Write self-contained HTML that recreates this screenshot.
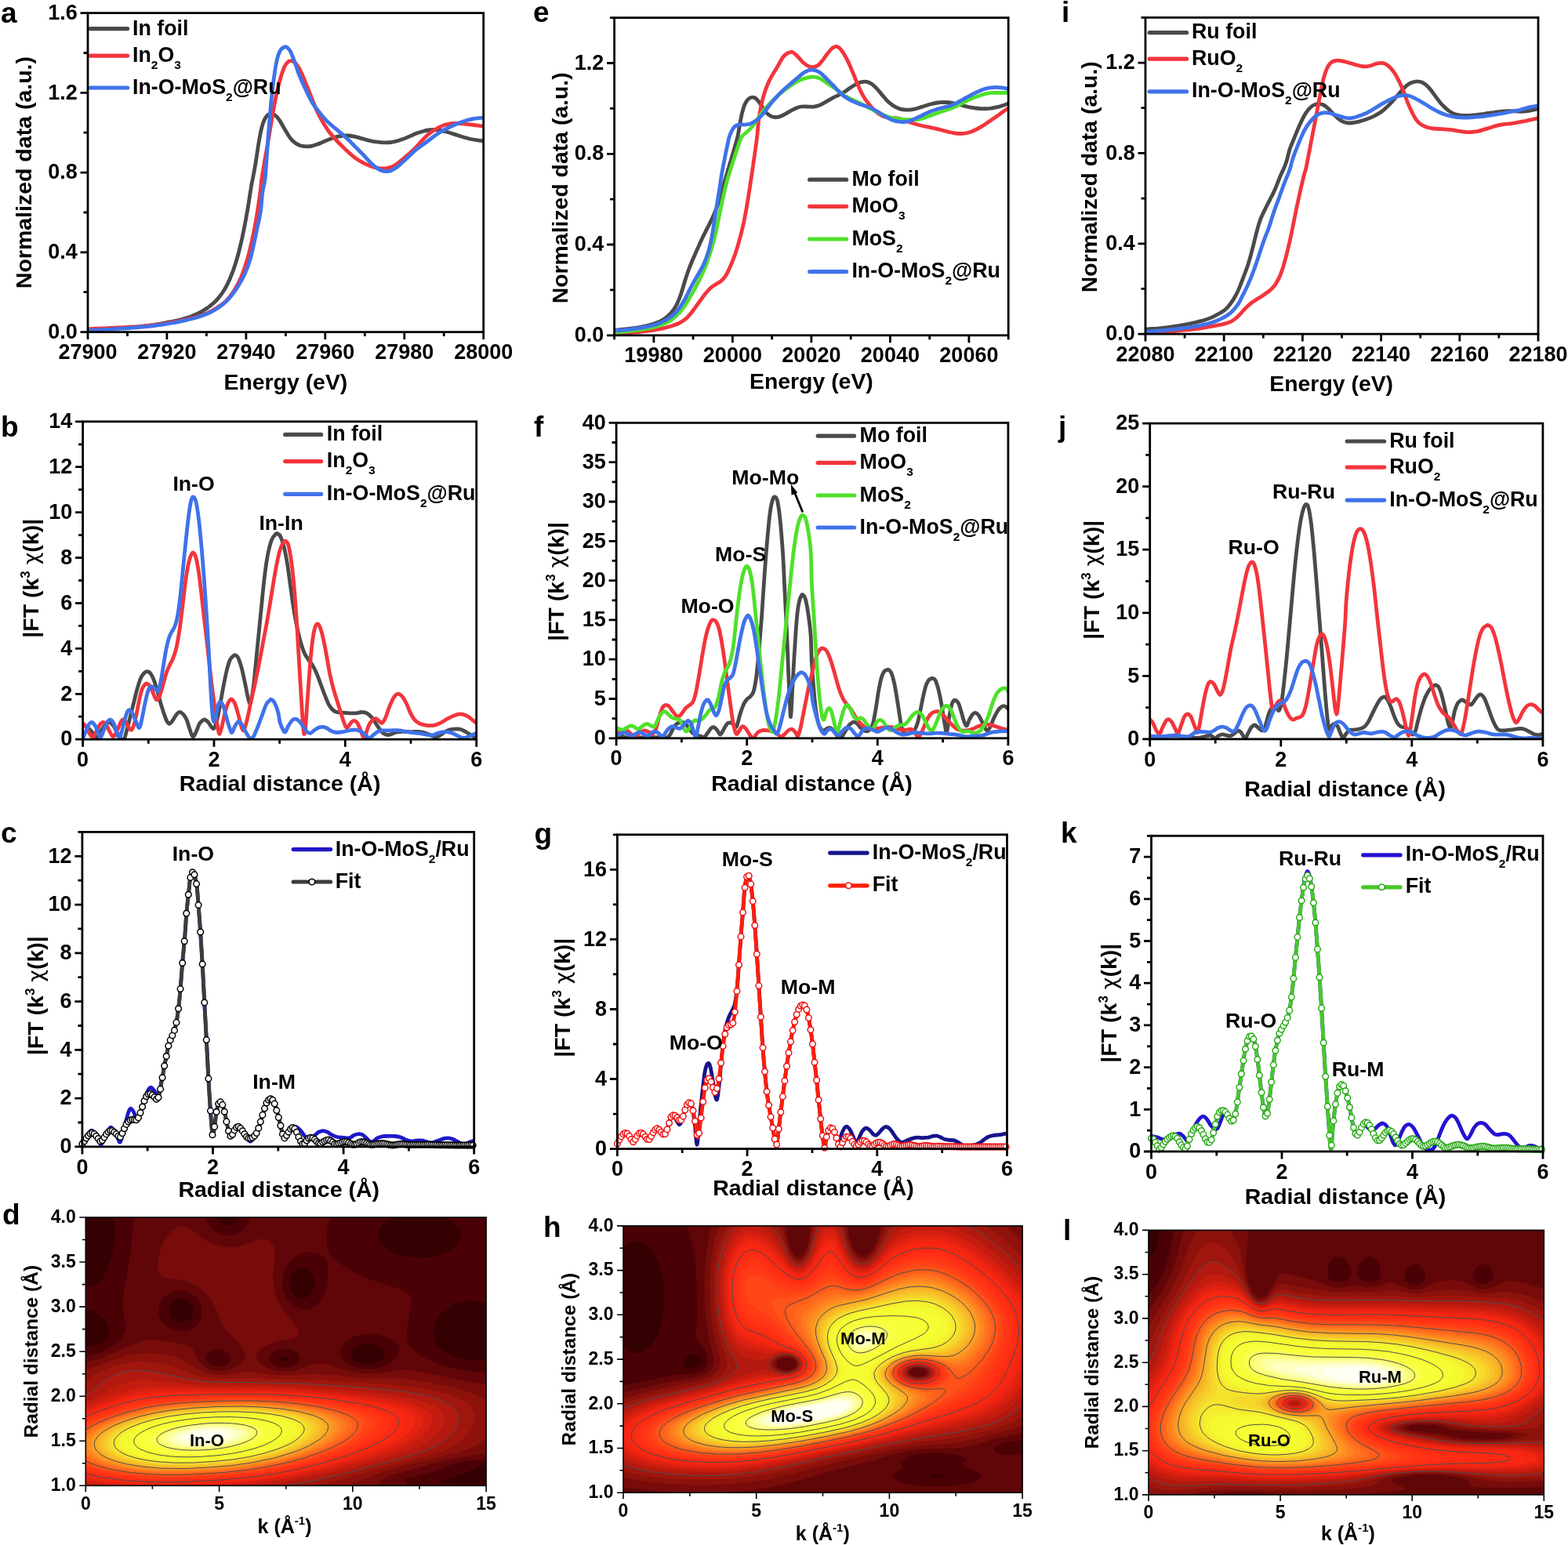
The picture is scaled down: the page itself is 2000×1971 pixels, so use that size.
<!DOCTYPE html>
<html lang="en">
<head>
<meta charset="utf-8">
<title>XANES / EXAFS / wavelet transform figure</title>
<style>
html,body{margin:0;padding:0;background:#fff}
body{width:2000px;height:1971px;overflow:hidden;font-family:"Liberation Sans",Arial,sans-serif}
svg{display:block}
</style>
</head>
<body>
<svg width="2000" height="1971" viewBox="0 0 2000 1971" font-family='Liberation Sans, sans-serif' font-weight="bold">
<rect width="2000" height="1971" fill="#fff"/>
<defs>
<clipPath id="ca"><rect x="112" y="16.6" width="504.7" height="407"/></clipPath>
<clipPath id="ce"><rect x="783.6" y="22.6" width="502.6" height="405.2"/></clipPath>
<clipPath id="ci"><rect x="1461" y="22.4" width="501" height="403.7"/></clipPath>
<clipPath id="cb"><rect x="105.6" y="537.8" width="502.1" height="405.4"/></clipPath>
<clipPath id="cf"><rect x="786.1" y="539.4" width="499.8" height="402.4"/></clipPath>
<clipPath id="cj"><rect x="1466.7" y="540.1" width="501.2" height="402.8"/></clipPath>
<clipPath id="cc"><rect x="104.9" y="1061.4" width="499.8" height="401.5"/></clipPath>
<clipPath id="cg"><rect x="787.4" y="1064.8" width="497.1" height="400.8"/></clipPath>
<clipPath id="ck"><rect x="1468.5" y="1066.3" width="499.5" height="402.7"/></clipPath>
<clipPath id="cd"><rect x="109.3" y="1553" width="510.8" height="342.3"/></clipPath>
<clipPath id="ch"><rect x="795" y="1563.9" width="509.1" height="340.3"/></clipPath>
<clipPath id="cl"><rect x="1465" y="1569.4" width="504.3" height="337.5"/></clipPath>
</defs>
<text x="1" y="28.5" font-size="37" text-anchor="start" font-weight="bold" fill="#000">a</text>
<text x="680" y="27.5" font-size="37" text-anchor="start" font-weight="bold" fill="#000">e</text>
<text x="1354" y="27.5" font-size="37" text-anchor="start" font-weight="bold" fill="#000">i</text>
<text x="1" y="556.6" font-size="37" text-anchor="start" font-weight="bold" fill="#000">b</text>
<text x="681" y="556.6" font-size="37" text-anchor="start" font-weight="bold" fill="#000">f</text>
<text x="1350" y="556.6" font-size="37" text-anchor="start" font-weight="bold" fill="#000">j</text>
<text x="1" y="1075" font-size="37" text-anchor="start" font-weight="bold" fill="#000">c</text>
<text x="681.5" y="1075.5" font-size="37" text-anchor="start" font-weight="bold" fill="#000">g</text>
<text x="1353" y="1075" font-size="37" text-anchor="start" font-weight="bold" fill="#000">k</text>
<text x="3" y="1562" font-size="37" text-anchor="start" font-weight="bold" fill="#000">d</text>
<text x="693" y="1578" font-size="37" text-anchor="start" font-weight="bold" fill="#000">h</text>
<text x="1356" y="1582" font-size="37" text-anchor="start" font-weight="bold" fill="#000">l</text>
<path d="M112.3 420.9C113.5 420.8 117 420.6 119.3 420.5C121.7 420.4 124 420.3 126.3 420.2C128.7 420 131 419.9 133.3 419.8C135.7 419.7 138 419.6 140.3 419.4C142.7 419.3 145 419.2 147.3 419.1C149.6 418.9 152 418.8 154.3 418.7C156.6 418.5 159 418.4 161.3 418.2C163.6 418.1 166 417.9 168.3 417.7C170.6 417.5 173 417.3 175.3 417.1C177.6 416.9 179.9 416.6 182.2 416.3C184.6 416 186.9 415.7 189.2 415.4C191.5 415.1 193.8 414.7 196.1 414.4C198.4 414 200.7 413.7 203 413.3C205.3 412.9 207.6 412.5 209.9 412C212.2 411.6 214.5 411.2 216.8 410.7C219.1 410.2 221.4 409.8 223.7 409.3C226 408.8 228.2 408.3 230.5 407.7C232.8 407.1 235 406.5 237.3 405.9C239.5 405.2 241.7 404.5 243.9 403.7C246.1 402.9 248.3 402 250.4 401C252.5 400 254.6 399 256.6 397.8C258.7 396.7 260.7 395.4 262.6 394.1C264.5 392.8 266.5 391.5 268.3 390C270.1 388.6 271.9 387.1 273.6 385.5C275.3 383.9 276.9 382.2 278.4 380.4C279.9 378.6 281.3 376.8 282.7 374.9C284 372.9 285.3 371 286.5 369C287.7 367 288.8 364.9 289.9 362.8C290.9 360.8 291.9 358.6 292.9 356.5C293.8 354.4 294.7 352.2 295.5 350C296.4 347.8 297.2 345.7 298 343.5C298.7 341.2 299.5 339 300.2 336.8C300.9 334.6 301.6 332.3 302.2 330.1C302.9 327.9 303.5 325.6 304.1 323.3C304.7 321.1 305.3 318.8 305.8 316.6C306.4 314.3 306.9 312 307.5 309.7C308 307.5 308.5 305.2 309 302.9C309.5 300.6 310 298.3 310.4 296C310.9 293.8 311.4 291.5 311.8 289.2C312.3 286.9 312.7 284.6 313.1 282.3C313.6 280 314 277.7 314.4 275.4C314.8 273.1 315.2 270.8 315.6 268.5C316 266.2 316.4 263.9 316.7 261.6C317.1 259.3 317.5 257 317.8 254.7C318.2 252.3 318.6 250 318.9 247.7C319.3 245.4 319.6 243.1 320 240.8C320.3 238.5 320.7 236.2 321.1 233.9C321.6 231.6 322.1 229.3 322.6 227C323 224.7 323.4 222.4 323.9 220.1C324.3 217.9 324.7 215.6 325.1 213.3C325.5 211 325.9 208.7 326.3 206.3C326.7 204 327 201.7 327.4 199.4C327.7 197.1 328 194.8 328.4 192.5C328.7 190.2 329.1 187.9 329.4 185.6C329.8 183.2 330.2 180.9 330.6 178.6C331 176.3 331.4 174 331.9 171.7C332.3 169.5 332.8 167.2 333.3 164.9C333.9 162.6 334.5 160.4 335.2 158.1C336 155.9 336.7 153.6 337.8 151.7C339 149.7 340.3 147.4 342 146.3C343.8 145.3 346.4 145 348.3 145.5C350.3 146.1 352.1 148.1 353.7 149.7C355.2 151.3 356.4 153.4 357.7 155.4C359 157.4 360.1 159.4 361.2 161.5C362.4 163.5 363.5 165.5 364.7 167.5C365.9 169.5 367.1 171.6 368.4 173.5C369.8 175.4 371.1 177.3 372.7 179C374.3 180.6 376.1 182.2 378.1 183.4C380 184.6 382.2 185.6 384.4 186.2C386.7 186.7 389.1 186.9 391.4 186.9C393.7 186.9 396 186.6 398.3 186.1C400.6 185.7 402.8 184.9 405 184.1C407.2 183.3 409.3 182.3 411.4 181.4C413.6 180.5 415.7 179.5 417.9 178.6C420 177.7 422.2 176.8 424.4 176C426.6 175.3 428.8 174.6 431.1 174.1C433.4 173.6 435.7 173.2 438 173C440.3 172.8 442.7 172.8 445 173C447.3 173.2 449.6 173.6 451.9 174.1C454.2 174.6 456.4 175.2 458.7 175.9C460.9 176.5 463.2 177.3 465.4 177.9C467.6 178.5 469.9 179.2 472.2 179.7C474.5 180.2 476.8 180.6 479.1 180.9C481.4 181.2 483.7 181.4 486 181.6C488.4 181.8 490.7 181.9 493 181.9C495.4 181.8 497.7 181.6 500 181.3C502.3 181 504.6 180.5 506.8 179.8C509.1 179.2 511.3 178.4 513.5 177.6C515.7 176.8 517.8 175.9 520 175C522.1 174.1 524.2 173.1 526.4 172.2C528.6 171.3 530.7 170.4 532.9 169.6C535.1 168.8 537.3 168.1 539.6 167.5C541.8 166.9 544.1 166.3 546.4 166C548.7 165.7 551.1 165.5 553.4 165.5C555.7 165.5 558.1 165.8 560.4 166.2C562.7 166.5 564.9 167 567.2 167.6C569.5 168.1 571.7 168.8 574 169.5C576.2 170.2 578.4 170.9 580.6 171.6C582.9 172.3 585.1 173 587.3 173.7C589.6 174.4 591.8 175.1 594 175.7C596.3 176.4 598.5 177 600.8 177.5C603.1 177.9 605.4 178.3 607.7 178.6C610 179 613.2 179.4 614.7 179.6C616.2 179.8 616.3 179.8 616.7 179.9" fill="none" stroke="#4a4a4a" stroke-width="4.8" stroke-linejoin="round" stroke-linecap="round" clip-path="url(#ca)"/>
<path d="M112.3 419.6C113.5 419.6 117 419.5 119.3 419.4C121.6 419.3 124 419.2 126.3 419.1C128.6 419 131 418.9 133.3 418.8C135.6 418.7 138 418.6 140.3 418.5C142.6 418.4 145 418.3 147.3 418.1C149.6 418 152 417.9 154.3 417.8C156.6 417.6 158.9 417.5 161.3 417.4C163.6 417.2 165.9 417.1 168.3 417C170.6 416.8 172.9 416.7 175.2 416.6C177.6 416.4 179.9 416.3 182.2 416.1C184.6 415.9 186.9 415.7 189.2 415.4C191.5 415.2 193.8 414.9 196.2 414.7C198.5 414.4 200.8 414.1 203.1 413.8C205.4 413.5 207.7 413.1 210 412.8C212.3 412.4 214.6 412 216.9 411.6C219.2 411.2 221.5 410.8 223.8 410.4C226.1 410 228.4 409.5 230.7 409C233 408.6 235.3 408.1 237.5 407.5C239.8 407 242.1 406.5 244.3 405.9C246.6 405.3 248.8 404.7 251.1 404C253.3 403.3 255.6 402.7 257.8 401.9C260 401.1 262.2 400.3 264.3 399.4C266.4 398.5 268.6 397.5 270.6 396.4C272.7 395.3 274.7 394.1 276.6 392.8C278.6 391.6 280.5 390.2 282.4 388.8C284.2 387.4 286.1 386 287.8 384.4C289.5 382.8 291.1 381.1 292.6 379.4C294.1 377.6 295.4 375.6 296.7 373.7C298 371.8 299.1 369.7 300.3 367.7C301.5 365.7 302.6 363.6 303.7 361.6C304.8 359.5 305.8 357.4 306.8 355.3C307.8 353.2 308.7 351 309.5 348.8C310.3 346.7 311.1 344.5 311.8 342.2C312.6 340 313.3 337.8 314 335.6C314.7 333.3 315.3 331.1 316 328.9C316.6 326.6 317.2 324.4 317.8 322.1C318.3 319.8 318.9 317.6 319.4 315.3C320 313 320.5 310.8 321 308.5C321.5 306.2 322 303.9 322.5 301.6C323 299.4 323.5 297.1 323.9 294.8C324.4 292.5 324.8 290.2 325.3 287.9C325.7 285.6 326.1 283.3 326.5 281C326.9 278.7 327.3 276.4 327.6 274.1C328 271.8 328.4 269.5 328.7 267.2C329.1 264.9 329.4 262.6 329.8 260.3C330.1 258 330.4 255.7 330.8 253.4C331.1 251 331.4 248.7 331.7 246.4C332 244.1 332.3 241.8 332.6 239.5C332.8 237.2 333 234.8 333.2 232.5C333.5 230.2 333.8 227.9 334.2 225.6C334.5 223.3 334.9 221 335.3 218.7C335.7 216.4 336.1 214.1 336.5 211.8C336.9 209.5 337.3 207.2 337.6 204.9C338 202.6 338.4 200.3 338.8 198C339.2 195.7 339.7 193.4 340.1 191.1C340.5 188.8 340.9 186.5 341.3 184.2C341.7 181.9 342.1 179.6 342.5 177.3C342.9 175 343.3 172.7 343.7 170.4C344.1 168.1 344.5 165.8 344.8 163.5C345.2 161.2 345.6 158.9 346 156.6C346.3 154.3 346.7 152 347.1 149.7C347.5 147.4 347.9 145.1 348.3 142.8C348.7 140.5 349.1 138.2 349.5 135.9C350 133.6 350.4 131.3 350.9 129C351.3 126.7 351.8 124.4 352.2 122.1C352.7 119.8 353.2 117.6 353.7 115.3C354.2 113 354.8 110.7 355.4 108.5C355.9 106.2 356.5 104 357.2 101.7C357.8 99.5 358.5 97.2 359.2 95C359.9 92.8 360.6 90.6 361.5 88.4C362.4 86.3 363.2 83.9 364.5 82.1C365.8 80.4 367.6 78.2 369.5 77.8C371.3 77.3 373.8 78.1 375.5 79.2C377.3 80.3 378.7 82.6 380 84.5C381.3 86.4 382.3 88.5 383.3 90.6C384.4 92.7 385.3 94.8 386.3 97C387.2 99.1 388.1 101.3 388.9 103.4C389.8 105.6 390.7 107.8 391.6 109.9C392.5 112.1 393.3 114.3 394.2 116.4C395 118.6 395.9 120.8 396.7 122.9C397.6 125.1 398.4 127.3 399.3 129.5C400.2 131.6 401 133.8 401.9 136C402.8 138.1 403.7 140.3 404.7 142.4C405.7 144.5 406.8 146.6 407.8 148.6C408.9 150.7 410 152.8 411.2 154.8C412.3 156.8 413.5 158.8 414.8 160.8C416 162.8 417.3 164.7 418.7 166.6C420 168.5 421.5 170.3 423 172.1C424.5 173.9 426 175.6 427.6 177.4C429.2 179.1 430.8 180.8 432.4 182.5C434 184.1 435.7 185.8 437.3 187.4C439 189.1 440.7 190.7 442.4 192.3C444.1 193.9 445.8 195.5 447.6 197C449.3 198.5 451.1 200 453 201.4C454.9 202.8 456.8 204.1 458.8 205.3C460.8 206.5 462.9 207.6 465 208.6C467 209.6 469.2 210.6 471.4 211.4C473.5 212.2 475.8 213 478 213.6C480.3 214.1 482.6 214.6 484.9 214.8C487.2 215 489.6 215.1 491.9 214.9C494.2 214.6 496.5 214.1 498.6 213.3C500.8 212.5 502.8 211.3 504.8 210.1C506.7 208.8 508.5 207.2 510.3 205.8C512.1 204.3 514 202.9 515.8 201.4C517.6 199.9 519.4 198.4 521.1 196.9C522.9 195.3 524.6 193.7 526.2 192.1C527.9 190.5 529.5 188.8 531.2 187.1C532.8 185.4 534.4 183.7 535.9 182C537.5 180.3 539 178.5 540.6 176.8C542.2 175.1 543.9 173.5 545.6 171.9C547.4 170.4 549.3 169 551.2 167.7C553.1 166.3 555.1 165.1 557.1 164C559.1 162.8 561.2 161.8 563.4 160.9C565.5 160 567.8 159.2 570 158.7C572.3 158.1 574.6 157.7 576.9 157.5C579.2 157.3 581.5 157.3 583.9 157.4C586.2 157.5 588.5 157.7 590.8 157.9C593.2 158.1 595.5 158.4 597.8 158.6C600.1 158.9 602.4 159.2 604.8 159.5C607.1 159.8 609.7 160.1 611.7 160.4C613.7 160.6 615.8 160.9 616.7 161" fill="none" stroke="#f2353c" stroke-width="4.8" stroke-linejoin="round" stroke-linecap="round" clip-path="url(#ca)"/>
<path d="M112.3 421.4C113.5 421.3 117 421.2 119.3 421.1C121.7 421 124 420.9 126.3 420.8C128.7 420.7 131 420.5 133.3 420.4C135.7 420.3 138 420.2 140.3 420.1C142.6 419.9 145 419.8 147.3 419.7C149.6 419.5 152 419.4 154.3 419.2C156.6 419.1 159 418.9 161.3 418.8C163.6 418.6 166 418.4 168.3 418.2C170.6 418.1 172.9 417.9 175.3 417.7C177.6 417.5 179.9 417.3 182.2 417C184.6 416.8 186.9 416.6 189.2 416.3C191.5 416.1 193.9 415.8 196.2 415.5C198.5 415.2 200.8 414.9 203.1 414.6C205.4 414.3 207.8 414 210.1 413.6C212.4 413.3 214.7 412.9 217 412.5C219.3 412.1 221.6 411.7 223.9 411.3C226.2 410.8 228.5 410.4 230.8 409.9C233 409.4 235.3 408.9 237.6 408.4C239.9 407.9 242.1 407.3 244.4 406.7C246.7 406.1 248.9 405.5 251.1 404.9C253.4 404.2 255.6 403.5 257.8 402.8C260 402 262.2 401.2 264.4 400.3C266.5 399.4 268.6 398.4 270.7 397.2C272.7 396.1 274.7 394.9 276.7 393.7C278.7 392.4 280.6 391.1 282.4 389.7C284.3 388.2 286.1 386.8 287.8 385.2C289.5 383.6 291.2 381.9 292.7 380.2C294.3 378.4 295.7 376.6 297.1 374.7C298.5 372.9 299.9 371 301.2 369C302.5 367.1 303.7 365.1 304.9 363.1C306.1 361.1 307.2 359 308.3 357C309.4 354.9 310.5 352.8 311.5 350.7C312.5 348.6 313.4 346.5 314.3 344.3C315.2 342.2 316.1 340 316.8 337.8C317.6 335.6 318.3 333.3 319 331.1C319.6 328.9 320.2 326.6 320.8 324.3C321.4 322.1 321.9 319.8 322.4 317.5C322.9 315.2 323.4 313 323.9 310.7C324.4 308.4 324.9 306.1 325.4 303.8C325.9 301.5 326.3 299.2 326.8 297C327.3 294.7 327.7 292.4 328.2 290.1C328.7 287.8 329.2 285.5 329.8 283.3C330.3 281 330.8 278.7 331.2 276.4C331.7 274.1 332.1 271.8 332.4 269.5C332.7 267.2 333 264.9 333.2 262.5C333.4 260.2 333.6 257.9 333.8 255.6C334 253.2 334.2 250.9 334.4 248.6C334.7 246.3 335 243.9 335.4 241.7C335.8 239.4 336.5 237.1 337 234.8C337.4 232.6 337.8 230.3 338.1 227.9C338.4 225.6 338.6 223.3 338.8 221C339 218.6 339.1 216.3 339.3 214C339.5 211.6 339.6 209.3 339.8 207C339.9 204.7 340.1 202.3 340.3 200C340.4 197.7 340.6 195.3 340.8 193C340.9 190.7 341.1 188.3 341.3 186C341.4 183.7 341.6 181.4 341.8 179C341.9 176.7 342.1 174.4 342.3 172C342.5 169.7 342.6 167.4 342.8 165.1C343 162.7 343.2 160.4 343.4 158.1C343.6 155.7 343.8 153.4 344 151.1C344.2 148.8 344.4 146.4 344.6 144.1C344.8 141.8 345 139.5 345.2 137.1C345.4 134.8 345.6 132.5 345.8 130.1C346.1 127.8 346.3 125.5 346.5 123.2C346.8 120.9 347 118.5 347.3 116.2C347.5 113.9 347.8 111.6 348.1 109.2C348.4 106.9 348.7 104.6 349 102.3C349.3 100 349.6 97.7 350 95.4C350.3 93.1 350.6 90.7 351 88.4C351.4 86.1 351.8 83.8 352.2 81.5C352.7 79.2 353.1 76.9 353.7 74.7C354.3 72.4 354.8 70.1 355.8 68C356.7 65.9 357.8 63.5 359.3 62.1C360.9 60.7 363.3 59.5 365 59.8C366.7 60.2 368.4 62.5 369.7 64.3C370.9 66.1 371.7 68.5 372.6 70.6C373.6 72.8 374.3 75 375.1 77.2C376 79.4 376.8 81.6 377.5 83.8C378.3 86 379 88.2 379.8 90.4C380.5 92.6 381.3 94.8 382.2 97C383 99.1 383.9 101.3 384.9 103.4C385.8 105.6 386.8 107.7 387.8 109.8C388.8 111.9 389.8 114 390.8 116.1C391.8 118.3 392.8 120.4 393.8 122.5C394.9 124.5 395.9 126.6 397.1 128.7C398.2 130.7 399.4 132.7 400.8 134.6C402.1 136.5 403.5 138.4 404.9 140.2C406.3 142.1 407.8 143.9 409.3 145.7C410.7 147.6 412.2 149.4 413.8 151.1C415.3 152.8 417 154.5 418.6 156.1C420.3 157.7 422.1 159.2 423.9 160.7C425.7 162.3 427.5 163.7 429.3 165.2C431.1 166.7 432.9 168.2 434.7 169.7C436.5 171.2 438.3 172.7 440 174.3C441.7 175.8 443.4 177.5 445.1 179.1C446.8 180.7 448.4 182.4 450 184C451.7 185.7 453.3 187.4 455 189C456.6 190.7 458.3 192.3 459.9 194C461.6 195.6 463.2 197.3 464.8 199C466.4 200.7 467.9 202.5 469.5 204.2C471.1 205.9 472.7 207.6 474.4 209.2C476.1 210.8 477.8 212.4 479.7 213.7C481.6 215 483.7 216.3 485.8 217.2C487.9 218 490.3 218.6 492.5 218.6C494.8 218.7 497.2 218.2 499.3 217.4C501.4 216.6 503.4 215.2 505.3 213.9C507.2 212.6 509 211 510.7 209.5C512.5 207.9 514.2 206.3 515.9 204.7C517.6 203.1 519.3 201.5 521 199.9C522.7 198.3 524.4 196.7 526.1 195.1C527.8 193.5 529.5 191.9 531.3 190.4C533.1 189 535 187.6 536.9 186.2C538.8 184.8 540.7 183.6 542.6 182.2C544.5 180.8 546.4 179.4 548.2 178C550.1 176.6 551.9 175.1 553.8 173.8C555.7 172.4 557.6 171 559.6 169.8C561.5 168.5 563.6 167.4 565.6 166.2C567.6 165.1 569.7 164 571.8 163C573.9 161.9 576 160.9 578.1 160C580.3 159 582.4 158.1 584.6 157.3C586.8 156.4 589 155.6 591.2 154.9C593.4 154.1 595.6 153.4 597.9 152.8C600.1 152.3 602.4 151.8 604.7 151.5C607 151.1 609.7 150.8 611.7 150.5C613.7 150.3 615.8 150 616.7 149.9" fill="none" stroke="#3f72ea" stroke-width="4.8" stroke-linejoin="round" stroke-linecap="round" clip-path="url(#ca)"/>
<path d="M115.2 36.6H162.6" stroke="#4a4a4a" stroke-width="5.2" stroke-linecap="round" fill="none"/>
<text x="169" y="44.6" font-size="26.8" text-anchor="start" font-weight="bold" fill="#000">In foil</text>
<path d="M115.2 71.1H162.6" stroke="#f2353c" stroke-width="5.2" stroke-linecap="round" fill="none"/>
<text x="169" y="78.8" font-size="26.8" text-anchor="start" font-weight="bold" fill="#000">In<tspan font-size="15.5" dy="9">2</tspan><tspan dy="-9" font-size="1">&#8203;</tspan>O<tspan font-size="15.5" dy="9">3</tspan><tspan dy="-9" font-size="1">&#8203;</tspan></text>
<path d="M115.2 112H162.6" stroke="#3f72ea" stroke-width="5.2" stroke-linecap="round" fill="none"/>
<text x="169" y="119.8" font-size="26.8" text-anchor="start" font-weight="bold" fill="#000">In-O-MoS<tspan font-size="15.5" dy="9">2</tspan><tspan dy="-9" font-size="1">&#8203;</tspan>@Ru</text>
<path d="M112 423.6v9.5M212.9 423.6v9.5M313.9 423.6v9.5M414.8 423.6v9.5M515.8 423.6v9.5M616.7 423.6v9.5M162.5 423.6v5.5M263.4 423.6v5.5M364.4 423.6v5.5M465.3 423.6v5.5M566.2 423.6v5.5M112 423.6h-9.5M112 321.9h-9.5M112 220.1h-9.5M112 118.3h-9.5M112 16.6h-9.5M112 372.7h-5.5M112 271h-5.5M112 169.2h-5.5M112 67.5h-5.5" stroke="#000" stroke-width="2.8" fill="none"/>
<rect x="112" y="16.6" width="504.7" height="407" fill="none" stroke="#000" stroke-width="2.8"/>
<text x="112" y="458.2" font-size="27" text-anchor="middle" font-weight="bold" fill="#000">27900</text>
<text x="212.9" y="458.2" font-size="27" text-anchor="middle" font-weight="bold" fill="#000">27920</text>
<text x="313.9" y="458.2" font-size="27" text-anchor="middle" font-weight="bold" fill="#000">27940</text>
<text x="414.8" y="458.2" font-size="27" text-anchor="middle" font-weight="bold" fill="#000">27960</text>
<text x="515.8" y="458.2" font-size="27" text-anchor="middle" font-weight="bold" fill="#000">27980</text>
<text x="616.7" y="458.2" font-size="27" text-anchor="middle" font-weight="bold" fill="#000">28000</text>
<text x="98.7" y="431.8" font-size="27" text-anchor="end" font-weight="bold" fill="#000">0.0</text>
<text x="98.7" y="330" font-size="27" text-anchor="end" font-weight="bold" fill="#000">0.4</text>
<text x="98.7" y="228.3" font-size="27" text-anchor="end" font-weight="bold" fill="#000">0.8</text>
<text x="98.7" y="126.5" font-size="27" text-anchor="end" font-weight="bold" fill="#000">1.2</text>
<text x="98.7" y="24.8" font-size="27" text-anchor="end" font-weight="bold" fill="#000">1.6</text>
<text x="364.4" y="497.2" font-size="28.4" text-anchor="middle" font-weight="bold" fill="#000">Energy (eV)</text>
<text transform="translate(40 220.1) rotate(-90)" font-size="28.5" text-anchor="middle" font-weight="bold">Normalized data (a.u.)</text>
<path d="M783.2 421.4C784.4 421.3 787.8 420.9 790.2 420.7C792.5 420.5 794.8 420.3 797.1 420C799.5 419.8 801.8 419.5 804.1 419.2C806.4 418.9 808.7 418.6 811 418.3C813.3 417.9 815.6 417.5 817.9 417.1C820.2 416.6 822.5 416.2 824.8 415.6C827.1 415.1 829.3 414.5 831.6 413.8C833.8 413.1 836 412.4 838.2 411.5C840.3 410.6 842.5 409.7 844.5 408.5C846.5 407.4 848.4 406 850.2 404.6C852 403.1 853.7 401.5 855.3 399.8C856.9 398.1 858.4 396.3 859.7 394.3C861 392.4 862.2 390.4 863.2 388.3C864.3 386.2 865.2 384.1 866.1 381.9C866.9 379.7 867.7 377.5 868.5 375.3C869.2 373.1 869.9 370.9 870.6 368.6C871.3 366.4 871.9 364.2 872.6 361.9C873.3 359.7 873.9 357.5 874.6 355.2C875.4 353 876.1 350.8 876.8 348.6C877.6 346.4 878.4 344.2 879.2 342C880 339.8 880.9 337.7 881.8 335.5C882.7 333.3 883.6 331.2 884.5 329C885.5 326.9 886.4 324.8 887.4 322.6C888.3 320.5 889.2 318.4 890.2 316.2C891.1 314.1 892.1 312 893 309.8C894 307.7 895 305.6 896 303.5C897 301.4 898 299.3 899.1 297.2C900.1 295.1 901.2 293 902.3 291C903.3 288.9 904.4 286.8 905.4 284.7C906.5 282.6 907.5 280.5 908.5 278.4C909.5 276.3 910.4 274.2 911.3 272C912.2 269.9 913.1 267.7 913.9 265.5C914.7 263.3 915.5 261.1 916.2 258.9C916.9 256.7 917.6 254.5 918.3 252.2C919 250 919.7 247.7 920.3 245.5C920.9 243.2 921.5 241 922.1 238.7C922.8 236.5 923.4 234.2 924.1 232C924.7 229.8 925.4 227.5 926.1 225.3C926.8 223.1 927.4 220.8 928.1 218.6C928.8 216.4 929.4 214.1 930.1 211.9C930.7 209.6 931.4 207.4 932.1 205.2C932.7 202.9 933.4 200.7 934 198.4C934.7 196.2 935.4 194 936 191.7C936.7 189.5 937.3 187.2 938 185C938.6 182.7 939.2 180.5 939.8 178.2C940.4 176 941.1 173.7 941.5 171.5C942 169.2 942.3 166.8 942.6 164.5C943 162.2 943.4 159.9 943.8 157.6C944.2 155.3 944.6 153 945.1 150.7C945.5 148.5 946 146.2 946.6 143.9C947.2 141.7 947.7 139.4 948.5 137.2C949.3 135 950.1 132.7 951.2 130.8C952.4 128.8 953.8 126.5 955.6 125.5C957.3 124.4 959.9 123.9 961.8 124.4C963.7 124.9 965.5 126.9 967 128.6C968.5 130.3 969.6 132.4 970.9 134.4C972.2 136.3 973.3 138.4 974.7 140.3C976.1 142.1 977.6 144.1 979.3 145.5C981 147 983.1 148.3 985.2 149C987.3 149.6 989.8 149.6 992 149.3C994.3 149 996.5 147.9 998.6 147C1000.7 146 1002.7 144.8 1004.7 143.6C1006.8 142.5 1008.7 141.2 1010.8 140.2C1012.9 139.1 1014.9 138 1017.1 137.2C1019.3 136.5 1021.6 136 1023.9 135.9C1026.2 135.7 1028.6 136 1030.9 136.1C1033.2 136.1 1035.6 136.5 1037.9 136.2C1040.2 135.9 1042.4 135.2 1044.6 134.4C1046.8 133.6 1048.8 132.5 1050.9 131.4C1053 130.3 1055 129.1 1057 127.9C1059 126.8 1061.1 125.5 1063.1 124.4C1065.1 123.4 1067 122.6 1069 121.7C1071 120.7 1072.9 119.7 1074.9 118.5C1076.8 117.4 1078.8 116 1080.7 114.7C1082.6 113.4 1084.5 111.9 1086.5 110.7C1088.4 109.4 1090.4 108.2 1092.5 107.2C1094.6 106.1 1096.8 105.1 1099 104.6C1101.2 104.2 1103.7 104 1105.8 104.4C1108 104.9 1110.2 106 1112.1 107.3C1114 108.5 1115.7 110.3 1117.3 111.9C1118.9 113.6 1120.4 115.4 1121.9 117.2C1123.4 118.9 1124.9 120.8 1126.4 122.5C1127.9 124.3 1129.4 126.1 1131 127.8C1132.6 129.5 1134.4 131 1136.2 132.5C1138 133.9 1139.9 135.3 1142 136.4C1144 137.5 1146.2 138.5 1148.4 139.1C1150.6 139.7 1153 140 1155.3 140.1C1157.6 140.3 1159.9 140.2 1162.2 139.9C1164.5 139.6 1166.8 139.1 1169.1 138.5C1171.3 137.9 1173.5 137.1 1175.8 136.4C1178 135.7 1180.2 134.9 1182.4 134.2C1184.7 133.6 1186.9 132.9 1189.2 132.3C1191.4 131.8 1193.7 131.3 1196 131C1198.3 130.7 1200.7 130.5 1203 130.4C1205.3 130.4 1207.7 130.5 1210 130.7C1212.3 130.9 1214.6 131.3 1216.9 131.8C1219.2 132.3 1221.4 132.9 1223.7 133.5C1225.9 134.1 1228.2 134.7 1230.5 135.3C1232.7 135.8 1235 136.3 1237.3 136.8C1239.6 137.2 1241.9 137.6 1244.2 138C1246.5 138.3 1248.8 138.5 1251.2 138.7C1253.5 138.8 1255.8 138.8 1258.2 138.7C1260.5 138.6 1262.8 138.4 1265.1 138C1267.4 137.7 1269.7 137.2 1272 136.6C1274.2 136.1 1276.5 135.5 1278.7 134.7C1280.9 134 1284 132.8 1285.3 132.3C1286.5 131.8 1286 132 1286.2 131.9" fill="none" stroke="#4a4a4a" stroke-width="4.8" stroke-linejoin="round" stroke-linecap="round" clip-path="url(#ce)"/>
<path d="M783.2 426.1C784.4 426 787.9 425.8 790.2 425.6C792.5 425.4 794.8 425.2 797.2 425C799.5 424.9 801.8 424.7 804.1 424.5C806.5 424.3 808.8 424.1 811.1 423.8C813.4 423.6 815.8 423.4 818.1 423.2C820.4 422.9 822.7 422.6 825.1 422.3C827.4 422 829.7 421.7 832 421.4C834.3 421 836.6 420.7 838.9 420.2C841.2 419.8 843.5 419.3 845.8 418.8C848 418.3 850.3 417.7 852.5 417C854.8 416.4 857 415.7 859.2 415C861.4 414.2 863.7 413.5 865.8 412.5C867.8 411.4 869.9 410.3 871.8 408.9C873.7 407.6 875.4 406 877.1 404.4C878.7 402.7 880.2 400.9 881.7 399.1C883.2 397.3 884.5 395.4 885.9 393.5C887.3 391.7 888.6 389.7 890 387.8C891.4 385.9 892.7 384 894.1 382.2C895.5 380.3 896.9 378.4 898.3 376.5C899.7 374.7 901.1 372.8 902.7 371.1C904.2 369.4 905.9 367.6 907.7 366.2C909.5 364.7 911.5 363.6 913.5 362.4C915.4 361.1 917.6 360.2 919.4 358.8C921.2 357.4 922.8 355.6 924.2 353.8C925.6 352 926.7 349.8 927.8 347.8C928.9 345.7 929.9 343.6 930.8 341.5C931.8 339.3 932.7 337.2 933.6 335C934.5 332.9 935.3 330.7 936.1 328.5C937 326.3 937.7 324.1 938.5 321.9C939.2 319.7 939.9 317.5 940.6 315.2C941.3 313 941.9 310.7 942.5 308.5C943.2 306.2 943.8 304 944.4 301.7C945 299.5 945.5 297.2 946.1 294.9C946.7 292.7 947.2 290.4 947.7 288.1C948.2 285.8 948.7 283.6 949.2 281.3C949.6 279 950.1 276.7 950.5 274.4C951 272.1 951.4 269.8 951.8 267.5C952.2 265.2 952.6 262.9 952.9 260.6C953.3 258.3 953.7 256 954.1 253.7C954.4 251.4 954.8 249.1 955.2 246.8C955.6 244.5 955.9 242.2 956.3 239.9C956.6 237.5 957 235.2 957.3 232.9C957.7 230.6 958 228.3 958.4 226C958.7 223.7 959 221.4 959.4 219.1C959.7 216.8 960 214.4 960.4 212.1C960.7 209.8 961 207.5 961.4 205.2C961.7 202.9 962 200.6 962.4 198.3C962.7 196 963 193.6 963.4 191.3C963.7 189 964 186.7 964.3 184.4C964.7 182.1 965 179.8 965.3 177.5C965.6 175.1 965.9 172.8 966.1 170.5C966.3 168.2 966.5 165.8 966.7 163.5C966.9 161.2 967.1 158.9 967.3 156.5C967.6 154.2 967.9 151.9 968.3 149.6C968.6 147.3 969 145 969.4 142.7C969.8 140.4 970.3 138.1 970.7 135.8C971.2 133.5 971.7 131.2 972.2 129C972.7 126.7 973.3 124.4 974 122.2C974.6 120 975.4 117.7 976.1 115.5C976.9 113.3 977.7 111.1 978.6 109C979.4 106.8 980.4 104.6 981.4 102.6C982.4 100.5 983.5 98.4 984.7 96.4C985.9 94.4 987.1 92.4 988.3 90.4C989.5 88.4 990.8 86.4 992 84.4C993.2 82.4 994.2 80.3 995.4 78.3C996.6 76.3 997.6 74.1 999.1 72.4C1000.5 70.7 1002.4 69 1004.4 68C1006.3 67 1008.7 66.1 1010.7 66.5C1012.6 67 1014.3 69 1016 70.5C1017.6 72.1 1019.1 74 1020.7 75.7C1022.3 77.4 1023.8 79.3 1025.5 80.7C1027.3 82.2 1029.2 83.8 1031.3 84.5C1033.4 85.3 1035.9 85.8 1038 85.5C1040.2 85.2 1042.4 84 1044.2 82.7C1046 81.3 1047.4 79.3 1048.8 77.5C1050.3 75.7 1051.5 73.7 1052.9 71.8C1054.3 69.9 1055.7 68 1057.2 66.2C1058.7 64.5 1060.2 62.3 1061.9 61.1C1063.7 60 1065.8 59 1067.6 59.4C1069.5 59.8 1071.4 62 1072.9 63.6C1074.4 65.3 1075.6 67.4 1076.8 69.4C1078 71.4 1079.1 73.5 1080.2 75.5C1081.2 77.6 1082.2 79.7 1083.2 81.8C1084.2 84 1085.1 86.1 1086 88.3C1086.9 90.4 1087.8 92.6 1088.7 94.7C1089.6 96.9 1090.4 99.1 1091.3 101.2C1092.2 103.4 1093.1 105.6 1094 107.7C1094.9 109.8 1095.9 112 1096.8 114.1C1097.8 116.2 1098.8 118.3 1099.9 120.4C1101.1 122.4 1102.2 124.4 1103.5 126.4C1104.8 128.3 1106.3 130.2 1107.7 132C1109.1 133.8 1110.6 135.7 1112.2 137.4C1113.7 139.1 1115.3 140.9 1117.1 142.4C1118.9 143.9 1120.8 145.3 1122.8 146.4C1124.8 147.6 1126.9 148.6 1129.1 149.3C1131.3 149.9 1133.7 150.1 1136 150.3C1138.3 150.6 1140.7 150.3 1143 150.6C1145.3 150.9 1147.5 151.5 1149.8 152.2C1152 152.8 1154.1 153.8 1156.3 154.6C1158.5 155.4 1160.7 156.2 1163 156.8C1165.2 157.5 1167.4 158.2 1169.7 158.8C1171.9 159.4 1174.2 159.9 1176.5 160.5C1178.8 161 1181 161.5 1183.3 161.9C1185.6 162.4 1187.9 162.8 1190.2 163.3C1192.5 163.8 1194.7 164.4 1197 164.9C1199.3 165.5 1201.5 166.1 1203.8 166.7C1206.1 167.3 1208.3 167.9 1210.6 168.5C1212.8 169 1215.1 169.5 1217.4 169.8C1219.7 170.2 1222.1 170.5 1224.4 170.5C1226.7 170.5 1229.1 170.4 1231.4 170C1233.6 169.6 1235.9 169 1238.1 168.3C1240.3 167.5 1242.4 166.5 1244.5 165.5C1246.6 164.5 1248.7 163.3 1250.7 162.1C1252.7 160.9 1254.6 159.7 1256.6 158.4C1258.6 157.1 1260.5 155.8 1262.4 154.5C1264.3 153.2 1266.3 151.8 1268.2 150.5C1270.1 149.2 1272 147.8 1273.9 146.5C1275.8 145.1 1277.7 143.8 1279.6 142.4C1281.5 141.1 1284.3 139.2 1285.4 138.4C1286.5 137.7 1286.1 138 1286.2 137.9" fill="none" stroke="#f2353c" stroke-width="4.8" stroke-linejoin="round" stroke-linecap="round" clip-path="url(#ce)"/>
<path d="M783.2 424.4C784.4 424.3 787.8 423.9 790.2 423.7C792.5 423.4 794.8 423.2 797.1 423C799.5 422.7 801.8 422.5 804.1 422.2C806.4 421.9 808.7 421.7 811.1 421.4C813.4 421.1 815.7 420.8 818 420.4C820.3 420.1 822.6 419.7 824.9 419.2C827.2 418.8 829.5 418.3 831.8 417.8C834 417.3 836.3 416.7 838.5 416.1C840.8 415.4 843 414.7 845.2 413.9C847.3 413 849.5 412 851.5 410.9C853.6 409.8 855.5 408.5 857.4 407.2C859.3 405.8 861.1 404.3 862.8 402.7C864.5 401.1 866.1 399.4 867.6 397.6C869.1 395.8 870.5 394 871.9 392.1C873.2 390.2 874.5 388.2 875.8 386.2C877 384.3 878.2 382.3 879.4 380.2C880.6 378.2 881.8 376.2 882.9 374.2C884.1 372.2 885.2 370.1 886.3 368.1C887.4 366 888.5 364 889.6 361.9C890.7 359.8 891.8 357.7 892.8 355.6C893.8 353.5 894.8 351.4 895.8 349.3C896.8 347.2 897.7 345.1 898.6 342.9C899.5 340.8 900.4 338.6 901.2 336.4C902 334.2 902.8 332 903.5 329.8C904.3 327.6 905 325.3 905.7 323.1C906.4 320.9 907 318.7 907.7 316.4C908.4 314.2 909 311.9 909.7 309.7C910.3 307.4 910.9 305.2 911.5 302.9C912 300.7 912.6 298.4 913.1 296.1C913.6 293.8 914.1 291.5 914.6 289.3C915 287 915.5 284.7 915.9 282.4C916.4 280.1 916.9 277.8 917.3 275.5C917.8 273.2 918.3 270.9 918.7 268.7C919.2 266.4 919.7 264.1 920.2 261.8C920.7 259.5 921.1 257.2 921.6 255C922.1 252.7 922.6 250.4 923.2 248.1C923.7 245.8 924.2 243.6 924.7 241.3C925.2 239 925.8 236.7 926.4 234.5C927 232.2 927.5 230 928.2 227.7C928.8 225.5 929.5 223.2 930.2 221C930.9 218.8 931.7 216.6 932.4 214.3C933.1 212.1 933.8 209.9 934.5 207.7C935.2 205.4 935.9 203.2 936.7 201C937.4 198.8 938.1 196.5 938.8 194.3C939.5 192.1 940.3 189.9 941 187.7C941.8 185.5 942.5 183.2 943.3 181.1C944.1 178.9 944.8 176.5 946 174.6C947.2 172.8 949 171.5 950.7 170C952.3 168.5 954.2 167.1 955.9 165.4C957.5 163.8 959 162 960.5 160.2C961.9 158.3 963.3 156.4 964.6 154.5C966 152.6 967.2 150.6 968.5 148.7C969.8 146.8 971.1 144.8 972.5 142.9C973.9 141.1 975.4 139.3 976.9 137.5C978.5 135.8 980.1 134.1 981.7 132.4C983.3 130.7 984.9 129 986.6 127.4C988.2 125.7 990 124.1 991.7 122.6C993.4 121 995.2 119.5 997 118C998.8 116.5 1000.6 115 1002.4 113.6C1004.3 112.2 1006.2 110.8 1008.1 109.5C1010 108.1 1011.9 106.8 1013.9 105.6C1015.9 104.4 1018 103.3 1020.1 102.3C1022.2 101.4 1024.4 100.6 1026.7 99.9C1028.9 99.3 1031.2 98.7 1033.5 98.4C1035.8 98.2 1038.2 98 1040.4 98.4C1042.7 98.8 1044.9 99.7 1046.9 100.7C1049 101.8 1050.9 103.2 1052.8 104.5C1054.8 105.8 1056.6 107.2 1058.5 108.6C1060.5 109.9 1062.5 111 1064.4 112.3C1066.4 113.6 1068.3 114.9 1070.1 116.3C1072 117.7 1073.5 119.6 1075.4 120.9C1077.3 122.2 1079.4 123.2 1081.5 124.3C1083.6 125.4 1085.7 126.3 1087.8 127.3C1089.9 128.4 1092 129.4 1094.1 130.5C1096.1 131.5 1098.2 132.6 1100.3 133.6C1102.4 134.7 1104.5 135.7 1106.6 136.7C1108.7 137.8 1110.8 138.8 1112.9 139.9C1114.9 140.9 1117 142 1119.1 143C1121.2 144.1 1123.3 145.1 1125.4 146C1127.6 147 1129.7 147.9 1131.9 148.7C1134.1 149.4 1136.4 150 1138.7 150.5C1141 151 1143.3 151.3 1145.6 151.6C1147.9 151.9 1150.2 152.1 1152.6 152.3C1154.9 152.5 1157.2 152.6 1159.5 152.7C1161.9 152.8 1164.2 153 1166.5 152.8C1168.9 152.7 1171.2 152.4 1173.5 151.9C1175.7 151.4 1178 150.7 1180.2 149.9C1182.4 149.2 1184.6 148.3 1186.7 147.5C1188.9 146.7 1191.1 145.8 1193.3 145C1195.5 144.2 1197.7 143.4 1199.9 142.7C1202.1 141.9 1204.3 141.3 1206.6 140.6C1208.8 139.8 1211 139.1 1213.2 138.2C1215.3 137.4 1217.5 136.5 1219.6 135.5C1221.7 134.5 1223.8 133.4 1225.9 132.3C1227.9 131.3 1230 130.2 1232.1 129.1C1234.2 128.1 1236.3 127.1 1238.4 126.1C1240.6 125.2 1242.7 124.4 1244.9 123.5C1247.1 122.7 1249.3 121.9 1251.5 121.2C1253.8 120.5 1256 119.8 1258.3 119.3C1260.6 118.9 1262.9 118.6 1265.2 118.4C1267.5 118.2 1269.9 118.4 1272.2 118.4C1274.5 118.4 1276.9 118.5 1279.2 118.5C1281.5 118.5 1285 118.3 1286.2 118.2" fill="none" stroke="#4fe02a" stroke-width="4.8" stroke-linejoin="round" stroke-linecap="round" clip-path="url(#ce)"/>
<path d="M783.2 422.1C784.4 422 787.9 421.7 790.2 421.5C792.5 421.2 794.8 421 797.2 420.8C799.5 420.6 801.8 420.4 804.1 420.1C806.5 419.8 808.8 419.5 811.1 419.2C813.4 418.9 815.7 418.6 818 418.2C820.3 417.8 822.6 417.4 824.9 416.9C827.2 416.4 829.5 415.9 831.7 415.3C834 414.7 836.2 414 838.4 413.3C840.6 412.5 842.8 411.6 844.9 410.6C847 409.6 849.1 408.5 851.1 407.3C853 406.1 855 404.7 856.8 403.3C858.6 401.8 860.3 400.2 861.9 398.5C863.5 396.8 865 395 866.4 393.1C867.8 391.3 869.1 389.3 870.3 387.3C871.6 385.4 872.7 383.3 873.8 381.3C874.9 379.2 875.9 377.1 877 375C878 372.9 879 370.8 880.1 368.7C881.2 366.7 882.3 364.6 883.4 362.5C884.5 360.5 885.7 358.5 886.8 356.4C888 354.4 889.1 352.4 890.3 350.3C891.4 348.3 892.7 346.3 893.8 344.3C895 342.3 896.1 340.2 897.1 338.1C898.1 336 899 333.8 899.8 331.7C900.7 329.5 901.5 327.3 902.2 325.1C903 322.9 903.6 320.6 904.3 318.4C904.9 316.1 905.4 313.8 906 311.6C906.5 309.3 907 307 907.4 304.7C907.9 302.4 908.3 300.1 908.7 297.8C909.1 295.5 909.4 293.2 909.8 290.9C910.1 288.6 910.5 286.3 910.9 284C911.2 281.7 911.6 279.4 911.9 277C912.3 274.7 912.6 272.4 913 270.1C913.3 267.8 913.7 265.5 914.1 263.2C914.4 260.9 914.8 258.6 915.2 256.3C915.6 254 916 251.7 916.4 249.4C916.7 247.1 917.1 244.7 917.5 242.4C917.9 240.1 918.2 237.8 918.6 235.5C918.9 233.2 919.2 230.9 919.5 228.6C919.9 226.3 920.2 224 920.6 221.7C921 219.3 921.5 217.1 921.9 214.8C922.3 212.5 922.8 210.2 923.2 207.9C923.7 205.6 924.1 203.3 924.6 201C925 198.7 925.5 196.4 925.9 194.1C926.4 191.8 926.9 189.5 927.4 187.3C927.8 185 928.3 182.7 928.8 180.4C929.3 178.1 929.7 175.8 930.5 173.6C931.2 171.5 932.2 169.4 933.2 167.4C934.3 165.4 935.3 163 936.9 161.6C938.5 160.2 940.8 159.4 943 158.9C945.1 158.5 947.6 159.3 949.9 159.1C952.2 159 954.6 158.7 956.7 158C958.9 157.2 961 156.1 962.9 154.8C964.9 153.5 966.6 152 968.3 150.4C970 148.8 971.6 147 973.1 145.3C974.6 143.5 976 141.6 977.4 139.8C978.9 137.9 980.2 136 981.6 134.1C983.1 132.3 984.5 130.5 986 128.7C987.6 126.9 989.1 125.2 990.7 123.5C992.3 121.7 993.9 120 995.5 118.4C997.2 116.7 998.9 115.1 1000.6 113.5C1002.3 112 1004.1 110.5 1005.9 109C1007.7 107.4 1009.5 105.9 1011.2 104.4C1013 102.9 1014.8 101.4 1016.6 99.9C1018.3 98.3 1020.1 96.8 1021.9 95.3C1023.8 93.9 1025.6 92.4 1027.7 91.4C1029.7 90.4 1032 89.4 1034.2 89.2C1036.4 89 1038.8 89.4 1041 90.1C1043.1 90.8 1045.2 92.2 1047 93.5C1048.9 94.9 1050.5 96.6 1052.2 98.3C1053.8 99.9 1055.4 101.6 1057.1 103.3C1058.7 104.9 1060.4 106.5 1062 108.2C1063.7 109.9 1065.3 111.6 1066.8 113.3C1068.4 115 1069.9 116.8 1071.6 118.4C1073.3 120.1 1075.1 121.6 1076.9 123C1078.8 124.3 1080.8 125.6 1082.8 126.7C1084.9 127.9 1087 128.9 1089.1 129.9C1091.2 130.8 1093.4 131.7 1095.6 132.5C1097.8 133.4 1100 134.1 1102.2 134.8C1104.4 135.5 1106.7 136 1108.9 136.9C1111 137.8 1113.1 138.9 1115.1 140C1117.2 141.1 1119.1 142.4 1121.1 143.6C1123.1 144.9 1125.1 146.2 1127.1 147.4C1129.1 148.6 1131.1 149.7 1133.2 150.8C1135.3 151.8 1137.4 152.9 1139.6 153.6C1141.8 154.3 1144.1 154.9 1146.4 155.2C1148.7 155.5 1151 155.7 1153.3 155.5C1155.6 155.4 1158 154.8 1160.2 154.2C1162.4 153.5 1164.6 152.6 1166.7 151.6C1168.8 150.7 1170.9 149.6 1173 148.6C1175.1 147.6 1177.2 146.5 1179.3 145.5C1181.4 144.5 1183.5 143.5 1185.7 142.6C1187.8 141.7 1190 140.9 1192.3 140.2C1194.5 139.5 1196.7 138.9 1199 138.2C1201.2 137.6 1203.5 137.1 1205.8 136.5C1208 135.9 1210.3 135.4 1212.5 134.7C1214.7 133.9 1216.9 133.1 1219 132.1C1221.1 131.1 1223.1 129.8 1225.1 128.6C1227.2 127.5 1229.2 126.3 1231.2 125.2C1233.3 124 1235.3 122.9 1237.4 121.8C1239.4 120.7 1241.5 119.6 1243.6 118.6C1245.7 117.6 1247.8 116.5 1250 115.7C1252.1 114.8 1254.3 113.9 1256.5 113.2C1258.8 112.6 1261.1 112.1 1263.4 111.8C1265.7 111.5 1268 111.4 1270.4 111.4C1272.7 111.4 1275 111.5 1277.3 111.8C1279.6 112.1 1282.8 112.8 1284.2 113C1285.7 113.3 1285.9 113.4 1286.2 113.5" fill="none" stroke="#3f72ea" stroke-width="4.8" stroke-linejoin="round" stroke-linecap="round" clip-path="url(#ce)"/>
<path d="M1032.7 229.2H1079.6" stroke="#4a4a4a" stroke-width="5.2" stroke-linecap="round" fill="none"/>
<text x="1086.4" y="237" font-size="26.8" text-anchor="start" font-weight="bold" fill="#000">Mo foil</text>
<path d="M1032.7 263.3H1079.6" stroke="#f2353c" stroke-width="5.2" stroke-linecap="round" fill="none"/>
<text x="1086.4" y="271.1" font-size="26.8" text-anchor="start" font-weight="bold" fill="#000">MoO<tspan font-size="15.5" dy="9">3</tspan><tspan dy="-9" font-size="1">&#8203;</tspan></text>
<path d="M1032.7 305H1079.6" stroke="#4fe02a" stroke-width="5.2" stroke-linecap="round" fill="none"/>
<text x="1086.4" y="312.8" font-size="26.8" text-anchor="start" font-weight="bold" fill="#000">MoS<tspan font-size="15.5" dy="9">2</tspan><tspan dy="-9" font-size="1">&#8203;</tspan></text>
<path d="M1032.7 346.6H1079.6" stroke="#3f72ea" stroke-width="5.2" stroke-linecap="round" fill="none"/>
<text x="1086.4" y="353.8" font-size="26.8" text-anchor="start" font-weight="bold" fill="#000">In-O-MoS<tspan font-size="15.5" dy="9">2</tspan><tspan dy="-9" font-size="1">&#8203;</tspan>@Ru</text>
<path d="M833.9 427.8v9.5M934.4 427.8v9.5M1034.9 427.8v9.5M1135.4 427.8v9.5M1235.9 427.8v9.5M783.6 427.8v5.5M884.1 427.8v5.5M984.6 427.8v5.5M1085.2 427.8v5.5M1185.7 427.8v5.5M1286.2 427.8v5.5M783.6 427.8h-9.5M783.6 312h-9.5M783.6 196.3h-9.5M783.6 80.5h-9.5M783.6 369.9h-5.5M783.6 254.1h-5.5M783.6 138.4h-5.5M783.6 22.6h-5.5" stroke="#000" stroke-width="2.8" fill="none"/>
<rect x="783.6" y="22.6" width="502.6" height="405.2" fill="none" stroke="#000" stroke-width="2.8"/>
<text x="833.9" y="462.4" font-size="27" text-anchor="middle" font-weight="bold" fill="#000">19980</text>
<text x="934.4" y="462.4" font-size="27" text-anchor="middle" font-weight="bold" fill="#000">20000</text>
<text x="1034.9" y="462.4" font-size="27" text-anchor="middle" font-weight="bold" fill="#000">20020</text>
<text x="1135.4" y="462.4" font-size="27" text-anchor="middle" font-weight="bold" fill="#000">20040</text>
<text x="1235.9" y="462.4" font-size="27" text-anchor="middle" font-weight="bold" fill="#000">20060</text>
<text x="770.3" y="436" font-size="27" text-anchor="end" font-weight="bold" fill="#000">0.0</text>
<text x="770.3" y="320.2" font-size="27" text-anchor="end" font-weight="bold" fill="#000">0.4</text>
<text x="770.3" y="204.4" font-size="27" text-anchor="end" font-weight="bold" fill="#000">0.8</text>
<text x="770.3" y="88.7" font-size="27" text-anchor="end" font-weight="bold" fill="#000">1.2</text>
<text x="1034.9" y="495.6" font-size="28.4" text-anchor="middle" font-weight="bold" fill="#000">Energy (eV)</text>
<text transform="translate(723.6 239.8) rotate(-90)" font-size="28.4" text-anchor="middle" font-weight="bold">Normalized data (a.u.)</text>
<path d="M1461.4 420C1462.6 419.9 1466.1 419.7 1468.4 419.5C1470.8 419.4 1473.1 419.2 1475.4 419.1C1477.7 418.9 1480.1 418.7 1482.4 418.5C1484.7 418.3 1487 418 1489.3 417.7C1491.7 417.4 1494 417.1 1496.3 416.7C1498.6 416.3 1500.9 416 1503.2 415.6C1505.5 415.2 1507.8 414.8 1510.1 414.3C1512.4 413.9 1514.7 413.5 1516.9 413C1519.2 412.5 1521.5 412.1 1523.8 411.6C1526.1 411 1528.3 410.5 1530.6 409.9C1532.9 409.3 1535.1 408.7 1537.3 408C1539.5 407.3 1541.7 406.5 1543.9 405.6C1546 404.7 1548.1 403.6 1550.2 402.6C1552.3 401.5 1554.4 400.5 1556.4 399.3C1558.4 398.1 1560.4 397 1562.2 395.5C1564 394 1565.6 392.3 1567.1 390.5C1568.6 388.7 1570 386.8 1571.3 384.9C1572.6 383 1573.9 381 1575 379C1576.2 377 1577.3 374.9 1578.3 372.8C1579.3 370.7 1580.2 368.5 1581.1 366.4C1582 364.2 1582.8 362 1583.6 359.9C1584.4 357.7 1585.3 355.5 1586.1 353.3C1586.9 351.1 1587.8 349 1588.6 346.8C1589.4 344.6 1590.2 342.4 1591 340.2C1591.7 338 1592.5 335.8 1593.1 333.5C1593.8 331.3 1594.4 329.1 1595.1 326.8C1595.7 324.6 1596.2 322.3 1596.8 320C1597.4 317.8 1598 315.5 1598.6 313.3C1599.1 311 1599.7 308.7 1600.2 306.5C1600.8 304.2 1601.4 301.9 1601.9 299.7C1602.5 297.4 1603.1 295.1 1603.7 292.9C1604.3 290.6 1604.9 288.4 1605.6 286.1C1606.3 283.9 1607 281.7 1607.8 279.5C1608.7 277.4 1609.7 275.2 1610.6 273.1C1611.6 271 1612.6 268.9 1613.7 266.8C1614.7 264.7 1615.7 262.6 1616.8 260.5C1617.9 258.5 1618.9 256.4 1620 254.3C1621 252.2 1622.1 250.2 1623.2 248.1C1624.2 246 1625.2 243.9 1626.2 241.8C1627.1 239.6 1628 237.4 1628.8 235.3C1629.7 233.1 1630.5 230.9 1631.4 228.8C1632.2 226.6 1633.1 224.4 1634.1 222.3C1635 220.2 1636.1 218.1 1637 216C1638 213.8 1638.9 211.7 1639.7 209.5C1640.5 207.3 1641.2 205.1 1641.8 202.8C1642.4 200.6 1642.9 198.3 1643.5 196C1644.1 193.8 1644.7 191.5 1645.4 189.3C1646.2 187.1 1647.2 185 1648 182.8C1648.9 180.7 1649.8 178.5 1650.7 176.3C1651.6 174.2 1652.4 172 1653.3 169.8C1654.2 167.7 1655.1 165.5 1656 163.4C1656.9 161.3 1657.9 159.1 1658.9 157C1659.9 154.9 1660.9 152.8 1661.9 150.7C1663 148.6 1664.1 146.6 1665.4 144.6C1666.6 142.7 1668 140.7 1669.5 139C1671.1 137.3 1672.8 135.6 1674.8 134.5C1676.8 133.4 1679.1 132.4 1681.3 132.3C1683.5 132.2 1685.8 132.8 1687.9 133.7C1689.9 134.6 1691.8 136.3 1693.5 137.8C1695.3 139.3 1696.8 141.1 1698.4 142.8C1700 144.5 1701.5 146.3 1703.2 147.9C1704.8 149.5 1706.5 151.2 1708.4 152.5C1710.3 153.8 1712.3 155.1 1714.5 155.8C1716.7 156.5 1719 156.9 1721.3 157C1723.6 157 1726 156.6 1728.3 156.2C1730.5 155.8 1732.8 155.2 1735 154.6C1737.3 153.9 1739.5 153.3 1741.7 152.5C1744 151.8 1746.2 151 1748.3 150.1C1750.4 149.2 1752.6 148.2 1754.6 147C1756.7 145.9 1758.7 144.8 1760.6 143.5C1762.5 142.1 1764.4 140.7 1766.1 139.2C1767.9 137.7 1769.6 136 1771.2 134.4C1772.8 132.7 1774.4 131 1776 129.3C1777.6 127.5 1779.1 125.7 1780.6 124C1782.1 122.2 1783.6 120.4 1785.2 118.7C1786.7 116.9 1788.3 115.2 1789.9 113.5C1791.5 111.8 1793 109.9 1794.8 108.6C1796.7 107.2 1798.7 106.1 1800.9 105.3C1803 104.5 1805.4 103.9 1807.7 103.9C1809.9 103.9 1812.3 104.3 1814.3 105.2C1816.4 106.1 1818.2 107.7 1820 109.3C1821.7 110.8 1823.2 112.6 1824.7 114.4C1826.2 116.2 1827.5 118.1 1828.9 120C1830.3 121.9 1831.6 123.8 1833 125.6C1834.4 127.5 1835.8 129.4 1837.3 131.2C1838.8 133 1840.4 134.7 1842.1 136.3C1843.7 137.9 1845.5 139.5 1847.3 140.9C1849.2 142.3 1851.1 143.7 1853.2 144.6C1855.3 145.6 1857.6 146.2 1859.8 146.6C1862.1 147.1 1864.5 147.2 1866.8 147.4C1869.1 147.5 1871.5 147.5 1873.8 147.4C1876.1 147.3 1878.4 147.1 1880.8 146.9C1883.1 146.6 1885.4 146.3 1887.7 146C1890 145.7 1892.3 145.4 1894.6 145C1897 144.7 1899.3 144.3 1901.6 144C1903.9 143.7 1906.2 143.3 1908.5 143C1910.8 142.7 1913.1 142.5 1915.5 142.2C1917.8 142 1920.1 141.7 1922.4 141.6C1924.8 141.5 1927.1 141.5 1929.4 141.6C1931.7 141.7 1934.1 142.1 1936.4 142.2C1938.7 142.3 1941.1 142.4 1943.4 142.2C1945.7 142.1 1948 141.8 1950.3 141.4C1952.6 141 1955.2 140.4 1957.2 140C1959.1 139.6 1961.2 139 1962 138.8" fill="none" stroke="#4a4a4a" stroke-width="4.8" stroke-linejoin="round" stroke-linecap="round" clip-path="url(#ci)"/>
<path d="M1461.4 423.5C1462.6 423.5 1466.1 423.6 1468.4 423.6C1470.8 423.6 1473.1 423.6 1475.4 423.6C1477.8 423.6 1480.1 423.6 1482.4 423.6C1484.8 423.5 1487.1 423.4 1489.4 423.2C1491.8 423.1 1494.1 422.8 1496.4 422.6C1498.7 422.4 1501 422.1 1503.4 421.9C1505.7 421.6 1508 421.4 1510.3 421.2C1512.7 420.9 1515 420.7 1517.3 420.5C1519.6 420.2 1521.9 420 1524.3 419.7C1526.6 419.4 1528.9 419.1 1531.2 418.8C1533.5 418.5 1535.8 418.1 1538.1 417.7C1540.4 417.3 1542.7 416.9 1545 416.4C1547.3 416 1549.6 415.6 1551.9 415.2C1554.2 414.8 1556.5 414.4 1558.8 413.9C1561 413.3 1563.3 412.8 1565.5 412C1567.7 411.2 1569.9 410.4 1571.9 409.2C1573.9 408 1575.7 406.5 1577.5 405C1579.2 403.5 1580.8 401.8 1582.4 400.1C1584 398.4 1585.5 396.6 1587.1 394.9C1588.7 393.2 1590.3 391.5 1592 389.9C1593.7 388.3 1595.6 386.9 1597.4 385.5C1599.3 384.1 1601.3 382.9 1603.3 381.6C1605.2 380.4 1607.3 379.3 1609.3 378C1611.2 376.7 1613.1 375.4 1615 374C1616.9 372.7 1618.9 371.3 1620.6 369.8C1622.3 368.2 1623.9 366.5 1625.3 364.7C1626.8 362.9 1628 360.9 1629.1 358.8C1630.3 356.8 1631.3 354.7 1632.3 352.6C1633.2 350.5 1634 348.3 1634.8 346.1C1635.6 343.9 1636.3 341.6 1637 339.4C1637.6 337.2 1638.3 334.9 1638.9 332.7C1639.5 330.4 1640.1 328.2 1640.7 325.9C1641.3 323.7 1641.8 321.4 1642.4 319.1C1642.9 316.9 1643.5 314.6 1644 312.3C1644.6 310 1645.1 307.8 1645.6 305.5C1646.1 303.2 1646.6 300.9 1647.1 298.6C1647.6 296.4 1648 294.1 1648.5 291.8C1649 289.5 1649.4 287.2 1649.8 284.9C1650.3 282.6 1650.7 280.3 1651.2 278.1C1651.7 275.8 1652.1 273.5 1652.6 271.2C1653.1 268.9 1653.5 266.6 1654 264.3C1654.5 262.1 1655 259.8 1655.5 257.5C1656 255.2 1656.5 252.9 1657 250.6C1657.5 248.4 1658 246.1 1658.5 243.8C1659 241.5 1659.5 239.3 1660 237C1660.6 234.7 1661.1 232.4 1661.6 230.2C1662.2 227.9 1662.7 225.6 1663.3 223.4C1663.9 221.1 1664.7 218.9 1665.3 216.7C1665.9 214.4 1666.4 212.1 1666.8 209.8C1667.3 207.6 1667.7 205.3 1668.1 203C1668.6 200.7 1669 198.4 1669.5 196.1C1669.9 193.8 1670.3 191.5 1670.8 189.2C1671.2 186.9 1671.7 184.6 1672.1 182.3C1672.5 180 1673 177.8 1673.4 175.5C1673.9 173.2 1674.3 170.9 1674.7 168.6C1675.2 166.3 1675.6 164 1676.1 161.7C1676.5 159.4 1677 157.1 1677.4 154.8C1677.8 152.5 1678.3 150.3 1678.7 148C1679.2 145.7 1679.6 143.4 1680 141.1C1680.5 138.8 1680.9 136.5 1681.4 134.2C1681.8 131.9 1682.2 129.6 1682.7 127.3C1683.1 125 1683.6 122.8 1684 120.5C1684.4 118.2 1684.8 115.9 1685.3 113.6C1685.7 111.3 1686.2 109 1686.7 106.7C1687.2 104.4 1687.7 102.2 1688.3 99.9C1688.9 97.7 1689.6 95.4 1690.3 93.2C1691.1 91 1691.8 88.7 1692.9 86.7C1693.9 84.6 1694.9 82.4 1696.5 80.9C1698.1 79.3 1700.3 78.2 1702.4 77.6C1704.6 77 1707 77.1 1709.3 77.3C1711.6 77.5 1713.9 78.2 1716.1 78.8C1718.4 79.4 1720.6 80.1 1722.9 80.8C1725.1 81.4 1727.3 82.1 1729.6 82.7C1731.8 83.3 1734.1 84.1 1736.4 84.5C1738.6 84.8 1741 85.1 1743.3 84.9C1745.5 84.7 1747.8 83.8 1750 83.2C1752.2 82.5 1754.3 81.4 1756.6 80.9C1758.8 80.4 1761.3 80.1 1763.4 80.4C1765.6 80.8 1767.9 81.8 1769.7 83.1C1771.6 84.3 1773.2 86.2 1774.7 87.9C1776.2 89.7 1777.6 91.6 1778.9 93.5C1780.2 95.5 1781.3 97.5 1782.4 99.6C1783.5 101.6 1784.5 103.7 1785.5 105.8C1786.5 108 1787.4 110.1 1788.3 112.2C1789.3 114.4 1790.2 116.5 1791 118.7C1791.9 120.9 1792.6 123.1 1793.4 125.3C1794.2 127.5 1795 129.7 1795.9 131.8C1796.7 134 1797.7 136.1 1798.7 138.2C1799.7 140.3 1800.6 142.5 1801.7 144.6C1802.8 146.6 1803.8 148.8 1805.1 150.7C1806.3 152.6 1807.7 154.6 1809.4 156.2C1811 157.7 1813 159.1 1815 160.1C1817.1 161.2 1819.3 162 1821.5 162.7C1823.8 163.3 1826.1 163.7 1828.4 164C1830.7 164.3 1833 164.4 1835.4 164.5C1837.7 164.6 1840 164.7 1842.4 164.8C1844.7 164.9 1847 165.1 1849.3 165.3C1851.7 165.6 1854 166 1856.3 166.4C1858.6 166.8 1860.8 167.3 1863.1 167.6C1865.5 168 1867.8 168.3 1870.1 168.5C1872.4 168.6 1874.8 168.7 1877.1 168.5C1879.4 168.4 1881.7 168.1 1884 167.7C1886.3 167.2 1888.5 166.6 1890.8 165.9C1893 165.3 1895.3 164.6 1897.5 163.9C1899.7 163.2 1901.9 162.4 1904.1 161.7C1906.4 161 1908.6 160.4 1910.9 159.9C1913.2 159.3 1915.5 158.9 1917.8 158.6C1920.1 158.3 1922.4 158.1 1924.7 157.9C1927 157.6 1929.4 157.4 1931.7 157C1934 156.7 1936.3 156.1 1938.5 155.7C1940.8 155.2 1943.1 154.7 1945.4 154.3C1947.7 153.8 1950 153.4 1952.3 152.9C1954.5 152.4 1957.5 151.8 1959.1 151.4C1960.7 151 1961.5 150.8 1962 150.7" fill="none" stroke="#f2353c" stroke-width="4.8" stroke-linejoin="round" stroke-linecap="round" clip-path="url(#ci)"/>
<path d="M1461.4 423.1C1462.6 423.1 1466.1 422.8 1468.4 422.7C1470.8 422.5 1473.1 422.4 1475.4 422.2C1477.7 422 1480.1 421.8 1482.4 421.6C1484.7 421.4 1487 421.2 1489.4 421C1491.7 420.7 1494 420.5 1496.3 420.2C1498.6 419.9 1501 419.7 1503.3 419.4C1505.6 419.1 1507.9 418.8 1510.2 418.5C1512.5 418.2 1514.8 417.9 1517.1 417.5C1519.5 417.2 1521.8 416.9 1524.1 416.5C1526.4 416.1 1528.7 415.7 1531 415.2C1533.2 414.7 1535.5 414.2 1537.8 413.7C1540.1 413.1 1542.3 412.5 1544.5 411.8C1546.8 411.2 1549 410.4 1551.1 409.5C1553.3 408.7 1555.4 407.7 1557.5 406.7C1559.6 405.6 1561.7 404.6 1563.7 403.4C1565.7 402.1 1567.6 400.8 1569.4 399.3C1571.1 397.8 1572.7 396.1 1574.3 394.3C1575.8 392.6 1577.3 390.8 1578.6 388.9C1579.9 386.9 1581.1 384.9 1582.2 382.8C1583.3 380.8 1584.2 378.6 1585.2 376.6C1586.3 374.5 1587.4 372.4 1588.4 370.3C1589.4 368.2 1590.5 366.1 1591.4 364C1592.4 361.9 1593.3 359.7 1594.2 357.6C1595.1 355.4 1596 353.3 1596.9 351.1C1597.7 348.9 1598.5 346.7 1599.3 344.5C1600.2 342.4 1600.9 340.2 1601.7 337.9C1602.5 335.7 1603.2 333.5 1603.9 331.3C1604.7 329.1 1605.4 326.9 1606.1 324.7C1606.9 322.4 1607.6 320.2 1608.3 318C1609 315.8 1609.8 313.6 1610.5 311.4C1611.3 309.2 1612.1 307 1612.9 304.8C1613.7 302.6 1614.6 300.4 1615.5 298.3C1616.3 296.1 1617.2 293.9 1618 291.7C1618.7 289.5 1619.4 287.3 1620.2 285.1C1620.9 282.9 1621.5 280.6 1622.2 278.4C1622.9 276.2 1623.6 273.9 1624.4 271.7C1625.1 269.5 1625.9 267.3 1626.7 265.1C1627.5 262.9 1628.3 260.8 1629.1 258.6C1629.9 256.4 1630.8 254.2 1631.6 252C1632.3 249.8 1633.1 247.6 1633.9 245.4C1634.7 243.2 1635.5 241 1636.3 238.8C1637.1 236.6 1637.9 234.4 1638.8 232.3C1639.6 230.1 1640.5 227.9 1641.4 225.8C1642.3 223.6 1643.2 221.5 1644 219.3C1644.8 217.1 1645.6 214.9 1646.2 212.7C1646.9 210.4 1647.3 208.1 1647.9 205.9C1648.6 203.6 1649.3 201.4 1650.1 199.2C1650.9 197 1651.7 194.8 1652.5 192.7C1653.4 190.5 1654.2 188.3 1655.1 186.1C1655.9 184 1656.8 181.8 1657.7 179.6C1658.6 177.5 1659.5 175.3 1660.5 173.2C1661.4 171.1 1662.4 169 1663.5 166.9C1664.6 164.8 1665.8 162.8 1667 160.9C1668.3 158.9 1669.7 157 1671.1 155.2C1672.6 153.4 1674.1 151.6 1675.9 150.1C1677.6 148.5 1679.4 147 1681.5 145.9C1683.5 144.9 1685.8 144.1 1688 143.8C1690.3 143.5 1692.7 143.8 1694.9 144.1C1697.2 144.5 1699.4 145.4 1701.7 146C1703.9 146.7 1706.1 147.5 1708.3 148.1C1710.6 148.8 1712.8 149.6 1715.1 150C1717.3 150.5 1719.7 150.8 1722 150.8C1724.3 150.7 1726.6 150.1 1728.8 149.5C1731.1 148.9 1733.2 148 1735.4 147.2C1737.6 146.4 1739.8 145.6 1741.9 144.7C1744.1 143.7 1746.1 142.6 1748.2 141.5C1750.2 140.3 1752.2 139 1754.1 137.8C1756.1 136.6 1758 135.3 1760 134.1C1762 132.9 1764.1 131.7 1766.1 130.6C1768.2 129.5 1770.2 128.4 1772.3 127.4C1774.4 126.3 1776.5 125.3 1778.7 124.4C1780.8 123.5 1783.1 122.7 1785.3 122.2C1787.5 121.7 1789.8 121.3 1792.1 121.4C1794.3 121.5 1796.6 122 1798.8 122.7C1801 123.4 1803.1 124.5 1805.2 125.6C1807.3 126.6 1809.3 127.8 1811.3 129C1813.3 130.2 1815.3 131.4 1817.3 132.6C1819.3 133.9 1821.2 135.1 1823.2 136.3C1825.2 137.5 1827.2 138.7 1829.3 139.9C1831.3 141 1833.4 142.1 1835.5 143C1837.6 144 1839.8 145 1842 145.7C1844.1 146.5 1846.4 147.2 1848.6 147.8C1850.9 148.4 1853.2 148.8 1855.5 149.1C1857.8 149.5 1860.1 149.7 1862.5 149.8C1864.8 150 1867.1 150.1 1869.5 150.1C1871.8 150.1 1874.1 149.9 1876.5 149.8C1878.8 149.7 1881.1 149.4 1883.4 149.2C1885.8 149 1888.1 148.8 1890.4 148.6C1892.7 148.3 1895 148.1 1897.4 147.7C1899.7 147.4 1902 147.1 1904.3 146.7C1906.6 146.3 1908.9 145.9 1911.2 145.5C1913.5 145.1 1915.8 144.7 1918.1 144.3C1920.4 143.8 1922.6 143.3 1924.9 142.9C1927.2 142.4 1929.5 142 1931.8 141.6C1934.1 141.1 1936.4 140.8 1938.7 140.2C1940.9 139.7 1943.1 138.9 1945.4 138.2C1947.6 137.6 1949.8 136.8 1952.1 136.3C1954.4 135.9 1957.4 135.6 1959 135.4C1960.7 135.2 1961.5 135.3 1962 135.2" fill="none" stroke="#3f72ea" stroke-width="4.8" stroke-linejoin="round" stroke-linecap="round" clip-path="url(#ci)"/>
<path d="M1466.2 41.7H1513.6" stroke="#4a4a4a" stroke-width="5.2" stroke-linecap="round" fill="none"/>
<text x="1520" y="49.2" font-size="26.8" text-anchor="start" font-weight="bold" fill="#000">Ru foil</text>
<path d="M1466.2 75.2H1513.6" stroke="#f2353c" stroke-width="5.2" stroke-linecap="round" fill="none"/>
<text x="1520" y="83.2" font-size="26.8" text-anchor="start" font-weight="bold" fill="#000">RuO<tspan font-size="15.5" dy="9">2</tspan><tspan dy="-9" font-size="1">&#8203;</tspan></text>
<path d="M1466.2 116.8H1513.6" stroke="#3f72ea" stroke-width="5.2" stroke-linecap="round" fill="none"/>
<text x="1520" y="124.2" font-size="26.8" text-anchor="start" font-weight="bold" fill="#000">In-O-MoS<tspan font-size="15.5" dy="9">2</tspan><tspan dy="-9" font-size="1">&#8203;</tspan>@Ru</text>
<path d="M1461 426.1v9.5M1561.2 426.1v9.5M1661.4 426.1v9.5M1761.6 426.1v9.5M1861.8 426.1v9.5M1962 426.1v9.5M1511.1 426.1v5.5M1611.3 426.1v5.5M1711.5 426.1v5.5M1811.7 426.1v5.5M1911.9 426.1v5.5M1461 426.1h-9.5M1461 310.8h-9.5M1461 195.4h-9.5M1461 80.1h-9.5M1461 368.4h-5.5M1461 253.1h-5.5M1461 137.7h-5.5M1461 22.4h-5.5" stroke="#000" stroke-width="2.8" fill="none"/>
<rect x="1461" y="22.4" width="501" height="403.7" fill="none" stroke="#000" stroke-width="2.8"/>
<text x="1461" y="460.7" font-size="27" text-anchor="middle" font-weight="bold" fill="#000">22080</text>
<text x="1561.2" y="460.7" font-size="27" text-anchor="middle" font-weight="bold" fill="#000">22100</text>
<text x="1661.4" y="460.7" font-size="27" text-anchor="middle" font-weight="bold" fill="#000">22120</text>
<text x="1761.6" y="460.7" font-size="27" text-anchor="middle" font-weight="bold" fill="#000">22140</text>
<text x="1861.8" y="460.7" font-size="27" text-anchor="middle" font-weight="bold" fill="#000">22160</text>
<text x="1962" y="460.7" font-size="27" text-anchor="middle" font-weight="bold" fill="#000">22180</text>
<text x="1447.7" y="434.3" font-size="27" text-anchor="end" font-weight="bold" fill="#000">0.0</text>
<text x="1447.7" y="318.9" font-size="27" text-anchor="end" font-weight="bold" fill="#000">0.4</text>
<text x="1447.7" y="203.6" font-size="27" text-anchor="end" font-weight="bold" fill="#000">0.8</text>
<text x="1447.7" y="88.2" font-size="27" text-anchor="end" font-weight="bold" fill="#000">1.2</text>
<text x="1698.2" y="498.9" font-size="28.4" text-anchor="middle" font-weight="bold" fill="#000">Energy (eV)</text>
<text transform="translate(1399 225.7) rotate(-90)" font-size="28.4" text-anchor="middle" font-weight="bold">Normalized data (a.u.)</text>
<path d="M106.3 925C107 925.4 109 926.5 110.6 927.6C112.2 928.8 114.1 930.1 115.8 931.9C117.5 933.8 119.7 937.2 121 938.9C122.3 940.5 122.6 942.6 123.6 942C124.6 941.4 125.8 937.7 127.1 935.4C128.4 933.2 129.9 930.5 131.4 928.5C132.8 926.5 134.3 924.4 135.7 923.3C137.2 922.1 138.5 921 140.1 921.5C141.6 922.1 143.5 924.1 145.3 926.7C147 929.3 148.9 934.5 150.5 937.1C152 939.8 153.5 941.8 154.8 942.7C156.1 943.6 157.1 944.5 158.3 942.7C159.4 940.9 160.4 936.6 161.7 931.9C163 927.3 164.6 920.4 166.1 914.6C167.5 908.8 168.9 903.1 170.4 897.3C171.8 891.5 173.3 885.1 174.7 879.9C176.2 874.7 177.6 869.6 179.1 866.1C180.5 862.6 181.9 860.7 183.4 859.2C184.8 857.6 186.3 856.6 187.7 856.6C189.2 856.6 190.6 857.3 192 859.2C193.5 861 194.9 864.1 196.4 867.8C197.8 871.6 199.3 876.8 200.7 881.7C202.2 886.6 203.6 892.4 205 897.3C206.5 902.2 208.1 907.4 209.4 911.1C210.7 914.9 211.7 917.8 212.8 919.8C213.9 921.8 214.8 923.3 216 923.3C217.1 923.3 218.4 921.5 219.8 919.8C221.1 918.1 222.7 914.8 224.1 912.9C225.6 911 226.9 908.8 228.4 908.5C230 908.3 232.1 909.6 233.6 911.1C235.2 912.7 236.7 915.2 238 918.1C239.3 921 240.4 925.3 241.4 928.5C242.5 931.6 243.5 935.3 244.4 937.1C245.3 939 245.7 940.3 246.6 939.7C247.6 939.2 248.8 936.4 250.1 933.7C251.4 930.9 253 925.7 254.4 923.3C255.9 920.8 257.6 919.8 258.8 918.9C259.9 918.1 260.2 917.6 261.4 918.1C262.5 918.5 264.4 920.1 265.7 921.5C267 923 268 925.4 269.2 926.7C270.3 928 271.5 930.2 272.6 929.3C273.8 928.5 274.8 926.3 276.1 921.5C277.4 916.8 279 908.3 280.4 900.7C281.9 893.2 283.3 884 284.8 876.5C286.2 869 287.7 861.5 289.1 855.7C290.5 849.9 292 845 293.4 841.8C294.9 838.6 296.6 837.6 297.8 836.6C298.9 835.6 299.3 835.3 300.4 835.8C301.4 836.2 302.5 836.5 303.8 839.2C305.1 842 306.7 846.9 308.2 852.2C309.6 857.6 311 864.6 312.5 871.3C313.9 877.9 315.6 888 316.8 892.1C318 896.2 318.6 899.4 319.8 895.9C320.9 892.4 322.4 882.6 323.8 871.3C325.1 860 326.6 842.4 328.1 828C329.5 813.5 331 799.1 332.4 784.6C333.9 770.2 335.3 753.7 336.8 741.3C338.2 728.9 339.5 718.8 341.1 710.1C342.7 701.5 344.6 694.1 346.3 689.3C348 684.6 350.2 683 351.5 681.5C352.8 680.1 353 680.1 354.1 680.7C355.2 681.2 356.6 682.1 358 685C359.4 687.9 360.9 692.1 362.3 698C363.8 703.9 365.2 711.6 366.7 720.5C368.1 729.5 369.6 741.6 371 751.7C372.4 761.8 373.9 772.5 375.3 781.2C376.8 789.8 378.2 797.1 379.7 803.7C381.1 810.3 382.5 816.1 384 821C385.4 825.9 386.7 829.7 388.3 833.2C389.9 836.6 391.8 839.2 393.5 841.8C395.3 844.4 397 845.9 398.7 848.8C400.5 851.6 402.2 855.1 403.9 859.2C405.7 863.2 407.4 868.4 409.1 873C410.9 877.6 412.6 882.5 414.3 886.9C416.1 891.2 417.8 895.8 419.5 899C421.3 902.2 423 904.4 424.7 905.9C426.5 907.5 427.9 908 429.9 908.5C431.9 909.1 434.2 908.9 436.8 909.1C439.4 909.3 442.6 909.6 445.5 909.8C448.4 909.9 451.6 910 454.2 909.8C456.8 909.6 458.8 908.5 461.1 908.5C463.4 908.5 465.7 908.5 468 909.8C470.4 911.1 472.7 913.5 475 916.3C477.3 919.2 479.9 923.9 481.9 926.7C483.9 929.6 485.4 931.9 487.1 933.7C488.8 935.4 490.6 936.6 492.3 937.1C494 937.7 495.5 937.6 497.5 937.1C499.5 936.7 501.8 935.2 504.4 934.5C507 933.9 509.9 933.5 513.1 933.3C516.3 933.2 520 933.7 523.5 933.7C527 933.7 531 933.2 533.9 933.3C536.8 933.5 538.5 933.9 540.8 934.5C543.1 935.2 545.7 936.3 547.8 937.1C549.8 938 551.2 939.3 553 939.7C554.7 940.2 556.1 940.5 558.2 939.7C560.2 939 562.8 936.8 565.1 935.4C567.4 934 569.7 932.5 572 931.6C574.3 930.7 576.6 930.4 579 930.2C581.3 930 583.6 929.8 585.9 930.2C588.2 930.6 590.5 931.6 592.8 932.8C595.1 934 597.3 935.7 599.7 937.1C602.2 938.6 606.2 940.7 607.5 941.5" fill="none" stroke="#4a4a4a" stroke-width="4.8" stroke-linejoin="round" stroke-linecap="round" clip-path="url(#cb)"/>
<path d="M106.3 923.3C106.8 923.9 108.4 924.7 109.7 926.7C111 928.8 112.6 933.1 114.1 935.4C115.5 937.7 117 940.9 118.4 940.6C119.8 940.3 121.3 936.3 122.7 933.7C124.2 931.1 125.6 927 127.1 925C128.5 923 129.9 921.5 131.4 921.5C132.8 921.5 134.3 923 135.7 925C137.2 927 138.6 931.2 140.1 933.7C141.5 936.1 142.9 939.7 144.4 939.7C145.8 939.7 147.3 936.4 148.7 933.7C150.2 930.9 151.8 925.9 153.1 923.3C154.4 920.7 155.2 918.4 156.5 918.1C157.8 917.8 159.6 919.8 160.9 921.5C162.2 923.3 163.2 926.9 164.3 928.5C165.5 930.1 166.6 931.9 167.8 931.1C168.9 930.2 170.1 927.2 171.3 923.3C172.4 919.4 173.6 913.2 174.7 907.7C175.9 902.2 177 895.3 178.2 890.3C179.3 885.4 180.5 881.1 181.6 878.2C182.8 875.3 184.1 874 185.1 873C186.1 872 186.6 871.6 187.7 872.2C188.9 872.7 190.6 874 192 876.5C193.5 878.9 195.1 884.1 196.4 886.9C197.7 889.6 198.7 892.7 199.8 892.9C201 893.2 202 891.6 203.3 888.6C204.6 885.6 206.2 879.7 207.6 874.7C209.1 869.8 210.5 863.5 212 859.2C213.4 854.8 214.9 851.9 216.3 848.8C217.8 845.6 219.2 843.8 220.6 840.1C222.1 836.3 223.7 831.7 225 826.2C226.3 820.7 227.3 814.7 228.4 807.2C229.6 799.7 230.8 790.4 231.9 781.2C233.1 771.9 234.2 760.7 235.4 751.7C236.5 742.8 237.7 734.1 238.8 727.4C240 720.8 241.1 715.6 242.3 711.8C243.5 708.1 244.8 704.9 246.1 704.9C247.4 704.9 248.9 707.5 250.1 711.8C251.3 716.2 252.4 723.1 253.6 730.9C254.7 738.7 255.9 748.8 257 758.6C258.2 768.5 259.3 779.7 260.5 789.8C261.7 799.9 262.8 809.2 264 819.3C265.1 829.4 266.3 840.4 267.4 850.5C268.6 860.6 269.7 870.7 270.9 879.9C272.1 889.2 273.2 897.9 274.4 905.9C275.5 914 276.9 923.4 277.8 928.5C278.8 933.5 279.2 936.6 280.1 936.3C280.9 936 282 930.9 283 926.7C284.1 922.6 285.3 915.8 286.5 911.1C287.7 906.5 288.8 902 290 899C291.1 896 292.5 894.1 293.4 892.9C294.4 891.8 294.7 891.4 295.7 892.1C296.7 892.8 298.1 894.1 299.5 897.3C300.9 900.5 302.5 906.5 303.8 911.1C305.1 915.8 306.2 921.5 307.3 925C308.4 928.5 309.4 931.9 310.4 931.9C311.4 931.9 312.3 928.5 313.4 925C314.4 921.5 315.7 916.3 316.8 911.1C318 905.9 318.8 900.5 320.3 893.8C321.7 887.2 323.8 879.4 325.5 871.3C327.2 863.2 329 854.2 330.7 845.3C332.4 836.3 334.2 826.8 335.9 817.6C337.6 808.3 339.4 799.7 341.1 789.8C342.8 780 344.6 769 346.3 758.6C348 748.2 349.7 736.7 351.5 727.4C353.2 718.2 355.1 709 356.7 703.2C358.3 697.4 359.8 695 361 692.8C362.2 690.6 363 689.9 364.1 690.2C365.1 690.5 366.4 690.9 367.5 694.5C368.7 698.1 369.8 704.1 371 711.8C372.2 719.6 373.3 729.2 374.5 741.3C375.6 753.4 376.9 770.2 377.9 784.6C378.9 799.1 379.7 813.5 380.5 828C381.4 842.4 382.3 858.3 383.1 871.3C383.9 884.3 384.5 895.8 385.2 905.9C385.9 916.1 386.6 926.9 387.1 931.9C387.6 937 387.9 936.8 388.3 936.3C388.8 935.7 389.1 935 389.7 928.5C390.3 922 391 908.3 391.8 897.3C392.6 886.3 393.5 873.6 394.4 862.6C395.3 851.6 396.1 840.1 397 831.4C397.9 822.8 398.7 816 399.6 810.6C400.5 805.3 401.3 801.8 402.2 799.4C403.1 796.9 403.9 796 404.8 795.9C405.7 795.8 406.4 796.3 407.4 798.5C408.4 800.7 409.7 804.6 410.9 808.9C412 813.2 413.2 818.7 414.3 824.5C415.5 830.3 416.6 837.2 417.8 843.6C418.9 849.9 420 856.6 421.3 862.6C422.6 868.7 424.1 874.7 425.6 879.9C427 885.1 428.5 889.2 429.9 893.8C431.4 898.4 432.8 903.1 434.2 907.7C435.7 912.3 437.3 918.1 438.6 921.5C439.9 925 440.9 927.9 442 928.5C443.2 929.1 444.4 926.3 445.5 925C446.7 923.7 447.8 921.6 449 920.7C450.1 919.7 451.3 919.2 452.4 919.5C453.6 919.7 454.8 920.6 455.9 922.4C457.1 924.2 458.2 927.5 459.4 930.2C460.5 932.9 461.8 936.8 462.8 938.9C463.9 940.9 464.6 943.5 465.4 942.3C466.3 941.2 467 935.1 468 931.9C469.1 928.8 470.2 925.6 471.5 923.3C472.8 921 474.5 919.2 475.8 918.1C477.1 917 478 916.4 479.3 916.7C480.6 917 482.3 918.9 483.6 919.8C484.9 920.8 485.8 923 487.1 922.4C488.4 921.8 490 919.4 491.4 916.3C492.9 913.3 494.3 908 495.8 904.2C497.2 900.5 498.7 896.7 500.1 893.8C501.5 890.9 503 888.3 504.4 886.9C505.8 885.4 507 884.9 508.4 885.1C509.9 885.4 511.5 886.6 513.1 888.6C514.7 890.6 516.6 893.8 518.3 897.3C520 900.7 521.8 905.9 523.5 909.4C525.2 912.9 526.7 915.8 528.7 918.1C530.7 920.4 533 922.1 535.6 923.3C538.2 924.5 541.4 925 544.3 925.4C547.2 925.7 550.1 925.8 553 925.4C555.8 924.9 558.7 923.8 561.6 922.4C564.5 921 567.4 918.8 570.3 917.2C573.2 915.6 576.1 913.9 579 912.9C581.8 911.8 584.7 910.7 587.6 910.8C590.5 910.9 593.7 912.4 596.3 913.7C598.9 915.1 601.3 917.5 603.2 918.9C605.1 920.4 606.8 921.8 607.5 922.4" fill="none" stroke="#f2353c" stroke-width="4.8" stroke-linejoin="round" stroke-linecap="round" clip-path="url(#cb)"/>
<path d="M106.3 940.6C107 938.9 109.3 933.1 110.6 930.2C111.9 927.3 112.9 924.7 114.1 923.3C115.2 921.8 116.2 921 117.5 921.5C118.8 922.1 120.6 924.4 121.9 926.7C123.2 929.1 124.2 933.1 125.3 935.4C126.4 937.7 127.3 941.2 128.4 940.6C129.6 940 130.9 935.1 132.3 931.9C133.6 928.8 135.1 923.9 136.6 921.5C138 919.2 139.5 917.8 140.9 918.1C142.4 918.4 144 920.7 145.3 923.3C146.6 925.9 147.6 930.6 148.7 933.7C149.9 936.7 151 941.8 152.2 941.5C153.3 941.2 154.5 935.8 155.7 931.9C156.8 928 158 922.1 159.1 918.1C160.3 914 161.5 909.7 162.6 907.7C163.7 905.7 164.6 905.4 165.7 905.9C166.9 906.5 168.2 908.5 169.5 911.1C170.9 913.7 172.5 918.7 173.9 921.5C175.2 924.4 176.7 929.1 177.8 928.5C179 927.9 179.7 922.7 180.8 918.1C181.9 913.5 183.1 906.2 184.2 900.7C185.4 895.3 186.7 888.9 187.7 885.1C188.7 881.4 189.4 879.8 190.3 878.2C191.3 876.6 192.3 875.6 193.4 875.6C194.6 875.6 195.9 877.2 197.2 878.2C198.6 879.2 200.3 883.1 201.6 881.7C202.9 880.2 203.9 875 205 869.6C206.2 864.1 207.4 855.7 208.5 848.8C209.7 841.8 210.8 833.7 212 828C213.1 822.2 214.3 817.7 215.4 814.1C216.6 810.5 217.6 808.9 218.9 806.3C220.2 803.7 221.9 802.1 223.2 798.5C224.5 794.9 225.6 791.3 226.7 784.6C227.9 778 229 768.7 230.2 758.6C231.3 748.5 232.5 735.5 233.6 724C234.8 712.4 235.9 700.3 237.1 689.3C238.3 678.3 239.5 666.5 240.6 658.1C241.7 649.7 242.7 643.1 243.7 639.1C244.7 635 245.6 633.6 246.6 633.9C247.7 634.2 248.9 635.9 250.1 640.8C251.3 645.7 252.4 653.8 253.6 663.3C254.7 672.9 255.9 685 257 698C258.2 711 259.3 725.4 260.5 741.3C261.7 757.2 263 777.4 264 793.3C265 809.2 265.8 822.2 266.6 836.6C267.4 851.1 268.1 867.5 268.8 879.9C269.5 892.4 270.3 904.4 270.9 911.1C271.5 917.9 271.9 920.4 272.6 920.7C273.4 921 274.3 916.5 275.2 912.9C276.2 909.3 277.3 901.9 278.4 899C279.4 896.1 280.2 895.3 281.3 895.5C282.4 895.8 283.5 897.3 284.8 900.7C286.1 904.2 287.7 911.4 289.1 916.3C290.5 921.3 292.3 927.2 293.4 930.2C294.6 933.2 295 935.1 296 934.5C297 934 298.3 928.9 299.5 926.7C300.6 924.6 302 922.6 303 921.5C303.9 920.5 304 920.1 305 920.7C306 921.3 307.6 922.8 309 925C310.4 927.2 311.9 931.1 313.4 933.7C314.8 936.3 316.5 939.2 317.7 940.6C318.8 942 319.3 942.6 320.3 942.3C321.3 942 322.3 941.5 323.8 938.9C325.2 936.3 327.2 931.1 329 926.7C330.7 922.4 332.4 917.5 334.2 912.9C335.9 908.3 337.8 902.2 339.4 899C340.9 895.8 342.5 894.9 343.7 893.8C344.8 892.7 345.1 891.8 346.3 892.4C347.4 893 349.2 894.4 350.6 897.3C352.1 900.1 353.9 905.4 354.9 909.4C356 913.5 356 917.8 357.1 921.5C358.2 925.3 360.3 929.9 361.5 931.9C362.6 934 363.1 934.5 364.1 933.7C365.1 932.8 366.2 929.1 367.5 926.7C368.8 924.4 370.4 921.4 371.9 919.8C373.3 918.2 374.6 917.2 376.2 917.2C377.8 917.2 379.7 918.2 381.4 919.8C383.1 921.4 384.9 924.4 386.6 926.7C388.3 929.1 390.2 932.2 391.8 933.7C393.4 935.1 394.7 935.7 396.1 935.4C397.6 935.1 398.9 933.1 400.5 931.9C402 930.8 403.9 929.3 405.7 928.5C407.4 927.7 409.1 927.3 410.9 927.3C412.6 927.3 414 927.5 416.1 928.5C418.1 929.4 420.7 931.8 423 932.8C425.3 933.8 427.3 934.5 429.9 934.5C432.5 934.6 435.7 933.8 438.6 933.3C441.5 932.8 444.6 932 447.2 931.6C449.8 931.2 451.9 930.7 454.2 931.1C456.5 931.4 459.1 932.5 461.1 933.7C463.1 934.8 464.6 936.7 466.3 938C468 939.3 469.8 941.6 471.5 941.5C473.2 941.3 475 938.5 476.7 937.1C478.4 935.8 480.2 934.2 481.9 933.3C483.6 932.5 484.5 932.2 487.1 931.9C489.7 931.7 494 932 497.5 931.9C501 931.9 505 931.4 507.9 931.6C510.8 931.7 511.9 932.3 514.8 932.8C517.7 933.3 522.1 934.1 525.2 934.5C528.4 935 531 935 533.9 935.4C536.8 935.8 539.7 936.4 542.6 936.8C545.4 937.2 548.6 938.2 551.2 938C553.8 937.8 555.6 936.1 558.2 935.4C560.8 934.7 564.5 933.9 566.8 933.7C569.1 933.4 570 933.6 572 934C574 934.5 576.6 935.3 579 936.3C581.3 937.2 583.9 938.9 585.9 939.7C587.9 940.6 589.1 941.5 591.1 941.5C593.1 941.5 596 940.5 598 939.7C600 939 601.6 937.9 603.2 937.1C604.8 936.4 606.8 935.7 607.5 935.4" fill="none" stroke="#3f72ea" stroke-width="4.8" stroke-linejoin="round" stroke-linecap="round" clip-path="url(#cb)"/>
<path d="M363.7 554.4H409.6" stroke="#4a4a4a" stroke-width="5.2" stroke-linecap="round" fill="none"/>
<text x="416.8" y="562" font-size="26.8" text-anchor="start" font-weight="bold" fill="#000">In foil</text>
<path d="M363.7 588.6H409.6" stroke="#f2353c" stroke-width="5.2" stroke-linecap="round" fill="none"/>
<text x="416.8" y="596.4" font-size="26.8" text-anchor="start" font-weight="bold" fill="#000">In<tspan font-size="15.5" dy="9">2</tspan><tspan dy="-9" font-size="1">&#8203;</tspan>O<tspan font-size="15.5" dy="9">3</tspan><tspan dy="-9" font-size="1">&#8203;</tspan></text>
<path d="M363.7 630.3H409.6" stroke="#3f72ea" stroke-width="5.2" stroke-linecap="round" fill="none"/>
<text x="416.8" y="638.1" font-size="26.8" text-anchor="start" font-weight="bold" fill="#000">In-O-MoS<tspan font-size="15.5" dy="9">2</tspan><tspan dy="-9" font-size="1">&#8203;</tspan>@Ru</text>
<text x="220.4" y="625.5" font-size="26.7" text-anchor="start" font-weight="bold" fill="#000">In-O</text>
<text x="330.4" y="676.4" font-size="26.7" text-anchor="start" font-weight="bold" fill="#000">In-In</text>
<path d="M105.6 943.2v9.5M273 943.2v9.5M440.3 943.2v9.5M607.7 943.2v9.5M189.3 943.2v5.5M356.6 943.2v5.5M524 943.2v5.5M105.6 943.2h-9.5M105.6 885.3h-9.5M105.6 827.4h-9.5M105.6 769.5h-9.5M105.6 711.5h-9.5M105.6 653.6h-9.5M105.6 595.7h-9.5M105.6 537.8h-9.5M105.6 914.2h-5.5M105.6 856.3h-5.5M105.6 798.4h-5.5M105.6 740.5h-5.5M105.6 682.6h-5.5M105.6 624.7h-5.5M105.6 566.8h-5.5" stroke="#000" stroke-width="2.8" fill="none"/>
<rect x="105.6" y="537.8" width="502.1" height="405.4" fill="none" stroke="#000" stroke-width="2.8"/>
<text x="105.6" y="977.8" font-size="27" text-anchor="middle" font-weight="bold" fill="#000">0</text>
<text x="273" y="977.8" font-size="27" text-anchor="middle" font-weight="bold" fill="#000">2</text>
<text x="440.3" y="977.8" font-size="27" text-anchor="middle" font-weight="bold" fill="#000">4</text>
<text x="607.7" y="977.8" font-size="27" text-anchor="middle" font-weight="bold" fill="#000">6</text>
<text x="92.3" y="951.4" font-size="27" text-anchor="end" font-weight="bold" fill="#000">0</text>
<text x="92.3" y="893.5" font-size="27" text-anchor="end" font-weight="bold" fill="#000">2</text>
<text x="92.3" y="835.5" font-size="27" text-anchor="end" font-weight="bold" fill="#000">4</text>
<text x="92.3" y="777.6" font-size="27" text-anchor="end" font-weight="bold" fill="#000">6</text>
<text x="92.3" y="719.7" font-size="27" text-anchor="end" font-weight="bold" fill="#000">8</text>
<text x="92.3" y="661.8" font-size="27" text-anchor="end" font-weight="bold" fill="#000">10</text>
<text x="92.3" y="603.9" font-size="27" text-anchor="end" font-weight="bold" fill="#000">12</text>
<text x="92.3" y="546" font-size="27" text-anchor="end" font-weight="bold" fill="#000">14</text>
<text x="357.1" y="1008.8" font-size="28.5" text-anchor="middle" font-weight="bold" fill="#000">Radial distance (&#197;)</text>
<text transform="translate(48.8 737.8) rotate(-90)" font-size="28.5" text-anchor="middle" font-weight="bold">|FT (k<tspan font-size="17" dy="-11">3</tspan><tspan dy="11" font-size="1">&#8203;</tspan> <tspan font-weight="normal" font-family="'DejaVu Sans', 'Liberation Sans', sans-serif" font-size="27">&#967;</tspan>(k)|</text>
<path d="M786.3 941.5C787.3 941 790.5 939 792.3 938.9C794.2 938.7 795.2 940.2 797.5 940.6C799.8 941 802.7 941.4 806.2 941.5C809.7 941.5 814 941.1 818.3 940.9C822.7 940.8 827.9 940.6 832.2 940.6C836.5 940.6 841.1 940.9 844.3 940.9C847.5 940.9 849.5 941.2 851.3 940.6C853 940 853.6 938.9 854.7 937.1C855.9 935.4 857 932.2 858.2 930.2C859.3 928.2 860.5 926.3 861.6 925C862.8 923.7 863.8 923 865.1 922.4C866.4 921.8 868 921.5 869.4 921.5C870.9 921.6 872.5 922.1 873.8 922.9C875.1 923.8 876.1 925.2 877.2 926.7C878.4 928.2 879.3 930.2 880.7 931.9C882.2 933.7 883.9 936 885.9 937.1C887.9 938.3 890.8 938.4 892.8 938.9C894.9 939.4 896.5 940.8 898 940.3C899.6 939.7 900.9 937.2 902.4 935.4C903.8 933.6 905.4 930.6 906.7 929.3C908 928 908.9 927.3 910.2 927.6C911.5 927.9 913.1 929.5 914.5 931.1C915.9 932.7 917.4 937.3 918.8 937.1C920.3 937 921.7 932.5 923.2 930.2C924.6 927.9 926.1 924.7 927.5 923.3C928.9 921.9 930.4 921.6 931.8 921.9C933.3 922.2 934.9 924.2 936.2 925C937.5 925.8 938.3 929.1 939.6 926.7C940.9 924.4 942.5 915.8 944 911.1C945.4 906.5 946.9 902.2 948.3 899C949.7 895.8 951.2 893.8 952.6 892.1C954.1 890.3 955.5 890.3 957 888.6C958.4 886.9 960 886 961.3 881.7C962.6 877.3 963.6 871.6 964.8 862.6C965.9 853.7 967.1 841 968.2 828C969.4 815 970.5 800.5 971.7 784.6C972.8 768.7 974 748.5 975.2 732.6C976.3 716.8 977.5 702.3 978.6 689.3C979.8 676.3 980.9 663.3 982.1 654.7C983.2 646 984.5 640.8 985.6 637.3C986.6 633.9 987.5 633.6 988.5 633.9C989.5 634.2 990.5 634.2 991.6 639.1C992.7 644 993.9 652.1 995.1 663.3C996.2 674.6 997.5 690.8 998.6 706.6C999.6 722.5 1000.3 741.3 1001.2 758.6C1002 776 1003 793.3 1003.8 810.6C1004.5 828 1005.2 847.6 1005.8 862.6C1006.5 877.6 1007.1 892.1 1007.6 900.7C1008 909.4 1008.2 915.2 1008.6 914.6C1009 914 1009.3 905.9 1009.8 897.3C1010.3 888.6 1010.8 875.6 1011.6 862.6C1012.3 849.6 1013.3 832.3 1014.2 819.3C1015 806.3 1015.9 793.3 1016.8 784.6C1017.6 776 1018.5 771.3 1019.4 767.3C1020.2 763.3 1021.2 761.8 1022 760.4C1022.7 758.9 1022.8 758.1 1023.7 758.6C1024.6 759.2 1026 760.1 1027.2 763.8C1028.3 767.6 1029.5 773.4 1030.6 781.2C1031.8 789 1033.3 799.9 1034.1 810.6C1034.9 821.3 1034.7 833.7 1035.4 845.3C1036.1 856.8 1037.1 869.8 1038 879.9C1038.9 890.1 1039.6 898.7 1040.6 905.9C1041.6 913.2 1042.9 919.2 1044.1 923.3C1045.2 927.3 1046.4 928.8 1047.5 930.2C1048.7 931.6 1049.7 932.1 1051 931.9C1052.3 931.8 1054 929.9 1055.3 929.3C1056.6 928.8 1057.6 928.2 1058.8 928.5C1059.9 928.8 1061 929.6 1062.3 931.1C1063.6 932.5 1065.1 935.5 1066.6 937.1C1068 938.7 1069.6 940.3 1070.9 940.6C1072.2 940.9 1073.1 940.3 1074.4 938.9C1075.7 937.4 1077.3 934.2 1078.7 931.9C1080.2 929.6 1081.6 926.7 1083.1 925C1084.5 923.3 1086.2 922.2 1087.4 921.5C1088.5 920.9 1089 920.9 1090 921.2C1091 921.5 1092.2 922.1 1093.5 923.3C1094.8 924.5 1096.3 927 1097.8 928.5C1099.2 929.9 1100.7 931.2 1102.1 931.9C1103.6 932.7 1105.2 933.1 1106.5 932.8C1107.8 932.5 1108.8 931.8 1109.9 930.2C1111.1 928.6 1112.2 927.3 1113.4 923.3C1114.5 919.2 1115.7 912.6 1116.8 905.9C1118 899.3 1119.2 890.1 1120.3 883.4C1121.5 876.8 1122.6 870.4 1123.8 866.1C1124.9 861.8 1126.1 859.3 1127.2 857.4C1128.4 855.5 1129.7 855.3 1130.7 854.8C1131.7 854.3 1132.3 853.7 1133.3 854.3C1134.3 854.9 1135.6 855.7 1136.8 858.3C1137.9 860.8 1139.1 864.5 1140.2 869.6C1141.4 874.6 1142.6 881.7 1143.7 888.6C1144.9 895.5 1146.2 904.8 1147.2 911.1C1148.2 917.5 1148.9 923 1149.8 926.7C1150.6 930.5 1151.2 932.1 1152.4 933.7C1153.5 935.3 1155.1 936.1 1156.7 936.3C1158.3 936.4 1160.2 935.5 1161.9 934.5C1163.6 933.5 1165.7 932.4 1167.1 930.2C1168.5 928 1169.4 925.6 1170.6 921.5C1171.7 917.5 1172.9 911.4 1174 905.9C1175.2 900.5 1176.3 893.8 1177.5 888.6C1178.7 883.4 1179.8 878.2 1181 874.7C1182.1 871.3 1183.3 869.3 1184.4 867.8C1185.6 866.3 1187 866.1 1187.9 865.7C1188.8 865.3 1189.1 865 1190 865.4C1190.8 865.7 1192 865.7 1193.1 867.8C1194.2 870 1195.4 873.9 1196.6 878.2C1197.7 882.5 1198.9 887.7 1200 893.8C1201.2 899.9 1202.5 908.5 1203.5 914.6C1204.5 920.7 1205.5 926.7 1206.1 930.2C1206.7 933.7 1206.9 935.7 1207.3 935.4C1207.7 935.1 1208 932.5 1208.7 928.5C1209.4 924.4 1210.4 916.1 1211.3 911.1C1212.2 906.2 1213 901.9 1213.9 899C1214.8 896.1 1215.6 894.7 1216.5 893.8C1217.4 892.9 1218.1 892.9 1219.1 893.5C1220.1 894 1221.4 894.9 1222.6 897.3C1223.7 899.6 1224.9 903.9 1226 907.7C1227.2 911.4 1228.3 916.8 1229.5 919.8C1230.6 922.8 1231.8 926.2 1233 925.9C1234.1 925.6 1235.1 920.5 1236.4 918.1C1237.7 915.6 1239.5 912.6 1240.8 911.1C1242.1 909.7 1242.9 909.1 1244.2 909.4C1245.5 909.7 1247.1 910.9 1248.6 912.9C1250 914.9 1251.4 918.7 1252.9 921.5C1254.3 924.4 1256.1 928.5 1257.2 930.2C1258.4 931.9 1258.8 932.5 1259.8 931.9C1260.8 931.4 1262 929.3 1263.3 926.7C1264.6 924.1 1266.2 919.5 1267.6 916.3C1269.1 913.2 1270.5 910 1272 907.7C1273.4 905.4 1274.8 903.6 1276.3 902.5C1277.7 901.3 1279.3 900.7 1280.6 900.7C1281.9 900.7 1283.2 901.9 1284.1 902.5C1284.9 903.1 1285.5 903.9 1285.8 904.2" fill="none" stroke="#4a4a4a" stroke-width="4.8" stroke-linejoin="round" stroke-linecap="round" clip-path="url(#cf)"/>
<path d="M786.3 937.1C787 936.6 789 934.7 790.6 933.7C792.2 932.7 794.1 931.2 795.8 931.1C797.5 930.9 799.3 931.8 801 932.8C802.7 933.8 804.5 936.3 806.2 937.1C807.9 938 809.7 938.4 811.4 938C813.1 937.6 814.9 935.5 816.6 934.5C818.3 933.5 820.1 932.1 821.8 931.9C823.5 931.8 825.3 932.9 827 933.7C828.7 934.4 830.6 936.8 832.2 936.3C833.8 935.7 835.1 933.8 836.5 930.2C838 926.6 839.4 919.2 840.9 914.6C842.3 910 843.7 905 845.2 902.5C846.6 899.9 848.1 899.5 849.5 899.4C851 899.2 852.4 900.2 853.9 901.6C855.3 903 856.7 905.8 858.2 907.7C859.6 909.6 861.2 911.9 862.5 912.9C863.8 913.9 864.7 914.3 866 913.7C867.3 913.2 868.9 911.1 870.3 909.4C871.8 907.7 873.2 904.9 874.6 903.3C876.1 901.8 877.5 901 879 899.9C880.4 898.7 882 898.6 883.3 896.4C884.6 894.2 885.6 891.4 886.8 886.9C887.9 882.4 889.1 875.9 890.2 869.6C891.4 863.2 892.6 855.7 893.7 848.8C894.9 841.8 896 834.3 897.2 828C898.3 821.6 899.5 815.5 900.6 810.6C901.8 805.7 903 801.7 904.1 798.5C905.3 795.3 906.6 792.9 907.6 791.6C908.6 790.3 909.2 790.4 910.2 790.7C911.2 791 912.5 791.4 913.6 793.3C914.8 795.2 915.9 797.6 917.1 802C918.3 806.3 919.4 812.7 920.6 819.3C921.7 825.9 922.9 833.7 924 841.8C925.2 849.9 926.3 859.2 927.5 867.8C928.7 876.5 929.8 885.4 931 893.8C932.1 902.2 933.3 911.4 934.4 918.1C935.6 924.7 936.9 930.6 937.9 933.7C938.9 936.7 939.5 936.8 940.5 936.3C941.5 935.7 942.8 931.8 944 930.2C945.1 928.6 946.1 926.7 947.4 926.7C948.7 926.7 950.3 928.5 951.8 930.2C953.2 931.9 954.8 935.2 956.1 937.1C957.4 939.1 958.4 941.7 959.6 942C960.7 942.3 961.7 940.3 963 938.9C964.3 937.5 965.8 934.9 967.4 933.7C969 932.5 970.5 931.9 972.6 931.6C974.6 931.3 977.2 931.6 979.5 931.9C981.8 932.2 984.4 932.6 986.4 933.3C988.4 934 990 935.2 991.6 936.3C993.2 937.3 994.5 939.6 996 939.7C997.4 939.9 998.7 938.4 1000.3 937.1C1001.9 935.8 1003.9 933.1 1005.5 931.9C1007.1 930.8 1008.4 929.9 1009.8 930.2C1011.3 930.5 1012.9 932.2 1014.2 933.7C1015.5 935.1 1016.5 939.7 1017.6 938.9C1018.8 938 1019.9 933.1 1021.1 928.5C1022.2 923.9 1023.4 916.9 1024.6 911.1C1025.7 905.4 1026.9 899.6 1028 893.8C1029.2 888 1030.3 881.7 1031.5 876.5C1032.6 871.3 1033.7 867.8 1034.9 862.6C1036.2 857.4 1037.6 849.9 1038.9 845.3C1040.1 840.7 1041.2 837.6 1042.3 834.9C1043.5 832.1 1044.5 830.1 1045.8 828.8C1047.1 827.5 1048.7 826.8 1050.1 827.1C1051.6 827.4 1053 828.4 1054.5 830.6C1055.9 832.7 1057.3 836.2 1058.8 840.1C1060.2 844 1061.7 849 1063.1 854C1064.6 858.9 1066 864.6 1067.5 869.6C1068.9 874.5 1070.3 879.5 1071.8 883.4C1073.2 887.3 1074.7 890.3 1076.1 892.9C1077.6 895.5 1079 897.1 1080.5 899C1081.9 900.9 1083.3 902.2 1084.8 904.2C1086.2 906.2 1087.7 908.8 1089.1 911.1C1090.6 913.5 1092 916.1 1093.5 918.1C1094.9 920.1 1096.2 921.7 1097.8 923.3C1099.4 924.9 1101.3 926.6 1103 927.6C1104.7 928.6 1106.2 929 1108.2 929.3C1110.2 929.7 1112.8 929.9 1115.1 929.9C1117.4 929.8 1119.7 929.2 1122 928.8C1124.4 928.4 1126.7 927.8 1129 927.6C1131.3 927.4 1133.6 927.4 1135.9 927.6C1138.2 927.8 1140.5 928.2 1142.8 928.8C1145.2 929.4 1147.5 930.7 1149.8 931.1C1152.1 931.4 1154.7 931.2 1156.7 931.1C1158.7 930.9 1160.3 929.8 1161.9 930.2C1163.5 930.6 1164.9 932.2 1166.2 933.7C1167.5 935.1 1168.7 937.9 1169.7 938.9C1170.7 939.9 1171.3 940.6 1172.3 939.7C1173.3 938.9 1174.5 936.4 1175.8 933.7C1177.1 930.9 1178.7 926.5 1180.1 923.3C1181.5 920.1 1182.8 917 1184.4 914.6C1186 912.2 1188 910.2 1189.6 909.1C1191.2 907.9 1192.8 907.9 1194 907.7C1195.1 907.4 1195.4 907.2 1196.6 907.7C1197.7 908.1 1199.5 909.1 1200.9 910.3C1202.3 911.4 1203.6 912.9 1205.2 914.6C1206.8 916.3 1208.7 918.8 1210.4 920.7C1212.2 922.6 1213.9 924.3 1215.6 925.9C1217.4 927.5 1219.1 929.2 1220.8 930.2C1222.6 931.2 1224 931.6 1226 931.9C1228 932.2 1230.6 932.2 1233 931.9C1235.3 931.6 1237.6 931 1239.9 930.2C1242.2 929.4 1244.5 928 1246.8 927.1C1249.1 926.2 1251.7 925.2 1253.8 924.7C1255.8 924.2 1256.9 924 1259 924.1C1261 924.3 1263.6 924.8 1265.9 925.4C1268.2 925.9 1270.5 926.9 1272.8 927.6C1275.1 928.4 1277.6 929.3 1279.7 929.9C1281.9 930.4 1284.8 930.9 1285.8 931.1" fill="none" stroke="#f2353c" stroke-width="4.8" stroke-linejoin="round" stroke-linecap="round" clip-path="url(#cf)"/>
<path d="M786.3 928.5C787 928.8 789.2 929.8 790.6 930.2C792 930.6 793.5 931.4 794.9 931.1C796.4 930.8 797.7 929.3 799.3 928.5C800.9 927.6 802.7 926 804.5 925.9C806.2 925.7 808.1 926.9 809.7 927.6C811.2 928.3 812.3 930.5 814 930.2C815.7 929.9 818.2 927 820.1 925.9C821.9 924.7 823.5 923.3 825.3 923.3C827 923.3 828.9 925.3 830.5 925.9C832 926.5 833.3 928 834.8 926.7C836.2 925.4 837.7 920.8 839.1 918.1C840.6 915.3 842 912 843.5 910.3C844.9 908.5 846.3 907.5 847.8 907.7C849.2 907.8 850.5 909.8 852.1 911.1C853.7 912.4 855.6 914.5 857.3 915.5C859.1 916.5 860.9 916.8 862.5 917.2C864.1 917.6 865.5 916.8 866.8 918.1C868.1 919.4 869.2 922.7 870.3 925C871.5 927.3 872.8 930.6 873.8 931.9C874.8 933.2 875.4 933.4 876.4 932.8C877.4 932.2 878.7 930.3 879.8 928.5C881 926.6 882.2 923.1 883.3 921.5C884.5 920 885.6 919.3 886.8 918.9C887.9 918.6 888.9 919.6 890.2 919.5C891.5 919.3 893 919.2 894.6 918.1C896.2 917 898 914.9 899.8 912.9C901.5 910.9 903.2 907.4 905 905.9C906.7 904.5 908.7 905.4 910.2 904.2C911.6 903.1 912.5 901.9 913.6 899C914.8 896.1 915.9 891.8 917.1 886.9C918.3 882 919.4 874.2 920.6 869.6C921.7 864.9 922.7 862.3 924 859.2C925.3 856 927.1 853.4 928.4 850.5C929.7 847.6 930.7 846.2 931.8 841.8C933 837.5 934.1 832.6 935.3 824.5C936.5 816.4 937.6 803.4 938.8 793.3C939.9 783.2 941.1 772.5 942.2 763.8C943.4 755.2 944.5 747.4 945.7 741.3C946.9 735.2 948 730.6 949.2 727.4C950.3 724.3 951.5 722.2 952.6 722.2C953.8 722.2 954.9 723.7 956.1 727.4C957.3 731.2 958.4 736.7 959.6 744.8C960.7 752.9 961.9 765 963 776C964.2 786.9 965.3 799.1 966.5 810.6C967.7 822.2 968.8 834.3 970 845.3C971.1 856.3 972.3 866.7 973.4 876.5C974.6 886.3 975.7 896.4 976.9 904.2C978 912 979.2 918.7 980.4 923.3C981.5 927.9 982.9 930.4 983.8 931.9C984.8 933.5 985.1 935.3 986.1 932.5C987.1 929.6 988.7 921.9 989.9 914.6C991.1 907.3 992.2 898.7 993.4 888.6C994.5 878.5 995.7 865.5 996.8 854C998 842.4 999.1 830.8 1000.3 819.3C1001.4 807.7 1002.6 796.2 1003.8 784.6C1004.9 773.1 1006.1 761.2 1007.2 750C1008.4 738.7 1009.5 727.2 1010.7 717C1011.8 706.9 1013 697.1 1014.2 689.3C1015.3 681.5 1016.5 675.2 1017.6 670.3C1018.8 665.3 1020 662 1021.1 659.9C1022.2 657.7 1023 657.1 1024 657.3C1025 657.4 1026.1 657.7 1027.2 660.7C1028.2 663.8 1029.5 668.4 1030.6 675.5C1031.8 682.5 1033.3 691.6 1034.1 703.2C1034.9 714.7 1034.7 731.2 1035.4 744.8C1036.1 758.4 1037.1 770.8 1038 784.6C1038.9 798.5 1039.7 814.4 1040.6 828C1041.5 841.5 1042.3 855.1 1043.2 866.1C1044.1 877.1 1044.9 886 1045.8 893.8C1046.7 901.6 1047.5 908.8 1048.4 912.9C1049.3 916.9 1050.1 918.7 1051 918.1C1051.9 917.5 1052.7 911.7 1053.6 909.4C1054.5 907.1 1055.4 905.1 1056.2 904.2C1057 903.3 1057.6 903.3 1058.3 903.9C1059 904.4 1059.7 905.3 1060.5 907.7C1061.3 910 1062.3 914.6 1063.1 918.1C1064 921.5 1064.9 925.9 1065.7 928.5C1066.6 931.1 1067.5 934.2 1068.3 933.7C1069.2 933.1 1069.9 928.8 1070.9 925C1071.9 921.3 1073.2 915 1074.4 911.1C1075.5 907.2 1076.8 903.6 1077.9 901.6C1078.9 899.6 1079.4 899.2 1080.5 899.4C1081.5 899.5 1082.8 900.5 1083.9 902.5C1085.1 904.4 1086.1 908.7 1087.4 911.1C1088.7 913.6 1090.3 916.3 1091.7 917.2C1093.2 918.1 1094.9 916.5 1096.1 916.3C1097.2 916.1 1097.6 915.6 1098.7 916C1099.7 916.4 1100.8 917.4 1102.1 918.9C1103.4 920.4 1105 923.1 1106.5 925C1107.9 926.9 1109.5 929.6 1110.8 930.2C1112.1 930.8 1112.9 930.1 1114.2 928.5C1115.5 926.9 1117.1 922.3 1118.6 920.7C1120 919 1121.5 918.3 1122.9 918.4C1124.4 918.6 1125.8 919.9 1127.2 921.5C1128.7 923.2 1130.1 926.7 1131.6 928.5C1133 930.2 1134.6 931.6 1135.9 931.9C1137.2 932.2 1137.9 931.2 1139.4 930.2C1140.8 929.2 1142.8 926.7 1144.6 925.9C1146.3 925 1148.2 925.3 1149.8 925C1151.4 924.7 1152.7 925 1154.1 924.1C1155.6 923.3 1156.9 921.7 1158.4 919.8C1160 917.9 1162.1 914.6 1163.6 912.9C1165.2 911.1 1166.7 910.1 1168 909.4C1169.3 908.7 1170.1 908.1 1171.4 908.5C1172.7 909 1174.3 910.1 1175.8 912C1177.2 913.9 1178.7 917.1 1180.1 919.8C1181.5 922.6 1183.1 926.5 1184.4 928.5C1185.7 930.5 1186.7 931.9 1187.9 931.9C1189.1 931.9 1190.1 930.8 1191.4 928.5C1192.7 926.2 1194.3 921.5 1195.7 918.1C1197.1 914.6 1198.6 910.4 1200 907.7C1201.5 904.9 1203.1 902.8 1204.4 901.6C1205.7 900.4 1206.5 900 1207.8 900.4C1209.1 900.8 1210.7 901.8 1212.2 904.2C1213.6 906.6 1215.1 911.1 1216.5 914.6C1217.9 918.1 1219.4 922.1 1220.8 925C1222.3 927.9 1223.9 930.5 1225.2 931.9C1226.5 933.4 1227.3 933.5 1228.6 933.7C1229.9 933.8 1231.5 932.9 1233 932.8C1234.4 932.7 1235.8 932.9 1237.3 933.3C1238.7 933.7 1240 934.9 1241.6 935.1C1243.2 935.3 1245.1 935.3 1246.8 934.5C1248.6 933.7 1250.3 932.4 1252 930.2C1253.8 928 1255.6 924.7 1257.2 921.5C1258.8 918.4 1260.1 915.2 1261.6 911.1C1263 907.1 1264.4 901.3 1265.9 897.3C1267.3 893.2 1268.8 889.6 1270.2 886.9C1271.7 884.1 1273.1 882.3 1274.6 880.8C1276 879.4 1277.7 878.7 1278.9 878.2C1280 877.7 1280.6 877.7 1281.5 877.9C1282.3 878 1283.4 878.4 1284.1 879.1C1284.8 879.7 1285.5 881.2 1285.8 881.7" fill="none" stroke="#4fe02a" stroke-width="4.8" stroke-linejoin="round" stroke-linecap="round" clip-path="url(#cf)"/>
<path d="M786.3 938.9C787 938.4 789 937 790.6 936.3C792.2 935.5 794.1 934.5 795.8 934.5C797.5 934.5 799.3 935.5 801 936.3C802.7 937 804.6 938.9 806.2 938.9C807.8 938.9 808.9 937.1 810.5 936.3C812.1 935.5 814 934 815.7 934C817.5 934 819.2 935.5 820.9 936.3C822.7 937.1 824.5 939 826.1 938.9C827.7 938.7 829 936.4 830.5 935.4C831.9 934.4 833.2 932.8 834.8 932.8C836.4 932.8 838.3 934.2 840 935.4C841.7 936.6 843.6 940 845.2 939.7C846.8 939.4 848.1 935.5 849.5 933.7C851 931.8 852.4 929.6 853.9 928.5C855.3 927.3 856.6 926.7 858.2 926.7C859.8 926.7 861.8 928 863.4 928.5C865 928.9 866.3 929.9 867.7 929.3C869.2 928.8 870.7 926.5 872 925C873.3 923.6 874.5 921.6 875.5 920.7C876.5 919.7 877.1 919 878.1 919.5C879.1 919.9 880.4 920.9 881.6 923.3C882.7 925.6 884 930.8 885 933.7C886.1 936.6 886.8 941.5 887.6 940.6C888.5 939.7 889.2 933.4 890.2 928.5C891.3 923.6 892.6 916.1 893.7 911.1C894.9 906.2 896 901.9 897.2 899C898.3 896.1 899.6 894.8 900.6 893.8C901.7 892.8 902.2 892.1 903.2 892.9C904.3 893.8 905.6 896.6 906.7 899C907.9 901.5 909 905.4 910.2 907.7C911.3 910 912.5 913.2 913.6 912.9C914.8 912.6 915.9 909.7 917.1 905.9C918.3 902.2 919.4 895.5 920.6 890.3C921.7 885.1 922.9 878.5 924 874.7C925.2 871 926.2 869.6 927.5 867.8C928.8 866.1 930.5 865.8 931.8 864.4C933.1 862.9 934.1 862.6 935.3 859.2C936.5 855.7 937.6 849.3 938.8 843.6C939.9 837.8 941.1 830.6 942.2 824.5C943.4 818.4 944.5 812.4 945.7 807.2C946.9 802 948 796.8 949.2 793.3C950.3 789.8 951.7 787.7 952.6 786.4C953.6 785.1 953.8 784.8 954.7 785.5C955.6 786.2 956.7 787.7 957.8 790.7C958.9 793.7 960.1 798.1 961.3 803.7C962.5 809.3 963.6 817 964.8 824.5C965.9 832 967.1 840.7 968.2 848.8C969.4 856.8 970.5 865.2 971.7 873C972.8 880.8 974 888.9 975.2 895.5C976.3 902.2 977.3 908 978.6 912.9C979.9 917.8 981.5 921.8 983 925C984.4 928.2 986 930.1 987.3 931.9C988.6 933.8 989.6 936.8 990.8 936.3C991.9 935.7 992.9 932.7 994.2 928.5C995.5 924.3 997.1 916.9 998.6 911.1C1000 905.4 1001.4 899 1002.9 893.8C1004.3 888.6 1005.8 884 1007.2 879.9C1008.7 875.9 1010.1 872.4 1011.6 869.6C1013 866.7 1014.6 864.4 1015.9 862.6C1017.2 860.9 1018.3 860 1019.4 859.2C1020.4 858.3 1021.3 857.6 1022.5 857.8C1023.6 857.9 1024.9 858.3 1026.3 860C1027.6 861.7 1029.2 864.2 1030.6 867.8C1032.1 871.4 1033.9 876.8 1034.9 881.7C1036 886.6 1036 891.8 1037.1 897.3C1038.2 902.8 1040 909.4 1041.5 914.6C1042.9 919.8 1044.5 925.2 1045.8 928.5C1047.1 931.8 1048.3 933.2 1049.3 934.5C1050.3 935.8 1050.9 936.7 1051.9 936.3C1052.9 935.8 1054.2 932.9 1055.3 931.9C1056.5 930.9 1057.6 930.2 1058.8 930.2C1059.9 930.2 1061 930.9 1062.3 931.9C1063.6 932.9 1065.3 935.2 1066.6 936.3C1067.8 937.4 1068.6 939 1069.7 938.5C1070.9 938.1 1072.2 935.2 1073.5 933.7C1074.9 932.1 1076.6 930.3 1077.9 929.3C1079.2 928.4 1080 928 1081.3 928.1C1082.6 928.3 1084.2 929 1085.7 930.2C1087.1 931.4 1088.5 933.8 1090 935.4C1091.4 937 1093 939.7 1094.3 939.7C1095.6 939.7 1096.5 937 1097.8 935.4C1099.1 933.8 1100.7 931.3 1102.1 930.2C1103.6 929.1 1104.9 928.8 1106.5 928.8C1108 928.8 1109.9 929.5 1111.6 930.2C1113.4 930.9 1115.4 932.3 1116.8 932.8C1118.3 933.3 1119 933.6 1120.3 933.3C1121.6 933 1123.2 931.8 1124.6 931.1C1126.1 930.3 1127.7 929.3 1129 928.8C1130.3 928.4 1131 928.2 1132.4 928.5C1133.9 928.7 1135.9 929.3 1137.6 930.2C1139.4 931.1 1141.1 932.7 1142.8 933.7C1144.6 934.7 1146.3 935.7 1148 936.3C1149.8 936.8 1151.2 937.2 1153.2 937.1C1155.3 937.1 1157.9 936.2 1160.2 935.8C1162.5 935.3 1164.8 934.7 1167.1 934.5C1169.4 934.4 1171.7 934.9 1174 935.1C1176.3 935.3 1178.7 935.6 1181 935.8C1183.3 935.9 1185.6 935.9 1187.9 935.8C1190.2 935.6 1192.5 935.1 1194.8 935.1C1197.1 935 1199.2 935.2 1201.8 935.4C1204.4 935.6 1207.5 936 1210.4 936.3C1213.3 936.6 1216.5 936.8 1219.1 937.1C1221.7 937.5 1223.7 938.1 1226 938.5C1228.3 939 1230.6 939.6 1233 939.7C1235.3 939.9 1237.6 939.4 1239.9 939.2C1242.2 939.1 1244.5 939.1 1246.8 938.9C1249.1 938.7 1251.7 938.4 1253.8 938C1255.8 937.6 1257.2 936.8 1259 936.3C1260.7 935.7 1262.1 935 1264.2 934.5C1266.2 934 1268.8 933.6 1271.1 933.3C1273.4 933 1275.6 932.9 1278 932.8C1280.5 932.7 1284.5 932.8 1285.8 932.8" fill="none" stroke="#3f72ea" stroke-width="4.8" stroke-linejoin="round" stroke-linecap="round" clip-path="url(#cf)"/>
<path d="M1043.2 556.1H1089.6" stroke="#4a4a4a" stroke-width="5.2" stroke-linecap="round" fill="none"/>
<text x="1096.6" y="564" font-size="26.8" text-anchor="start" font-weight="bold" fill="#000">Mo foil</text>
<path d="M1043.2 590.3H1089.6" stroke="#f2353c" stroke-width="5.2" stroke-linecap="round" fill="none"/>
<text x="1096.6" y="598.1" font-size="26.8" text-anchor="start" font-weight="bold" fill="#000">MoO<tspan font-size="15.5" dy="9">3</tspan><tspan dy="-9" font-size="1">&#8203;</tspan></text>
<path d="M1043.2 632H1089.6" stroke="#4fe02a" stroke-width="5.2" stroke-linecap="round" fill="none"/>
<text x="1096.6" y="639.8" font-size="26.8" text-anchor="start" font-weight="bold" fill="#000">MoS<tspan font-size="15.5" dy="9">2</tspan><tspan dy="-9" font-size="1">&#8203;</tspan></text>
<path d="M1043.2 673H1089.6" stroke="#3f72ea" stroke-width="5.2" stroke-linecap="round" fill="none"/>
<text x="1096.6" y="680.8" font-size="26.8" text-anchor="start" font-weight="bold" fill="#000">In-O-MoS<tspan font-size="15.5" dy="9">2</tspan><tspan dy="-9" font-size="1">&#8203;</tspan>@Ru</text>
<text x="933.3" y="617.6" font-size="26.7" text-anchor="start" font-weight="bold" fill="#000">Mo-Mo</text>
<text x="912.1" y="716" font-size="26.7" text-anchor="start" font-weight="bold" fill="#000">Mo-S</text>
<text x="868.4" y="781.6" font-size="26.7" text-anchor="start" font-weight="bold" fill="#000">Mo-O</text>
<path d="M1023.8 653.5L1012.2 625" stroke="#000" stroke-width="2.8" fill="none"/>
<path d="M1008.8 617.6L1017.2 628.6L1009.6 631.8Z" fill="#000"/>
<path d="M786.1 941.8v9.5M952.7 941.8v9.5M1119.3 941.8v9.5M1285.9 941.8v9.5M869.4 941.8v5.5M1036 941.8v5.5M1202.6 941.8v5.5M786.1 941.8h-9.5M786.1 891.5h-9.5M786.1 841.2h-9.5M786.1 790.9h-9.5M786.1 740.6h-9.5M786.1 690.3h-9.5M786.1 640h-9.5M786.1 589.7h-9.5M786.1 539.4h-9.5M786.1 916.6h-5.5M786.1 866.3h-5.5M786.1 816h-5.5M786.1 765.8h-5.5M786.1 715.4h-5.5M786.1 665.1h-5.5M786.1 614.8h-5.5M786.1 564.5h-5.5" stroke="#000" stroke-width="2.8" fill="none"/>
<rect x="786.1" y="539.4" width="499.8" height="402.4" fill="none" stroke="#000" stroke-width="2.8"/>
<text x="786.1" y="976.4" font-size="27" text-anchor="middle" font-weight="bold" fill="#000">0</text>
<text x="952.7" y="976.4" font-size="27" text-anchor="middle" font-weight="bold" fill="#000">2</text>
<text x="1119.3" y="976.4" font-size="27" text-anchor="middle" font-weight="bold" fill="#000">4</text>
<text x="1285.9" y="976.4" font-size="27" text-anchor="middle" font-weight="bold" fill="#000">6</text>
<text x="772.8" y="950" font-size="27" text-anchor="end" font-weight="bold" fill="#000">0</text>
<text x="772.8" y="899.7" font-size="27" text-anchor="end" font-weight="bold" fill="#000">5</text>
<text x="772.8" y="849.4" font-size="27" text-anchor="end" font-weight="bold" fill="#000">10</text>
<text x="772.8" y="799.1" font-size="27" text-anchor="end" font-weight="bold" fill="#000">15</text>
<text x="772.8" y="748.8" font-size="27" text-anchor="end" font-weight="bold" fill="#000">20</text>
<text x="772.8" y="698.5" font-size="27" text-anchor="end" font-weight="bold" fill="#000">25</text>
<text x="772.8" y="648.2" font-size="27" text-anchor="end" font-weight="bold" fill="#000">30</text>
<text x="772.8" y="597.9" font-size="27" text-anchor="end" font-weight="bold" fill="#000">35</text>
<text x="772.8" y="547.6" font-size="27" text-anchor="end" font-weight="bold" fill="#000">40</text>
<text x="1035.5" y="1009.1" font-size="28.5" text-anchor="middle" font-weight="bold" fill="#000">Radial distance (&#197;)</text>
<text transform="translate(719.3 741.9) rotate(-90)" font-size="28.5" text-anchor="middle" font-weight="bold">|FT (k<tspan font-size="17" dy="-11">3</tspan><tspan dy="11" font-size="1">&#8203;</tspan> <tspan font-weight="normal" font-family="'DejaVu Sans', 'Liberation Sans', sans-serif" font-size="27">&#967;</tspan>(k)|</text>
<path d="M1466.8 940.6C1469.2 940.5 1475.7 940 1481 939.7C1486.3 939.4 1492.5 938.8 1498.3 938.9C1504.1 939 1510.7 939.8 1515.7 940.3C1520.6 940.7 1524.3 941.6 1527.8 941.5C1531.3 941.4 1533.9 940.3 1536.5 939.7C1539.1 939.2 1541.5 937.9 1543.4 938C1545.3 938.1 1546.6 939.9 1547.7 940.6C1548.8 941.3 1549 942.6 1550 942.3C1551 942 1552.3 939.8 1553.8 938.9C1555.3 937.9 1557.2 936.9 1559 936.8C1560.7 936.6 1562.4 937.7 1564.2 938C1565.9 938.4 1567.6 939.3 1569.4 938.9C1571.1 938.4 1573 936.5 1574.6 935.4C1576.2 934.3 1577.6 932.6 1578.9 932.3C1580.2 932 1581.2 932.6 1582.4 933.7C1583.5 934.8 1584.8 937.5 1585.8 938.9C1586.9 940.3 1587.4 942.6 1588.4 942C1589.5 941.4 1590.6 937.8 1591.9 935.4C1593.2 933 1594.8 929.3 1596.2 927.6C1597.7 925.9 1599.1 924.9 1600.6 925C1602 925.2 1603.5 927.3 1604.9 928.5C1606.3 929.6 1607.9 931.6 1609.2 931.9C1610.5 932.2 1611.7 931.9 1612.7 930.2C1613.7 928.5 1614.3 925 1615.3 921.5C1616.3 918.1 1617.5 912.6 1618.8 909.4C1620.1 906.2 1621.5 903.3 1623.1 902.5C1624.7 901.6 1626.9 903.6 1628.3 904.2C1629.7 904.8 1630.6 908 1631.8 905.9C1632.9 903.9 1634.1 899.3 1635.2 892.1C1636.4 884.9 1637.5 873.3 1638.7 862.6C1639.9 851.9 1641 840.1 1642.2 828C1643.3 815.8 1644.5 802.8 1645.6 789.8C1646.8 776.8 1647.9 762.7 1649.1 750C1650.3 737.3 1651.4 724.6 1652.6 713.6C1653.7 702.6 1654.9 692.8 1656 684.1C1657.2 675.5 1658.3 667.7 1659.5 661.6C1660.6 655.5 1661.9 650.8 1663 647.7C1664.1 644.7 1665.1 643.4 1666.1 643.4C1667.1 643.4 1668 643.5 1669 647.7C1670.1 651.9 1671.3 659.3 1672.5 668.5C1673.6 677.8 1674.8 690.5 1676 703.2C1677.1 715.9 1678.3 730.3 1679.4 744.8C1680.6 759.2 1681.7 774.8 1682.9 789.8C1684 804.9 1685.2 819.9 1686.4 834.9C1687.5 849.9 1688.7 866.1 1689.8 879.9C1691 893.8 1692.3 909.6 1693.3 918.1C1694.3 926.6 1694.9 929.9 1695.9 931.1C1696.9 932.2 1698.2 926.3 1699.4 925C1700.5 923.7 1701.7 923 1702.8 923.3C1704 923.6 1705.1 924.7 1706.3 926.7C1707.4 928.8 1708.6 932.9 1709.7 935.4C1710.9 937.9 1712.1 941.2 1713.2 941.5C1714.3 941.8 1715 938.7 1716.3 937.1C1717.5 935.5 1719 932.9 1720.6 931.9C1722.2 930.9 1723.8 931.4 1725.8 931.1C1727.8 930.8 1730.4 930.8 1732.7 930.2C1735 929.6 1737.6 929.1 1739.7 927.6C1741.7 926.2 1743.1 924.3 1744.9 921.5C1746.6 918.8 1748.3 914.6 1750.1 911.1C1751.8 907.7 1753.5 903.9 1755.3 900.7C1757 897.6 1759 894 1760.5 892.1C1761.9 890.2 1762.9 890 1763.9 889.5C1764.9 889 1765.5 888.4 1766.5 889C1767.5 889.5 1768.7 890.7 1770 892.9C1771.3 895.2 1772.9 898.9 1774.3 902.5C1775.8 906.1 1777.2 911.1 1778.7 914.6C1780.1 918.1 1781.5 921.2 1783 923.3C1784.4 925.4 1785.6 926.2 1787.3 927.1C1789.1 928 1791.5 927.4 1793.4 928.5C1795.3 929.6 1797.1 932.2 1798.6 933.7C1800 935.1 1800.9 937.4 1802 937.1C1803.2 936.8 1804.4 935.1 1805.5 931.9C1806.7 928.8 1807.7 923 1809 918.1C1810.3 913.2 1811.9 907.1 1813.3 902.5C1814.8 897.9 1816.2 893.8 1817.6 890.3C1819.1 886.9 1820.5 884 1822 881.7C1823.4 879.4 1825 877.7 1826.3 876.5C1827.6 875.3 1828.9 874.8 1829.8 874.4C1830.7 874 1831 873.7 1831.9 874.1C1832.7 874.4 1833.9 874.6 1835 876.5C1836.1 878.3 1837.3 881.4 1838.4 885.1C1839.6 888.9 1840.8 894.1 1841.9 899C1843.1 903.9 1844.4 910.3 1845.4 914.6C1846.4 918.9 1847.1 922.7 1848 925C1848.8 927.3 1849.7 929.6 1850.6 928.5C1851.4 927.3 1852.3 921.8 1853.2 918.1C1854 914.3 1854.8 909.4 1855.8 905.9C1856.8 902.5 1858.1 899.3 1859.2 897.3C1860.4 895.3 1861.7 894.5 1862.7 893.8C1863.7 893.1 1864.1 892.7 1865.3 892.9C1866.5 893.2 1868.2 894.7 1869.6 895.5C1871.1 896.4 1872.8 897.6 1874 898.1C1875.1 898.7 1875.6 899.6 1876.6 899C1877.6 898.4 1878.7 896.4 1880 894.7C1881.3 892.9 1882.9 890.1 1884.4 888.6C1885.8 887.2 1887.3 885.7 1888.7 886C1890.1 886.3 1891.6 887.9 1893 890.3C1894.5 892.8 1895.9 897 1897.4 900.7C1898.8 904.5 1900.3 909.1 1901.7 912.9C1903.1 916.6 1904.6 920.4 1906 923.3C1907.5 926.2 1908.9 928.8 1910.4 930.2C1911.8 931.6 1912.8 931.7 1914.7 931.9C1916.6 932.2 1919 931.8 1921.6 931.6C1924.2 931.4 1927.4 930.9 1930.3 930.6C1933.2 930.2 1936.6 929.4 1939 929.3C1941.3 929.3 1942.1 929.5 1944.2 930.2C1946.2 930.9 1948.8 932.5 1951.1 933.7C1953.4 934.8 1956 936.5 1958 937.1C1960 937.8 1961.6 937.6 1963.2 937.5C1964.8 937.3 1966.8 936.5 1967.5 936.3" fill="none" stroke="#4a4a4a" stroke-width="4.8" stroke-linejoin="round" stroke-linecap="round" clip-path="url(#cj)"/>
<path d="M1466.8 918.1C1467.4 918.8 1469.2 920.1 1470.6 922.4C1472 924.7 1473.5 929.6 1474.9 931.9C1476.3 934.2 1477.6 936.8 1478.9 936.3C1480.2 935.7 1481.4 931.2 1482.7 928.5C1484.1 925.7 1485.8 921.6 1487.1 919.8C1488.4 918 1489.2 917.4 1490.5 917.7C1491.8 918 1493.4 919.5 1494.9 921.5C1496.3 923.6 1497.9 927.9 1499.2 930.2C1500.5 932.5 1501.5 936 1502.7 935.4C1503.8 934.8 1504.8 930.2 1506.1 926.7C1507.4 923.3 1509 917.3 1510.5 914.6C1511.9 912 1513.3 910.8 1514.8 910.8C1516.2 910.8 1517.8 912.5 1519.1 914.6C1520.4 916.7 1521.4 920.4 1522.6 923.3C1523.7 926.2 1525.2 930.1 1526.1 931.9C1526.9 933.7 1527.1 935.5 1527.8 934C1528.5 932.6 1529.4 928.5 1530.4 923.3C1531.4 918 1532.7 908.8 1533.9 902.5C1535 896.1 1536.2 890.1 1537.3 885.1C1538.5 880.2 1539.6 875.6 1540.8 873C1541.9 870.4 1542.9 869.6 1544.2 869.6C1545.5 869.6 1547.1 871 1548.6 873C1550 875 1551.6 879.4 1552.9 881.7C1554.2 883.9 1555.2 886.8 1556.4 886.5C1557.5 886.2 1558.7 883.6 1559.8 879.9C1561 876.3 1562.2 870.1 1563.3 864.4C1564.5 858.6 1565.6 851.6 1566.8 845.3C1567.9 838.9 1568.9 832.6 1570.2 826.2C1571.5 819.9 1573.1 813.8 1574.6 807.2C1576 800.5 1577.5 793.6 1578.9 786.4C1580.4 779.1 1581.8 771.3 1583.2 763.8C1584.7 756.3 1586.1 748 1587.6 741.3C1589 734.7 1590.6 727.9 1591.9 724C1593.2 720.1 1594.5 719.1 1595.4 717.9C1596.2 716.8 1596.4 716.8 1597.1 717C1597.8 717.3 1598.7 717 1599.7 719.6C1600.7 722.2 1602 726.4 1603.2 732.6C1604.3 738.9 1605.5 747.7 1606.6 756.9C1607.8 766.1 1608.9 777.4 1610.1 788.1C1611.3 798.8 1612.4 810.1 1613.6 821C1614.7 832 1616 844.1 1617 854C1618 863.8 1618.8 872.2 1619.6 879.9C1620.5 887.7 1621.5 896.6 1622.2 900.7C1623 904.9 1623.2 905.1 1624 905.1C1624.7 905.1 1625.6 902.3 1626.6 900.7C1627.6 899.2 1628.9 896.7 1630 895.5C1631.2 894.4 1632.3 893.5 1633.5 893.8C1634.7 894.1 1635.8 895.3 1637 897.3C1638.1 899.3 1639.1 903.1 1640.4 905.9C1641.7 908.8 1643.3 912.6 1644.8 914.6C1646.2 916.6 1647.7 917.8 1649.1 918.1C1650.5 918.4 1651.8 916.9 1653.4 916.3C1655 915.8 1657.2 915.5 1658.6 914.6C1660.1 913.7 1660.9 913.5 1662.1 911.1C1663.2 908.8 1664.4 905.4 1665.6 900.7C1666.7 896.1 1667.9 889.8 1669 883.4C1670.2 877.1 1671.3 869.6 1672.5 862.6C1673.6 855.7 1674.8 848.5 1676 841.8C1677.1 835.2 1678.3 827.7 1679.4 822.8C1680.6 817.8 1681.7 814.7 1682.9 812.4C1684 810.1 1685.2 808.6 1686.4 808.9C1687.5 809.2 1688.7 810.9 1689.8 814.1C1691 817.3 1692.1 821.9 1693.3 828C1694.4 834 1695.6 841.8 1696.8 850.5C1697.9 859.2 1699.2 871.3 1700.2 879.9C1701.2 888.6 1702.1 897.3 1702.8 902.5C1703.5 907.7 1704 910.9 1704.6 911.1C1705.1 911.4 1705.6 910 1706.3 904.2C1707 898.4 1707.9 887.7 1708.9 876.5C1709.9 865.2 1711.2 850.5 1712.3 836.6C1713.5 822.8 1715 804.9 1715.8 793.3C1716.6 781.7 1716.3 777.7 1717.1 767.3C1717.9 756.9 1719.4 741.3 1720.6 730.9C1721.8 720.5 1722.9 712.1 1724.1 704.9C1725.2 697.7 1726.4 692.1 1727.5 687.6C1728.7 683.1 1729.7 680.2 1731 678.1C1732.3 675.9 1733.9 674.4 1735.3 674.6C1736.8 674.7 1738.2 675.9 1739.7 678.9C1741.1 682 1742.5 686.4 1744 692.8C1745.4 699.1 1746.9 707.5 1748.3 717C1749.8 726.6 1751.2 737.8 1752.7 750C1754.1 762.1 1755.5 776.8 1757 789.8C1758.4 802.8 1760 816.7 1761.3 828C1762.6 839.2 1763.6 848.8 1764.8 857.4C1765.9 866.1 1767.1 874.2 1768.3 879.9C1769.4 885.7 1770.6 889.5 1771.7 892.1C1772.9 894.6 1774 895.1 1775.2 895.2C1776.3 895.3 1777.6 893.5 1778.7 892.9C1779.7 892.4 1780.2 891.3 1781.3 891.7C1782.3 892.2 1783.6 893.2 1784.7 895.5C1785.9 897.9 1787 901.9 1788.2 905.9C1789.3 910 1790.6 915.5 1791.6 919.8C1792.7 924.1 1793.4 928.8 1794.2 931.9C1795.1 935.1 1795.8 938.5 1796.5 938.5C1797.2 938.5 1797.8 935.9 1798.6 931.9C1799.4 928 1800.2 921.5 1801.2 914.6C1802.2 907.7 1803.5 897.3 1804.6 890.3C1805.8 883.4 1807 877.3 1808.1 873C1809.3 868.7 1810.4 866.4 1811.6 864.4C1812.7 862.3 1814.1 861.3 1815 860.5C1816 859.8 1816.3 859.5 1817.3 860C1818.3 860.5 1819.8 861.3 1821.1 863.5C1822.5 865.7 1824 869.1 1825.4 873C1826.9 876.9 1828.3 882.5 1829.8 886.9C1831.2 891.2 1832.5 895.5 1834.1 899C1835.7 902.5 1837.6 905.4 1839.3 907.7C1841 910 1842.9 911.4 1844.5 912.9C1846.1 914.3 1847.4 914.8 1848.8 916.3C1850.3 917.9 1851.7 920.1 1853.2 922.4C1854.6 924.7 1856.1 928 1857.5 930.2C1858.9 932.4 1860.8 934.4 1861.8 935.4C1862.8 936.4 1862.8 937.4 1863.6 936.3C1864.3 935.1 1865.2 932.7 1866.2 928.5C1867.2 924.3 1868.3 918.7 1869.6 911.1C1870.9 903.6 1872.5 892.7 1874 883.4C1875.4 874.2 1876.9 864.4 1878.3 855.7C1879.7 847 1881.2 838.6 1882.6 831.4C1884.1 824.2 1885.5 817.3 1887 812.4C1888.4 807.5 1889.9 804.3 1891.3 802C1892.7 799.7 1894.5 799.2 1895.6 798.5C1896.8 797.8 1897.1 797.2 1898.2 797.6C1899.4 798.1 1901.1 798.6 1902.6 801.1C1904 803.6 1905.4 807.6 1906.9 812.4C1908.3 817.1 1909.8 823.3 1911.2 829.7C1912.7 836 1914.1 843.3 1915.6 850.5C1917 857.7 1918.4 865.8 1919.9 873C1921.3 880.2 1922.8 887.5 1924.2 893.8C1925.7 900.2 1927.3 906.8 1928.6 911.1C1929.9 915.5 1931 918.1 1932 919.8C1933 921.5 1933.6 922.1 1934.6 921.5C1935.6 921 1936.8 918.7 1938.1 916.3C1939.4 914 1940.8 910.3 1942.4 907.7C1944 905.1 1945.9 902.2 1947.6 900.7C1949.4 899.2 1951.1 898.7 1952.8 898.7C1954.6 898.7 1956.3 899.5 1958 900.7C1959.7 902 1961.6 904.5 1963.2 905.9C1964.8 907.4 1966.8 908.8 1967.5 909.4" fill="none" stroke="#f2353c" stroke-width="4.8" stroke-linejoin="round" stroke-linecap="round" clip-path="url(#cj)"/>
<path d="M1466.8 938.9C1468.6 939 1473.7 939.7 1477.5 939.7C1481.3 939.7 1485.9 939.2 1489.7 938.9C1493.4 938.6 1497.2 938 1500.1 938C1502.9 938 1504.7 938.5 1507 938.9C1509.3 939.2 1511.9 940.4 1513.9 940.3C1515.9 940.1 1517.4 939 1519.1 938C1520.9 937.1 1522.6 935.3 1524.3 934.5C1526.1 933.8 1527.5 933.5 1529.5 933.3C1531.5 933.2 1534.1 933.6 1536.5 933.7C1538.8 933.8 1541.4 934.3 1543.4 934C1545.4 933.7 1546.8 932.9 1548.6 931.9C1550.3 931 1552 929.3 1553.8 928.5C1555.5 927.7 1557.2 927.1 1559 927.1C1560.7 927.1 1562.4 927.7 1564.2 928.5C1565.9 929.3 1567.9 931.1 1569.4 931.9C1570.8 932.7 1571.7 933.6 1572.8 933.3C1574 933 1575.2 931.9 1576.3 930.2C1577.5 928.5 1578.5 926.2 1579.8 923.3C1581.1 920.4 1582.7 916.1 1584.1 912.9C1585.6 909.7 1587.1 906.2 1588.4 904.2C1589.7 902.2 1590.8 901.5 1591.9 900.7C1593 900 1593.9 899.6 1595 899.9C1596.2 900.2 1597.6 900.9 1598.8 902.5C1600.1 904.1 1601 906.5 1602.3 909.4C1603.6 912.3 1605.2 916.3 1606.6 919.8C1608.1 923.3 1609.8 928.1 1611 930.2C1612.1 932.3 1612.7 932.6 1613.6 932.3C1614.4 932 1615.2 930.8 1616.2 928.5C1617.2 926.1 1618.3 921.5 1619.6 918.1C1620.9 914.6 1622.5 910.6 1624 907.7C1625.4 904.8 1626.7 902.5 1628.3 900.7C1629.9 899 1631.8 898.3 1633.5 897.3C1635.2 896.3 1637.1 896.1 1638.7 894.7C1640.3 893.2 1641.6 891.4 1643 888.6C1644.5 885.9 1645.9 882.3 1647.4 878.2C1648.8 874.2 1650.3 868.7 1651.7 864.4C1653.1 860 1654.6 855.4 1656 852.2C1657.5 849 1659.1 846.7 1660.4 845.3C1661.7 843.8 1663 843.9 1663.8 843.6C1664.7 843.2 1664.5 842.8 1665.6 843.2C1666.6 843.6 1668.4 843.8 1669.9 846.2C1671.3 848.5 1672.8 852.7 1674.2 857.4C1675.7 862.2 1677.1 868.4 1678.6 874.7C1680 881.1 1681.4 888.6 1682.9 895.5C1684.3 902.5 1685.8 910.3 1687.2 916.3C1688.7 922.4 1690.4 928.3 1691.6 931.9C1692.7 935.5 1693.4 936.8 1694.2 938C1694.9 939.2 1695 940.2 1695.9 938.9C1696.8 937.6 1698.1 932.9 1699.4 930.2C1700.7 927.5 1702.2 924 1703.7 922.4C1705.1 920.8 1706.4 920.5 1708 920.7C1709.6 920.8 1711.4 921.7 1713.2 923.3C1715 924.9 1717.1 928.2 1718.9 930.2C1720.7 932.2 1722.5 934.2 1724.1 935.4C1725.7 936.6 1726.8 937.1 1728.4 937.1C1730 937.2 1731.7 936.2 1733.6 935.8C1735.5 935.3 1737.2 934.5 1739.7 934.5C1742.1 934.5 1745.7 935.8 1748.3 935.8C1750.9 935.8 1752.9 934.9 1755.3 934.5C1757.6 934.1 1760.2 933.3 1762.2 933.3C1764.2 933.3 1765.7 933.8 1767.4 934.5C1769.1 935.3 1770.7 937 1772.6 938C1774.5 939 1776.8 940.7 1778.7 940.6C1780.5 940.5 1782 938.3 1783.9 937.1C1785.7 936 1788 934.4 1789.9 933.7C1791.8 932.9 1793.2 932.7 1795.1 932.8C1797 932.9 1799.2 933.7 1801.2 934.5C1803.2 935.4 1805.1 937 1807.2 938C1809.4 939 1811.6 940 1814.2 940.6C1816.8 941.2 1820.2 941.6 1822.8 941.5C1825.4 941.3 1827.5 940.7 1829.8 939.7C1832.1 938.7 1834.4 936.7 1836.7 935.4C1839 934.1 1841.3 932.7 1843.6 931.9C1845.9 931.2 1848.3 930.9 1850.6 931.1C1852.9 931.2 1855.2 931.9 1857.5 932.8C1859.8 933.8 1862.4 935.9 1864.4 936.8C1866.5 937.7 1867.6 938.2 1869.6 938C1871.7 937.8 1874.3 936.2 1876.6 935.4C1878.9 934.6 1881.5 933.7 1883.5 933.3C1885.5 933 1886.7 933.1 1888.7 933.3C1890.7 933.5 1893 934 1895.6 934.5C1898.2 935.1 1901.4 936.4 1904.3 936.8C1907.2 937.2 1910.1 937.1 1913 937.1C1915.8 937.2 1919 936.8 1921.6 937.1C1924.2 937.4 1926.2 938.2 1928.6 938.9C1930.9 939.5 1932.9 940.4 1935.5 940.9C1938.1 941.5 1941.3 941.9 1944.2 942C1947 942.1 1949.9 941.5 1952.8 941.5C1955.7 941.5 1959 942 1961.5 942C1963.9 942 1966.5 941.6 1967.5 941.5" fill="none" stroke="#3f72ea" stroke-width="4.8" stroke-linejoin="round" stroke-linecap="round" clip-path="url(#cj)"/>
<path d="M1718.2 563H1765.6" stroke="#4a4a4a" stroke-width="5.2" stroke-linecap="round" fill="none"/>
<text x="1772.2" y="570.6" font-size="26.8" text-anchor="start" font-weight="bold" fill="#000">Ru foil</text>
<path d="M1718.2 596.1H1765.6" stroke="#f2353c" stroke-width="5.2" stroke-linecap="round" fill="none"/>
<text x="1772.2" y="604" font-size="26.8" text-anchor="start" font-weight="bold" fill="#000">RuO<tspan font-size="15.5" dy="9">2</tspan><tspan dy="-9" font-size="1">&#8203;</tspan></text>
<path d="M1718.2 638.1H1765.6" stroke="#3f72ea" stroke-width="5.2" stroke-linecap="round" fill="none"/>
<text x="1772.2" y="645.6" font-size="26.8" text-anchor="start" font-weight="bold" fill="#000">In-O-MoS<tspan font-size="15.5" dy="9">2</tspan><tspan dy="-9" font-size="1">&#8203;</tspan>@Ru</text>
<text x="1622.9" y="635.7" font-size="26.7" text-anchor="start" font-weight="bold" fill="#000">Ru-Ru</text>
<text x="1566.5" y="707.1" font-size="26.7" text-anchor="start" font-weight="bold" fill="#000">Ru-O</text>
<path d="M1466.7 942.9v9.5M1633.8 942.9v9.5M1800.8 942.9v9.5M1967.9 942.9v9.5M1550.2 942.9v5.5M1717.3 942.9v5.5M1884.4 942.9v5.5M1466.7 942.9h-9.5M1466.7 862.3h-9.5M1466.7 781.8h-9.5M1466.7 701.2h-9.5M1466.7 620.7h-9.5M1466.7 540.1h-9.5M1466.7 902.6h-5.5M1466.7 822.1h-5.5M1466.7 741.5h-5.5M1466.7 660.9h-5.5M1466.7 580.4h-5.5" stroke="#000" stroke-width="2.8" fill="none"/>
<rect x="1466.7" y="540.1" width="501.2" height="402.8" fill="none" stroke="#000" stroke-width="2.8"/>
<text x="1466.7" y="977.5" font-size="27" text-anchor="middle" font-weight="bold" fill="#000">0</text>
<text x="1633.8" y="977.5" font-size="27" text-anchor="middle" font-weight="bold" fill="#000">2</text>
<text x="1800.8" y="977.5" font-size="27" text-anchor="middle" font-weight="bold" fill="#000">4</text>
<text x="1967.9" y="977.5" font-size="27" text-anchor="middle" font-weight="bold" fill="#000">6</text>
<text x="1453.4" y="951.1" font-size="27" text-anchor="end" font-weight="bold" fill="#000">0</text>
<text x="1453.4" y="870.5" font-size="27" text-anchor="end" font-weight="bold" fill="#000">5</text>
<text x="1453.4" y="789.9" font-size="27" text-anchor="end" font-weight="bold" fill="#000">10</text>
<text x="1453.4" y="709.4" font-size="27" text-anchor="end" font-weight="bold" fill="#000">15</text>
<text x="1453.4" y="628.8" font-size="27" text-anchor="end" font-weight="bold" fill="#000">20</text>
<text x="1453.4" y="548.3" font-size="27" text-anchor="end" font-weight="bold" fill="#000">25</text>
<text x="1715.6" y="1015.6" font-size="28.5" text-anchor="middle" font-weight="bold" fill="#000">Radial distance (&#197;)</text>
<text transform="translate(1402.3 739.8) rotate(-90)" font-size="28.5" text-anchor="middle" font-weight="bold">|FT (k<tspan font-size="17" dy="-11">3</tspan><tspan dy="11" font-size="1">&#8203;</tspan> <tspan font-weight="normal" font-family="'DejaVu Sans', 'Liberation Sans', sans-serif" font-size="27">&#967;</tspan>(k)|</text>
<path d="M105.4 1461.2C106.1 1459.5 108.5 1454 110 1451.2C111.4 1448.4 112.7 1445.7 114 1444.2C115.2 1442.7 116 1441.7 117.4 1442.2C118.7 1442.7 120.5 1445 121.9 1447.2C123.4 1449.4 124.8 1453 125.9 1455.2C127.1 1457.4 127.8 1460.5 128.9 1460.2C130.1 1459.8 131.6 1455.9 132.9 1453.2C134.2 1450.5 135.5 1446.7 136.9 1444.2C138.3 1441.7 139.8 1438.4 141.3 1438.2C142.8 1438.1 144.5 1441.1 145.9 1443.2C147.3 1445.4 148.6 1448.9 149.9 1451.2C151.1 1453.5 152.1 1458.2 153.3 1457.2C154.4 1456.2 155.6 1449.9 156.9 1445.2C158.1 1440.6 159.6 1433.9 160.9 1429.2C162.1 1424.6 163.4 1419.8 164.4 1417.3C165.5 1414.8 166.2 1413.9 167.2 1414.3C168.3 1414.6 169.7 1417.1 170.8 1419.3C171.9 1421.4 172.8 1426.1 173.8 1427.3C174.8 1428.4 175.8 1427.9 176.8 1426.3C177.8 1424.6 178.8 1420.3 179.8 1417.3C180.8 1414.3 181.6 1412 182.8 1408.3C184 1404.6 185.6 1398.5 186.8 1395.3C188 1392.2 188.8 1390.7 189.8 1389.3C190.8 1388 191.6 1387 192.8 1387.3C193.9 1387.7 195.5 1389.8 196.8 1391.3C198 1392.8 199.2 1396.5 200.4 1396.3C201.5 1396.2 202.9 1393.2 203.8 1390.3C204.7 1387.5 205.2 1382.2 205.8 1379.4C206.4 1376.5 206.7 1376.7 207.4 1373.4C208 1370 208.8 1364.1 209.7 1359.4C210.6 1354.7 211.9 1349.2 212.7 1345C213.6 1340.9 214 1337.4 214.7 1334.5C215.5 1331.5 216.3 1329.6 217.1 1327.5C218 1325.3 218.9 1323.6 219.7 1321.5C220.6 1319.4 221.4 1317.8 222.3 1314.9C223.2 1312 224.2 1308.8 225.1 1303.9C226 1299 226.8 1292.9 227.7 1285.6C228.6 1278.2 229.5 1269.2 230.3 1259.6C231.1 1250.1 231.8 1239 232.7 1228.3C233.6 1217.6 234.8 1206 235.7 1195.4C236.6 1184.7 237.1 1173.7 237.9 1164.2C238.7 1154.7 239.9 1145.6 240.7 1138.3C241.5 1131 241.8 1124.8 242.7 1120.5C243.5 1116.2 244.7 1113.2 245.7 1112.5C246.6 1111.9 247.3 1113.2 248.3 1116.5C249.2 1119.9 250.4 1125.5 251.3 1132.5C252.1 1139.6 252.6 1148.5 253.4 1158.8C254.2 1169.2 255.2 1181.3 256 1194.4C256.9 1207.4 257.8 1222.2 258.6 1237.1C259.5 1251.9 260.2 1267.8 261 1283.6C261.9 1299.4 262.8 1316.1 263.6 1331.9C264.5 1347.6 265.2 1363.6 266 1378.2C266.9 1392.7 267.7 1407.5 268.6 1419.3C269.5 1431 270.4 1445.6 271.2 1448.6C272 1451.6 272.8 1442.1 273.6 1437.2C274.4 1432.3 275.2 1424.1 276 1419.3C276.8 1414.4 277.7 1410.5 278.6 1408.3C279.5 1406.1 280.3 1405.6 281.2 1405.9C282.1 1406.2 283.3 1408.1 284.2 1410.3C285.1 1412.5 285.8 1415.8 286.6 1419.3C287.4 1422.8 288.1 1427.3 289 1431.2C289.8 1435.2 290.7 1440.2 291.6 1443.2C292.4 1446.2 293.1 1448.5 294 1449.2C294.8 1449.9 295.6 1448.5 296.6 1447.2C297.5 1445.9 298.4 1442.9 299.5 1441.2C300.7 1439.6 302.2 1437.4 303.5 1437.2C304.9 1437.1 306.2 1438.7 307.5 1440.2C308.9 1441.7 310.2 1444.2 311.5 1446.2C312.8 1448.2 314.2 1450.5 315.5 1452.2C316.8 1453.9 318.2 1456.3 319.5 1456.2C320.8 1456.1 322.2 1453.4 323.5 1451.6C324.8 1449.8 326.3 1447.6 327.5 1445.2C328.6 1442.8 329.5 1440.2 330.5 1437.2C331.5 1434.2 332.5 1430.6 333.5 1427.3C334.5 1423.9 335.5 1420.4 336.5 1417.3C337.5 1414.1 338.5 1410.6 339.5 1408.3C340.5 1406 341.5 1404.4 342.5 1403.3C343.4 1402.2 344.4 1401.5 345.4 1401.7C346.4 1401.9 347.4 1402.7 348.4 1404.3C349.4 1405.9 350.7 1409.3 351.4 1411.3C352.1 1413.3 352 1413.8 352.7 1416.3C353.4 1418.7 354.6 1422.8 355.5 1426C356.3 1429.3 357.1 1432.6 357.9 1435.8C358.6 1439.1 359.3 1442.9 360.1 1445.6C360.9 1448.3 361.6 1451.3 362.5 1451.9C363.3 1452.5 364.3 1450.4 365.3 1449.1C366.2 1447.8 367.1 1445.7 368.1 1444.2C369 1442.7 369.9 1441.1 370.9 1440C371.8 1439 372.6 1438.4 373.6 1437.9C374.7 1437.5 375.9 1436.9 377.1 1437.2C378.4 1437.6 379.9 1438.7 381.3 1440C382.7 1441.3 384.1 1443.2 385.5 1444.9C386.9 1446.7 388.3 1449.2 389.7 1450.5C391.1 1451.8 392.5 1452.5 393.9 1452.6C395.3 1452.7 396.7 1452 398.1 1451.2C399.5 1450.4 400.9 1448.9 402.3 1447.7C403.7 1446.5 405.1 1445 406.5 1444.2C407.9 1443.4 409.5 1443 410.7 1442.8C411.8 1442.6 412.3 1442.6 413.5 1442.8C414.6 1443 416.3 1443.5 417.7 1444.2C419.1 1444.9 420.5 1446.2 421.9 1447C423.3 1447.8 424.7 1448.5 426.1 1449.1C427.5 1449.7 428.6 1450.1 430.2 1450.5C431.9 1450.8 433.7 1451 435.8 1451.2C437.9 1451.4 441 1451.9 442.8 1451.9C444.7 1451.9 445.6 1451.8 447 1451.2C448.4 1450.6 449.8 1449.1 451.2 1448.4C452.6 1447.7 454.2 1447.3 455.4 1447C456.6 1446.7 457 1446.6 458.2 1446.7C459.4 1446.8 461 1447 462.4 1447.7C463.8 1448.4 465.2 1449.9 466.6 1451.2C468 1452.5 469.5 1454.5 470.8 1455.4C472.1 1456.3 473.1 1456.9 474.3 1456.8C475.4 1456.7 476.6 1455.5 477.8 1454.7C478.9 1453.9 480.1 1452.6 481.3 1451.9C482.4 1451.2 483.2 1450.9 484.8 1450.5C486.3 1450.1 488.2 1449.7 490.3 1449.5C492.4 1449.3 495 1449.4 497.3 1449.4C499.7 1449.4 502.2 1449.3 504.3 1449.5C506.4 1449.7 508 1449.9 509.9 1450.5C511.8 1451.1 513.6 1452.2 515.5 1453C517.4 1453.8 519.2 1454.9 521.1 1455.4C523 1455.9 524.8 1455.9 526.7 1455.8C528.5 1455.7 530.4 1455.1 532.3 1455C534.1 1454.8 536 1454.7 537.9 1455C539.7 1455.2 541.6 1455.9 543.4 1456.4C545.3 1456.8 547.2 1457.7 549 1457.8C550.9 1457.8 552.8 1457.3 554.6 1456.8C556.5 1456.3 558.4 1455.4 560.2 1454.7C562.1 1454 563.9 1453.1 565.8 1452.6C567.7 1452.1 569.5 1451.8 571.4 1451.9C573.3 1452 575.1 1452.4 577 1453C578.9 1453.7 580.7 1454.8 582.6 1455.8C584.4 1456.8 586.5 1458.3 588.2 1458.9C589.8 1459.5 591 1459.7 592.4 1459.6C593.8 1459.5 595.2 1458.7 596.6 1458.2C598 1457.6 599.4 1456.8 600.7 1456.4C602.1 1455.9 604 1455.6 604.7 1455.4" fill="none" stroke="#1f18c8" stroke-width="4.8" stroke-linejoin="round" stroke-linecap="round" clip-path="url(#cc)"/>
<path d="M105.4 1459.2C106.1 1458 108.5 1454.2 110 1452.2C111.4 1450.2 112.6 1448.4 114 1447.2C115.3 1446 116.6 1445 117.9 1445.2C119.3 1445.4 120.6 1446.9 121.9 1448.2C123.3 1449.5 124.8 1451.9 125.9 1453.2C127.1 1454.5 127.8 1456.5 128.9 1456.2C130.1 1455.9 131.6 1453 132.9 1451.2C134.2 1449.4 135.4 1446.7 136.9 1445.2C138.4 1443.7 140.2 1442.2 141.9 1442.2C143.6 1442.2 145.4 1444 146.9 1445.2C148.4 1446.4 149.7 1448.4 150.9 1449.2C152 1450 152.7 1451.5 153.9 1450.2C155 1448.9 156.5 1444 157.9 1441.2C159.2 1438.4 160.5 1435.2 161.9 1433.2C163.2 1431.2 164.5 1430.1 165.8 1429.2C167.2 1428.4 168.5 1428.3 169.8 1428.2C171.2 1428.2 172.7 1429.3 173.8 1428.8C175 1428.3 175.8 1427.2 176.8 1425.3C177.8 1423.3 178.8 1420.1 179.8 1417.3C180.8 1414.4 181.8 1411.1 182.8 1408.3C183.8 1405.5 184.8 1402.3 185.8 1400.3C186.8 1398.3 187.8 1397.2 188.8 1396.3C189.8 1395.5 190.6 1395 191.8 1395.3C192.9 1395.7 194.4 1397.2 195.8 1398.3C197.1 1399.5 198.6 1402.3 199.8 1402.3C200.9 1402.3 201.9 1400.6 202.8 1398.3C203.6 1396 204 1392.5 204.8 1388.3C205.5 1384.2 206.5 1378.2 207.4 1373.4C208.2 1368.5 208.8 1364.1 209.7 1359.4C210.6 1354.7 211.9 1349.2 212.7 1345C213.6 1340.9 214 1337.4 214.7 1334.5C215.5 1331.5 216.3 1329.6 217.1 1327.5C218 1325.3 218.9 1323.6 219.7 1321.5C220.6 1319.4 221.4 1317.8 222.3 1314.9C223.2 1312 224.2 1308.8 225.1 1303.9C226 1299 226.8 1292.9 227.7 1285.6C228.6 1278.2 229.5 1269.2 230.3 1259.6C231.1 1250.1 231.8 1239 232.7 1228.3C233.6 1217.6 234.8 1206 235.7 1195.4C236.6 1184.7 237.1 1173.7 237.9 1164.2C238.7 1154.7 239.9 1145.6 240.7 1138.3C241.5 1131 241.8 1124.8 242.7 1120.5C243.5 1116.2 244.7 1113.2 245.7 1112.5C246.6 1111.9 247.3 1113.2 248.3 1116.5C249.2 1119.9 250.4 1125.5 251.3 1132.5C252.1 1139.6 252.6 1148.5 253.4 1158.8C254.2 1169.2 255.2 1181.3 256 1194.4C256.9 1207.4 257.8 1222.2 258.6 1237.1C259.5 1251.9 260.2 1267.8 261 1283.6C261.9 1299.4 262.8 1316.1 263.6 1331.9C264.5 1347.6 265.2 1363.6 266 1378.2C266.9 1392.7 267.7 1407.5 268.6 1419.3C269.5 1431 270.4 1445.6 271.2 1448.6C272 1451.6 272.8 1442.1 273.6 1437.2C274.4 1432.3 275.2 1424.1 276 1419.3C276.8 1414.4 277.7 1410.5 278.6 1408.3C279.5 1406.1 280.3 1405.6 281.2 1405.9C282.1 1406.2 283.3 1408.1 284.2 1410.3C285.1 1412.5 285.8 1415.8 286.6 1419.3C287.4 1422.8 288.1 1427.3 289 1431.2C289.8 1435.2 290.7 1440.2 291.6 1443.2C292.4 1446.2 293.1 1448.5 294 1449.2C294.8 1449.9 295.6 1448.5 296.6 1447.2C297.5 1445.9 298.4 1442.9 299.5 1441.2C300.7 1439.6 302.2 1437.4 303.5 1437.2C304.9 1437.1 306.2 1438.7 307.5 1440.2C308.9 1441.7 310.2 1444.4 311.5 1446.2C312.8 1448 314.2 1450.2 315.5 1451.2C316.8 1452.2 318.2 1452.4 319.5 1452.2C320.8 1452 322.2 1451.4 323.5 1450.2C324.8 1449 326.3 1447.4 327.5 1445.2C328.6 1443 329.5 1440.2 330.5 1437.2C331.5 1434.2 332.5 1430.6 333.5 1427.3C334.5 1423.9 335.5 1420.4 336.5 1417.3C337.5 1414.1 338.5 1410.6 339.5 1408.3C340.5 1406 341.5 1404.4 342.5 1403.3C343.4 1402.2 344.4 1401.5 345.4 1401.7C346.4 1401.9 347.4 1402.7 348.4 1404.3C349.4 1405.9 350.7 1409.3 351.4 1411.3C352.1 1413.3 352 1413.8 352.7 1416.3C353.4 1418.7 354.6 1422.8 355.5 1426C356.3 1429.3 357.1 1432.6 357.9 1435.8C358.6 1439.1 359.3 1442.9 360.1 1445.6C360.9 1448.3 361.6 1451.3 362.5 1451.9C363.3 1452.5 364.3 1450.4 365.3 1449.1C366.2 1447.8 367.1 1445.7 368.1 1444.2C369 1442.7 369.9 1440.9 370.9 1440C371.8 1439.1 372.7 1438.5 373.6 1438.6C374.6 1438.7 375.5 1439.4 376.4 1440.7C377.4 1442 378.3 1444.2 379.2 1446.3C380.2 1448.4 381.1 1451.3 382 1453.3C383 1455.3 383.9 1457.1 384.8 1458.2C385.8 1459.2 386.7 1459.9 387.6 1459.6C388.6 1459.2 389.5 1457.3 390.4 1456.1C391.4 1454.9 392.2 1453.4 393.2 1452.6C394.3 1451.8 395.5 1451.2 396.7 1451.2C397.9 1451.2 399 1451.8 400.2 1452.6C401.4 1453.4 402.4 1455 403.7 1456.1C405 1457.1 406.5 1458.8 407.9 1458.9C409.3 1459 410.7 1457.5 412.1 1456.8C413.5 1456.1 415.1 1455.2 416.3 1454.7C417.4 1454.2 417.9 1453.8 419.1 1454C420.2 1454.2 421.9 1455.2 423.3 1456.1C424.7 1457 426.1 1459.1 427.5 1459.6C428.9 1460 430.2 1459.2 431.6 1458.9C433 1458.5 434.4 1457.9 435.8 1457.5C437.2 1457.1 438.6 1456.4 440 1456.4C441.4 1456.3 442.8 1456.7 444.2 1457.2C445.6 1457.7 447 1459.1 448.4 1459.6C449.8 1460.1 451.2 1460.5 452.6 1460.3C454 1460 455.4 1458.8 456.8 1458.2C458.2 1457.6 459.6 1456.9 461 1456.8C462.4 1456.6 463.8 1456.9 465.2 1457.2C466.6 1457.6 468 1458.4 469.4 1458.9C470.8 1459.4 471.9 1460.2 473.6 1460.3C475.2 1460.4 477.3 1459.8 479.2 1459.6C481 1459.3 482.9 1459 484.8 1458.9C486.6 1458.8 488.5 1458.6 490.3 1458.9C492.2 1459.1 494.1 1459.9 495.9 1460.3C497.8 1460.6 499.7 1461 501.5 1461C503.4 1460.9 505.2 1460.2 507.1 1460C509 1459.8 510.4 1459.5 512.7 1459.6C515 1459.6 518.3 1460.2 521.1 1460.3C523.9 1460.4 526.2 1460.3 529.5 1460.3C532.7 1460.3 536.5 1460.2 540.7 1460.3C544.8 1460.3 550 1460.5 554.6 1460.6C559.3 1460.7 563.9 1460.8 568.6 1460.8C573.3 1460.9 576.6 1460.9 582.6 1461C588.6 1461 601 1461.1 604.7 1461.1" fill="none" stroke="#3c3c3c" stroke-width="4.8" stroke-linejoin="round" stroke-linecap="round" clip-path="url(#cc)"/>
<g fill="#fff" stroke="#000000" stroke-width="1.5"><circle cx="104.9" cy="1459.2" r="3.8"/><circle cx="107.5" cy="1455.9" r="3.8"/><circle cx="110" cy="1452.1" r="3.8"/><circle cx="112.6" cy="1448.7" r="3.8"/><circle cx="115.1" cy="1446.3" r="3.8"/><circle cx="117.7" cy="1445.2" r="3.8"/><circle cx="120.2" cy="1446.5" r="3.8"/><circle cx="122.8" cy="1449.2" r="3.8"/><circle cx="125.3" cy="1452.5" r="3.8"/><circle cx="127.9" cy="1455.9" r="3.8"/><circle cx="130.5" cy="1454.8" r="3.8"/><circle cx="133" cy="1451.1" r="3.8"/><circle cx="135.6" cy="1446.9" r="3.8"/><circle cx="138.1" cy="1444.1" r="3.8"/><circle cx="140.7" cy="1442.5" r="3.8"/><circle cx="143.2" cy="1442.6" r="3.8"/><circle cx="145.8" cy="1444.3" r="3.8"/><circle cx="148.3" cy="1446.6" r="3.8"/><circle cx="150.9" cy="1449.2" r="3.8"/><circle cx="153.5" cy="1450.6" r="3.8"/><circle cx="156" cy="1445.7" r="3.8"/><circle cx="158.6" cy="1439.7" r="3.8"/><circle cx="161.1" cy="1434.4" r="3.8"/><circle cx="163.7" cy="1431" r="3.8"/><circle cx="166.2" cy="1429" r="3.8"/><circle cx="168.8" cy="1428.3" r="3.8"/><circle cx="171.3" cy="1428.5" r="3.8"/><circle cx="173.9" cy="1428.8" r="3.8"/><circle cx="176.5" cy="1425.9" r="3.8"/><circle cx="179" cy="1419.6" r="3.8"/><circle cx="181.6" cy="1412" r="3.8"/><circle cx="184.1" cy="1404.5" r="3.8"/><circle cx="186.7" cy="1398.8" r="3.8"/><circle cx="189.2" cy="1396" r="3.8"/><circle cx="191.8" cy="1395.3" r="3.8"/><circle cx="194.3" cy="1397" r="3.8"/><circle cx="196.9" cy="1399.6" r="3.8"/><circle cx="199.5" cy="1402.2" r="3.8"/><circle cx="202" cy="1400.1" r="3.8"/><circle cx="204.6" cy="1389.4" r="3.8"/><circle cx="207.1" cy="1374.7" r="3.8"/><circle cx="209.7" cy="1359.7" r="3.8"/><circle cx="212.2" cy="1347.5" r="3.8"/><circle cx="214.8" cy="1334.2" r="3.8"/><circle cx="217.3" cy="1326.9" r="3.8"/><circle cx="219.9" cy="1321.1" r="3.8"/><circle cx="222.5" cy="1314.4" r="3.8"/><circle cx="225" cy="1304.4" r="3.8"/><circle cx="227.6" cy="1286.7" r="3.8"/><circle cx="230.1" cy="1261.6" r="3.8"/><circle cx="232.7" cy="1228.5" r="3.8"/><circle cx="235.2" cy="1200.7" r="3.8"/><circle cx="237.8" cy="1165.3" r="3.8"/><circle cx="240.3" cy="1141.2" r="3.8"/><circle cx="242.9" cy="1119.4" r="3.8"/><circle cx="245.5" cy="1112.7" r="3.8"/><circle cx="248" cy="1115.7" r="3.8"/><circle cx="250.6" cy="1127.6" r="3.8"/><circle cx="253.1" cy="1154.6" r="3.8"/><circle cx="255.7" cy="1189" r="3.8"/><circle cx="258.2" cy="1230" r="3.8"/><circle cx="260.8" cy="1279" r="3.8"/><circle cx="263.3" cy="1326.6" r="3.8"/><circle cx="265.9" cy="1376.1" r="3.8"/><circle cx="268.5" cy="1417.1" r="3.8"/><circle cx="271" cy="1447.7" r="3.8"/><circle cx="273.6" cy="1437.4" r="3.8"/><circle cx="276.1" cy="1418.5" r="3.8"/><circle cx="278.7" cy="1408.1" r="3.8"/><circle cx="281.2" cy="1405.9" r="3.8"/><circle cx="283.8" cy="1409.4" r="3.8"/><circle cx="286.3" cy="1418.3" r="3.8"/><circle cx="288.9" cy="1430.9" r="3.8"/><circle cx="291.5" cy="1442.8" r="3.8"/><circle cx="294" cy="1449.2" r="3.8"/><circle cx="296.6" cy="1447.2" r="3.8"/><circle cx="299.1" cy="1441.9" r="3.8"/><circle cx="301.7" cy="1438.4" r="3.8"/><circle cx="304.2" cy="1437.3" r="3.8"/><circle cx="306.8" cy="1439.4" r="3.8"/><circle cx="309.3" cy="1442.8" r="3.8"/><circle cx="311.9" cy="1446.7" r="3.8"/><circle cx="314.5" cy="1450.2" r="3.8"/><circle cx="317" cy="1452" r="3.8"/><circle cx="319.6" cy="1452.2" r="3.8"/><circle cx="322.1" cy="1451.2" r="3.8"/><circle cx="324.7" cy="1449.1" r="3.8"/><circle cx="327.2" cy="1445.6" r="3.8"/><circle cx="329.8" cy="1439.3" r="3.8"/><circle cx="332.3" cy="1431.1" r="3.8"/><circle cx="334.9" cy="1422.4" r="3.8"/><circle cx="337.5" cy="1414.1" r="3.8"/><circle cx="340" cy="1407.1" r="3.8"/><circle cx="342.6" cy="1403.2" r="3.8"/><circle cx="345.1" cy="1401.7" r="3.8"/><circle cx="347.7" cy="1403.2" r="3.8"/><circle cx="350.2" cy="1408.1" r="3.8"/><circle cx="352.8" cy="1416.6" r="3.8"/><circle cx="355.3" cy="1425.6" r="3.8"/><circle cx="357.9" cy="1436" r="3.8"/><circle cx="360.5" cy="1446.9" r="3.8"/><circle cx="363" cy="1451.9" r="3.8"/><circle cx="365.6" cy="1448.6" r="3.8"/><circle cx="368.1" cy="1444.1" r="3.8"/><circle cx="370.7" cy="1440.2" r="3.8"/><circle cx="373.2" cy="1438.6" r="3.8"/><circle cx="375.8" cy="1439.9" r="3.8"/><circle cx="378.4" cy="1444.3" r="3.8"/><circle cx="380.9" cy="1450.6" r="3.8"/><circle cx="383.5" cy="1456.1" r="3.8"/><circle cx="386" cy="1459.3" r="3.8"/><circle cx="388.6" cy="1458.8" r="3.8"/><circle cx="391.1" cy="1455.1" r="3.8"/><circle cx="393.7" cy="1452.3" r="3.8"/><circle cx="396.2" cy="1451.2" r="3.8"/><circle cx="398.8" cy="1451.7" r="3.8"/><circle cx="401.4" cy="1453.6" r="3.8"/><circle cx="403.9" cy="1456.3" r="3.8"/><circle cx="406.5" cy="1458.3" r="3.8"/><circle cx="409" cy="1458.7" r="3.8"/><circle cx="411.6" cy="1457.1" r="3.8"/><circle cx="414.1" cy="1455.7" r="3.8"/><circle cx="416.7" cy="1454.5" r="3.8"/><circle cx="419.2" cy="1454" r="3.8"/><circle cx="421.8" cy="1455.2" r="3.8"/><circle cx="424.4" cy="1457" r="3.8"/><circle cx="426.9" cy="1459.3" r="3.8"/><circle cx="429.5" cy="1459.6" r="3.8"/><circle cx="432" cy="1458.8" r="3.8"/><circle cx="434.6" cy="1457.9" r="3.8"/><circle cx="437.1" cy="1457.1" r="3.8"/><circle cx="439.7" cy="1456.4" r="3.8"/><circle cx="442.2" cy="1456.6" r="3.8"/><circle cx="444.8" cy="1457.5" r="3.8"/><circle cx="447.4" cy="1459.1" r="3.8"/><circle cx="449.9" cy="1460.1" r="3.8"/><circle cx="452.5" cy="1460.3" r="3.8"/><circle cx="455" cy="1459.2" r="3.8"/><circle cx="457.6" cy="1457.9" r="3.8"/><circle cx="460.1" cy="1456.9" r="3.8"/><circle cx="462.7" cy="1456.8" r="3.8"/><circle cx="465.2" cy="1457.2" r="3.8"/><circle cx="467.8" cy="1458.2" r="3.8"/><circle cx="470.4" cy="1459.3" r="3.8"/><circle cx="472.9" cy="1460.2" r="3.8"/><circle cx="475.5" cy="1460.2" r="3.8"/><circle cx="478" cy="1459.8" r="3.8"/><circle cx="480.6" cy="1459.4" r="3.8"/><circle cx="483.1" cy="1459" r="3.8"/><circle cx="485.7" cy="1458.8" r="3.8"/><circle cx="488.2" cy="1458.8" r="3.8"/><circle cx="490.8" cy="1459" r="3.8"/><circle cx="493.4" cy="1459.6" r="3.8"/><circle cx="495.9" cy="1460.3" r="3.8"/><circle cx="498.5" cy="1460.7" r="3.8"/><circle cx="501" cy="1461" r="3.8"/><circle cx="503.6" cy="1460.7" r="3.8"/><circle cx="506.1" cy="1460.2" r="3.8"/><circle cx="508.7" cy="1459.8" r="3.8"/><circle cx="511.2" cy="1459.6" r="3.8"/><circle cx="513.8" cy="1459.6" r="3.8"/><circle cx="516.4" cy="1459.9" r="3.8"/><circle cx="518.9" cy="1460.1" r="3.8"/><circle cx="521.5" cy="1460.3" r="3.8"/><circle cx="524" cy="1460.3" r="3.8"/><circle cx="526.6" cy="1460.3" r="3.8"/><circle cx="529.1" cy="1460.3" r="3.8"/><circle cx="531.7" cy="1460.3" r="3.8"/><circle cx="534.2" cy="1460.3" r="3.8"/><circle cx="536.8" cy="1460.3" r="3.8"/><circle cx="539.4" cy="1460.3" r="3.8"/><circle cx="541.9" cy="1460.3" r="3.8"/><circle cx="544.5" cy="1460.3" r="3.8"/><circle cx="547" cy="1460.4" r="3.8"/><circle cx="549.6" cy="1460.4" r="3.8"/><circle cx="552.1" cy="1460.5" r="3.8"/><circle cx="554.7" cy="1460.6" r="3.8"/><circle cx="557.2" cy="1460.6" r="3.8"/><circle cx="559.8" cy="1460.7" r="3.8"/><circle cx="562.4" cy="1460.7" r="3.8"/><circle cx="564.9" cy="1460.8" r="3.8"/><circle cx="567.5" cy="1460.8" r="3.8"/><circle cx="570" cy="1460.9" r="3.8"/><circle cx="572.6" cy="1460.9" r="3.8"/><circle cx="575.1" cy="1460.9" r="3.8"/><circle cx="577.7" cy="1460.9" r="3.8"/><circle cx="580.2" cy="1461" r="3.8"/><circle cx="582.8" cy="1461" r="3.8"/><circle cx="585.4" cy="1461" r="3.8"/><circle cx="587.9" cy="1461" r="3.8"/><circle cx="590.5" cy="1461" r="3.8"/><circle cx="593" cy="1461" r="3.8"/><circle cx="595.6" cy="1461.1" r="3.8"/><circle cx="598.1" cy="1461.1" r="3.8"/><circle cx="600.7" cy="1461.1" r="3.8"/><circle cx="603.2" cy="1461.1" r="3.8"/></g>
<path d="M374.2 1083.6H421.6" stroke="#1f18c8" stroke-width="5.2" stroke-linecap="round" fill="none"/>
<text x="427.7" y="1091.5" font-size="26.8" text-anchor="start" font-weight="bold" fill="#000">In-O-MoS<tspan font-size="15.5" dy="9">2</tspan><tspan dy="-9" font-size="1">&#8203;</tspan>/Ru</text>
<path d="M374.2 1125H421.6" stroke="#3c3c3c" stroke-width="5.2" stroke-linecap="round" fill="none"/>
<circle cx="397.9" cy="1125" r="3.8" fill="#fff" stroke="#000" stroke-width="1.5"/>
<text x="427.7" y="1132.6" font-size="26.8" text-anchor="start" font-weight="bold" fill="#000">Fit</text>
<text x="219.7" y="1098.3" font-size="26.7" text-anchor="start" font-weight="bold" fill="#000">In-O</text>
<text x="322.2" y="1388.7" font-size="26.7" text-anchor="start" font-weight="bold" fill="#000">In-M</text>
<path d="M104.9 1462.9v9.5M271.5 1462.9v9.5M438.1 1462.9v9.5M604.7 1462.9v9.5M188.2 1462.9v5.5M354.8 1462.9v5.5M521.4 1462.9v5.5M104.9 1462.9h-9.5M104.9 1401.1h-9.5M104.9 1339.4h-9.5M104.9 1277.6h-9.5M104.9 1215.8h-9.5M104.9 1154.1h-9.5M104.9 1092.3h-9.5M104.9 1432h-5.5M104.9 1370.2h-5.5M104.9 1308.5h-5.5M104.9 1246.7h-5.5M104.9 1184.9h-5.5M104.9 1123.2h-5.5M104.9 1061.4h-5.5" stroke="#000" stroke-width="2.8" fill="none"/>
<rect x="104.9" y="1061.4" width="499.8" height="401.5" fill="none" stroke="#000" stroke-width="2.8"/>
<text x="104.9" y="1497.5" font-size="27" text-anchor="middle" font-weight="bold" fill="#000">0</text>
<text x="271.5" y="1497.5" font-size="27" text-anchor="middle" font-weight="bold" fill="#000">2</text>
<text x="438.1" y="1497.5" font-size="27" text-anchor="middle" font-weight="bold" fill="#000">4</text>
<text x="604.7" y="1497.5" font-size="27" text-anchor="middle" font-weight="bold" fill="#000">6</text>
<text x="91.6" y="1471.1" font-size="27" text-anchor="end" font-weight="bold" fill="#000">0</text>
<text x="91.6" y="1409.3" font-size="27" text-anchor="end" font-weight="bold" fill="#000">2</text>
<text x="91.6" y="1347.5" font-size="27" text-anchor="end" font-weight="bold" fill="#000">4</text>
<text x="91.6" y="1285.8" font-size="27" text-anchor="end" font-weight="bold" fill="#000">6</text>
<text x="91.6" y="1224" font-size="27" text-anchor="end" font-weight="bold" fill="#000">8</text>
<text x="91.6" y="1162.2" font-size="27" text-anchor="end" font-weight="bold" fill="#000">10</text>
<text x="91.6" y="1100.5" font-size="27" text-anchor="end" font-weight="bold" fill="#000">12</text>
<text x="355.7" y="1527.4" font-size="28.5" text-anchor="middle" font-weight="bold" fill="#000">Radial distance (&#197;)</text>
<text transform="translate(54.9 1270.2) rotate(-90)" font-size="28.5" text-anchor="middle" font-weight="bold">|FT (k<tspan font-size="17" dy="-11">3</tspan><tspan dy="11" font-size="1">&#8203;</tspan> <tspan font-weight="normal" font-family="'DejaVu Sans', 'Liberation Sans', sans-serif" font-size="27">&#967;</tspan>(k)|</text>
<path d="M787.4 1459.2C787.8 1458.3 789 1455.9 790 1454.2C790.9 1452.5 792 1450.5 793 1449.2C794 1447.9 795 1446.8 796 1446.2C797 1445.6 798 1445.3 799 1445.6C800 1445.9 801 1446.9 802 1448.2C802.9 1449.5 803.9 1451.8 804.9 1453.2C805.9 1454.6 806.9 1457 807.9 1456.8C808.9 1456.6 809.9 1453.8 810.9 1452.2C811.9 1450.6 812.9 1448.4 813.9 1447.2C814.9 1446 815.9 1445.4 816.9 1445.2C817.9 1445 818.9 1445.4 819.9 1446.2C820.9 1447 821.7 1448.9 822.9 1450.2C824.1 1451.5 825.7 1454.1 826.9 1454.2C828.1 1454.3 828.9 1452.3 829.9 1450.8C830.9 1449.3 831.9 1446.8 832.9 1445.2C833.9 1443.6 835 1442.2 835.9 1441.2C836.8 1440.3 837.3 1439.5 838.3 1439.6C839.3 1439.8 840.8 1441.1 841.9 1442.2C843 1443.3 843.9 1445.4 844.9 1446.2C845.9 1447 846.9 1448 847.8 1447.2C848.8 1446.4 849.9 1443.6 850.8 1441.2C851.8 1438.8 852.6 1435.5 853.4 1432.8C854.3 1430.2 854.9 1426.8 855.8 1425.3C856.7 1423.7 857.8 1423.3 858.8 1423.7C859.8 1424 860.8 1425.7 861.8 1427.3C862.8 1428.8 863.9 1431.6 864.8 1432.8C865.7 1434 866.2 1435.4 867.2 1434.4C868.2 1433.5 869.8 1430.1 870.8 1427.3C871.8 1424.4 872.6 1420.1 873.4 1417.3C874.2 1414.4 874.9 1412 875.8 1410.3C876.7 1408.6 877.9 1407.4 878.8 1406.9C879.7 1406.4 880.3 1405.6 881.2 1407.3C882 1409 882.9 1412.6 883.8 1417.3C884.6 1421.9 885.5 1428.1 886.4 1435.2C887.2 1442.4 887.9 1459.2 888.8 1460.2C889.6 1461.2 890.5 1449 891.4 1441.2C892.2 1433.4 892.9 1421.9 893.7 1413.3C894.6 1404.6 895.5 1396.7 896.3 1389.3C897.2 1382 897.9 1374.4 898.7 1369.4C899.5 1364.4 900.3 1361.6 901.1 1359.4C902 1357.2 902.9 1356.1 903.7 1356.4C904.6 1356.7 905.2 1357.6 906.1 1361.4C907.1 1365.2 908.3 1373.4 909.3 1379.4C910.3 1385.3 911.2 1393.5 912.1 1397.3C913 1401.1 913.9 1404.3 914.7 1402.3C915.5 1400.3 916.3 1392.8 917.1 1385.3C917.9 1377.9 918.9 1366.1 919.7 1357.4C920.5 1348.8 921.3 1340.4 922.1 1333.5C922.9 1326.5 923.8 1320.3 924.7 1315.5C925.5 1310.7 926.4 1307.5 927.3 1304.5C928.1 1301.5 928.9 1299.5 929.7 1297.5C930.5 1295.5 931.2 1294.2 932.1 1292.5C932.9 1290.9 933.8 1289.4 934.7 1287.6C935.5 1285.7 936.2 1285.2 937.1 1281.6C937.9 1277.9 938.8 1273.6 939.6 1265.6C940.5 1257.6 941.4 1245.1 942.2 1233.7C943.1 1222.2 943.9 1208.8 944.8 1197C945.7 1185.2 946.8 1172.9 947.6 1162.8C948.4 1152.7 948.9 1143.4 949.6 1136.3C950.4 1129.2 951.1 1123.4 952 1120.3C952.9 1117.3 954.1 1116.8 955 1117.9C955.9 1119.1 956.7 1122.1 957.6 1127.3C958.5 1132.5 959.3 1140.4 960.2 1149.3C961.1 1158.1 961.9 1169.1 962.8 1180.6C963.7 1192.1 964.5 1205 965.4 1218.1C966.3 1231.3 967.1 1245.8 968 1259.4C968.8 1273.1 969.7 1287 970.6 1299.9C971.4 1312.8 972.1 1325.5 973 1336.9C973.8 1348.2 974.7 1358.6 975.6 1367.8C976.4 1377 977.1 1384.9 978 1391.9C978.8 1398.9 979.7 1404.6 980.6 1409.9C981.4 1415.2 982.1 1419.1 982.9 1423.9C983.8 1428.6 984.7 1433.4 985.5 1438.2C986.4 1443 987.3 1449 988.1 1452.8C989 1456.6 989.7 1462.6 990.5 1460.8C991.4 1458.9 992.3 1448.2 993.1 1441.6C994 1435 994.7 1428 995.5 1421.3C996.4 1414.5 997.3 1407.5 998.1 1400.9C998.9 1394.3 999.7 1388.1 1000.5 1381.8C1001.3 1375.4 1002.3 1368.7 1003.1 1362.8C1003.9 1356.8 1004.7 1351.3 1005.5 1346C1006.3 1340.8 1007.3 1336.2 1008.1 1331.5C1008.9 1326.7 1009.7 1321.7 1010.5 1317.5C1011.3 1313.3 1012.3 1309.6 1013.1 1306.1C1013.9 1302.6 1014.6 1299.4 1015.5 1296.5C1016.3 1293.7 1017.2 1291 1018.1 1289C1018.9 1286.9 1019.6 1285.3 1020.5 1284.2C1021.4 1283 1022.5 1282.3 1023.5 1282.2C1024.5 1282 1025.5 1282.1 1026.5 1283.2C1027.4 1284.2 1028.2 1286 1029 1288.6C1029.9 1291.2 1030.6 1294.7 1031.4 1298.7C1032.2 1302.8 1033 1307.5 1033.8 1312.9C1034.7 1318.4 1035.6 1324.7 1036.4 1331.5C1037.3 1338.2 1038 1345.9 1038.8 1353.4C1039.7 1361 1040.6 1368.8 1041.5 1376.8C1042.3 1384.9 1043.1 1393.7 1044 1401.9C1044.8 1410 1045.7 1418.2 1046.5 1425.8C1047.3 1433.3 1048.1 1440.9 1049 1447.3C1049.9 1453.7 1050.8 1463.5 1051.7 1464.2C1052.5 1464.9 1053.2 1455.2 1054 1451.6C1054.9 1448.1 1055.7 1444.9 1056.6 1442.8C1057.4 1440.7 1058.3 1439.6 1059.1 1439C1059.9 1438.5 1060.6 1438.6 1061.4 1439.3C1062.3 1440 1063.1 1441.2 1064 1443.1C1064.8 1445 1065.8 1448.3 1066.6 1450.5C1067.4 1452.7 1068 1456.4 1068.9 1456.4C1069.7 1456.4 1070.9 1452.6 1071.9 1450.5C1072.9 1448.4 1073.8 1445.5 1074.7 1443.5C1075.7 1441.5 1076.6 1439.7 1077.5 1438.6C1078.4 1437.6 1079.3 1436.9 1080.3 1437.2C1081.4 1437.6 1082.6 1439 1083.8 1440.7C1085 1442.5 1086.2 1445.4 1087.3 1447.7C1088.3 1450 1089.2 1452.9 1090.1 1454.7C1091 1456.4 1092 1458.6 1092.9 1458.2C1093.8 1457.7 1094.6 1454.2 1095.7 1451.9C1096.7 1449.6 1098 1446.2 1099.2 1444.2C1100.3 1442.2 1101.6 1440.8 1102.7 1440C1103.8 1439.2 1104.6 1439 1105.7 1439.3C1106.9 1439.7 1108.3 1440.8 1109.7 1442.1C1111 1443.4 1112.6 1446 1113.9 1447C1115.1 1448.1 1116.2 1448.6 1117.3 1448.4C1118.5 1448.2 1119.6 1446.9 1120.8 1445.6C1122.1 1444.3 1123.8 1442 1125 1440.7C1126.3 1439.4 1127.5 1438.4 1128.5 1437.9C1129.5 1437.4 1129.9 1437.3 1130.9 1437.6C1131.9 1438 1133.5 1438.7 1134.8 1440C1136.2 1441.3 1137.6 1443.6 1139 1445.6C1140.4 1447.6 1141.8 1450.1 1143.2 1451.9C1144.6 1453.6 1146.1 1455.2 1147.4 1456.1C1148.7 1457 1149.5 1457.6 1150.9 1457.5C1152.3 1457.4 1153.8 1456.2 1155.8 1455.4C1157.8 1454.6 1160.4 1453.3 1162.8 1452.6C1165.1 1451.9 1167.4 1451.4 1169.8 1451.2C1172.1 1451 1174.4 1451.6 1176.7 1451.6C1179.1 1451.6 1181.6 1451.5 1183.7 1451.2C1185.8 1450.8 1187.6 1449.9 1189.3 1449.5C1191.1 1449.1 1192.6 1448.7 1194.2 1448.8C1195.8 1449 1197.4 1449.8 1199.1 1450.5C1200.8 1451.2 1202.8 1452.6 1204.7 1453.3C1206.6 1453.9 1208.4 1454.2 1210.3 1454.4C1212.1 1454.6 1214 1454.3 1215.9 1454.7C1217.7 1455.1 1219.8 1456 1221.5 1456.8C1223.1 1457.6 1224.3 1458.8 1225.7 1459.6C1227 1460.4 1228 1461.4 1229.8 1461.7C1231.7 1462 1234.5 1461.6 1236.8 1461.4C1239.2 1461.2 1241.7 1461.1 1243.8 1460.6C1245.9 1460 1247.5 1459.3 1249.4 1458.2C1251.3 1457.1 1253.1 1455.3 1255 1454C1256.9 1452.7 1258.5 1451.1 1260.6 1450.2C1262.7 1449.3 1265.2 1448.8 1267.6 1448.4C1269.9 1448 1272.5 1448 1274.6 1447.7C1276.7 1447.4 1278.5 1447 1280.2 1446.7C1281.8 1446.4 1283.9 1446.1 1284.6 1446" fill="none" stroke="#17148c" stroke-width="4.8" stroke-linejoin="round" stroke-linecap="round" clip-path="url(#cg)"/>
<path d="M787.4 1459.2C787.8 1458.3 789 1455.9 790 1454.2C790.9 1452.5 792 1450.5 793 1449.2C794 1447.9 795 1446.8 796 1446.2C797 1445.6 798 1445.3 799 1445.6C800 1445.9 801 1446.9 802 1448.2C802.9 1449.5 803.9 1451.8 804.9 1453.2C805.9 1454.6 806.9 1457 807.9 1456.8C808.9 1456.6 809.9 1453.8 810.9 1452.2C811.9 1450.6 812.9 1448.4 813.9 1447.2C814.9 1446 815.9 1445.4 816.9 1445.2C817.9 1445 818.9 1445.4 819.9 1446.2C820.9 1447 821.7 1448.9 822.9 1450.2C824.1 1451.5 825.7 1454.1 826.9 1454.2C828.1 1454.3 828.9 1452.3 829.9 1450.8C830.9 1449.3 831.9 1446.8 832.9 1445.2C833.9 1443.6 835 1442.2 835.9 1441.2C836.8 1440.3 837.3 1439.5 838.3 1439.6C839.3 1439.8 840.8 1441.1 841.9 1442.2C843 1443.3 843.9 1445.4 844.9 1446.2C845.9 1447 846.9 1448 847.8 1447.2C848.8 1446.4 849.9 1443.6 850.8 1441.2C851.8 1438.8 852.6 1435.5 853.4 1432.8C854.3 1430.2 854.9 1426.9 855.8 1425.3C856.7 1423.6 857.8 1423.1 858.8 1422.9C859.8 1422.6 860.8 1422.9 861.8 1423.7C862.8 1424.4 863.8 1426.3 864.8 1427.3C865.8 1428.2 866.8 1430 867.8 1429.6C868.8 1429.3 869.9 1427.3 870.8 1425.3C871.7 1423.2 872.6 1419.8 873.4 1417.3C874.2 1414.8 874.9 1412 875.8 1410.3C876.7 1408.6 877.9 1407.4 878.8 1406.9C879.7 1406.4 880.3 1405.8 881.2 1407.3C882 1408.8 882.9 1412.2 883.8 1415.9C884.6 1419.5 885.5 1424.2 886.4 1429.2C887.2 1434.3 888 1442.7 888.8 1446.2C889.5 1449.7 889.9 1453 890.8 1450.2C891.6 1447.4 892.8 1436.2 893.7 1429.2C894.7 1422.3 895.5 1414.7 896.3 1408.3C897.2 1401.9 897.9 1395.5 898.7 1390.7C899.5 1386 900.3 1382.3 901.1 1379.8C902 1377.3 902.9 1376 903.7 1375.8C904.6 1375.5 905.2 1376.5 906.1 1378.4C907.1 1380.2 908.4 1384.4 909.3 1386.9C910.2 1389.4 910.9 1392.8 911.7 1393.3C912.5 1393.8 913.2 1392.8 914.1 1389.9C915 1387 916.2 1381.8 917.1 1376C918 1370.1 918.9 1361.9 919.7 1355C920.5 1348.2 921.3 1340.8 922.1 1334.9C922.9 1328.9 923.8 1323.1 924.7 1319.1C925.5 1315 926.4 1312.4 927.3 1310.5C928.1 1308.6 928.9 1308.5 929.7 1307.9C930.5 1307.4 931.2 1307.5 932.1 1307.1C932.9 1306.7 933.8 1307.8 934.7 1305.5C935.5 1303.3 936.2 1299.9 937.1 1293.5C937.9 1287.2 938.8 1277.6 939.6 1267.6C940.5 1257.6 941.4 1245.5 942.2 1233.7C943.1 1221.9 943.9 1208.8 944.8 1197C945.7 1185.2 946.8 1172.9 947.6 1162.8C948.4 1152.7 948.9 1143.4 949.6 1136.3C950.4 1129.2 951.1 1123.6 952 1120.3C952.9 1117.1 954.1 1115.8 955 1116.9C955.9 1118.1 956.7 1121.9 957.6 1127.3C958.5 1132.7 959.3 1140.4 960.2 1149.3C961.1 1158.1 961.9 1169.1 962.8 1180.6C963.7 1192.1 964.5 1205 965.4 1218.1C966.3 1231.3 967.1 1245.8 968 1259.4C968.8 1273.1 969.7 1287 970.6 1299.9C971.4 1312.8 972.1 1325.5 973 1336.9C973.8 1348.2 974.7 1358.6 975.6 1367.8C976.4 1377 977.1 1384.9 978 1391.9C978.8 1398.9 979.7 1404.6 980.6 1409.9C981.4 1415.2 982.1 1419.1 982.9 1423.9C983.8 1428.6 984.7 1433.4 985.5 1438.2C986.4 1443 987.3 1449 988.1 1452.8C989 1456.6 989.7 1462.6 990.5 1460.8C991.4 1458.9 992.3 1448.2 993.1 1441.6C994 1435 994.7 1428 995.5 1421.3C996.4 1414.5 997.3 1407.5 998.1 1400.9C998.9 1394.3 999.7 1388.1 1000.5 1381.8C1001.3 1375.4 1002.3 1368.7 1003.1 1362.8C1003.9 1356.8 1004.7 1351.3 1005.5 1346C1006.3 1340.8 1007.3 1336.2 1008.1 1331.5C1008.9 1326.7 1009.7 1321.7 1010.5 1317.5C1011.3 1313.3 1012.3 1309.6 1013.1 1306.1C1013.9 1302.6 1014.6 1299.4 1015.5 1296.5C1016.3 1293.7 1017.2 1291 1018.1 1289C1018.9 1286.9 1019.6 1285.3 1020.5 1284.2C1021.4 1283 1022.5 1282.3 1023.5 1282.2C1024.5 1282 1025.5 1282.1 1026.5 1283.2C1027.4 1284.2 1028.2 1286 1029 1288.6C1029.9 1291.2 1030.6 1294.7 1031.4 1298.7C1032.2 1302.8 1033 1307.5 1033.8 1312.9C1034.7 1318.4 1035.6 1324.7 1036.4 1331.5C1037.3 1338.2 1038 1345.9 1038.8 1353.4C1039.7 1361 1040.6 1368.8 1041.5 1376.8C1042.3 1384.9 1043.1 1393.7 1044 1401.9C1044.8 1410 1045.7 1418.2 1046.5 1425.8C1047.3 1433.3 1048.1 1440.9 1049 1447.3C1049.9 1453.7 1050.8 1463.5 1051.7 1464.2C1052.5 1464.9 1053.2 1455.2 1054 1451.6C1054.9 1448.1 1055.7 1444.9 1056.6 1442.8C1057.4 1440.7 1058.3 1439.6 1059.1 1439C1059.9 1438.5 1060.6 1438.6 1061.4 1439.3C1062.3 1440 1063.1 1441.2 1064 1443.1C1064.8 1445 1065.8 1447.9 1066.6 1450.5C1067.5 1453.1 1068.2 1456.8 1069.1 1458.9C1070 1461 1071 1463.2 1071.9 1463.1C1072.8 1463 1073.6 1459.8 1074.4 1458.2C1075.3 1456.6 1076 1454.6 1076.8 1453.3C1077.7 1452 1078.7 1451 1079.6 1450.5C1080.5 1450 1081.5 1449.9 1082.4 1450.2C1083.3 1450.6 1084.3 1451.4 1085.2 1452.6C1086.1 1453.8 1086.9 1456 1088 1457.5C1089 1459 1090.4 1461.1 1091.5 1461.7C1092.5 1462.3 1093.4 1461.7 1094.3 1461C1095.2 1460.3 1096.1 1458.4 1097.1 1457.5C1098 1456.6 1099.1 1455.8 1099.9 1455.4C1100.7 1455 1101 1454.7 1102 1455C1102.9 1455.3 1104.3 1456.2 1105.5 1457.2C1106.6 1458.2 1107.8 1460.1 1109 1461C1110.1 1461.8 1111.3 1462.6 1112.5 1462.4C1113.6 1462.1 1114.8 1460.4 1115.9 1459.6C1117.1 1458.8 1118.4 1457.9 1119.4 1457.5C1120.5 1457.1 1121.2 1457 1122.2 1457.2C1123.3 1457.4 1124.6 1458.1 1125.7 1458.9C1126.9 1459.6 1127.9 1461.1 1129.2 1461.7C1130.5 1462.3 1132 1462.6 1133.4 1462.4C1134.8 1462.1 1136.2 1460.7 1137.6 1460.3C1139 1459.8 1140.4 1459.5 1141.8 1459.6C1143.2 1459.7 1144.6 1460.5 1146 1461C1147.4 1461.4 1148.6 1462.4 1150.2 1462.4C1151.8 1462.4 1153.9 1461.3 1155.8 1461C1157.6 1460.6 1159.5 1460.2 1161.4 1460.3C1163.2 1460.4 1165.1 1461.3 1167 1461.7C1168.8 1462.1 1170.7 1462.8 1172.5 1462.8C1174.4 1462.8 1176.3 1461.9 1178.1 1461.7C1180 1461.5 1181.6 1461.5 1183.7 1461.7C1185.8 1461.9 1188.4 1462.7 1190.7 1462.8C1193 1462.9 1195.1 1462.4 1197.7 1462.4C1200.3 1462.4 1203.3 1462.7 1206.1 1462.8C1208.9 1462.9 1211.2 1462.7 1214.5 1462.8C1217.7 1462.8 1221.5 1463 1225.7 1463.1C1229.8 1463.1 1235 1463.1 1239.6 1463.1C1244.3 1463.1 1248.9 1463.1 1253.6 1463.1C1258.3 1463.1 1262.4 1463.1 1267.6 1463.1C1272.7 1463.1 1281.8 1463.1 1284.6 1463.1" fill="none" stroke="#ff1e0a" stroke-width="4.8" stroke-linejoin="round" stroke-linecap="round" clip-path="url(#cg)"/>
<g fill="#fff" stroke="#f01010" stroke-width="1.5"><circle cx="787.4" cy="1459.1" r="3.8"/><circle cx="789.9" cy="1454.3" r="3.8"/><circle cx="792.5" cy="1449.9" r="3.8"/><circle cx="795" cy="1446.9" r="3.8"/><circle cx="797.6" cy="1445.5" r="3.8"/><circle cx="800.1" cy="1446.3" r="3.8"/><circle cx="802.7" cy="1449.2" r="3.8"/><circle cx="805.2" cy="1453.6" r="3.8"/><circle cx="807.7" cy="1456.8" r="3.8"/><circle cx="810.3" cy="1453.4" r="3.8"/><circle cx="812.8" cy="1448.9" r="3.8"/><circle cx="815.4" cy="1445.9" r="3.8"/><circle cx="817.9" cy="1445.2" r="3.8"/><circle cx="820.4" cy="1446.8" r="3.8"/><circle cx="823" cy="1450.3" r="3.8"/><circle cx="825.5" cy="1453.3" r="3.8"/><circle cx="828.1" cy="1453.6" r="3.8"/><circle cx="830.6" cy="1449.6" r="3.8"/><circle cx="833.2" cy="1444.8" r="3.8"/><circle cx="835.7" cy="1441.4" r="3.8"/><circle cx="838.2" cy="1439.6" r="3.8"/><circle cx="840.8" cy="1441.2" r="3.8"/><circle cx="843.3" cy="1444.2" r="3.8"/><circle cx="845.9" cy="1447" r="3.8"/><circle cx="848.4" cy="1446.6" r="3.8"/><circle cx="850.9" cy="1440.9" r="3.8"/><circle cx="853.5" cy="1432.7" r="3.8"/><circle cx="856" cy="1424.9" r="3.8"/><circle cx="858.6" cy="1422.9" r="3.8"/><circle cx="861.1" cy="1423.2" r="3.8"/><circle cx="863.7" cy="1425.8" r="3.8"/><circle cx="866.2" cy="1428.8" r="3.8"/><circle cx="868.7" cy="1428.9" r="3.8"/><circle cx="871.3" cy="1424.1" r="3.8"/><circle cx="873.8" cy="1415.9" r="3.8"/><circle cx="876.4" cy="1409.3" r="3.8"/><circle cx="878.9" cy="1406.8" r="3.8"/><circle cx="881.4" cy="1407.9" r="3.8"/><circle cx="884" cy="1416.8" r="3.8"/><circle cx="886.5" cy="1430.3" r="3.8"/><circle cx="889.1" cy="1447.8" r="3.8"/><circle cx="891.6" cy="1445.6" r="3.8"/><circle cx="894.2" cy="1426.1" r="3.8"/><circle cx="896.7" cy="1405.5" r="3.8"/><circle cx="899.2" cy="1387.9" r="3.8"/><circle cx="901.8" cy="1378.1" r="3.8"/><circle cx="904.3" cy="1375.8" r="3.8"/><circle cx="906.9" cy="1380.1" r="3.8"/><circle cx="909.4" cy="1387.2" r="3.8"/><circle cx="911.9" cy="1393.4" r="3.8"/><circle cx="914.5" cy="1388.6" r="3.8"/><circle cx="917" cy="1376.3" r="3.8"/><circle cx="919.6" cy="1356" r="3.8"/><circle cx="922.1" cy="1334.6" r="3.8"/><circle cx="924.7" cy="1319.2" r="3.8"/><circle cx="927.2" cy="1310.7" r="3.8"/><circle cx="929.7" cy="1307.9" r="3.8"/><circle cx="932.3" cy="1307" r="3.8"/><circle cx="934.8" cy="1305" r="3.8"/><circle cx="937.4" cy="1291" r="3.8"/><circle cx="939.9" cy="1264.5" r="3.8"/><circle cx="942.5" cy="1230.8" r="3.8"/><circle cx="945" cy="1194.9" r="3.8"/><circle cx="947.5" cy="1164" r="3.8"/><circle cx="950.1" cy="1132.2" r="3.8"/><circle cx="952.6" cy="1118.6" r="3.8"/><circle cx="955.2" cy="1117.2" r="3.8"/><circle cx="957.7" cy="1127.9" r="3.8"/><circle cx="960.2" cy="1149.7" r="3.8"/><circle cx="962.8" cy="1180.5" r="3.8"/><circle cx="965.3" cy="1217.2" r="3.8"/><circle cx="967.9" cy="1257.6" r="3.8"/><circle cx="970.4" cy="1297.3" r="3.8"/><circle cx="973" cy="1336.6" r="3.8"/><circle cx="975.5" cy="1367" r="3.8"/><circle cx="978" cy="1392.5" r="3.8"/><circle cx="980.6" cy="1410" r="3.8"/><circle cx="983.1" cy="1424.8" r="3.8"/><circle cx="985.7" cy="1438.9" r="3.8"/><circle cx="988.2" cy="1453.1" r="3.8"/><circle cx="990.7" cy="1460.1" r="3.8"/><circle cx="993.3" cy="1440.3" r="3.8"/><circle cx="995.8" cy="1418.8" r="3.8"/><circle cx="998.4" cy="1398.9" r="3.8"/><circle cx="1000.9" cy="1378.7" r="3.8"/><circle cx="1003.5" cy="1360.3" r="3.8"/><circle cx="1006" cy="1343" r="3.8"/><circle cx="1008.5" cy="1328.9" r="3.8"/><circle cx="1011.1" cy="1314.6" r="3.8"/><circle cx="1013.6" cy="1303.8" r="3.8"/><circle cx="1016.2" cy="1294.3" r="3.8"/><circle cx="1018.7" cy="1287.4" r="3.8"/><circle cx="1021.2" cy="1283.3" r="3.8"/><circle cx="1023.8" cy="1282.1" r="3.8"/><circle cx="1026.3" cy="1283" r="3.8"/><circle cx="1028.9" cy="1288" r="3.8"/><circle cx="1031.4" cy="1298.6" r="3.8"/><circle cx="1034" cy="1313.7" r="3.8"/><circle cx="1036.5" cy="1332" r="3.8"/><circle cx="1039" cy="1355.3" r="3.8"/><circle cx="1041.6" cy="1378" r="3.8"/><circle cx="1044.1" cy="1403.3" r="3.8"/><circle cx="1046.7" cy="1427.3" r="3.8"/><circle cx="1049.2" cy="1448.8" r="3.8"/><circle cx="1051.7" cy="1464.2" r="3.8"/><circle cx="1054.3" cy="1450.5" r="3.8"/><circle cx="1056.8" cy="1442.2" r="3.8"/><circle cx="1059.4" cy="1438.9" r="3.8"/><circle cx="1061.9" cy="1439.8" r="3.8"/><circle cx="1064.5" cy="1444.3" r="3.8"/><circle cx="1067" cy="1451.7" r="3.8"/><circle cx="1069.5" cy="1459.8" r="3.8"/><circle cx="1072.1" cy="1463" r="3.8"/><circle cx="1074.6" cy="1457.8" r="3.8"/><circle cx="1077.2" cy="1452.8" r="3.8"/><circle cx="1079.7" cy="1450.4" r="3.8"/><circle cx="1082.2" cy="1450.2" r="3.8"/><circle cx="1084.8" cy="1452.1" r="3.8"/><circle cx="1087.3" cy="1456.4" r="3.8"/><circle cx="1089.9" cy="1460.1" r="3.8"/><circle cx="1092.4" cy="1461.9" r="3.8"/><circle cx="1095" cy="1460.3" r="3.8"/><circle cx="1097.5" cy="1457.1" r="3.8"/><circle cx="1100" cy="1455.3" r="3.8"/><circle cx="1102.6" cy="1455.2" r="3.8"/><circle cx="1105.1" cy="1456.9" r="3.8"/><circle cx="1107.7" cy="1459.7" r="3.8"/><circle cx="1110.2" cy="1461.8" r="3.8"/><circle cx="1112.8" cy="1462.3" r="3.8"/><circle cx="1115.3" cy="1460.1" r="3.8"/><circle cx="1117.8" cy="1458.3" r="3.8"/><circle cx="1120.4" cy="1457.2" r="3.8"/><circle cx="1122.9" cy="1457.4" r="3.8"/><circle cx="1125.5" cy="1458.7" r="3.8"/><circle cx="1128" cy="1460.9" r="3.8"/><circle cx="1130.5" cy="1462.2" r="3.8"/><circle cx="1133.1" cy="1462.4" r="3.8"/><circle cx="1135.6" cy="1461.3" r="3.8"/><circle cx="1138.2" cy="1460.1" r="3.8"/><circle cx="1140.7" cy="1459.6" r="3.8"/><circle cx="1143.3" cy="1459.9" r="3.8"/><circle cx="1145.8" cy="1460.9" r="3.8"/><circle cx="1148.3" cy="1462" r="3.8"/><circle cx="1150.9" cy="1462.3" r="3.8"/><circle cx="1153.4" cy="1461.6" r="3.8"/><circle cx="1156" cy="1460.9" r="3.8"/><circle cx="1158.5" cy="1460.5" r="3.8"/><circle cx="1161" cy="1460.3" r="3.8"/><circle cx="1163.6" cy="1460.7" r="3.8"/><circle cx="1166.1" cy="1461.5" r="3.8"/><circle cx="1168.7" cy="1462.1" r="3.8"/><circle cx="1171.2" cy="1462.7" r="3.8"/><circle cx="1173.8" cy="1462.7" r="3.8"/><circle cx="1176.3" cy="1462" r="3.8"/><circle cx="1178.8" cy="1461.6" r="3.8"/><circle cx="1181.4" cy="1461.5" r="3.8"/><circle cx="1183.9" cy="1461.7" r="3.8"/><circle cx="1186.5" cy="1462.1" r="3.8"/><circle cx="1189" cy="1462.6" r="3.8"/><circle cx="1191.5" cy="1462.8" r="3.8"/><circle cx="1194.1" cy="1462.6" r="3.8"/><circle cx="1196.6" cy="1462.4" r="3.8"/><circle cx="1199.2" cy="1462.4" r="3.8"/><circle cx="1201.7" cy="1462.6" r="3.8"/><circle cx="1204.3" cy="1462.7" r="3.8"/><circle cx="1206.8" cy="1462.8" r="3.8"/><circle cx="1209.3" cy="1462.8" r="3.8"/><circle cx="1211.9" cy="1462.8" r="3.8"/><circle cx="1214.4" cy="1462.8" r="3.8"/><circle cx="1217" cy="1462.9" r="3.8"/><circle cx="1219.5" cy="1462.9" r="3.8"/><circle cx="1222" cy="1463" r="3.8"/><circle cx="1224.6" cy="1463.1" r="3.8"/><circle cx="1227.1" cy="1463.1" r="3.8"/><circle cx="1229.7" cy="1463.1" r="3.8"/><circle cx="1232.2" cy="1463.1" r="3.8"/><circle cx="1234.8" cy="1463.1" r="3.8"/><circle cx="1237.3" cy="1463.1" r="3.8"/><circle cx="1239.8" cy="1463.1" r="3.8"/><circle cx="1242.4" cy="1463.1" r="3.8"/><circle cx="1244.9" cy="1463.1" r="3.8"/><circle cx="1247.5" cy="1463.1" r="3.8"/><circle cx="1250" cy="1463.1" r="3.8"/><circle cx="1252.6" cy="1463.1" r="3.8"/><circle cx="1255.1" cy="1463.1" r="3.8"/><circle cx="1257.6" cy="1463.1" r="3.8"/><circle cx="1260.2" cy="1463.1" r="3.8"/><circle cx="1262.7" cy="1463.1" r="3.8"/><circle cx="1265.3" cy="1463.1" r="3.8"/><circle cx="1267.8" cy="1463.1" r="3.8"/><circle cx="1270.3" cy="1463.1" r="3.8"/><circle cx="1272.9" cy="1463.1" r="3.8"/><circle cx="1275.4" cy="1463.1" r="3.8"/><circle cx="1278" cy="1463.1" r="3.8"/><circle cx="1280.5" cy="1463.1" r="3.8"/><circle cx="1283.1" cy="1463.1" r="3.8"/></g>
<path d="M1058.7 1088.1H1106.1" stroke="#17148c" stroke-width="5.2" stroke-linecap="round" fill="none"/>
<text x="1112.7" y="1095.6" font-size="26.8" text-anchor="start" font-weight="bold" fill="#000">In-O-MoS<tspan font-size="15.5" dy="9">2</tspan><tspan dy="-9" font-size="1">&#8203;</tspan>/Ru</text>
<path d="M1058.7 1129.8H1106.1" stroke="#ff1e0a" stroke-width="5.2" stroke-linecap="round" fill="none"/>
<circle cx="1082.4" cy="1129.8" r="3.8" fill="#fff" stroke="#f01010" stroke-width="1.5"/>
<text x="1112.7" y="1137" font-size="26.8" text-anchor="start" font-weight="bold" fill="#000">Fit</text>
<text x="920.7" y="1104.5" font-size="26.7" text-anchor="start" font-weight="bold" fill="#000">Mo-S</text>
<text x="995.8" y="1268.1" font-size="26.7" text-anchor="start" font-weight="bold" fill="#000">Mo-M</text>
<text x="853.7" y="1339.2" font-size="26.7" text-anchor="start" font-weight="bold" fill="#000">Mo-O</text>
<path d="M787.4 1465.6v9.5M953.1 1465.6v9.5M1118.8 1465.6v9.5M1284.5 1465.6v9.5M870.2 1465.6v5.5M1036 1465.6v5.5M1201.7 1465.6v5.5M787.4 1465.6h-9.5M787.4 1376.5h-9.5M787.4 1287.5h-9.5M787.4 1198.4h-9.5M787.4 1109.3h-9.5M787.4 1421.1h-5.5M787.4 1332h-5.5M787.4 1242.9h-5.5M787.4 1153.9h-5.5M787.4 1064.8h-5.5" stroke="#000" stroke-width="2.8" fill="none"/>
<rect x="787.4" y="1064.8" width="497.1" height="400.8" fill="none" stroke="#000" stroke-width="2.8"/>
<text x="787.4" y="1500.2" font-size="27" text-anchor="middle" font-weight="bold" fill="#000">0</text>
<text x="953.1" y="1500.2" font-size="27" text-anchor="middle" font-weight="bold" fill="#000">2</text>
<text x="1118.8" y="1500.2" font-size="27" text-anchor="middle" font-weight="bold" fill="#000">4</text>
<text x="1284.5" y="1500.2" font-size="27" text-anchor="middle" font-weight="bold" fill="#000">6</text>
<text x="774.1" y="1473.8" font-size="27" text-anchor="end" font-weight="bold" fill="#000">0</text>
<text x="774.1" y="1384.7" font-size="27" text-anchor="end" font-weight="bold" fill="#000">4</text>
<text x="774.1" y="1295.6" font-size="27" text-anchor="end" font-weight="bold" fill="#000">8</text>
<text x="774.1" y="1206.6" font-size="27" text-anchor="end" font-weight="bold" fill="#000">12</text>
<text x="774.1" y="1117.5" font-size="27" text-anchor="end" font-weight="bold" fill="#000">16</text>
<text x="1037.5" y="1525.4" font-size="28.5" text-anchor="middle" font-weight="bold" fill="#000">Radial distance (&#197;)</text>
<text transform="translate(727.2 1272.7) rotate(-90)" font-size="28.5" text-anchor="middle" font-weight="bold">|FT (k<tspan font-size="17" dy="-11">3</tspan><tspan dy="11" font-size="1">&#8203;</tspan> <tspan font-weight="normal" font-family="'DejaVu Sans', 'Liberation Sans', sans-serif" font-size="27">&#967;</tspan>(k)|</text>
<path d="M1468 1449.2C1469.3 1449.5 1473.3 1450.1 1476 1450.8C1478.6 1451.5 1481.3 1453.5 1483.9 1453.6C1486.6 1453.7 1489.3 1452.3 1491.9 1451.2C1494.6 1450.1 1497.7 1448 1499.9 1447.2C1502.1 1446.4 1503.2 1445.7 1504.9 1446.2C1506.6 1446.7 1508.4 1448.7 1509.9 1450.2C1511.4 1451.7 1512.7 1454.9 1513.9 1455.2C1515 1455.5 1515.9 1453.9 1516.9 1452.2C1517.9 1450.5 1518.4 1448.4 1519.9 1445.2C1521.4 1442.1 1524 1436.4 1525.9 1433.2C1527.7 1430.1 1529.2 1427.7 1530.8 1426.3C1532.4 1424.8 1533.9 1423.9 1535.4 1424.3C1536.9 1424.6 1538.3 1426.3 1539.8 1428.2C1541.4 1430.2 1543.1 1434.2 1544.8 1436.2C1546.5 1438.2 1548.5 1439.7 1549.8 1440.2C1551.1 1440.8 1551.8 1440.8 1552.8 1439.6C1553.8 1438.5 1554.8 1435.6 1555.8 1433.2C1556.8 1430.8 1557.9 1427.4 1558.8 1425.3C1559.7 1423.1 1560.3 1421.1 1561.2 1420.3C1562 1419.4 1562.8 1419.6 1563.8 1420.3C1564.7 1420.9 1565.8 1422.8 1566.8 1424.3C1567.8 1425.8 1568.8 1428.2 1569.8 1429.2C1570.7 1430.3 1571.4 1431.5 1572.4 1430.4C1573.3 1429.4 1574.4 1426.3 1575.3 1422.9C1576.2 1419.4 1576.9 1415 1577.7 1409.9C1578.5 1404.8 1579.3 1398.2 1580.1 1392.3C1581 1386.5 1581.9 1380.6 1582.7 1374.8C1583.6 1368.9 1584.5 1362.8 1585.3 1357.4C1586.2 1352 1586.9 1346.8 1587.7 1342.4C1588.5 1338.1 1589.3 1334.6 1590.1 1331.5C1590.9 1328.3 1591.8 1325.1 1592.7 1323.5C1593.6 1321.8 1594.7 1321.2 1595.7 1321.5C1596.7 1321.8 1597.8 1323.4 1598.7 1325.5C1599.6 1327.5 1600.3 1330.2 1601.1 1333.9C1601.9 1337.5 1602.5 1342.2 1603.3 1347.4C1604 1352.7 1604.9 1358.9 1605.7 1365.4C1606.5 1371.9 1607.2 1379.5 1608.1 1386.3C1608.9 1393.2 1609.8 1400.7 1610.7 1406.7C1611.5 1412.7 1612.4 1419.6 1613.3 1422.3C1614.2 1424.9 1615.2 1425.3 1616.1 1422.7C1617 1420.1 1617.8 1413 1618.6 1406.7C1619.5 1400.4 1620.4 1392.1 1621.2 1384.9C1622.1 1377.8 1622.8 1370.4 1623.6 1363.8C1624.4 1357.2 1625.2 1350.9 1626 1345.4C1626.9 1339.9 1627.8 1335 1628.6 1330.9C1629.5 1326.8 1630.2 1323.5 1631 1320.9C1631.9 1318.2 1632.8 1316.6 1633.6 1314.9C1634.4 1313.2 1635.2 1312 1636 1310.5C1636.8 1309 1637.7 1307.5 1638.6 1305.9C1639.5 1304.3 1640.3 1303.3 1641.2 1300.9C1642.1 1298.5 1643.3 1295.7 1644.2 1291.6C1645.1 1287.4 1646 1282.1 1646.8 1276C1647.6 1269.9 1648.4 1262.7 1649.2 1255C1650 1247.4 1650.7 1238.5 1651.6 1229.9C1652.4 1221.3 1653.3 1212.1 1654.2 1203.3C1655 1194.6 1655.9 1185.6 1656.8 1177.4C1657.6 1169.3 1658.5 1161.5 1659.4 1154.5C1660.2 1147.4 1661.1 1140.7 1662 1134.9C1662.8 1129.1 1663.6 1123.8 1664.5 1119.9C1665.5 1116 1666.5 1111.9 1667.5 1111.6C1668.5 1111.2 1669.7 1114.9 1670.5 1117.9C1671.4 1120.9 1671.8 1124.5 1672.5 1129.5C1673.3 1134.5 1674.1 1140.8 1674.9 1147.9C1675.8 1155 1676.7 1163 1677.5 1172.2C1678.3 1181.4 1679.1 1192 1679.9 1203.1C1680.7 1214.3 1681.6 1226.4 1682.5 1238.9C1683.4 1251.3 1684.3 1264.6 1685.1 1278C1685.9 1291.3 1686.7 1305.2 1687.5 1318.9C1688.3 1332.6 1689.1 1346.7 1689.9 1360.2C1690.7 1373.7 1691.6 1387.3 1692.5 1400.1C1693.3 1412.9 1694.2 1426.1 1695.1 1437.2C1695.9 1448.3 1696.6 1466.5 1697.5 1466.8C1698.3 1467 1699.2 1447.1 1700.1 1438.6C1700.9 1430.1 1701.6 1422.4 1702.5 1415.9C1703.3 1409.3 1704.2 1403.8 1705.1 1399.3C1705.9 1394.8 1706.6 1391.4 1707.5 1388.9C1708.3 1386.4 1709.1 1385.2 1710 1384.3C1710.9 1383.5 1711.9 1383.1 1712.8 1383.9C1713.7 1384.8 1714.5 1386.8 1715.4 1389.3C1716.4 1391.9 1717.5 1395.7 1718.4 1399.2C1719.3 1402.7 1720.1 1406.2 1720.9 1410.2C1721.7 1414.3 1722.6 1419 1723.4 1423.2C1724.2 1427.5 1725 1432.2 1725.8 1435.8C1726.6 1439.4 1727.6 1442.8 1728.4 1444.9C1729.3 1447 1730.1 1448.4 1731 1448.4C1731.8 1448.4 1732.8 1446.5 1733.8 1444.9C1734.7 1443.3 1735.6 1440.2 1736.6 1438.6C1737.5 1437 1738.3 1435.5 1739.3 1435.1C1740.4 1434.8 1741.6 1435.6 1742.8 1436.5C1744.1 1437.5 1745.6 1439.9 1747 1440.7C1748.4 1441.5 1749.9 1441.6 1751.2 1441.4C1752.5 1441.2 1753.4 1440.4 1754.7 1439.3C1756 1438.3 1757.4 1436.2 1758.9 1435.1C1760.4 1434.1 1762.2 1432.8 1763.8 1433C1765.4 1433.3 1767.2 1434.3 1768.7 1436.5C1770.2 1438.7 1771.6 1443 1772.9 1446.3C1774.2 1449.6 1775.2 1453.6 1776.4 1456.1C1777.5 1458.5 1778.6 1461.4 1779.9 1461C1781.2 1460.5 1782.7 1456.2 1784.1 1453.3C1785.5 1450.4 1786.9 1446.3 1788.3 1443.5C1789.7 1440.7 1790.9 1438 1792.5 1436.5C1794 1435 1795.7 1434.2 1797.3 1434.4C1799 1434.7 1800.5 1435.7 1802.2 1437.9C1804 1440.1 1806 1444.2 1807.8 1447.7C1809.7 1451.2 1811.6 1455.9 1813.4 1458.9C1815.3 1461.9 1817.3 1464.5 1819 1465.9C1820.8 1467.3 1822.3 1467.5 1823.9 1467.3C1825.5 1467 1827.3 1466.3 1828.8 1464.5C1830.3 1462.6 1831.6 1459.3 1833 1456.1C1834.4 1452.8 1835.8 1448.4 1837.2 1444.9C1838.6 1441.4 1840 1437.9 1841.4 1435.1C1842.8 1432.3 1844.2 1430 1845.6 1428.1C1847 1426.3 1848.6 1424.8 1849.8 1423.9C1850.9 1423.1 1851.4 1422.9 1852.5 1423.2C1853.7 1423.6 1855.3 1424.3 1856.7 1426C1858.1 1427.8 1859.5 1430.8 1860.9 1433.7C1862.3 1436.6 1863.7 1440.6 1865.1 1443.5C1866.5 1446.4 1868.2 1449.7 1869.3 1451.2C1870.5 1452.7 1871.1 1453.2 1872.1 1452.6C1873.2 1452 1874.3 1449.9 1875.6 1447.7C1876.9 1445.5 1878.3 1441.6 1879.8 1439.3C1881.3 1437 1883.1 1434.9 1884.7 1433.7C1886.3 1432.6 1888 1432.2 1889.6 1432.3C1891.2 1432.4 1892.7 1433 1894.5 1434.4C1896.2 1435.8 1898.2 1438.7 1900.1 1440.7C1901.9 1442.7 1904 1445.1 1905.7 1446.3C1907.3 1447.5 1908.4 1447.6 1909.8 1447.7C1911.2 1447.8 1912.4 1447.2 1914 1447C1915.7 1446.8 1917.8 1446.1 1919.6 1446.3C1921.5 1446.5 1923.4 1447 1925.2 1448.4C1927.1 1449.8 1928.9 1452.5 1930.8 1454.7C1932.7 1456.9 1934.8 1460 1936.4 1461.7C1938 1463.3 1939 1464.2 1940.6 1464.5C1942.2 1464.7 1944.5 1463.5 1946.2 1463.1C1947.8 1462.6 1949.2 1462 1950.4 1461.7C1951.5 1461.4 1951.8 1461.2 1953.2 1461.4C1954.6 1461.6 1956.9 1462.4 1958.8 1463.1C1960.6 1463.7 1962.8 1465.2 1964.3 1465.2C1965.9 1465.2 1967.3 1463.4 1967.8 1463.1" fill="none" stroke="#2412d2" stroke-width="4.8" stroke-linejoin="round" stroke-linecap="round" clip-path="url(#ck)"/>
<path d="M1468 1452.2C1468.5 1452.4 1470 1452.4 1471 1453.2C1471.9 1454 1472.7 1455.7 1473.6 1457.2C1474.5 1458.7 1475.5 1460.7 1476.4 1462.2C1477.3 1463.7 1478 1466 1479 1466.2C1479.9 1466.3 1481 1464.5 1482 1463.2C1482.9 1461.8 1483.8 1459.8 1484.9 1458.2C1486.1 1456.5 1487.6 1454.5 1488.9 1453.2C1490.3 1451.9 1491.6 1450.9 1492.9 1450.2C1494.3 1449.5 1495.6 1448.6 1496.9 1448.8C1498.2 1449 1499.7 1450 1500.9 1451.2C1502.1 1452.4 1502.7 1454.4 1503.9 1456.2C1505.1 1458 1506.7 1460.7 1507.9 1462.2C1509.1 1463.7 1510 1464.7 1510.9 1465.2C1511.8 1465.6 1512.6 1466.1 1513.5 1464.8C1514.3 1463.4 1515 1459.9 1515.9 1457.2C1516.8 1454.4 1517.9 1450.7 1518.9 1448.2C1519.9 1445.7 1520.9 1443.8 1521.9 1442.2C1522.9 1440.7 1523.9 1439.7 1524.9 1438.8C1525.9 1438 1526.9 1437 1527.8 1437.2C1528.8 1437.5 1529.8 1438.9 1530.8 1440.2C1531.8 1441.6 1532.8 1443.3 1533.8 1445.2C1534.8 1447.1 1535.8 1449.7 1536.8 1451.6C1537.8 1453.5 1538.9 1455.8 1539.8 1456.8C1540.7 1457.8 1541.4 1457.9 1542.2 1457.6C1543 1457.3 1544 1456.6 1544.8 1454.8C1545.6 1453 1546.4 1449.6 1547.2 1446.8C1548 1444 1548.6 1441 1549.4 1437.8C1550.2 1434.7 1551.1 1430.6 1551.8 1427.8C1552.5 1425.1 1553.1 1422.9 1553.8 1421.3C1554.5 1419.7 1555.4 1419 1556.2 1418.3C1557 1417.5 1557.9 1416.8 1558.8 1416.7C1559.6 1416.5 1560.3 1416.8 1561.2 1417.3C1562 1417.7 1562.8 1418.1 1563.8 1419.3C1564.7 1420.4 1565.8 1422.6 1566.8 1424.3C1567.8 1425.9 1568.8 1428.2 1569.8 1429.2C1570.7 1430.3 1571.4 1431.5 1572.4 1430.4C1573.3 1429.4 1574.4 1426.3 1575.3 1422.9C1576.2 1419.4 1576.9 1415 1577.7 1409.9C1578.5 1404.8 1579.3 1398.2 1580.1 1392.3C1581 1386.5 1581.9 1380.6 1582.7 1374.8C1583.6 1368.9 1584.5 1362.8 1585.3 1357.4C1586.2 1352 1586.9 1346.8 1587.7 1342.4C1588.5 1338.1 1589.3 1334.6 1590.1 1331.5C1590.9 1328.3 1591.8 1325.1 1592.7 1323.5C1593.6 1321.8 1594.7 1321.2 1595.7 1321.5C1596.7 1321.8 1597.8 1323.4 1598.7 1325.5C1599.6 1327.5 1600.3 1330.2 1601.1 1333.9C1601.9 1337.5 1602.5 1342.2 1603.3 1347.4C1604 1352.7 1604.9 1358.9 1605.7 1365.4C1606.5 1371.9 1607.2 1379.5 1608.1 1386.3C1608.9 1393.2 1609.8 1400.7 1610.7 1406.7C1611.5 1412.7 1612.4 1419.6 1613.3 1422.3C1614.2 1424.9 1615.2 1425.3 1616.1 1422.7C1617 1420.1 1617.8 1413 1618.6 1406.7C1619.5 1400.4 1620.4 1392.1 1621.2 1384.9C1622.1 1377.8 1622.8 1370.4 1623.6 1363.8C1624.4 1357.2 1625.2 1350.9 1626 1345.4C1626.9 1339.9 1627.8 1335 1628.6 1330.9C1629.5 1326.8 1630.2 1323.5 1631 1320.9C1631.9 1318.2 1632.8 1316.6 1633.6 1314.9C1634.4 1313.2 1635.2 1312 1636 1310.5C1636.8 1309 1637.7 1307.5 1638.6 1305.9C1639.5 1304.3 1640.3 1303.3 1641.2 1300.9C1642.1 1298.5 1643.3 1295.7 1644.2 1291.6C1645.1 1287.4 1646 1282.1 1646.8 1276C1647.6 1269.9 1648.4 1262.7 1649.2 1255C1650 1247.4 1650.7 1238.5 1651.6 1229.9C1652.4 1221.3 1653.3 1212.1 1654.2 1203.3C1655 1194.6 1655.9 1185.6 1656.8 1177.4C1657.6 1169.3 1658.5 1161.3 1659.4 1154.5C1660.2 1147.6 1661.1 1141.4 1662 1136.1C1662.8 1130.8 1663.6 1126.1 1664.5 1122.9C1665.5 1119.7 1666.6 1117.4 1667.5 1116.9C1668.4 1116.4 1669.1 1117.8 1669.9 1119.9C1670.8 1122 1671.7 1124.9 1672.5 1129.5C1673.4 1134.2 1674.1 1140.8 1674.9 1147.9C1675.8 1155 1676.7 1163 1677.5 1172.2C1678.3 1181.4 1679.1 1192 1679.9 1203.1C1680.7 1214.3 1681.6 1226.4 1682.5 1238.9C1683.4 1251.3 1684.3 1264.6 1685.1 1278C1685.9 1291.3 1686.7 1305.2 1687.5 1318.9C1688.3 1332.6 1689.1 1346.7 1689.9 1360.2C1690.7 1373.7 1691.6 1387.3 1692.5 1400.1C1693.3 1412.9 1694.2 1426.1 1695.1 1437.2C1695.9 1448.3 1696.6 1466.5 1697.5 1466.8C1698.3 1467 1699.2 1447.1 1700.1 1438.6C1700.9 1430.1 1701.6 1422.4 1702.5 1415.9C1703.3 1409.3 1704.2 1403.8 1705.1 1399.3C1705.9 1394.8 1706.6 1391.4 1707.5 1388.9C1708.3 1386.4 1709.1 1385.2 1710 1384.3C1710.9 1383.5 1711.9 1383.1 1712.8 1383.9C1713.7 1384.8 1714.5 1386.8 1715.4 1389.3C1716.4 1391.9 1717.5 1395.7 1718.4 1399.2C1719.3 1402.7 1720.1 1406.2 1720.9 1410.2C1721.7 1414.3 1722.6 1419 1723.4 1423.2C1724.2 1427.5 1725 1432.2 1725.8 1435.8C1726.6 1439.4 1727.6 1442.8 1728.4 1444.9C1729.3 1447 1730.1 1448.4 1731 1448.4C1731.8 1448.4 1732.8 1446.5 1733.8 1444.9C1734.7 1443.3 1735.6 1440.5 1736.6 1438.6C1737.5 1436.8 1738.3 1434.9 1739.3 1433.7C1740.4 1432.6 1741.7 1431.5 1742.8 1431.6C1744 1431.7 1745.1 1433.1 1746.1 1434.4C1747.1 1435.7 1747.9 1437.5 1748.9 1439.3C1749.8 1441.2 1750.7 1443.5 1751.6 1445.6C1752.6 1447.7 1753.6 1450.3 1754.7 1451.9C1755.8 1453.5 1757 1455.3 1758.2 1455.4C1759.4 1455.5 1760.5 1453.9 1761.7 1452.6C1762.9 1451.3 1764 1449.2 1765.2 1447.7C1766.4 1446.2 1767.5 1444.4 1768.7 1443.5C1769.9 1442.6 1771 1442 1772.2 1442.1C1773.4 1442.2 1774.5 1443 1775.7 1444.2C1776.8 1445.4 1778 1447.2 1779.2 1449.1C1780.3 1451 1781.5 1453.5 1782.7 1455.4C1783.8 1457.3 1785 1459.3 1786.2 1460.3C1787.3 1461.2 1788.4 1461.4 1789.7 1461C1790.9 1460.5 1792.5 1458.6 1793.9 1457.5C1795.2 1456.3 1796.6 1454.8 1798 1454C1799.4 1453.2 1800.8 1452.5 1802.2 1452.6C1803.6 1452.7 1805 1453.6 1806.4 1454.7C1807.8 1455.7 1809.2 1457.6 1810.6 1458.9C1812 1460.2 1813.4 1461.9 1814.8 1462.4C1816.2 1462.8 1817.6 1462.3 1819 1461.7C1820.4 1461.1 1821.8 1459.7 1823.2 1458.9C1824.6 1458.1 1826 1457.3 1827.4 1456.8C1828.8 1456.3 1830.2 1455.9 1831.6 1456.1C1833 1456.3 1834.4 1457.3 1835.8 1458.2C1837.2 1459.1 1838.6 1460.6 1840 1461.7C1841.4 1462.7 1842.5 1464.2 1844.2 1464.5C1845.8 1464.7 1847.9 1463.7 1849.8 1463.1C1851.6 1462.5 1853.5 1461.4 1855.3 1461C1857.2 1460.5 1859.1 1460.2 1860.9 1460.3C1862.8 1460.4 1864.7 1461 1866.5 1461.7C1868.4 1462.3 1870.2 1463.7 1872.1 1464.2C1874 1464.7 1875.6 1464.7 1877.7 1464.5C1879.8 1464.3 1882.4 1463.4 1884.7 1463.1C1887 1462.7 1889.3 1462.3 1891.7 1462.4C1894 1462.5 1896.3 1463.3 1898.7 1463.8C1901 1464.2 1903.3 1465.1 1905.7 1465.2C1908 1465.3 1910.3 1464.6 1912.6 1464.5C1915 1464.3 1917.1 1464.1 1919.6 1464.2C1922.2 1464.3 1925.2 1464.9 1928 1465.2C1930.8 1465.5 1933.1 1465.8 1936.4 1465.9C1939.7 1466 1943.9 1465.8 1947.6 1465.9C1951.3 1465.9 1955.4 1466 1958.8 1466.1C1962.1 1466.3 1966.3 1466.5 1967.8 1466.6" fill="none" stroke="#46c828" stroke-width="4.8" stroke-linejoin="round" stroke-linecap="round" clip-path="url(#ck)"/>
<g fill="#fff" stroke="#2aa818" stroke-width="1.5"><circle cx="1468.5" cy="1452.3" r="3.8"/><circle cx="1471.1" cy="1453.3" r="3.8"/><circle cx="1473.6" cy="1457.2" r="3.8"/><circle cx="1476.2" cy="1461.8" r="3.8"/><circle cx="1478.7" cy="1466.1" r="3.8"/><circle cx="1481.3" cy="1464.1" r="3.8"/><circle cx="1483.8" cy="1460" r="3.8"/><circle cx="1486.4" cy="1456.2" r="3.8"/><circle cx="1488.9" cy="1453.2" r="3.8"/><circle cx="1491.5" cy="1451.1" r="3.8"/><circle cx="1494" cy="1449.6" r="3.8"/><circle cx="1496.6" cy="1448.8" r="3.8"/><circle cx="1499.1" cy="1449.7" r="3.8"/><circle cx="1501.7" cy="1452.2" r="3.8"/><circle cx="1504.3" cy="1456.7" r="3.8"/><circle cx="1506.8" cy="1460.7" r="3.8"/><circle cx="1509.4" cy="1463.9" r="3.8"/><circle cx="1511.9" cy="1465.6" r="3.8"/><circle cx="1514.5" cy="1462.1" r="3.8"/><circle cx="1517" cy="1453.6" r="3.8"/><circle cx="1519.6" cy="1446.5" r="3.8"/><circle cx="1522.1" cy="1441.8" r="3.8"/><circle cx="1524.7" cy="1439" r="3.8"/><circle cx="1527.2" cy="1437.2" r="3.8"/><circle cx="1529.8" cy="1438.8" r="3.8"/><circle cx="1532.4" cy="1442.5" r="3.8"/><circle cx="1534.9" cy="1447.4" r="3.8"/><circle cx="1537.5" cy="1452.8" r="3.8"/><circle cx="1540" cy="1457" r="3.8"/><circle cx="1542.6" cy="1457.4" r="3.8"/><circle cx="1545.1" cy="1454" r="3.8"/><circle cx="1547.7" cy="1445" r="3.8"/><circle cx="1550.2" cy="1434.3" r="3.8"/><circle cx="1552.8" cy="1424.2" r="3.8"/><circle cx="1555.3" cy="1419.1" r="3.8"/><circle cx="1557.9" cy="1417" r="3.8"/><circle cx="1560.4" cy="1416.9" r="3.8"/><circle cx="1563" cy="1418.4" r="3.8"/><circle cx="1565.6" cy="1422.1" r="3.8"/><circle cx="1568.1" cy="1426.7" r="3.8"/><circle cx="1570.7" cy="1430.3" r="3.8"/><circle cx="1573.2" cy="1429" r="3.8"/><circle cx="1575.8" cy="1421.1" r="3.8"/><circle cx="1578.3" cy="1405.9" r="3.8"/><circle cx="1580.9" cy="1387.2" r="3.8"/><circle cx="1583.4" cy="1370" r="3.8"/><circle cx="1586" cy="1353.1" r="3.8"/><circle cx="1588.5" cy="1338.2" r="3.8"/><circle cx="1591.1" cy="1327.8" r="3.8"/><circle cx="1593.6" cy="1322.2" r="3.8"/><circle cx="1596.2" cy="1321.8" r="3.8"/><circle cx="1598.8" cy="1325.6" r="3.8"/><circle cx="1601.3" cy="1335" r="3.8"/><circle cx="1603.9" cy="1351.5" r="3.8"/><circle cx="1606.4" cy="1371.8" r="3.8"/><circle cx="1609" cy="1393.8" r="3.8"/><circle cx="1611.5" cy="1412.8" r="3.8"/><circle cx="1614.1" cy="1424" r="3.8"/><circle cx="1616.6" cy="1420.3" r="3.8"/><circle cx="1619.2" cy="1402.5" r="3.8"/><circle cx="1621.7" cy="1380.5" r="3.8"/><circle cx="1624.3" cy="1358.4" r="3.8"/><circle cx="1626.9" cy="1340.3" r="3.8"/><circle cx="1629.4" cy="1327.2" r="3.8"/><circle cx="1632" cy="1318.3" r="3.8"/><circle cx="1634.5" cy="1313.2" r="3.8"/><circle cx="1637.1" cy="1308.6" r="3.8"/><circle cx="1639.6" cy="1304.2" r="3.8"/><circle cx="1642.2" cy="1298.4" r="3.8"/><circle cx="1644.7" cy="1288.9" r="3.8"/><circle cx="1647.3" cy="1272.1" r="3.8"/><circle cx="1649.8" cy="1248.4" r="3.8"/><circle cx="1652.4" cy="1221.4" r="3.8"/><circle cx="1654.9" cy="1195.4" r="3.8"/><circle cx="1657.5" cy="1170.5" r="3.8"/><circle cx="1660.1" cy="1149" r="3.8"/><circle cx="1662.6" cy="1132.2" r="3.8"/><circle cx="1665.2" cy="1121" r="3.8"/><circle cx="1667.7" cy="1116.9" r="3.8"/><circle cx="1670.3" cy="1120.8" r="3.8"/><circle cx="1672.8" cy="1131.3" r="3.8"/><circle cx="1675.4" cy="1151.8" r="3.8"/><circle cx="1677.9" cy="1177" r="3.8"/><circle cx="1680.5" cy="1210.9" r="3.8"/><circle cx="1683" cy="1246.7" r="3.8"/><circle cx="1685.6" cy="1286.1" r="3.8"/><circle cx="1688.2" cy="1330.3" r="3.8"/><circle cx="1690.7" cy="1373.2" r="3.8"/><circle cx="1693.3" cy="1411.6" r="3.8"/><circle cx="1695.8" cy="1448.6" r="3.8"/><circle cx="1698.4" cy="1461" r="3.8"/><circle cx="1700.9" cy="1429.9" r="3.8"/><circle cx="1703.5" cy="1408.6" r="3.8"/><circle cx="1706" cy="1394.4" r="3.8"/><circle cx="1708.6" cy="1386.3" r="3.8"/><circle cx="1711.1" cy="1383.6" r="3.8"/><circle cx="1713.7" cy="1385.1" r="3.8"/><circle cx="1716.2" cy="1391.7" r="3.8"/><circle cx="1718.8" cy="1400.8" r="3.8"/><circle cx="1721.4" cy="1412.5" r="3.8"/><circle cx="1723.9" cy="1425.9" r="3.8"/><circle cx="1726.5" cy="1438.6" r="3.8"/><circle cx="1729" cy="1446.2" r="3.8"/><circle cx="1731.6" cy="1448.1" r="3.8"/><circle cx="1734.1" cy="1444.2" r="3.8"/><circle cx="1736.7" cy="1438.4" r="3.8"/><circle cx="1739.2" cy="1433.9" r="3.8"/><circle cx="1741.8" cy="1431.8" r="3.8"/><circle cx="1744.3" cy="1432.5" r="3.8"/><circle cx="1746.9" cy="1435.6" r="3.8"/><circle cx="1749.4" cy="1440.6" r="3.8"/><circle cx="1752" cy="1446.4" r="3.8"/><circle cx="1754.6" cy="1451.6" r="3.8"/><circle cx="1757.1" cy="1454.9" r="3.8"/><circle cx="1759.7" cy="1454.8" r="3.8"/><circle cx="1762.2" cy="1452" r="3.8"/><circle cx="1764.8" cy="1448.3" r="3.8"/><circle cx="1767.3" cy="1444.9" r="3.8"/><circle cx="1769.9" cy="1442.7" r="3.8"/><circle cx="1772.4" cy="1442.1" r="3.8"/><circle cx="1775" cy="1443.6" r="3.8"/><circle cx="1777.5" cy="1446.6" r="3.8"/><circle cx="1780.1" cy="1450.7" r="3.8"/><circle cx="1782.7" cy="1455.4" r="3.8"/><circle cx="1785.2" cy="1459.3" r="3.8"/><circle cx="1787.8" cy="1461.1" r="3.8"/><circle cx="1790.3" cy="1460.6" r="3.8"/><circle cx="1792.9" cy="1458.4" r="3.8"/><circle cx="1795.4" cy="1456.1" r="3.8"/><circle cx="1798" cy="1454" r="3.8"/><circle cx="1800.5" cy="1452.8" r="3.8"/><circle cx="1803.1" cy="1452.8" r="3.8"/><circle cx="1805.6" cy="1454.1" r="3.8"/><circle cx="1808.2" cy="1456.3" r="3.8"/><circle cx="1810.7" cy="1459" r="3.8"/><circle cx="1813.3" cy="1461.4" r="3.8"/><circle cx="1815.9" cy="1462.5" r="3.8"/><circle cx="1818.4" cy="1461.9" r="3.8"/><circle cx="1821" cy="1460.5" r="3.8"/><circle cx="1823.5" cy="1458.7" r="3.8"/><circle cx="1826.1" cy="1457.3" r="3.8"/><circle cx="1828.6" cy="1456.4" r="3.8"/><circle cx="1831.2" cy="1456" r="3.8"/><circle cx="1833.7" cy="1456.9" r="3.8"/><circle cx="1836.3" cy="1458.6" r="3.8"/><circle cx="1838.8" cy="1460.7" r="3.8"/><circle cx="1841.4" cy="1462.9" r="3.8"/><circle cx="1843.9" cy="1464.4" r="3.8"/><circle cx="1846.5" cy="1464.2" r="3.8"/><circle cx="1849.1" cy="1463.3" r="3.8"/><circle cx="1851.6" cy="1462.4" r="3.8"/><circle cx="1854.2" cy="1461.3" r="3.8"/><circle cx="1856.7" cy="1460.7" r="3.8"/><circle cx="1859.3" cy="1460.3" r="3.8"/><circle cx="1861.8" cy="1460.4" r="3.8"/><circle cx="1864.4" cy="1461" r="3.8"/><circle cx="1866.9" cy="1461.8" r="3.8"/><circle cx="1869.5" cy="1463.1" r="3.8"/><circle cx="1872" cy="1464.2" r="3.8"/><circle cx="1874.6" cy="1464.6" r="3.8"/><circle cx="1877.2" cy="1464.5" r="3.8"/><circle cx="1879.7" cy="1464.2" r="3.8"/><circle cx="1882.3" cy="1463.6" r="3.8"/><circle cx="1884.8" cy="1463.1" r="3.8"/><circle cx="1887.4" cy="1462.7" r="3.8"/><circle cx="1889.9" cy="1462.4" r="3.8"/><circle cx="1892.5" cy="1462.4" r="3.8"/><circle cx="1895" cy="1462.9" r="3.8"/><circle cx="1897.6" cy="1463.5" r="3.8"/><circle cx="1900.1" cy="1464.1" r="3.8"/><circle cx="1902.7" cy="1464.7" r="3.8"/><circle cx="1905.2" cy="1465.1" r="3.8"/><circle cx="1907.8" cy="1465.1" r="3.8"/><circle cx="1910.4" cy="1464.7" r="3.8"/><circle cx="1912.9" cy="1464.5" r="3.8"/><circle cx="1915.5" cy="1464.3" r="3.8"/><circle cx="1918" cy="1464.2" r="3.8"/><circle cx="1920.6" cy="1464.3" r="3.8"/><circle cx="1923.1" cy="1464.5" r="3.8"/><circle cx="1925.7" cy="1464.9" r="3.8"/><circle cx="1928.2" cy="1465.2" r="3.8"/><circle cx="1930.8" cy="1465.5" r="3.8"/><circle cx="1933.3" cy="1465.7" r="3.8"/><circle cx="1935.9" cy="1465.8" r="3.8"/><circle cx="1938.5" cy="1465.9" r="3.8"/><circle cx="1941" cy="1465.9" r="3.8"/><circle cx="1943.6" cy="1465.9" r="3.8"/><circle cx="1946.1" cy="1465.9" r="3.8"/><circle cx="1948.7" cy="1465.9" r="3.8"/><circle cx="1951.2" cy="1465.9" r="3.8"/><circle cx="1953.8" cy="1466" r="3.8"/><circle cx="1956.3" cy="1466.1" r="3.8"/><circle cx="1958.9" cy="1466.2" r="3.8"/><circle cx="1961.4" cy="1466.3" r="3.8"/><circle cx="1964" cy="1466.4" r="3.8"/><circle cx="1966.5" cy="1466.5" r="3.8"/></g>
<path d="M1738.7 1090.8H1786.1" stroke="#2412d2" stroke-width="5.2" stroke-linecap="round" fill="none"/>
<text x="1792.7" y="1098.3" font-size="26.8" text-anchor="start" font-weight="bold" fill="#000">In-O-MoS<tspan font-size="15.5" dy="9">2</tspan><tspan dy="-9" font-size="1">&#8203;</tspan>/Ru</text>
<path d="M1738.7 1131.8H1786.1" stroke="#46c828" stroke-width="5.2" stroke-linecap="round" fill="none"/>
<circle cx="1762.4" cy="1131.8" r="3.8" fill="#fff" stroke="#2aa818" stroke-width="1.5"/>
<text x="1792.7" y="1139.3" font-size="26.8" text-anchor="start" font-weight="bold" fill="#000">Fit</text>
<text x="1631.1" y="1103.5" font-size="26.7" text-anchor="start" font-weight="bold" fill="#000">Ru-Ru</text>
<text x="1563.1" y="1310.8" font-size="26.7" text-anchor="start" font-weight="bold" fill="#000">Ru-O</text>
<text x="1698.7" y="1372.7" font-size="26.7" text-anchor="start" font-weight="bold" fill="#000">Ru-M</text>
<path d="M1468.5 1469v9.5M1635 1469v9.5M1801.5 1469v9.5M1968 1469v9.5M1551.8 1469v5.5M1718.2 1469v5.5M1884.8 1469v5.5M1468.5 1469h-9.5M1468.5 1415.3h-9.5M1468.5 1361.6h-9.5M1468.5 1307.9h-9.5M1468.5 1254.2h-9.5M1468.5 1200.5h-9.5M1468.5 1146.8h-9.5M1468.5 1093.1h-9.5M1468.5 1442.2h-5.5M1468.5 1388.5h-5.5M1468.5 1334.8h-5.5M1468.5 1281.1h-5.5M1468.5 1227.4h-5.5M1468.5 1173.7h-5.5M1468.5 1120h-5.5M1468.5 1066.3h-5.5" stroke="#000" stroke-width="2.8" fill="none"/>
<rect x="1468.5" y="1066.3" width="499.5" height="402.7" fill="none" stroke="#000" stroke-width="2.8"/>
<text x="1468.5" y="1503.6" font-size="27" text-anchor="middle" font-weight="bold" fill="#000">0</text>
<text x="1635" y="1503.6" font-size="27" text-anchor="middle" font-weight="bold" fill="#000">2</text>
<text x="1801.5" y="1503.6" font-size="27" text-anchor="middle" font-weight="bold" fill="#000">4</text>
<text x="1968" y="1503.6" font-size="27" text-anchor="middle" font-weight="bold" fill="#000">6</text>
<text x="1455.2" y="1477.2" font-size="27" text-anchor="end" font-weight="bold" fill="#000">0</text>
<text x="1455.2" y="1423.5" font-size="27" text-anchor="end" font-weight="bold" fill="#000">1</text>
<text x="1455.2" y="1369.8" font-size="27" text-anchor="end" font-weight="bold" fill="#000">2</text>
<text x="1455.2" y="1316.1" font-size="27" text-anchor="end" font-weight="bold" fill="#000">3</text>
<text x="1455.2" y="1262.4" font-size="27" text-anchor="end" font-weight="bold" fill="#000">4</text>
<text x="1455.2" y="1208.7" font-size="27" text-anchor="end" font-weight="bold" fill="#000">5</text>
<text x="1455.2" y="1155" font-size="27" text-anchor="end" font-weight="bold" fill="#000">6</text>
<text x="1455.2" y="1101.3" font-size="27" text-anchor="end" font-weight="bold" fill="#000">7</text>
<text x="1716" y="1535.6" font-size="28.5" text-anchor="middle" font-weight="bold" fill="#000">Radial distance (&#197;)</text>
<text transform="translate(1423.5 1279.7) rotate(-90)" font-size="28.5" text-anchor="middle" font-weight="bold">|FT (k<tspan font-size="17" dy="-11">3</tspan><tspan dy="11" font-size="1">&#8203;</tspan> <tspan font-weight="normal" font-family="'DejaVu Sans', 'Liberation Sans', sans-serif" font-size="27">&#967;</tspan>(k)|</text>
<g clip-path="url(#cd)">
<rect x="109.3" y="1553" width="510.8" height="342.3" fill="#350001"/>
<path d="M620.1 1897.9L109.3 1898.2L106.5 1895.3L106 1841.3L106.7 1717.5L109.3 1717.5L129.8 1713.9L132.4 1712.7L136.9 1707.4L138.2 1704.8L139.3 1699.7L138.8 1694.6L136.8 1689.4L132.4 1683L127.3 1677.9L122.1 1674.3L117 1672L111.9 1671.3L106.7 1671.5L106.7 1641.1L109.3 1641.1L114.4 1642.3L117 1642L122.1 1639.8L127.3 1635.5L129.8 1632.5L134.6 1625.1L137.5 1619.1L142.7 1603.5L145.7 1586.5L146.6 1568.4L145.4 1550.4L277.4 1550.4L277.4 1553L278.2 1555.6L281.3 1560L286.4 1563L291.5 1563.5L296.7 1561.9L300.9 1558.1L303.2 1553L303.2 1550.4L503.9 1550.4L503.9 1553L498.2 1555.6L491.8 1559.6L487.6 1563.3L484.1 1568.3L482.9 1571L482.2 1576.2L483.2 1581.3L484.4 1583.9L488.3 1589L491.8 1592.1L496.9 1595.4L504.6 1599L512.3 1601.5L520 1603.2L530.3 1604.4L538 1604.7L553.4 1603.3L561.1 1601.5L567.2 1599.3L573.9 1596L579 1592.5L582.7 1589L586.2 1583.9L587.3 1581.3L588.1 1576.2L587.3 1571L586.1 1568.4L582.4 1563.3L579 1560.2L571.8 1555.6L566.1 1553L566.1 1550.4L620.1 1550.4L622.7 1553L622.7 1662.4L620.1 1662.4L607.3 1659.6L597 1659.3L586.7 1660.9L576.5 1664.7L571.3 1667.7L566.5 1671.4L559.4 1679.1L556.2 1684.3L554 1689.4L552.7 1694.6L552.3 1699.7L553.4 1707.4L557 1715.1L563.6 1722.5L571.9 1728L584.2 1732.8L597 1735.4L609.8 1735.8L622.7 1734.6L622.7 1868.6L613.1 1869.6L602.1 1875L589.3 1880.5L573.9 1886L559.7 1890.2L573.9 1892.7L584.2 1893.2L602.1 1893.3L622.7 1892.3L622.7 1895.3L620.1 1897.9ZM389.5 1655.9L394.2 1653.2L398.2 1648.2L400.9 1640.5L400.9 1632.8L399.6 1627.6L398.3 1625.1L394.2 1620.1L389.1 1617.3L384 1616.8L381.4 1617.4L376.6 1619.9L372.2 1625.1L370.9 1627.6L369.4 1632.8L369.4 1640.5L370.8 1645.7L372 1648.2L376.3 1653.4L381.4 1656.1L386.5 1656.6L389.5 1655.9ZM234.7 1686.8L240.8 1684.3L243.6 1681.7L245.3 1679.1L247 1674L246.6 1668.8L244.3 1663.7L240.2 1659.5L235.1 1657.2L232.5 1656.7L227.4 1657L222.2 1659L219.5 1661.1L217.4 1663.7L215.2 1668.8L215.1 1674L217.1 1679.4L219.7 1682.6L222.2 1684.6L227.4 1686.7L229.9 1687.1L234.7 1686.8ZM481.2 1738.3L485.5 1735.7L488.1 1733.2L489.6 1730.6L490.3 1728L490.2 1725.4L489.3 1722.9L487.7 1720.3L484.9 1717.7L481.5 1715.7L473.8 1713.4L468.7 1713L463.5 1713.5L458.4 1715L453.5 1717.7L450.7 1720.3L449 1722.9L448.1 1725.4L448 1728L448.6 1730.6L450 1733.2L452.6 1735.7L456.9 1738.3L463.5 1740.3L468.7 1740.7L473.8 1740.4L481.2 1738.3ZM366.2 1735.7L367.3 1733.2L364.5 1730.6L360.1 1730.6L357.3 1733.2L358.2 1735.7L360.8 1736.6L363.4 1736.6L366.2 1735.7Z" fill="#4a0105" fill-rule="evenodd"/>
<path d="M525.1 1897.9L109.3 1898.1L106.5 1895.3L106 1841.3L106.7 1730.8L110.4 1730.6L124.7 1726.5L138.4 1720.3L146.3 1715.1L152.2 1710L156.4 1704.8L159 1699.7L160.2 1694.6L160.4 1689.4L156.7 1668.8L156.3 1658.5L157.6 1648.2L164 1614.8L167 1594.2L169.4 1571L170.2 1550.4L262.7 1550.4L263.3 1555.6L265.3 1560.7L268.4 1565.5L271.1 1568.4L276.1 1572.3L281.3 1574.7L286.4 1576L291.5 1576.3L296.7 1575.7L301.8 1574.1L306.9 1571.2L310.4 1568.4L312.8 1565.9L316.2 1560.7L318.2 1555.6L318.8 1550.4L422 1550.4L422 1553L419.5 1558.1L417.2 1565.9L416.5 1571L416.3 1578.7L416.9 1586.5L418.7 1596.8L420.9 1601.9L423.2 1604.5L441.5 1617.3L455.8 1625.5L473.8 1633L504.6 1642.4L512.3 1645.3L517.7 1648.2L520.8 1650.8L522.8 1653.4L524.5 1658.5L524.6 1663.7L519.8 1689.4L518.9 1699.7L518.8 1707.4L519.7 1712.6L520.8 1715.1L525.1 1720.3L534.8 1728L543.2 1733.2L554.2 1738.3L566.2 1742.6L579.1 1746L594.4 1748.9L609.8 1750.4L622.7 1750.6L622.7 1861.8L594.4 1864.1L579.5 1867L555.9 1876L538 1881.2L520 1885.7L515.9 1887.6L516.9 1890.2L520 1892.6L526.4 1895.3L526.4 1897.9L525.1 1897.9ZM396.5 1668.8L401.9 1666L407.1 1661.3L411 1655.9L413.7 1650.8L416.4 1643.1L418 1635.4L418.7 1627.6L418.6 1617.3L418 1612.2L416.5 1607L414.6 1604.5L412.2 1602.5L407.1 1600L401.9 1598.5L396.8 1597.7L391.7 1597.7L386.5 1598.5L378.8 1601.4L373.7 1604.9L368.6 1610L365.3 1614.8L361.9 1622.5L360.1 1630.2L359.8 1637.9L361 1645.7L363.4 1652.5L367 1658.5L371.6 1663.7L376.3 1667L384 1669.9L391.7 1670.1L396.5 1668.8ZM240.3 1697.1L245.3 1695.1L250.5 1691.4L254.3 1686.8L256.7 1681.7L257.7 1676.5L257.7 1671.4L256.7 1666.2L254.5 1661.1L250.7 1655.9L247.9 1653.3L242.8 1649.9L237.6 1647.9L232.5 1646.9L227.4 1646.9L222.2 1647.8L217.1 1649.7L212 1652.9L208.6 1655.9L206.5 1658.5L203.7 1663.7L202.2 1668.8L201.9 1674L203.7 1681.7L206.8 1686.8L209.4 1689.7L214.5 1693.6L219.7 1696.1L224.8 1697.6L229.9 1698.3L235.1 1698.2L240.3 1697.1ZM477.9 1746L486.6 1744L493.9 1740.9L498.1 1738.3L503.9 1733.2L505.9 1730.6L508.7 1725.4L509.6 1720.3L509.2 1717.7L507.9 1715.1L505.4 1712.6L499.5 1708.7L489.2 1704.4L478.9 1702.1L468.7 1701.6L458.4 1702.9L450.7 1705.5L443 1709.9L437.8 1715.1L436.1 1717.7L434.3 1722.9L434.4 1728L436.6 1733.2L441.5 1738.3L448.1 1742.3L458.4 1745.6L468.7 1746.6L477.9 1746ZM281.1 1743.5L289 1741.1L292.4 1738.3L293.9 1735.7L294.3 1733.2L293.9 1730.6L292.5 1728L289.9 1725.4L286.4 1723.3L278.7 1721.4L271 1722.3L265.9 1725.1L263.6 1728L262.7 1730.6L262.7 1733.2L263.6 1735.7L265.4 1738.3L268.6 1740.9L273.6 1742.8L281.1 1743.5ZM371.2 1743.5L376.9 1740.9L380 1738.3L381.7 1735.7L382.5 1733.2L382.3 1730.6L381.2 1728L379 1725.4L374.9 1722.9L371.1 1721.5L366 1720.6L360.8 1720.7L355.7 1721.6L352.2 1722.9L347.8 1725.4L345.3 1728L343.9 1730.6L343.5 1733.2L344 1735.7L345.4 1738.3L348.3 1740.9L350.6 1742.1L355.7 1744L360.8 1744.6L366 1744.5L371.2 1743.5Z" fill="#600608" fill-rule="evenodd"/>
<path d="M481.5 1897.9L109.3 1898.1L106.5 1895.3L106.1 1841.3L106.7 1738.8L109.3 1738.8L111.9 1738.1L129.8 1732.1L176 1712.9L183.7 1710.6L194 1709.2L201.7 1709.5L209.4 1710.7L235.1 1715.4L242.2 1717.7L245.4 1720.3L247.9 1724.9L251.1 1733.2L254.5 1738.3L256.9 1740.9L260.1 1743.5L264.9 1746L273.6 1748.5L278.7 1749L286.4 1748.6L296.7 1745.9L301.6 1743.5L308.2 1738.3L310.4 1735.7L312.9 1730.6L313.2 1728L312.7 1725.4L310.2 1720.3L304.4 1712.7L291.6 1699.7L285.4 1692L281.3 1684.6L274.9 1668.8L271.1 1661.1L266 1653.4L260.7 1647.5L253 1641.3L242.8 1636L232.5 1633.1L210.2 1630.2L205.2 1627.6L203.2 1625.1L201.4 1619.9L201.1 1612.2L201.9 1604.5L204.3 1594.7L206.8 1587.9L210.2 1581.3L214.5 1575L219.7 1569.8L224.8 1566.4L229.9 1564.6L235.1 1564.6L237.6 1565.3L242.8 1567.9L257.1 1578.7L265.9 1584.2L276.1 1588.6L286.4 1590.9L296.7 1591L304.4 1589.9L312.1 1587.8L327.5 1582.1L335.2 1580.5L340.3 1581.3L342.9 1582.5L347.1 1586.5L349.6 1591.6L350.6 1596.8L350.4 1604.5L348.5 1622.5L348.3 1632.8L349.2 1643.1L351.7 1653.4L354.8 1661.1L359.1 1668.8L366 1678L378.1 1692L380.7 1697.1L381.1 1699.7L380.6 1702.3L378.8 1704.7L376.3 1706.2L373.4 1707.4L355.7 1711L345.4 1714.1L337.7 1717.7L330.6 1722.9L328.5 1725.4L327.3 1728L327 1730.6L327.6 1733.2L331 1738.3L333.8 1740.9L340.3 1744.9L345.4 1747.1L353.1 1749L360.8 1749.8L368.6 1749.6L378.8 1747.8L384.6 1746L399.4 1740.2L407.1 1739L412.2 1739.4L417.3 1740.6L445.6 1749.3L455 1751.2L463.5 1752.2L478.9 1752.2L489.2 1751L509.7 1747.5L522.6 1747.4L538 1749.9L620.1 1766.9L622.7 1766.9L622.7 1853.4L620.1 1853.4L560.7 1864.4L550.8 1867L530.3 1873.5L502 1880.7L497.5 1882.4L488.9 1887.6L484 1892.7L482.5 1895.3L482.5 1897.9L481.5 1897.9Z" fill="#770c0a" fill-rule="evenodd"/>
<path d="M440.4 1897.9L109.3 1898L106.6 1895.3L106.1 1841.3L106.7 1747.9L109.3 1747.9L140.1 1736L163.2 1729L178.6 1726.4L186.3 1726L196.6 1726.3L212 1728.4L227.4 1732.3L237.6 1737.2L251 1746L255.9 1748.6L263.3 1751.4L271 1753.1L278.7 1753.9L286.4 1753.8L312.1 1750.4L322.3 1749.9L348 1753.7L358.3 1754.6L368.6 1754.8L394.2 1753L404.5 1752.9L425 1754.3L463.5 1758.3L504.6 1758.6L520 1759.5L550.8 1763.9L581.6 1770.7L601.1 1776.9L612.7 1782.1L620.1 1786.7L622.7 1786.7L622.7 1834.1L620.1 1834.1L615.4 1838.7L607.9 1843.8L596.6 1849L580.3 1854.1L517.4 1869.6L490.4 1877.3L440.8 1895.3L440.8 1897.9L440.4 1897.9Z" fill="#8c120b" fill-rule="evenodd"/>
<path d="M399.4 1897.9L109.3 1898L106.6 1895.3L106.1 1841.3L106.7 1762.4L109.3 1762.4L117.2 1756.3L129.8 1749.1L137.5 1745.8L147.8 1742.2L158.1 1739.6L168.3 1737.9L178.6 1737.2L188.9 1737.5L199.1 1738.8L212 1741.4L224.8 1745.2L250.5 1754L260.7 1756.6L271 1758.1L286.4 1758.8L324.9 1758L360.8 1759.7L401.9 1760.4L499.5 1766.5L532.8 1770.1L558.5 1775.2L571.3 1778.8L580.2 1782.1L586.7 1785L594.7 1789.8L600.5 1794.9L604 1800.1L605.5 1805.2L605.1 1812.9L602.5 1820.7L599.7 1825.8L595.9 1831L589.3 1837.4L584.2 1841.3L575.1 1846.4L562.7 1851.5L537.4 1859.3L488.8 1872.1L430.2 1888.7L400.7 1895.3L400.7 1897.9L399.4 1897.9Z" fill="#a0160d" fill-rule="evenodd"/>
<path d="M363.4 1897.9L109.3 1897.9L106.7 1895.3L106.2 1841.3L106.7 1779.9L109.9 1779.5L117.4 1774.3L135 1760.4L141.7 1756.3L147.2 1753.7L154.7 1751.2L163.2 1749.3L170.9 1748.4L181.2 1748.3L199.1 1750.4L240.2 1759.2L265.9 1762.6L286.4 1763.5L340.3 1763.8L396.8 1765.6L473.8 1770.9L514.9 1775.1L540.5 1779.7L550.8 1782.3L561.1 1785.8L569.8 1789.8L576.5 1794.1L580.3 1797.5L583.7 1802.6L584.9 1807.8L583.9 1815.5L580.5 1823.2L576.9 1828.4L572 1833.5L565.6 1838.7L557.4 1843.8L546.8 1849L525.3 1856.7L476.4 1870.4L414.8 1886L389.1 1891.2L364 1895.3L364 1897.9L363.4 1897.9Z" fill="#b3190e" fill-rule="evenodd"/>
<path d="M327.5 1897.9L109.3 1897.9L106.7 1895.3L106.2 1843.8L106.7 1789L109.3 1789L113.2 1787.2L147.8 1769.1L158.1 1764.6L165.8 1762.4L173.5 1761.1L188.9 1760.6L237.6 1765.4L260.7 1766.9L348 1768.1L396.8 1770.1L440.4 1773.2L486.6 1777.7L520 1782.7L532.8 1785.7L543.1 1788.9L551.5 1792.4L558.5 1796.6L562.6 1800.1L565.9 1805.2L566.7 1810.4L565 1818.1L560.5 1825.8L555.8 1831L549.7 1836.1L541.9 1841.3L532.1 1846.4L519.9 1851.5L488.7 1861.8L432.7 1876.7L401.9 1883.6L376.3 1888.5L353.1 1892.2L328.2 1895.3L328.2 1897.9L327.5 1897.9Z" fill="#c41c0f" fill-rule="evenodd"/>
<path d="M289 1897.9L136.1 1897.9L136.1 1895.3L106.7 1891.5L106.2 1843.8L106.7 1794.6L109.3 1794.6L142.7 1780.6L158.1 1774.9L170.9 1771.3L183.7 1769.4L204.3 1768.7L258.2 1770.4L348 1771.2L391.7 1773.1L427.6 1775.8L458.4 1778.9L496.9 1784.1L520 1788.9L535.4 1794.2L541.8 1797.5L545.4 1800.1L548.2 1802.8L551 1807.8L551.3 1812.9L548.7 1820.7L545.2 1825.8L538 1832.8L529.6 1838.7L520 1844L507.2 1849.7L494.3 1854.6L478.9 1859.7L450.7 1867.8L419.9 1875.7L396.8 1880.8L368.6 1886.2L337.7 1890.8L312.1 1893.7L290.9 1895.3L290.9 1897.9L289 1897.9Z" fill="#d51f10" fill-rule="evenodd"/>
<path d="M250.5 1897.9L163.8 1897.9L163.8 1895.3L140.1 1893.2L109.3 1888.4L106.7 1888.4L106.3 1843.8L106.7 1798.2L109.3 1798.2L140.1 1786.1L158.1 1780L173.5 1776L188.9 1773.7L214.5 1772.6L342.9 1773.3L381.4 1774.8L417.3 1777.5L455.8 1781.6L489.2 1786.5L507.2 1790.3L522.6 1795.1L532.8 1800.3L538 1805L539.6 1807.8L540.3 1812.9L539.8 1815.5L537.8 1820.7L531.8 1828.4L522.6 1835.7L513.2 1841.3L499.5 1847.7L482.7 1854.1L463.5 1860.4L437.9 1867.8L414.8 1873.8L391.7 1879L366 1884L337.7 1888.3L312.1 1891.3L286.4 1893.4L252.2 1895.3L252.2 1897.9L250.5 1897.9Z" fill="#e42211" fill-rule="evenodd"/>
<path d="M260.7 1892.7L219.7 1894.6L178.6 1894L142.7 1891.1L124.7 1888.5L109.3 1885.6L106.7 1885.6L106.3 1843.8L106.7 1801.4L109.3 1801.4L135 1791.5L158.1 1783.9L173.5 1780L188.9 1777.4L204.3 1776.1L224.8 1775.4L304.4 1774.9L340.3 1775.2L373.7 1776.5L409.6 1779.1L448.1 1783.4L481.5 1788.6L499.5 1792.6L514.2 1797.5L523.5 1802.6L526.4 1805.2L528.3 1807.8L529.3 1810.4L529.1 1815.5L528.4 1818.1L525.5 1823.2L520 1829.3L510.9 1836.1L501.8 1841.3L486.6 1848.2L471 1854.1L450.7 1860.8L427.6 1867.5L404.5 1873.5L381.4 1878.6L355.7 1883.4L332.6 1886.8L309.5 1889.5L286.4 1891.4L260.7 1892.7Z" fill="#f32612" fill-rule="evenodd"/>
<path d="M273.6 1890.2L224.8 1892.5L183.7 1892.2L163.2 1890.9L145.2 1889.1L127.3 1886.5L109.3 1882.9L106.7 1882.9L106.3 1843.8L106.7 1804.4L109.3 1804.4L132.4 1795.5L155.5 1787.9L173.5 1783.2L191.4 1780.2L209.4 1778.5L232.5 1777.6L291.5 1776.7L327.5 1776.8L363.4 1777.8L396.8 1780.1L430.2 1783.6L463.5 1788.5L484.1 1792.7L502 1798.1L512.3 1803.3L517.1 1807.8L518.4 1810.4L518.7 1815.5L516.8 1820.7L513.2 1825.8L510.7 1828.4L504.3 1833.5L494.3 1839.6L480.1 1846.4L466.1 1852L448.1 1858.3L425 1865.4L404.5 1870.9L381.4 1876.3L360.8 1880.3L340.3 1883.7L317.2 1886.7L273.6 1890.2Z" fill="#f82812" fill-rule="evenodd"/>
<path d="M242.8 1890.2L204.3 1890.8L168.3 1889.3L140.1 1886.3L124.7 1883.7L109.3 1880.2L106.7 1880.2L106.4 1843.8L106.7 1807.2L109.3 1807.2L132.4 1798.2L155.5 1790.6L173.5 1786.1L191.4 1782.9L209.4 1781L232.5 1779.7L278.7 1778.6L319.8 1778.3L353.1 1779.1L386.5 1781.2L417.3 1784.3L448.1 1788.7L471.2 1793.2L489.2 1798.3L496.9 1801.4L502 1804.4L506.1 1807.8L507.8 1810.4L508.6 1812.9L508.5 1815.5L507.9 1818.1L505.3 1823.2L500.7 1828.4L490.4 1836.1L478.9 1842.4L464.1 1849L445.6 1855.9L425 1862.6L404.5 1868.4L384 1873.4L360.8 1878.2L340.3 1881.7L319.8 1884.5L296.7 1886.9L242.8 1890.2Z" fill="#fd2a13" fill-rule="evenodd"/>
<path d="M258.2 1887.6L217.1 1889.2L196.6 1888.9L176 1888L158.1 1886.4L140.1 1884.1L124.7 1881.4L109.3 1877.6L106.7 1877.6L106.7 1809.9L109.3 1809.9L129.8 1801.6L155.5 1793.2L173.5 1788.6L191.4 1785.3L212 1782.9L240.2 1781.3L281.3 1780.2L319.8 1779.9L353.1 1780.8L386.5 1783L417.3 1786.4L445.6 1790.9L466.1 1795.3L484.1 1801.1L491.8 1805L495.4 1807.8L497.5 1810.4L498.6 1812.9L498.2 1818.1L495.8 1823.2L491.3 1828.4L481.1 1836.1L468.7 1842.9L455.1 1849L437.9 1855.5L419.9 1861.5L384 1871.3L345.4 1879L304.4 1884.4L258.2 1887.6Z" fill="#ff2f14" fill-rule="evenodd"/>
<path d="M276.1 1885L224.8 1887.4L201.7 1887.4L181.2 1886.5L160.6 1884.8L142.7 1882.5L124.7 1879.1L109.3 1875L106.7 1875L106.7 1812.6L109.3 1812.6L129.8 1804L152.9 1796.2L173.5 1790.8L191.4 1787.4L209.4 1785.2L235.1 1783.3L273.6 1781.9L309.5 1781.4L342.9 1782L373.7 1783.7L404.5 1786.8L432.7 1791L453.3 1795.3L471.2 1800.5L478.9 1803.9L484.1 1807.1L487.5 1810.4L488.9 1812.9L489.3 1815.5L488.9 1818.1L486.7 1823.2L482.4 1828.4L476.1 1833.5L468 1838.7L455.8 1844.9L440.3 1851.5L425 1857.2L407.1 1862.9L389.1 1867.8L353.1 1875.8L314.6 1881.6L276.1 1885Z" fill="#ff3515" fill-rule="evenodd"/>
<path d="M247.9 1885.1L209.4 1885.9L188.9 1885.3L170.9 1884L152.9 1882L137.5 1879.6L122.1 1876.2L109.3 1872.3L106.7 1872.3L106.7 1815.2L109.3 1815.2L129.8 1806.3L152.9 1798.4L170.9 1793.5L191.4 1789.4L212 1786.8L232.5 1785.1L265.9 1783.6L301.8 1782.9L335.2 1783.2L366 1784.8L394.2 1787.4L419.9 1791L443 1795.6L461 1800.8L468.7 1804L473.8 1806.8L478 1810.4L479.7 1812.9L480.3 1815.5L480.1 1818.1L478 1823.2L473.9 1828.4L464.1 1836.1L453.3 1842.3L438.9 1849L425 1854.4L407.1 1860.5L389.1 1865.7L371.1 1870.2L353.1 1873.9L332.6 1877.5L296.7 1881.9L247.9 1885.1Z" fill="#ff3c16" fill-rule="evenodd"/>
<path d="M268.4 1882.4L242.8 1883.9L222.2 1884.4L199.1 1884.1L178.6 1883L158.1 1880.9L140.1 1878.1L124.7 1874.6L109.3 1869.6L106.7 1869.6L106.7 1817.9L109.3 1817.9L127.3 1809.6L150.4 1801.2L170.9 1795.5L191.4 1791.3L212 1788.5L237.6 1786.4L268.4 1784.9L301.8 1784.3L332.6 1784.6L363.4 1786.1L391.7 1788.8L417.3 1792.7L439.7 1797.5L455.8 1802.6L465.9 1807.8L468.9 1810.4L470.9 1812.9L471.7 1815.5L471.1 1820.7L468.2 1825.8L463.3 1831L456.5 1836.1L447.9 1841.3L437.5 1846.4L422.5 1852.7L407.1 1858.2L376.3 1867L342.9 1874.1L306.9 1879.3L268.4 1882.4Z" fill="#ff4617" fill-rule="evenodd"/>
<path d="M242.8 1882.4L222.2 1882.9L201.7 1882.7L183.7 1881.8L165.8 1880.1L150.4 1878L135 1875L122.1 1871.5L109.3 1866.7L106.7 1866.7L106.7 1820.7L109.3 1820.7L127.3 1811.8L147.8 1804.1L165.8 1798.7L186.3 1794L206.8 1790.7L229.9 1788.4L263.3 1786.5L291.5 1785.7L324.9 1785.8L353.1 1786.9L381.4 1789.3L407.1 1792.9L429.5 1797.5L446.4 1802.6L457 1807.8L461 1811L462.6 1812.9L463.7 1815.5L463.3 1820.7L460.6 1825.8L455.9 1831L445.3 1838.7L435.9 1843.8L422.5 1850L407.1 1855.8L391.7 1860.8L358.3 1869.4L322.3 1875.8L289 1879.6L242.8 1882.4Z" fill="#ff5219" fill-rule="evenodd"/>
<path d="M263.3 1879.9L240.2 1881.2L217.1 1881.5L194 1880.9L173.5 1879.3L155.5 1877L137.5 1873.5L122.1 1869.1L109.3 1863.6L106.7 1863.6L106.7 1823.7L109.3 1823.7L124.1 1815.5L145.2 1806.9L163.2 1801.2L183.7 1796.2L201.7 1793L224.8 1790.3L253 1788.3L283.8 1787.2L314.6 1786.9L345.4 1787.9L373.7 1790.1L399.4 1793.5L419.7 1797.5L437.9 1802.8L448.7 1807.8L453.3 1811.4L456 1815.5L456.3 1818.1L455.9 1820.7L453.5 1825.8L449 1831L442.5 1836.1L434.2 1841.3L424.1 1846.4L412.1 1851.5L398 1856.7L381.4 1861.8L366 1865.9L332.6 1872.7L299.2 1877.2L263.3 1879.9Z" fill="#ff5e1b" fill-rule="evenodd"/>
<path d="M237.6 1879.9L201.7 1879.8L170.9 1877.4L155.5 1875.3L142.7 1872.7L130.6 1869.6L122.1 1866.6L114.4 1863.2L109.3 1860.2L106.7 1860.2L106.7 1827L109.3 1827L114.6 1823.2L123.7 1818.1L141.1 1810.4L160.6 1803.7L178.6 1799L199.1 1795L222.2 1792L245.3 1790.1L276.1 1788.6L306.9 1788.1L337.7 1788.8L366 1790.8L391.7 1794L412.2 1798L430.2 1803.1L435.6 1805.2L443 1809.3L447.2 1812.9L448.7 1815.5L449.3 1818.1L449 1820.7L446.8 1825.8L442.4 1831L436.1 1836.1L425 1842.8L412.1 1849L399 1854.1L383.5 1859.3L368.6 1863.5L350.6 1867.7L317.2 1873.6L281.3 1877.4L237.6 1879.9Z" fill="#ff6a1d" fill-rule="evenodd"/>
<path d="M260.7 1877.4L224.8 1878.8L191.4 1877.8L176 1876.5L160.6 1874.4L147.8 1872L135 1868.7L119.6 1862.8L113.3 1859.3L109.3 1856.2L106.7 1856.2L106.7 1830.8L109.3 1830.8L119.6 1823L128.3 1818.1L137.5 1813.8L155.5 1807.1L173.5 1801.9L191.4 1797.9L214.5 1794.3L237.6 1792L263.3 1790.4L296.7 1789.4L327.5 1789.7L355.7 1791.3L381.4 1794.2L404.5 1798.3L422.5 1803.3L427.7 1805.2L435.3 1809.1L440.1 1812.9L441.8 1815.5L442.5 1818.1L442.4 1820.7L440.4 1825.8L436.2 1831L430 1836.1L421.9 1841.3L411.9 1846.4L389.1 1855.5L360.8 1863.7L330 1870.1L296.7 1874.7L260.7 1877.4Z" fill="#fe771e" fill-rule="evenodd"/>
<path d="M235.1 1877.3L206.8 1877.2L178.6 1875.2L155.5 1871.8L136.4 1867L122.1 1861.2L115 1856.7L112.1 1854.1L109.3 1850.6L106.7 1850.6L106.7 1836.1L109.3 1836.1L113.5 1831L117 1827.9L123.6 1823.2L132.4 1818.4L147.8 1811.7L165.8 1805.6L186.3 1800.5L206.8 1796.7L229.9 1793.9L258.2 1791.9L291.5 1790.7L322.3 1790.8L353.1 1792.5L378.8 1795.4L403.4 1800.1L420.1 1805.2L430.2 1810.4L433.3 1812.9L435.2 1815.5L436.1 1818.1L435.5 1823.2L432.5 1828.4L427.5 1833.5L420.4 1838.7L411.4 1843.8L400.4 1849L387.1 1854.1L371.1 1859.2L342.9 1866.2L309.5 1871.8L276.1 1875.2L235.1 1877.3Z" fill="#fd8420" fill-rule="evenodd"/>
<path d="M260.7 1874.9L229.9 1876.1L201.7 1875.6L176 1873.4L152.9 1869.5L135 1864.3L127.3 1860.9L120.1 1856.7L117 1854.1L113 1849L112 1846.4L111.6 1841.3L112.3 1838.7L115.4 1833.5L119.6 1829.3L124 1825.8L137.5 1818.1L156.4 1810.4L176 1804.4L199.1 1799.4L222.2 1796.1L247.9 1793.7L281.3 1792.1L314.6 1791.9L345.4 1793.2L371.1 1795.9L394.9 1800.1L412.8 1805.2L423.5 1810.4L427.6 1813.9L429.9 1818.1L430.1 1820.7L428.4 1825.8L424.6 1831L418.6 1836.1L410.7 1841.3L400.6 1846.4L378.8 1855L353.1 1862.3L324.9 1868.1L294.1 1872.3L260.7 1874.9Z" fill="#fc9122" fill-rule="evenodd"/>
<path d="M237.6 1874.7L212 1874.7L186.3 1873.1L163.2 1869.8L145.2 1865.5L132.4 1860.7L125.3 1856.7L121.9 1854.1L119.4 1851.5L116.4 1846.4L116 1841.3L116.6 1838.7L117.8 1836.1L122 1831L132.3 1823.2L147.7 1815.5L163.2 1809.8L183.7 1804L204.3 1799.9L227.4 1796.8L253 1794.5L283.8 1793.1L314.6 1793L342.9 1794.3L368.6 1797L389.1 1800.7L407.1 1805.8L417.3 1810.7L422.5 1815.2L424 1818.1L424.3 1820.7L423.8 1823.2L421.2 1828.4L416.4 1833.5L409.5 1838.7L400.6 1843.8L389.4 1849L367.6 1856.7L340.3 1863.7L309.5 1869.1L278.7 1872.5L237.6 1874.7Z" fill="#fb9e24" fill-rule="evenodd"/>
<path d="M263.3 1872.2L235.1 1873.6L206.8 1873.2L181.2 1871L160.6 1867.6L142.7 1862.5L135 1859.3L130.4 1856.7L126.8 1854.1L122.1 1849L120.9 1846.4L120.2 1841.3L120.8 1838.7L123.8 1833.5L127.3 1829.9L132.5 1825.8L145.2 1818.6L159 1812.9L178.6 1806.8L199.1 1802.2L219.7 1798.9L245.3 1796.3L276.1 1794.5L306.9 1794.1L335.2 1795.1L360.8 1797.5L381.4 1800.8L399.4 1805.5L405.4 1807.8L412.2 1811.5L416.9 1815.5L418.3 1818.1L418.7 1820.7L417.4 1825.8L413.8 1831L408 1836.1L395.4 1843.8L384.1 1849L373.7 1852.9L350.6 1859.8L322.3 1865.8L294.1 1869.8L263.3 1872.2Z" fill="#faaa25" fill-rule="evenodd"/>
<path d="M240.2 1872.2L217.1 1872.2L194 1871L173.5 1868.4L155 1864.4L140.5 1859.3L131.7 1854.1L128.8 1851.5L125.3 1846.4L124.4 1841.3L125 1838.7L126.1 1836.1L130.2 1831L137.5 1825.2L150.8 1818.1L168.3 1811.4L186.3 1806.3L206.8 1802.1L229.9 1798.9L253 1796.8L281.3 1795.5L309.5 1795.3L335.2 1796.3L358.3 1798.6L381.4 1802.6L396.8 1807.1L404.3 1810.4L408.3 1812.9L411.1 1815.5L412.7 1818.1L413.3 1820.7L412.1 1825.8L408.7 1831L403 1836.1L395.1 1841.3L384.9 1846.4L363.4 1854.5L337.7 1861.3L306.9 1866.9L278.7 1870L240.2 1872.2Z" fill="#f8b727" fill-rule="evenodd"/>
<path d="M265.9 1869.7L237.6 1871.1L212 1870.8L186.3 1868.7L165.8 1865.3L155.5 1862.6L147.8 1859.9L140.8 1856.7L136.6 1854.1L132.4 1850.4L129.6 1846.4L128.6 1841.3L129.1 1838.7L131.9 1833.5L135 1830.4L140.8 1825.8L152.9 1819.1L168.6 1812.9L186.1 1807.8L204.3 1803.9L224.8 1800.7L250.5 1798.2L278.7 1796.6L306.9 1796.4L332.6 1797.4L355.7 1799.6L376.3 1803.2L392.2 1807.8L398.1 1810.4L402.5 1812.9L405.5 1815.5L407.3 1818.1L408 1820.7L407 1825.8L405.6 1828.4L401.1 1833.5L394.4 1838.7L389.1 1841.8L379.8 1846.4L368.6 1850.9L348 1857.3L322.3 1863L294.1 1867.3L265.9 1869.7Z" fill="#f7c229" fill-rule="evenodd"/>
<path d="M245.3 1869.6L222.2 1869.8L199.1 1868.7L178.6 1866.1L160.6 1862.2L151.9 1859.3L146 1856.7L138.2 1851.5L134 1846.4L133.1 1843.8L133.2 1838.7L136 1833.5L140.1 1829.4L144.9 1825.8L158.1 1818.8L173.4 1812.9L191.4 1807.9L209.4 1804.2L229.9 1801.3L255.6 1798.9L283.8 1797.6L309.5 1797.6L335.2 1798.8L355.7 1801.1L376.3 1805L389.1 1809.1L396.7 1812.9L399.9 1815.5L401.9 1818.1L402.8 1820.7L402.8 1823.2L400.7 1828.4L396.3 1833.5L389.5 1838.7L374.8 1846.4L353.5 1854.1L330 1860.1L304.4 1864.7L278.7 1867.6L245.3 1869.6Z" fill="#f7cd2a" fill-rule="evenodd"/>
<path d="M271 1867L242.8 1868.5L217.1 1868.5L194 1866.8L173.5 1863.6L157.8 1859.3L151.4 1856.7L145.2 1853.2L140.2 1849L138.4 1846.4L137.3 1843.8L137.3 1838.7L140 1833.5L145.2 1828.5L148.9 1825.8L160.6 1819.6L176 1813.7L194 1808.7L212 1805.1L232.5 1802.1L255.6 1800L281.3 1798.8L306.9 1798.6L332.6 1799.9L353.1 1802.1L371.1 1805.6L385.9 1810.4L391 1812.9L394.5 1815.5L396.7 1818.1L397.7 1820.7L397.8 1823.2L395.9 1828.4L394 1831L388.4 1836.1L376.3 1843.5L363.4 1849L345.4 1854.8L322.3 1860.3L296.7 1864.5L271 1867Z" fill="#f6d82c" fill-rule="evenodd"/>
<path d="M250.5 1867.1L227.4 1867.5L206.8 1866.6L186.9 1864.4L170.9 1861.2L156.9 1856.7L147.7 1851.5L142.8 1846.4L141.6 1843.8L141.1 1841.3L141.4 1838.7L144 1833.5L147.8 1829.7L153 1825.8L163.2 1820.4L178.6 1814.4L194 1810.1L212 1806.3L232.5 1803.3L255.6 1801.1L281.3 1799.8L304.4 1799.7L327.5 1800.7L348 1802.8L366 1806.2L379.8 1810.4L385.2 1812.9L389 1815.5L391.5 1818.1L392.7 1820.7L392.9 1823.2L391.1 1828.4L389.3 1831L383.7 1836.1L370.7 1843.8L351 1851.5L330 1857.3L304.4 1862.1L278.7 1865.2L250.5 1867.1Z" fill="#f5e22d" fill-rule="evenodd"/>
<path d="M273.6 1864.4L245.3 1866.1L222.2 1866.1L199.1 1864.6L181.1 1861.8L170.9 1859.4L163.2 1856.9L156.9 1854.1L152.5 1851.5L147.2 1846.4L145.9 1843.8L145.3 1841.3L145.5 1838.7L148 1833.5L152.9 1828.8L157.1 1825.8L166.9 1820.7L180.1 1815.5L196.6 1810.8L214.5 1807.1L235.1 1804.1L255.6 1802.2L281.3 1800.9L304.4 1800.9L327.5 1802L345.4 1803.9L360.8 1806.7L373.6 1810.4L379.5 1812.9L383.6 1815.5L386.3 1818.1L387.7 1820.7L388.1 1823.2L387.6 1825.8L386.4 1828.4L382.2 1833.5L376.3 1838.1L371 1841.3L355.7 1848.1L336.7 1854.1L317.2 1858.6L296.7 1862L273.6 1864.4Z" fill="#f5ea2e" fill-rule="evenodd"/>
<path d="M255.6 1864.4L232.5 1865L212 1864.3L194 1862.5L177.2 1859.3L163.2 1854.6L155.5 1850.1L151.6 1846.4L150.2 1843.8L149.5 1841.3L149.6 1838.7L152 1833.5L155.5 1830L161.2 1825.8L171.2 1820.7L183.7 1815.9L199.1 1811.6L217.1 1807.9L235.1 1805.3L255.6 1803.3L278.7 1802.1L301.8 1801.9L322.3 1802.8L340.3 1804.6L358.1 1807.8L368.6 1810.9L373.7 1812.9L378.2 1815.5L381.2 1818.1L382.8 1820.7L383.3 1823.2L381.8 1828.4L380 1831L374.5 1836.1L368.6 1840L361.1 1843.8L348.2 1849L330 1854.3L306.2 1859.3L281.3 1862.6L255.6 1864.4Z" fill="#f4f22f" fill-rule="evenodd"/>
<path d="M273.6 1862.1L247.9 1863.6L224.8 1863.7L204.3 1862.3L186.3 1859.6L173.5 1856.2L162.6 1851.5L158.8 1849L156.2 1846.4L154.5 1843.8L153.7 1841.3L153.7 1838.7L154.5 1836.1L156.1 1833.5L161.5 1828.4L170 1823.2L183.7 1817.5L199.1 1813L214.5 1809.6L232.5 1806.8L253 1804.6L276.1 1803.3L296.7 1803L317.2 1803.7L335.2 1805.3L350.4 1807.8L363.4 1811.3L372.7 1815.5L376 1818.1L377.8 1820.7L378.5 1823.2L378.2 1825.8L377.1 1828.4L373 1833.5L368.6 1837L361.6 1841.3L350.2 1846.4L334.7 1851.5L314.6 1856.4L294.1 1859.8L273.6 1862.1Z" fill="#f4f930" fill-rule="evenodd"/>
<path d="M258.2 1861.9L237.6 1862.6L219.7 1862.2L201.7 1860.6L186.3 1857.9L173.5 1854.1L167.8 1851.5L163.6 1849L160.8 1846.4L158.9 1843.8L158 1841.3L157.9 1838.7L158.6 1836.1L160.1 1833.5L165.6 1828.4L174.3 1823.2L186.9 1818.1L201.7 1813.7L217.1 1810.4L235.1 1807.6L253 1805.7L273.6 1804.5L294.1 1804.1L314.6 1804.8L332.6 1806.4L348 1809L360.8 1812.6L367.2 1815.5L370.8 1818.1L372.9 1820.7L373.7 1823.2L373.5 1825.8L372.5 1828.4L368.4 1833.5L363.4 1837.4L356.9 1841.3L345.2 1846.4L327.5 1852L305.8 1856.7L283.8 1859.8L258.2 1861.9Z" fill="#f4fa31" fill-rule="evenodd"/>
<path d="M276.1 1859.4L253 1861L232.5 1861.3L214.5 1860.5L196.6 1858.2L181.2 1854.6L170.9 1850.3L165.5 1846.4L163.4 1843.8L162.3 1841.3L162.1 1838.7L162.7 1836.1L164.3 1833.5L169.8 1828.4L178.7 1823.2L191.4 1818.2L204.3 1814.5L219.7 1811.2L235.1 1808.8L253 1806.8L273.6 1805.6L294.1 1805.2L312.1 1805.8L330 1807.5L345.4 1810.1L355.5 1812.9L363.4 1816.7L367.9 1820.7L368.9 1823.2L368.8 1825.8L366.2 1831L360.8 1836L356.8 1838.7L346.6 1843.8L332.3 1849L314.6 1853.6L296.7 1856.9L276.1 1859.4Z" fill="#f5fc31" fill-rule="evenodd"/>
<path d="M260.7 1859.3L240.2 1860.1L222.2 1859.6L206.8 1858.2L191.4 1855.5L178.9 1851.5L173.8 1849L170.3 1846.4L168 1843.8L166.7 1841.3L166.4 1838.7L167 1836.1L170.8 1831L178.1 1825.8L186.3 1821.9L196.7 1818.1L212 1814.1L227.4 1811.1L245.3 1808.7L263.3 1807.2L283.8 1806.4L301.8 1806.6L319.8 1807.7L332.6 1809.3L345.4 1812L355.7 1815.5L360.8 1818.8L362.8 1820.7L364 1823.2L364.1 1825.8L363.2 1828.4L359.3 1833.5L356.1 1836.1L347.4 1841.3L334.8 1846.4L317.2 1851.5L301.8 1854.7L281.3 1857.6L260.7 1859.3Z" fill="#f5fe32" fill-rule="evenodd"/>
<path d="M276.1 1856.9L253 1858.5L235.1 1858.8L217.1 1857.9L201.7 1855.9L188.9 1852.8L179.2 1849L175.3 1846.4L172.7 1843.8L171.2 1841.3L170.7 1838.7L171.2 1836.1L172.7 1833.5L178.3 1828.4L186.3 1823.9L194.1 1820.7L206.8 1816.7L222.2 1813.3L240.2 1810.5L255.6 1808.9L273.7 1807.8L294.1 1807.6L312.1 1808.4L327.5 1810.1L340.3 1812.6L349.6 1815.5L355.7 1819L357.6 1820.7L359.1 1823.2L359.3 1825.8L358.6 1828.4L354.6 1833.5L347.4 1838.7L336.5 1843.8L324.9 1847.8L310.6 1851.5L294.1 1854.6L276.1 1856.9Z" fill="#f5ff33" fill-rule="evenodd"/>
<path d="M260.7 1856.8L242.8 1857.5L227.4 1857.2L212 1855.8L199.1 1853.6L188.9 1850.6L180.5 1846.4L177.5 1843.8L175.8 1841.3L175.2 1838.7L175.6 1836.1L178.6 1831.8L182.6 1828.4L192.4 1823.2L201.7 1819.8L214.5 1816.3L227.4 1813.6L242.8 1811.4L258.2 1809.8L276.1 1808.9L291.5 1808.8L306.9 1809.3L322.3 1810.9L334.2 1812.9L343.1 1815.5L348.8 1818.1L352.3 1820.7L354.1 1823.2L354.5 1825.8L353.8 1828.4L349.9 1833.5L342.5 1838.7L330 1844.3L314.9 1849L299.2 1852.4L281.3 1855L260.7 1856.8Z" fill="#f6ff36" fill-rule="evenodd"/>
<path d="M276.1 1854.3L255.6 1855.8L237.6 1856.1L222.2 1855.3L206.8 1853.3L194 1850.1L185.9 1846.4L182.6 1843.8L180.6 1841.3L179.8 1838.7L180.1 1836.1L181.4 1833.5L183.7 1831L187.1 1828.4L196.6 1823.5L204.3 1820.7L214.5 1817.7L227.4 1815L240.2 1812.9L258.2 1811L273.6 1810.1L291.5 1810L306.9 1810.7L319.8 1812.1L330 1813.9L337.7 1816L345.4 1819.7L348.9 1823.2L349.5 1825.8L348.9 1828.4L347.5 1831L341.8 1836.1L332.3 1841.3L319.8 1845.9L308.4 1849L294.1 1851.8L276.1 1854.3Z" fill="#f6ff39" fill-rule="evenodd"/>
<path d="M260.7 1854.2L245.3 1854.7L232.5 1854.5L219.7 1853.5L206.8 1851.5L197.7 1849L191.7 1846.4L188.9 1844.5L185.6 1841.3L184.6 1838.7L184.7 1836.1L186.3 1833.2L191.8 1828.4L201.7 1823.5L209.7 1820.7L219.3 1818.1L231.9 1815.5L258.2 1812.3L273.6 1811.4L289 1811.2L314.8 1812.9L327.5 1815.2L335.2 1817.6L341.1 1820.7L343.6 1823.2L344.4 1825.8L344 1828.4L342.5 1831L340.2 1833.5L332.5 1838.7L322.3 1843.1L311.9 1846.4L294.1 1850.3L278.7 1852.6L260.7 1854.2Z" fill="#f7ff3b" fill-rule="evenodd"/>
<path d="M273.6 1851.8L255.6 1853L242.8 1853.3L227.4 1852.7L214.5 1851.1L204.3 1848.7L198 1846.4L194 1844.1L190.8 1841.3L189.6 1838.7L189.6 1836.1L191.4 1832.8L196.6 1828.4L204.3 1824.6L214.5 1821L226 1818.1L237.6 1816L263.3 1813.1L278.7 1812.5L294.1 1812.7L306.9 1813.6L317.2 1815L327.5 1817.5L332.6 1819.5L335 1820.7L338 1823.2L339.1 1825.8L338.8 1828.4L337.5 1831L335.1 1833.5L327.5 1838.5L321.4 1841.3L312.1 1844.5L299.2 1847.8L273.6 1851.8Z" fill="#f8ff45" fill-rule="evenodd"/>
<path d="M255.6 1851.6L232.5 1851.4L222.2 1850.4L212 1848.5L204.9 1846.4L199.6 1843.8L196.4 1841.3L194.8 1838.7L194.6 1836.1L196.6 1832.6L201.7 1828.4L206.7 1825.8L214.5 1822.8L222.2 1820.6L235.1 1817.8L250.5 1815.6L263.3 1814.5L286.4 1813.9L309.5 1815.6L321.8 1818.1L327.5 1820.2L332.1 1823.2L333.6 1825.8L333.5 1828.4L332.2 1831L329.8 1833.5L321.6 1838.7L312.1 1842.4L297.9 1846.4L284 1849L255.6 1851.6Z" fill="#f9ff53" fill-rule="evenodd"/>
<path d="M271 1849L245.3 1850.2L232.5 1849.7L222.2 1848.4L213 1846.4L206.3 1843.8L202.4 1841.3L200.4 1838.7L200 1836.1L201.7 1832.7L207 1828.4L219.4 1823.2L228.9 1820.7L240.2 1818.5L260.7 1816.1L286.4 1815.4L306.9 1817.1L312.7 1818.1L321.3 1820.7L325.8 1823.2L327.8 1825.8L327.8 1828.4L326.6 1831L324.2 1833.5L320.6 1836.1L314.6 1839.1L306.9 1842L296.7 1844.8L286.4 1846.9L271 1849Z" fill="#faff68" fill-rule="evenodd"/>
<path d="M278.7 1846.4L265.9 1847.8L250.5 1848.5L237.6 1848.2L227.4 1847.1L219.7 1845.6L212 1842.9L209 1841.3L206.8 1839.1L205.7 1836.1L206.5 1833.5L208.8 1831L212.7 1828.4L218.4 1825.8L226.1 1823.2L237 1820.7L255.6 1818L278.7 1816.8L299.2 1817.9L313 1820.7L318.8 1823.2L321.4 1825.8L321.8 1828.4L320.7 1831L318.3 1833.5L314.6 1836L309.5 1838.6L294.1 1843.5L278.7 1846.4Z" fill="#fbff85" fill-rule="evenodd"/>
<path d="M258.2 1846.5L239.8 1846.4L223.2 1843.8L216.5 1841.3L213.2 1838.7L212 1836.1L212.6 1833.5L214.9 1831L219 1828.4L229.9 1824.3L247.1 1820.7L263.3 1819L281.3 1818.5L296.7 1819.7L302.7 1820.7L309.5 1822.7L312.1 1824L314.6 1826.3L315.3 1828.4L314.4 1831L311.9 1833.5L307.9 1836.1L302.3 1838.7L294.4 1841.3L283 1843.8L271 1845.5L258.2 1846.5Z" fill="#fcffa3" fill-rule="evenodd"/>
<path d="M265.9 1844L247.9 1844.6L237.6 1843.9L232.5 1843L225.7 1841.3L221 1838.7L219.1 1836.1L219.3 1833.5L221.7 1831L226.1 1828.4L232.9 1825.8L245.3 1822.9L264 1820.7L281.3 1820.4L294.1 1821.7L301.1 1823.2L304.4 1824.7L306.4 1825.8L308 1828.4L307.3 1831L304.8 1833.5L300.5 1836.1L294.2 1838.7L283.8 1841.4L265.9 1844Z" fill="#fdffc2" fill-rule="evenodd"/>
<path d="M268.4 1841.5L253 1842.2L239.5 1841.3L230.7 1838.7L227.5 1836.1L227.3 1833.5L229.9 1830.8L234.5 1828.4L240.2 1826.5L250.5 1824.3L263.3 1822.8L276.1 1822.6L286.4 1823.3L296.4 1825.8L299.4 1828.4L299.1 1831L296.7 1833.4L291.7 1836.1L283.8 1838.7L268.4 1841.5Z" fill="#feffdd" fill-rule="evenodd"/>
<path d="M265.9 1838.8L255.6 1839.2L247.3 1838.7L239 1836.1L237.5 1833.5L239.7 1831L245.7 1828.4L259.4 1825.8L268.4 1825.3L278.7 1825.7L283.8 1826.8L287.8 1828.4L288.6 1831L285.9 1833.5L279.8 1836.1L265.9 1838.8Z" fill="#fffff4" fill-rule="evenodd"/>
<path d="M109.3 1779.9L117.4 1774.3L135 1760.4L145.2 1754.6L154.7 1751.2L163.2 1749.3L170.9 1748.4L181.2 1748.3L188.9 1748.9L199.1 1750.4L240.2 1759.2L255 1761.5L265.9 1762.6L286.4 1763.5L340.3 1763.8L396.8 1765.6L473.8 1770.9L514.9 1775.1L540.5 1779.7L550.8 1782.3L561.1 1785.8L569.8 1789.8L576.5 1794.1L580.3 1797.5L583.7 1802.6L584.9 1807.8L583.9 1815.5L580.5 1823.2L576.9 1828.4L572 1833.5L565.6 1838.7L557.4 1843.8L546.8 1849L533.2 1854.1L516.9 1859.3L435.3 1881.1L399.4 1889.2L364 1895.3M109.3 1807.2L129.8 1799.1L152.9 1791.4L173.5 1786.1L191.4 1782.9L212 1780.8L235.1 1779.7L286.4 1778.5L327.5 1778.4L363.4 1779.6L394.2 1781.8L427.6 1785.6L458.4 1790.5L478.2 1794.9L493.9 1800.1L499.3 1802.6L503.3 1805.2L506.1 1807.8L507.8 1810.4L508.6 1812.9L508.5 1815.5L506.9 1820.7L503.3 1825.8L497.8 1831L486 1838.7L475.9 1843.8L466.1 1848.2L440.4 1857.7L412.2 1866.3L381.4 1874L348 1880.5L322.3 1884.2L291.5 1887.3L240.2 1890.3L212 1890.9L183.7 1890.2L155.5 1888.1L129.8 1884.6L109.3 1880.2M109.3 1823.7L124.1 1815.5L140.1 1808.8L160.6 1801.9L183.7 1796.2L204.3 1792.7L227.4 1790.1L258.2 1788.1L291.5 1787L322.3 1787L353.1 1788.3L381.4 1790.9L407.5 1794.9L429.5 1800.1L443.8 1805.2L448.7 1807.8L452.3 1810.4L454.7 1812.9L456 1815.5L456.3 1818.1L455.9 1820.7L453.5 1825.8L451.5 1828.4L446 1833.5L438.6 1838.7L432.7 1842L424.1 1846.4L412.1 1851.5L390 1859.3L366 1865.9L340.3 1871.3L314.6 1875.4L283.8 1878.6L245.3 1881L217.1 1881.5L191.4 1880.7L165.8 1878.5L142.9 1874.7L123.4 1869.6L116.5 1867L109.3 1863.6M263.3 1872.2L235.1 1873.6L206.8 1873.2L181.2 1871L160.6 1867.6L150.4 1865L142.7 1862.5L135 1859.3L130.4 1856.7L126.8 1854.1L122.1 1849L120.9 1846.4L120.2 1841.3L120.8 1838.7L123.8 1833.5L127.3 1829.9L132.5 1825.8L145.2 1818.6L159 1812.9L178.6 1806.8L199.1 1802.2L219.7 1798.9L245.3 1796.3L276.1 1794.5L306.9 1794.1L335.2 1795.1L360.8 1797.5L381.4 1800.8L399.4 1805.5L405.4 1807.8L412.2 1811.5L416.9 1815.5L418.3 1818.1L418.7 1820.7L417.4 1825.8L413.8 1831L408 1836.1L395.4 1843.8L384.1 1849L373.7 1852.9L350.6 1859.8L322.3 1865.8L294.1 1869.8L263.3 1872.2M273.6 1864.4L245.3 1866.1L222.2 1866.1L199.1 1864.6L181.1 1861.8L170.9 1859.4L163.2 1856.9L156.9 1854.1L152.5 1851.5L149.4 1849L147.2 1846.4L145.9 1843.8L145.3 1841.3L145.5 1838.7L146.4 1836.1L148 1833.5L152.9 1828.8L157.1 1825.8L166.9 1820.7L180.1 1815.5L196.6 1810.8L214.5 1807.1L235.1 1804.1L255.6 1802.2L281.3 1800.9L304.4 1800.9L327.5 1802L345.4 1803.9L360.8 1806.7L373.6 1810.4L379.5 1812.9L383.6 1815.5L386.3 1818.1L387.7 1820.7L388.1 1823.2L387.6 1825.8L386.4 1828.4L382.2 1833.5L376.3 1838.1L371 1841.3L355.7 1848.1L336.7 1854.1L317.2 1858.6L296.7 1862L273.6 1864.4M276.1 1856.9L253 1858.5L235.1 1858.8L217.1 1857.9L201.7 1855.9L188.9 1852.8L179.2 1849L175.3 1846.4L172.7 1843.8L171.2 1841.3L170.7 1838.7L171.2 1836.1L172.7 1833.5L175 1831L178.3 1828.4L186.3 1823.9L194.1 1820.7L206.8 1816.7L222.2 1813.3L240.2 1810.5L255.6 1808.9L273.7 1807.8L294.1 1807.6L312.1 1808.4L327.5 1810.1L340.3 1812.6L349.6 1815.5L355.7 1819L357.6 1820.7L359.1 1823.2L359.3 1825.8L358.6 1828.4L357 1831L354.6 1833.5L347.4 1838.7L336.5 1843.8L324.9 1847.8L310.6 1851.5L294.1 1854.6L276.1 1856.9M271 1849L255.6 1850L245.3 1850.2L232.5 1849.7L222.2 1848.4L213 1846.4L206.3 1843.8L202.4 1841.3L200.4 1838.7L200 1836.1L200.9 1833.5L201.7 1832.7L203.3 1831L207 1828.4L212.3 1825.8L219.4 1823.2L228.9 1820.7L240.2 1818.5L260.7 1816.1L273.6 1815.4L286.4 1815.4L296.7 1815.9L306.9 1817.1L312.7 1818.1L321.3 1820.7L325.8 1823.2L327.8 1825.8L327.8 1828.4L326.6 1831L324.2 1833.5L320.6 1836.1L314.6 1839.1L306.9 1842L296.7 1844.8L286.4 1846.9L271 1849" fill="none" stroke="#4d4d4d" stroke-width="1" stroke-linejoin="round"/>
</g>
<text x="241.9" y="1845.1" font-size="22" text-anchor="start" font-weight="bold" fill="#000">In-O</text>
<path d="M109.3 1895.3v8M279.6 1895.3v8M449.8 1895.3v8M620.1 1895.3v8M194.4 1895.3v4.5M364.7 1895.3v4.5M535 1895.3v4.5M109.3 1895.3h-8M109.3 1838.2h-8M109.3 1781.2h-8M109.3 1724.2h-8M109.3 1667.1h-8M109.3 1610h-8M109.3 1553h-8M109.3 1866.8h-4.5M109.3 1809.7h-4.5M109.3 1752.7h-4.5M109.3 1695.6h-4.5M109.3 1638.6h-4.5M109.3 1581.5h-4.5" stroke="#000" stroke-width="1.6" fill="none"/>
<rect x="109.3" y="1553" width="510.8" height="342.3" fill="none" stroke="#000" stroke-width="1.6"/>
<text x="109.3" y="1925.8" font-size="23" text-anchor="middle" font-weight="bold" fill="#000">0</text>
<text x="279.6" y="1925.8" font-size="23" text-anchor="middle" font-weight="bold" fill="#000">5</text>
<text x="449.8" y="1925.8" font-size="23" text-anchor="middle" font-weight="bold" fill="#000">10</text>
<text x="620.1" y="1925.8" font-size="23" text-anchor="middle" font-weight="bold" fill="#000">15</text>
<text x="96.8" y="1902" font-size="23" text-anchor="end" font-weight="bold" fill="#000">1.0</text>
<text x="96.8" y="1845" font-size="23" text-anchor="end" font-weight="bold" fill="#000">1.5</text>
<text x="96.8" y="1787.9" font-size="23" text-anchor="end" font-weight="bold" fill="#000">2.0</text>
<text x="96.8" y="1730.9" font-size="23" text-anchor="end" font-weight="bold" fill="#000">2.5</text>
<text x="96.8" y="1673.8" font-size="23" text-anchor="end" font-weight="bold" fill="#000">3.0</text>
<text x="96.8" y="1616.8" font-size="23" text-anchor="end" font-weight="bold" fill="#000">3.5</text>
<text x="96.8" y="1559.7" font-size="23" text-anchor="end" font-weight="bold" fill="#000">4.0</text>
<text x="363" y="1956.1" font-size="25" text-anchor="middle" font-weight="bold" fill="#000">k (&#197;<tspan font-size="15" dy="-11">-1</tspan><tspan dy="11" font-size="1">&#8203;</tspan>)</text>
<text transform="translate(47.8 1724.2) rotate(-90)" font-size="24.5" text-anchor="middle" font-weight="bold">Radial distance (&#197;)</text>
<g clip-path="url(#ch)">
<rect x="795" y="1563.9" width="509.1" height="340.3" fill="#350001"/>
<path d="M1304.1 1906.8L795 1906.8L792.4 1904.2L792 1830L792.4 1717.9L795 1717.9L800.1 1722.4L805.2 1725.2L807.8 1725.9L812.9 1726.4L818 1725.4L823.1 1722.8L826.8 1720L830.8 1715.7L834.9 1709.7L838.5 1702.9L843.6 1688.2L846.8 1671.4L847.8 1653.5L846.8 1638.1L844 1622.7L840 1610L835 1599.7L830.8 1593.6L825.7 1588.4L820.6 1585L815.5 1583.2L810.3 1582.9L805.2 1584.1L800.1 1586.9L795 1591.4L792.4 1591.4L792.4 1563.9L795 1561.3L1304.1 1561.2L1306.8 1563.9L1307.1 1696.9L1306.7 1904.2L1304.1 1906.8ZM882.2 1745.6L884.5 1744.2L888.7 1743L892.2 1740.8L894.8 1738.1L895.3 1735.3L894.9 1732.8L892 1730.2L884.5 1728.1L882 1728.3L875.6 1730.2L871.7 1734.7L871.1 1737.9L871.6 1740.4L874.3 1744.1L876.9 1745.9L882.2 1745.6ZM1206 1883.7L1200 1881.2L1194.1 1880.9L1189 1881.5L1184.7 1883.7L1189 1885L1196.7 1885.6L1201.8 1885L1206 1883.7Z" fill="#4a0105" fill-rule="evenodd"/>
<path d="M1304.1 1906.8L795 1906.8L792.4 1904.2L792.1 1832.6L792.4 1766.8L797.6 1766.4L815.5 1763.4L859 1753.7L879.4 1752.9L887.1 1751.9L892.2 1750.3L897.3 1747.4L901.4 1743L903.2 1737.9L903.3 1735.3L902.6 1730.2L899.9 1723.5L897.3 1718.5L889.2 1709.7L887.4 1704.6L887.4 1699.5L889.7 1677L889.8 1668.8L888.7 1650.9L887.8 1615.1L884 1592L880.2 1576.7L876.1 1563.9L876.1 1561.3L1304.1 1561.3L1306.7 1563.9L1307.1 1699.5L1306.7 1837.3L1291.3 1838.5L1283.6 1839.9L1278.5 1841.5L1274.8 1842.8L1270.3 1845.4L1267.9 1847.9L1267.6 1850.5L1270.8 1853.6L1276 1855.4L1281.1 1856.3L1288.8 1856.5L1306.7 1854.4L1306.7 1904.2L1304.1 1906.8ZM1228.9 1894L1240.1 1891.5L1247.3 1888.8L1251 1886.3L1252.3 1883.7L1251.3 1881.2L1248.1 1878.6L1245.3 1877.1L1230.5 1870.9L1228.1 1868.4L1229.6 1865.8L1233.2 1863.3L1230.7 1860.7L1226.4 1858.1L1219.7 1856.1L1206.9 1854.1L1194.1 1853.3L1181.3 1853.7L1167.1 1855.6L1158.4 1858.1L1153.3 1860.7L1147.6 1865.8L1150.4 1868.4L1151.7 1870.9L1149.7 1873.5L1141.9 1878.6L1139.3 1881.2L1138.6 1883.7L1140.4 1886.6L1143.6 1888.8L1148 1890.6L1158.3 1893.3L1171.1 1895.2L1186.4 1896.2L1201.8 1896.3L1217.1 1895.5L1228.9 1894Z" fill="#600608" fill-rule="evenodd"/>
<path d="M920.4 1906.8L866.6 1906.8L866.6 1904.2L830.8 1901.9L792.4 1896.9L792.4 1776.4L795 1776.4L859 1762.1L884.5 1757.8L892.2 1756L899 1753.2L903.1 1750.7L906 1748.1L909.3 1743L910.5 1737.9L910.4 1732.8L904.7 1709.7L901.8 1691.8L899.3 1666.2L898.3 1640.7L898.8 1620.2L900.6 1599.7L903.5 1581.8L908.3 1563.9L908.3 1561.3L1002.5 1561.3L1004 1576.7L1007.1 1589.5L1009.9 1596L1012.3 1599.7L1015 1602.4L1017.6 1603.5L1020.1 1603.4L1022.5 1602.3L1025.2 1599.4L1028 1594.6L1031.1 1584.4L1032.9 1570.7L1033.3 1561.3L1081 1561.3L1081.5 1567.9L1083.7 1579.3L1086.6 1588.7L1089.2 1594L1091.8 1597.6L1094.3 1600.1L1099.4 1602.3L1102 1602.3L1107.1 1600.1L1110.3 1597.2L1114.8 1590.9L1117.9 1584.4L1120.5 1576.7L1123.6 1563.9L1123.6 1561.3L1304.1 1561.3L1306.7 1563.9L1306.7 1828.3L1304.1 1828.3L1291.3 1830.5L1270.8 1834.9L1260.7 1837.7L1242.7 1843.7L1232.5 1846.1L1219.7 1847.3L1178.7 1848.7L1163.4 1850.3L1150.6 1852.7L1138.8 1855.6L1109.7 1864.3L1072.5 1873.5L1022.7 1887.7L1002.2 1893L981.8 1897.4L963.8 1900.4L943.4 1902.8L922.8 1904.2L922.8 1906.8L920.4 1906.8ZM1008.3 1748.1L1009.9 1746.7L1012.5 1746.1L1015.5 1743L1015.6 1737.9L1015 1736.7L1010.8 1732.8L1004.8 1731.9L997.1 1732.2L991.9 1735.3L990.8 1737.9L990.4 1740.4L990.9 1743L993.2 1745.6L999.7 1748.5L1008.3 1748.1ZM1176.7 1755.8L1180.7 1753.2L1181.9 1750.7L1180.4 1748.1L1176.2 1745.6L1171.1 1745.1L1165.7 1745.6L1161.5 1748.1L1160.1 1750.7L1161.6 1753.2L1166 1755.9L1173.6 1756.3L1176.7 1755.8Z" fill="#770c0a" fill-rule="evenodd"/>
<path d="M920.4 1894L887.1 1894.5L851.3 1893L823.1 1890.3L807.8 1887.9L795 1885.1L792.4 1885.1L792.2 1847.9L792.4 1784L795 1784L828.3 1775.3L894.8 1760.5L902.4 1757.8L910.1 1753.6L913.5 1750.7L917.1 1745.6L918.5 1740.4L918.5 1735.3L917.1 1727.7L911.2 1704.6L908.1 1686.7L905.7 1663.7L904.9 1638.1L905.8 1617.6L908.5 1597.2L912 1581.8L914.5 1574.1L918.6 1563.9L918.6 1561.3L998.4 1561.3L998.4 1563.9L1002.6 1581.8L1006.8 1594.6L1009.4 1599.7L1012.5 1603.8L1015 1605.8L1017.6 1606.8L1020.1 1606.8L1022.7 1605.7L1025.2 1603.4L1027.8 1599.7L1030.1 1594.6L1032.5 1586.9L1034 1579.3L1035.9 1561.3L1078.3 1561.3L1078.3 1563.9L1081.3 1579.3L1083.5 1586.9L1086.6 1594.5L1091.8 1601.9L1095.9 1604.8L1099.4 1605.9L1104.6 1605.2L1107.1 1603.9L1111.9 1599.7L1115.7 1594.6L1119.7 1586.9L1122.7 1579.3L1127.5 1563.9L1127.5 1561.3L1281.8 1561.3L1281.8 1563.9L1304.1 1583.1L1306.7 1583.1L1306.7 1818.9L1304.1 1818.9L1285.6 1824.9L1227.4 1839.2L1212 1841.4L1171.1 1844.8L1148 1848L1123.4 1853L1067.3 1865.8L1012.5 1879.9L986.9 1885.7L956.2 1890.9L938.3 1892.9L920.4 1894ZM1011.5 1748.1L1015.2 1745.6L1017 1743L1017.6 1740.4L1017.3 1737.9L1015.9 1735.3L1013.2 1732.8L1009.9 1731.1L1004.8 1729.9L997.1 1730.7L992 1733L989.4 1735.3L987.9 1737.9L987.6 1740.4L988.2 1743L990.1 1745.6L994 1748.1L997.1 1749.2L1002.2 1749.9L1007.3 1749.5L1011.5 1748.1ZM1180.4 1755.8L1183.5 1753.2L1184.2 1750.7L1183.2 1748.1L1181.3 1746.5L1176.2 1744.4L1168.5 1744L1163.4 1745.1L1158.9 1748.1L1158 1750.7L1158.9 1753.2L1160.8 1754.9L1166 1757.1L1173.6 1757.6L1180.4 1755.8Z" fill="#8c120b" fill-rule="evenodd"/>
<path d="M933.1 1886.5L915.2 1887.5L894.8 1887.8L874.3 1887.3L853.8 1886.1L823.1 1882.7L807.8 1879.8L795 1876.5L792.4 1876.5L792.4 1790.5L795 1790.5L810.3 1785.5L830.8 1779.9L891.9 1766L902.4 1763.1L910.1 1760.2L918.3 1755.8L924.2 1750.7L927.1 1745.6L927.7 1740.4L927 1735.3L918.7 1709.7L913.6 1686.7L911.1 1666.2L910.1 1643.2L911.1 1620.2L914.1 1599.7L919 1581.8L922.9 1572.4L927.6 1563.9L927.6 1561.3L992.6 1561.3L992.6 1563.9L997.1 1573.8L1003.3 1592L1006.7 1599.7L1009.9 1604.7L1012.5 1607.5L1015 1609.2L1017.6 1610.1L1020.1 1610.1L1022.7 1609.1L1025.2 1607.1L1027.8 1604L1030.4 1599.3L1033.1 1592L1035.1 1584.4L1039 1563.9L1039 1561.3L1075.3 1561.3L1075.3 1563.9L1079.6 1581.8L1082 1589.5L1085.2 1597.2L1088.4 1602.3L1091.8 1606L1094.3 1607.8L1099.4 1609.4L1104.6 1608.6L1109.7 1605.7L1113.3 1602.3L1117.2 1597.2L1124 1584.4L1132.7 1563.9L1132.7 1561.3L1257.9 1561.3L1257.9 1563.9L1268.8 1571.6L1281.1 1581.5L1304.1 1602.8L1306.7 1602.8L1306.7 1806.7L1304.1 1806.7L1291.3 1814.3L1277.8 1819.8L1260.2 1824.9L1235 1830.8L1212 1834.9L1166 1840.7L1137.8 1845.3L1065.4 1860.7L1007.3 1874.6L984.3 1879.5L956.2 1884.1L933.1 1886.5ZM1007 1750.7L1013.9 1748.1L1016.9 1745.6L1018.5 1743L1019.1 1740.4L1018.7 1737.9L1017.5 1735.3L1015 1732.7L1012.5 1731L1007.3 1729.2L999.7 1728.8L992 1731.1L989.2 1732.8L986.6 1735.3L985.1 1737.9L984.8 1740.4L985.3 1743L987 1745.6L989.4 1747.5L992 1749L997.1 1750.6L1002.2 1751.1L1007 1750.7ZM1177 1758.4L1183.3 1755.8L1185.7 1753.2L1186.3 1750.7L1185.4 1748.1L1182.6 1745.6L1176.2 1743.2L1168.5 1742.8L1160.8 1744.9L1156.9 1748.1L1156.1 1750.7L1156.9 1753.2L1160.8 1756.6L1168.5 1758.8L1177 1758.4Z" fill="#a0160d" fill-rule="evenodd"/>
<path d="M933.1 1881.4L915.2 1882.3L894.8 1882.5L874.3 1881.9L853.8 1880.6L823.1 1876.6L807.8 1873.2L795 1869.2L792.4 1869.2L792.4 1796.6L795 1796.6L810.3 1790.7L830.8 1784.5L856.4 1778.1L894.8 1769.4L907.6 1765.8L915.2 1763L925.2 1758.4L933.1 1753.2L938.1 1748.1L939.5 1745.6L939.8 1743L939.5 1740.4L926.6 1714.9L922.9 1704.7L920.1 1694.4L916.2 1671.4L914.6 1645.8L914.8 1633L915.8 1620.2L917.3 1610L920.1 1597.2L923.3 1586.9L926.6 1579.3L930.9 1571.6L936.9 1563.9L936.9 1561.3L982.7 1561.3L982.7 1563.9L989.4 1570.8L994.5 1578.8L1002.7 1597.2L1006.9 1604.8L1012.5 1611.1L1015 1612.7L1017.6 1613.4L1020.1 1613.4L1022.7 1612.5L1025.2 1610.8L1028.3 1607.4L1031.4 1602.3L1036.1 1589.5L1042.9 1563.9L1042.9 1561.3L1071.8 1561.3L1071.8 1563.9L1077.7 1584.4L1080.3 1592L1083.7 1599.7L1086.9 1604.8L1091.8 1609.9L1094.3 1611.4L1099.4 1612.8L1102.6 1612.5L1107.1 1610.9L1112.2 1607.3L1116.9 1602.3L1123.6 1592L1135.3 1570.9L1141.5 1563.9L1141.5 1561.3L1235.9 1561.3L1235.9 1563.9L1249.2 1571.6L1263.2 1581.5L1283.6 1598.8L1304.1 1618.7L1306.7 1618.7L1306.7 1793.8L1304.1 1793.8L1297.7 1799.3L1291.3 1803.9L1283.6 1808.5L1276.2 1812.1L1262.7 1817.2L1242.7 1822.7L1217.1 1827.8L1163.4 1836.6L1130.3 1842.8L984.3 1874.5L956.2 1879L933.1 1881.4ZM1011.2 1750.7L1015 1748.8L1017.6 1746.7L1020 1743L1020.5 1740.4L1020.2 1737.9L1019.1 1735.3L1017 1732.8L1012.5 1729.7L1004.8 1727.6L999.7 1727.5L994.5 1728.4L989.5 1730.2L985.3 1732.8L982.7 1735.3L981.2 1737.9L980.7 1740.4L981.2 1743L982.8 1745.6L986 1748.1L989.4 1749.9L994.5 1751.5L999.7 1752.3L1004.8 1752.2L1011.2 1750.7ZM1181.4 1758.4L1185.8 1755.8L1187.8 1753.2L1188.3 1750.7L1187.4 1748.1L1186.4 1747L1185 1745.6L1181.3 1743.6L1173.6 1741.9L1166 1742.3L1162.7 1743L1158.3 1745L1155.1 1748.1L1154.4 1750.7L1155 1753.2L1157.2 1755.8L1161.9 1758.4L1166 1759.4L1171.1 1760L1176.2 1759.7L1181.4 1758.4Z" fill="#b3190e" fill-rule="evenodd"/>
<path d="M943.4 1876.3L922.9 1877.8L902.4 1878.2L879.4 1877.7L859 1876.3L841 1874.3L823.1 1871.3L807.8 1867.3L795 1862.3L792.4 1862.3L792.4 1802.7L795 1802.7L810.3 1795.6L833.4 1787.9L910.8 1768.6L925.1 1763.5L945.9 1754.6L969 1747.4L974.1 1747.2L992 1752.7L1002.2 1753.5L1007.3 1753L1014.2 1750.7L1018 1748.1L1020.3 1745.6L1021.5 1743L1022 1740.4L1021.7 1737.9L1020.1 1734.6L1018.8 1732.8L1015 1729.8L1012.5 1728.4L1007.3 1726.8L999.7 1726.1L992 1727.2L983.5 1730.2L976.6 1733.9L971.5 1735.9L966.4 1735.8L951.1 1731.6L943.4 1727L938.3 1722L933.1 1714.7L928 1703.9L924.9 1694.4L922.4 1684.2L919.3 1661.1L918.7 1638.1L919.6 1625.3L920.9 1615.1L925.2 1597.2L928 1589.4L931.8 1581.8L935.7 1575.8L940.8 1570.1L945.9 1566.2L950.8 1563.9L950.8 1561.3L967 1561.3L967 1563.9L974.1 1567.2L981.8 1572.8L986.9 1577.7L992 1584.2L1003.7 1604.8L1007.3 1609.9L1012.5 1614.8L1017.6 1616.8L1020.1 1616.8L1022.7 1616L1025.2 1614.5L1027.8 1612.2L1031.3 1607.4L1036.1 1597.2L1043.2 1575.2L1045.7 1569L1048.8 1563.9L1048.8 1561.3L1066.8 1561.3L1066.8 1563.9L1071.3 1573.6L1077.6 1592L1083.6 1604.8L1087.5 1610L1091.8 1613.7L1094.4 1615.1L1099.4 1616.1L1102 1616L1107.1 1614.4L1110.3 1612.5L1114.8 1608.8L1122.3 1599.7L1135.3 1580.4L1140.4 1574.8L1145.5 1570.9L1150.6 1568.1L1162.9 1563.9L1162.9 1561.3L1208.9 1561.3L1208.9 1563.9L1219.7 1567.3L1229.9 1571.7L1240.1 1577.3L1252.9 1585.9L1265.7 1595.9L1281.1 1609.4L1293.9 1621.7L1304.1 1632.8L1306.7 1632.8L1306.7 1780.4L1304.1 1780.4L1293.9 1791.2L1283.6 1799L1273.4 1804.9L1260.6 1810.5L1247.8 1814.7L1232.5 1818.7L1149.7 1835.1L999.7 1867.6L971.5 1872.7L943.4 1876.3ZM1174.6 1760.9L1178.7 1760.3L1183.9 1758.6L1188.1 1755.8L1189.8 1753.2L1190.3 1750.7L1189.4 1748.1L1187.2 1745.6L1182.8 1743L1178.7 1741.9L1173.6 1741L1168.5 1741L1159.8 1743L1155.5 1745.6L1153.4 1748.1L1152.7 1750.7L1153.2 1753.2L1155.2 1755.8L1158.3 1757.9L1166 1760.5L1174.6 1760.9Z" fill="#c41c0f" fill-rule="evenodd"/>
<path d="M935.7 1873.7L917.8 1874.7L894.8 1874.7L876.9 1874L851.3 1871.7L833.4 1868.9L820.6 1866.1L805.2 1861L795 1855.9L792.4 1855.9L792.4 1808.7L795 1808.7L802.7 1804L815.5 1798L835.9 1790.8L853.8 1785.7L910.1 1771.8L945.9 1759.9L976.6 1753.4L981.8 1753.3L997.1 1754.7L1007.3 1754L1010.7 1753.2L1016.5 1750.7L1019.8 1748.1L1021.8 1745.6L1023 1743L1023.3 1740.4L1023.1 1737.9L1022 1735.3L1020.4 1732.8L1017.8 1730.2L1013.5 1727.7L1007.3 1725.6L999.7 1724.7L992.7 1725.1L979.2 1727.1L974.1 1726.9L953.6 1722.3L945.9 1718.9L940.8 1714.7L935.7 1708.1L932.4 1702.1L927 1686.7L923.7 1668.8L922.1 1648.3L923 1627.9L925.9 1610L930.9 1594.6L934.7 1586.9L938.2 1581.8L940.8 1578.7L945.9 1574.3L951.1 1571.6L958.7 1570.2L966.4 1571.5L974.1 1575.2L981.8 1581L989.4 1589L1003.9 1610L1008.4 1615.1L1012.5 1618.3L1015 1619.4L1020.1 1620L1025.2 1618L1027.8 1616L1032.9 1609.3L1038.8 1597.2L1045.6 1579.3L1050.8 1570.8L1053.4 1568.4L1055.9 1567.1L1058.5 1566.6L1061.1 1567.3L1063.6 1569.1L1066.2 1572.2L1068.7 1576.8L1078.1 1599.7L1083.9 1610L1088.7 1615.1L1091.8 1617.1L1094.3 1618.3L1099.4 1619.1L1104.6 1618.4L1106.7 1617.6L1114.6 1612.5L1119.9 1607.2L1132.7 1590.9L1137.8 1585.1L1142.9 1580.8L1150.6 1576.3L1163.4 1571.8L1176.2 1569.5L1189 1569L1201.8 1570.5L1212 1573.1L1222.2 1577L1232.5 1582.1L1245.3 1590.2L1258.1 1599.9L1273.4 1613L1291.3 1630.2L1304.1 1645.2L1306.7 1645.2L1306.7 1765.9L1304.1 1765.9L1297.4 1776.3L1288.8 1785.9L1281.9 1791.6L1274.4 1796.7L1263.2 1802.7L1250.4 1807.8L1235 1812.5L1212 1818.1L1169 1827.4L1096.9 1844.1L1002.2 1864.1L971.5 1869.6L953.6 1872.1L935.7 1873.7ZM1180.8 1760.9L1187.1 1758.4L1190.1 1755.8L1191.8 1753.2L1192.1 1750.7L1191.2 1748.1L1189.2 1745.6L1185.1 1743L1176.2 1740.4L1166 1740.5L1157.6 1743L1153.9 1745.6L1152 1748.1L1151.3 1750.7L1151.8 1753.2L1153.5 1755.8L1158.3 1759L1163.4 1760.9L1168.5 1761.7L1173.6 1761.8L1180.8 1760.9Z" fill="#d51f10" fill-rule="evenodd"/>
<path d="M938.3 1871L920.4 1872L902.4 1872.2L884.5 1871.6L866.6 1870.3L851.3 1868.6L835.9 1866L823.1 1863L812.9 1859.6L802.7 1854.9L795 1849.7L792.4 1849.7L792.4 1814.7L795 1814.7L805.7 1807L818 1800.7L830.8 1795.7L846.2 1790.7L910.1 1774L938.3 1765.2L951.1 1761.9L979.2 1756.2L999.7 1755.9L1009.9 1754.5L1015 1752.6L1018.5 1750.7L1021.4 1748.1L1023.3 1745.6L1024.6 1740.4L1023.4 1735.3L1020.1 1730.9L1015 1727.2L1007.3 1724.4L1002.2 1723.5L984.3 1723.3L979.2 1722.6L951.1 1714.5L945.9 1711.7L940.8 1707.1L937.2 1702.1L933.3 1694.4L930.6 1686.8L928.6 1679L925.8 1661.1L925.1 1643.2L926.3 1625.3L929.3 1610L933.8 1597.2L936.5 1592L940.8 1585.8L944.8 1581.8L948.5 1579.1L953.6 1577L961.3 1576.4L966.4 1577.6L974.1 1581.5L979.2 1585.3L986.9 1592.5L992 1598.4L1002.7 1612.5L1007.3 1617.5L1012.5 1621.2L1017.6 1622.8L1022.7 1622.2L1025.2 1621L1027.8 1619.1L1031.6 1615.1L1036.5 1607.4L1048.3 1582.2L1052.6 1576.7L1055.9 1574.4L1058.5 1573.9L1061.1 1574.6L1063.6 1576.5L1066.2 1579.7L1068.7 1584.3L1078.1 1604.8L1081.5 1610.5L1085.2 1615.1L1091.8 1620L1094.3 1621L1099.4 1621.7L1107.1 1620L1114.8 1615.2L1120.5 1610L1137.8 1590.9L1142.9 1586.8L1150.6 1582.5L1163.4 1577.9L1176.2 1575.6L1189 1575.2L1201.8 1576.8L1214.6 1580.5L1224.8 1585L1235 1590.7L1247.8 1599.5L1263.2 1611.8L1278.5 1625.6L1293 1640.7L1299.2 1648.3L1304.1 1655.5L1306.7 1655.5L1306.7 1750.6L1304.1 1750.6L1296.7 1766L1291.6 1773.7L1287.4 1778.8L1279.4 1786.5L1268.3 1794.3L1260.6 1798.4L1250.4 1802.9L1230 1809.5L1109.7 1839.2L999.7 1862.4L969 1867.6L938.3 1871ZM1184 1760.9L1189 1758.5L1191.9 1755.8L1193.3 1753.2L1193.6 1750.7L1192.8 1748.1L1190.7 1745.6L1187.1 1743L1183.9 1741.6L1178.7 1740.2L1173.6 1739.5L1163.4 1740.3L1155.9 1743L1152.5 1745.6L1150.6 1748.1L1150 1750.7L1150.4 1753.2L1152 1755.8L1155.7 1758.7L1160.6 1760.9L1166 1762.2L1173.6 1762.7L1178.7 1762.2L1184 1760.9Z" fill="#e42211" fill-rule="evenodd"/>
<path d="M943.4 1868.4L912.7 1869.9L879.4 1868.8L864.1 1867.4L848.7 1865.3L835.9 1862.8L825.7 1860.1L815.5 1856.5L808.3 1853L800.8 1847.9L798.1 1845.4L795 1841.2L792.4 1841.2L792.4 1823.2L795 1823.2L797.3 1819.8L802.2 1814.6L813.4 1807L828.3 1800L846.2 1793.5L866.6 1787.5L909.6 1776.3L948.5 1765L981.8 1758.4L1002.2 1756.9L1009.9 1755.5L1017.6 1752.5L1023 1748.1L1025.6 1743L1025.6 1737.9L1023.2 1732.8L1021 1730.2L1017.6 1727.5L1012.5 1724.8L1007.3 1723.1L984.3 1719.5L969 1713.6L956.2 1709.9L951.1 1708L945.9 1704.7L943.1 1702.1L939.2 1696.9L935.7 1690.3L931.3 1676.5L928.7 1661.1L927.9 1643.2L929.4 1625.3L932.8 1610L936.8 1599.7L939.8 1594.6L943.4 1589.9L945.9 1587.4L950.5 1584.4L956.2 1582.5L961.3 1582.4L966.4 1583.6L971.5 1586L976.6 1589.5L984.3 1596.3L1006.3 1620.2L1012.5 1624.3L1017.6 1625.7L1022.7 1625.1L1025.2 1624L1027.8 1622.4L1032.7 1617.6L1039.3 1607.4L1048.3 1590L1052.6 1584.4L1055.9 1581.9L1058.5 1581.4L1061.1 1582L1063.6 1583.9L1066.2 1587.1L1076.8 1607.4L1080.1 1612.5L1084.3 1617.6L1087.3 1620.2L1091.8 1622.8L1094.3 1623.7L1099.4 1624.3L1104.6 1623.4L1112.2 1619.8L1119.9 1613.7L1137.8 1596.1L1145.5 1590.9L1153.2 1587.2L1166 1583.1L1178.7 1581.2L1191.5 1581.3L1201.8 1582.9L1214.6 1586.8L1227.4 1592.9L1240.1 1600.9L1252.9 1610.6L1270.2 1625.3L1283.3 1638.1L1290.2 1645.8L1296 1653.5L1300.9 1661.1L1304.1 1667.4L1306.7 1667.4L1306.7 1732.3L1304.1 1732.3L1299.3 1745.6L1295 1755.8L1291 1763.5L1286 1771.2L1279.5 1778.8L1273.9 1783.9L1267 1789.1L1260.6 1792.9L1245.3 1800L1224.6 1807L1142.9 1828.9L1104.6 1838.6L1068.7 1846.5L1002.2 1860L971.5 1865.2L943.4 1868.4ZM1174.4 1763.5L1183.9 1762L1189 1759.8L1191.5 1758L1194.1 1755L1194.9 1753.2L1195.1 1750.7L1194.3 1748.1L1192.3 1745.6L1188.9 1743L1182.9 1740.4L1176.2 1739.1L1171.1 1738.9L1166 1739.2L1160.2 1740.4L1154.4 1743L1151.2 1745.6L1149.4 1748.1L1148.8 1750.7L1149.2 1753.2L1150.7 1755.8L1153.5 1758.4L1158.3 1760.9L1163.4 1762.5L1168.5 1763.3L1174.4 1763.5Z" fill="#f32612" fill-rule="evenodd"/>
<path d="M948.5 1866L920.4 1867.6L892.2 1867.2L864.1 1864.8L841 1860.8L823.3 1855.6L817.3 1853L810.3 1849.1L805.6 1845.4L801.3 1840.2L800.1 1837.7L798.9 1832.6L799.6 1827.4L802 1822.3L805.2 1818.3L809.1 1814.6L820.8 1807L830.8 1802.2L841 1798.1L866.6 1789.8L945.9 1767.8L984.3 1760.1L1002.2 1758.1L1009.9 1756.6L1018.5 1753.2L1022.2 1750.7L1024.7 1748.1L1027.1 1743L1027 1737.9L1024.7 1732.8L1022.7 1730.2L1017.6 1726.1L1012.5 1723.4L1007.3 1721.7L989.9 1717.4L971.5 1708.7L952.4 1702.1L948.2 1699.5L943.4 1694.9L938.3 1686.5L934 1673.9L931.4 1658.6L930.8 1643.2L932.1 1627.9L934.8 1615.1L938.6 1604.8L943.4 1597.1L945.9 1594.2L951.1 1590.4L956.2 1588.6L961.3 1588.4L966.4 1589.7L971.5 1592.2L981.8 1600.2L1004.8 1622.8L1012.5 1627.6L1017.6 1628.8L1020.1 1628.7L1025.2 1627.2L1031.5 1622.7L1037.9 1615.1L1050.8 1594.1L1053.4 1591.3L1055.9 1589.6L1058.5 1589L1061.1 1589.7L1063.6 1591.5L1066.2 1594.5L1077 1612.5L1084.1 1621L1086.6 1623L1091.8 1625.7L1099.4 1626.8L1104.6 1625.9L1112.2 1622.5L1119 1617.6L1137.8 1601.1L1145.5 1596.1L1153.2 1592.6L1166 1588.6L1176.2 1587L1189 1586.8L1199.2 1588.1L1209.4 1591L1222.2 1596.5L1235 1604L1247.8 1613.2L1263.2 1625.9L1276.2 1638.1L1287.6 1650.9L1294.7 1661.1L1300.9 1673.9L1304.1 1685.9L1306.7 1685.9L1306.7 1708.9L1304.1 1708.9L1301.7 1720L1296.7 1735.3L1290.5 1750.7L1283.8 1763.5L1278.5 1771.2L1271.4 1778.8L1265.2 1783.9L1257.5 1789.1L1241.8 1796.7L1220.1 1804.4L1153.2 1824L1107.1 1836.3L1071.3 1844.3L1007.3 1857.2L976.6 1862.5L948.5 1866ZM1181.7 1763.5L1186.4 1762.2L1191.5 1759.6L1195.5 1755.8L1196.5 1753.2L1196.7 1750.7L1195.8 1748.1L1194 1745.6L1190.7 1743L1186.4 1740.9L1181.3 1739.3L1176.2 1738.5L1168.5 1738.3L1163.4 1739L1158.1 1740.4L1153.2 1742.8L1149.9 1745.6L1148.2 1748.1L1147.6 1750.7L1148 1753.2L1149.3 1755.8L1151.9 1758.4L1156.2 1760.9L1160.8 1762.6L1168.5 1764.1L1176.2 1764.2L1181.7 1763.5Z" fill="#f82812" fill-rule="evenodd"/>
<path d="M956.2 1863.3L930.6 1865.3L902.4 1865.5L876.9 1863.8L851.3 1860.1L833.4 1855.5L825.7 1852.7L818 1848.8L813 1845.4L808.2 1840.2L806.7 1837.7L805.4 1832.6L806 1827.4L808.4 1822.3L812.8 1817.2L815.8 1814.6L827.9 1807L845.3 1799.3L871.7 1790.5L943.4 1770.4L984.3 1762L1004.8 1758.9L1012.5 1757.1L1020.9 1753.2L1024.2 1750.7L1026.4 1748.1L1028.6 1743L1028.5 1737.9L1026.3 1732.8L1024.4 1730.2L1020.1 1726.2L1012.5 1721.9L993.2 1714.9L974.1 1703.9L953.6 1696.1L948.5 1692.7L945.9 1690.1L940.8 1682.3L937.6 1673.9L934.9 1661.1L933.8 1645.8L934.6 1633L936.9 1620.2L940.6 1610L945.9 1601.4L951.1 1597L953.6 1595.7L958.7 1594.5L963.8 1595.1L969 1597.1L976.7 1602.3L996.4 1620.2L1004.8 1627L1012.5 1631L1017.6 1632.1L1022.7 1631.5L1025.2 1630.6L1030 1627.9L1032.9 1625.5L1039.8 1617.6L1050.8 1601.9L1055.9 1597.6L1058.5 1596.9L1061.1 1597.5L1063.6 1599.1L1066.2 1601.9L1077.2 1617.6L1084.1 1624.5L1086.6 1626.2L1091.8 1628.5L1099.4 1629.3L1104.6 1628.4L1112.2 1625.1L1119.6 1620.2L1137.8 1605.6L1145.5 1601.1L1153.2 1597.7L1166 1593.9L1176.2 1592.3L1186.4 1592.1L1196.7 1593.2L1206.9 1595.8L1219.7 1601.1L1229.9 1606.9L1242.7 1615.7L1258.1 1628L1271.8 1640.7L1283.2 1653.5L1290.2 1663.7L1296.1 1676.5L1298.2 1684.2L1299.3 1691.8L1299.5 1699.5L1298.7 1707.2L1295 1722.5L1286 1745.6L1281.1 1755.8L1276.6 1763.5L1270.8 1771.1L1265.9 1776.3L1259.8 1781.4L1252.1 1786.5L1236.8 1794.2L1216.2 1801.9L1155.7 1821L1112.2 1833.4L1076.4 1841.7L1015 1854.1L984.3 1859.5L956.2 1863.3ZM1185.7 1763.5L1191.5 1761.1L1194.1 1759.4L1197.3 1755.8L1198.3 1753.2L1198.4 1750.7L1197.5 1748.1L1195.6 1745.6L1192.6 1743L1187.6 1740.4L1181.3 1738.6L1176.2 1737.8L1168.5 1737.7L1163.4 1738.4L1158.3 1739.7L1153.2 1742L1148.6 1745.6L1147 1748.1L1146.4 1750.7L1146.7 1753.2L1148 1755.8L1150.4 1758.4L1153.2 1760.3L1158.3 1762.6L1163.4 1764.1L1171.1 1765.1L1178.7 1764.9L1185.7 1763.5Z" fill="#fd2a13" fill-rule="evenodd"/>
<path d="M933.1 1863.3L910.1 1863.7L884.5 1862.3L861.5 1859.4L844.2 1855.6L829.5 1850.5L820.5 1845.4L817.4 1842.8L813.3 1837.7L812.2 1835.1L811.7 1830L812.2 1827.4L814.7 1822.3L818 1818.4L822.2 1814.6L834.6 1807L852.2 1799.3L879.4 1790.3L940.8 1772.8L1012.5 1758.3L1017.6 1756.4L1022.7 1753.7L1026.3 1750.7L1028.3 1748.1L1030.2 1743L1030 1737.9L1028 1732.8L1022.7 1726.5L1015 1721.3L996.4 1712.3L976.6 1699.3L953.6 1689.2L948.5 1685L943.4 1677.5L940.1 1668.8L937.9 1658.6L937.1 1645.8L937.9 1633L940 1622.7L943.4 1613.8L948.5 1606.3L953.6 1602.5L956.2 1601.5L961.3 1601.1L963.8 1601.6L969 1603.6L976.6 1608.9L992.6 1622.7L1002.2 1629.9L1009.9 1633.9L1017.6 1635.6L1025.2 1634.2L1032 1630.4L1040.1 1622.7L1050.8 1609.7L1055.9 1605.6L1058.5 1604.9L1061.1 1605.3L1063.6 1606.8L1066.2 1609.1L1077.7 1622.7L1084.1 1628L1091.8 1631.4L1099.4 1631.9L1104.6 1631L1112.2 1627.8L1119.9 1622.9L1137.8 1610L1145.5 1605.8L1155.7 1601.7L1166 1598.9L1176.2 1597.4L1186.4 1597.3L1196.7 1598.6L1206.9 1601.3L1219.7 1606.8L1229.9 1612.7L1242.7 1621.6L1258.1 1634.1L1270.3 1645.8L1279.1 1656L1285.9 1666.2L1289.6 1673.9L1291.5 1679L1293.3 1686.7L1294.1 1694.4L1293.2 1707.2L1291.5 1714.9L1288.8 1723.6L1278.5 1747.2L1273.4 1756.7L1268.3 1764.5L1262.8 1771.2L1257.4 1776.3L1250.7 1781.4L1242.3 1786.5L1231.9 1791.6L1219.5 1796.7L1178.7 1811.2L1140.4 1823.7L1102 1834.4L1058.5 1844L994.5 1856.3L961.3 1861L933.1 1863.3ZM1189.3 1763.5L1194.1 1761.1L1197.5 1758.4L1199.3 1755.8L1200.2 1753.2L1200.1 1750.7L1199.2 1748.1L1197.4 1745.6L1194.4 1743L1186.4 1739.2L1181.3 1737.9L1173.6 1737L1166 1737.3L1160.8 1738.3L1155.7 1739.9L1150.6 1742.6L1147.3 1745.6L1145.8 1748.1L1145.2 1750.7L1145.5 1753.2L1146.7 1755.8L1150.6 1759.7L1158.3 1763.5L1166 1765.4L1173.6 1766L1181.3 1765.5L1189.3 1763.5Z" fill="#ff2f14" fill-rule="evenodd"/>
<path d="M945.9 1860.8L920.4 1861.9L897.3 1861.3L874.3 1859L853.8 1855.2L838.5 1850.5L828 1845.4L823.1 1841.6L819.9 1837.7L818.6 1835.1L817.8 1830L819.2 1824.9L820.7 1822.3L825.3 1817.2L828.4 1814.6L841 1807L858.6 1799.3L884.5 1790.6L938.3 1775.1L1012.5 1759.6L1022.7 1755.3L1027.8 1751.4L1030.3 1748.1L1032.1 1743L1032.2 1740.4L1031 1735.3L1028.2 1730.2L1022.7 1724.4L1017.6 1720.6L1003.4 1712.3L984.3 1697.9L976.6 1692.8L958.7 1684.6L953.8 1681.6L948.7 1676.5L945.9 1671.9L943.4 1665.3L941.4 1656L940.7 1645.8L941.3 1635.5L943.4 1625.7L945.9 1619.2L948.5 1614.9L953.6 1610.1L958.7 1608.3L961.3 1608.2L966.4 1609.5L974.1 1614.1L989.4 1626.7L998.7 1633L1004.8 1636.2L1009.7 1638.1L1017.6 1639.4L1025.2 1638.1L1032.9 1634.1L1040.4 1627.9L1050.8 1617.2L1055.9 1613.6L1058.5 1612.9L1061.1 1613.1L1063.6 1614.2L1078.5 1627.9L1084.1 1631.6L1091.8 1634.2L1099.4 1634.5L1104.6 1633.5L1112.2 1630.4L1137.8 1614L1145.5 1610.2L1155.7 1606.3L1166 1603.7L1176.2 1602.3L1186.4 1602.3L1194.1 1603.2L1204.3 1605.8L1217.1 1611L1227.4 1616.7L1240.1 1625.4L1252.9 1635.6L1264 1645.8L1273.2 1656L1280.3 1666.2L1283.6 1672.6L1286.2 1679L1287.6 1684.2L1288.7 1691.8L1288.3 1704.6L1286.7 1712.3L1284.3 1720L1280.1 1730.2L1275.1 1740.4L1268.3 1753L1263.2 1760.9L1256.9 1768.6L1251.6 1773.7L1245.1 1778.8L1237 1783.9L1227.1 1789.1L1215.5 1794.2L1176.1 1809.5L1140.4 1821.9L1107.1 1831.7L1073.9 1839.5L1012.5 1851.7L976.6 1857.5L945.9 1860.8ZM1184.5 1766L1189 1765L1194.1 1762.8L1199.2 1759.1L1201.5 1755.8L1202.2 1753.2L1202.1 1750.7L1201.1 1748.1L1199.2 1745.6L1196.3 1743L1191.9 1740.4L1186.4 1738.4L1178.7 1736.8L1171.1 1736.4L1163.4 1737.1L1155.7 1739.1L1150.6 1741.7L1146.1 1745.6L1144.5 1748.1L1143.9 1750.7L1144.2 1753.2L1145.3 1755.8L1147.4 1758.4L1150.6 1760.8L1155.7 1763.5L1163.4 1765.8L1171.1 1766.9L1178.7 1766.9L1184.5 1766Z" fill="#ff3515" fill-rule="evenodd"/>
<path d="M956.2 1858.4L930.6 1860L907.6 1859.9L884.5 1858.2L864.1 1854.9L847.2 1850.5L835.5 1845.4L830.8 1842.2L826.3 1837.7L824.9 1835.1L823.8 1830L824.2 1827.4L826.6 1822.3L831.2 1817.2L834.3 1814.6L847 1807L861.5 1800.5L884.5 1792.5L935.7 1777.4L948.5 1774.3L1004.8 1762.8L1015 1760.1L1025.2 1755.5L1030.4 1751.2L1032.6 1748.1L1034.1 1743L1033.7 1737.9L1031.8 1732.8L1030.3 1730.2L1025.2 1724.2L1006.3 1709.7L981.8 1689.1L974.1 1683.9L958.7 1676.3L953.6 1672.3L950.9 1668.8L948.2 1663.7L945.9 1655.9L945 1645.8L945.5 1638.1L947.1 1630.4L949.1 1625.3L952.6 1620.2L956.2 1617.4L961.3 1616.4L966.4 1617.5L971.5 1620.4L986.9 1632.3L994.5 1637L1007.3 1642.3L1012.5 1643.3L1017.6 1643.6L1025.2 1642.3L1032.9 1638.7L1040.6 1633.2L1050.8 1624.3L1055.9 1621.2L1058.5 1620.5L1061.1 1620.6L1066.2 1622.9L1076.4 1630.7L1084.1 1635L1091.8 1637.1L1099.4 1637.1L1104.6 1636L1112.2 1633.1L1137.8 1617.9L1145.5 1614.3L1153.2 1611.5L1163.4 1608.7L1173.6 1607.2L1183.9 1606.9L1191.5 1607.7L1201.8 1610L1212 1613.8L1222.2 1618.9L1235 1627.1L1247.8 1636.8L1258.1 1645.9L1267.5 1656L1274.9 1666.2L1277.8 1671.4L1281 1679L1282.5 1684.2L1283.6 1691.8L1283.8 1696.9L1283.1 1704.6L1279.7 1717.4L1276 1726.2L1270.8 1736.2L1263.2 1749.3L1257 1758.4L1250.7 1766L1245.5 1771.2L1239.1 1776.3L1231.4 1781.4L1211.6 1791.6L1175.8 1807L1142.9 1819.2L1112.2 1828.9L1081.5 1836.6L1030.4 1847L989.4 1854.2L956.2 1858.4ZM1190.1 1766L1196.4 1763.5L1200.2 1760.9L1202.6 1758.4L1204 1755.8L1204.5 1753.2L1204.2 1750.7L1203.2 1748.1L1201.3 1745.6L1198.4 1743L1191.5 1739.3L1186.4 1737.6L1178.7 1736.1L1171.1 1735.7L1163.4 1736.4L1155.7 1738.4L1150.6 1740.7L1145.5 1744.8L1143.3 1748.1L1142.7 1750.7L1142.9 1753.2L1145.5 1757.8L1149 1760.9L1155.7 1764.4L1163.4 1766.7L1173.6 1768L1181.3 1767.8L1190.1 1766Z" fill="#ff3c16" fill-rule="evenodd"/>
<path d="M935.7 1858.2L915.2 1858.4L894.8 1857.3L876.9 1855L859 1851.2L848.7 1847.9L838.5 1842.7L832.8 1837.7L830.8 1834.5L829.7 1830L830 1827.4L832.3 1822.3L834.3 1819.8L840 1814.6L852.7 1807L870.4 1799.3L894.8 1791L938.3 1778.2L1004.8 1764.1L1015 1761.5L1025.2 1757.4L1030.4 1753.9L1033.4 1750.7L1035.8 1745.6L1036.2 1743L1035.7 1737.9L1032.5 1730.2L1027.8 1724L1004 1702.1L981.8 1680.1L974.1 1674.4L961.3 1667.3L958.7 1665.3L955.1 1661.1L953.6 1658.5L951.9 1653.5L951 1648.3L951.1 1642.4L951.8 1638.1L953.6 1632.8L956.2 1629.3L958.7 1627.5L961.3 1626.9L966.7 1627.9L971.5 1630.6L984.3 1639.9L994.5 1644.8L1007.3 1647.9L1017.6 1648.3L1022.7 1647.5L1030.4 1644.9L1038 1640.5L1050.8 1631.1L1055.9 1628.4L1058.5 1627.8L1061.1 1627.7L1066.2 1629.3L1077.2 1635.5L1084.1 1638.5L1091.8 1640L1099.4 1639.7L1104.6 1638.6L1112.2 1635.7L1137.8 1621.6L1153.2 1615.6L1163.4 1613L1171.1 1611.8L1181.3 1611.4L1189 1612L1199.2 1614L1209.4 1617.6L1219.7 1622.5L1232.5 1630.4L1245.3 1640L1255.5 1649.2L1264.1 1658.6L1271.2 1668.8L1273.9 1673.9L1276.8 1681.6L1278.1 1686.7L1278.8 1694.4L1278.7 1699.5L1277.5 1707.2L1275.2 1714.9L1272 1722.5L1266.5 1732.8L1260.6 1742.1L1252.9 1752.9L1246.4 1760.9L1240.1 1767.3L1232.5 1773.7L1216.8 1783.9L1186.7 1799.3L1157 1812.1L1127.6 1822.7L1099.4 1831L1053.4 1841.2L999.7 1851.2L963.8 1856.1L935.7 1858.2ZM1184.9 1768.6L1191.5 1767.4L1199.2 1764.3L1203.9 1760.9L1205.9 1758.4L1207.2 1753.2L1205.6 1748.1L1200.7 1743L1196.5 1740.4L1189 1737.4L1181.3 1735.7L1171.1 1735.1L1163.4 1735.8L1155.7 1737.7L1149.5 1740.4L1145.5 1743.4L1142 1748.1L1141.4 1750.7L1141.6 1753.2L1142.9 1756.3L1147.3 1760.9L1153.2 1764.4L1160.8 1767.1L1168.5 1768.5L1176.2 1769.1L1184.9 1768.6Z" fill="#ff4617" fill-rule="evenodd"/>
<path d="M953.6 1855.6L930.6 1856.8L907.6 1856.4L884.5 1854.1L866.6 1850.7L851.3 1845.6L841.9 1840.2L837.2 1835.1L836 1832.6L835.7 1827.4L837.9 1822.3L839.8 1819.8L845.5 1814.6L858.1 1807L875.8 1799.3L899.9 1791.1L938.3 1779.6L1015 1762.9L1026.8 1758.4L1033.9 1753.2L1037.4 1748.1L1038.5 1743L1037.9 1737.9L1035.5 1731.5L1032.9 1727.2L1027.8 1720.6L1005.9 1696.9L993.7 1681.6L987.2 1671.4L983.4 1663.7L982.7 1661.1L983.1 1658.6L984.3 1657.6L989.4 1655.8L1015 1654.2L1025.2 1651.9L1035.5 1647.3L1053.4 1636.3L1058.5 1634.6L1061.1 1634.4L1066.2 1635.3L1079 1640.4L1086.6 1642.3L1094.3 1642.8L1102 1641.8L1112.2 1638.3L1135.3 1626.3L1148 1621.1L1155.7 1618.8L1166 1616.6L1173.6 1615.8L1181.3 1615.7L1191.5 1616.8L1201.8 1619.3L1212 1623.3L1224.8 1630.2L1237.6 1639L1248.8 1648.3L1258.8 1658.6L1266.2 1668.8L1269 1673.9L1272 1681.6L1273.7 1689.3L1274 1696.9L1273.5 1702.1L1271.8 1709.7L1268.9 1717.4L1265 1725.1L1260.2 1732.8L1252.9 1742.7L1245.3 1751.9L1237.6 1759.8L1227.7 1768.6L1218 1776.3L1198.7 1789.1L1174.8 1801.9L1151.8 1812.1L1127.6 1821.2L1102 1829L1071.3 1836.4L1017.6 1846.9L984.3 1852.2L953.6 1855.6ZM1195 1768.6L1201.8 1766.2L1206.9 1762.9L1210.3 1758.4L1210.9 1755.8L1210.8 1753.2L1208.5 1748.1L1206.3 1745.6L1199.1 1740.4L1193.2 1737.9L1186.4 1735.9L1176.2 1734.5L1168.5 1734.5L1160.8 1735.6L1153.2 1737.8L1147.9 1740.4L1144.4 1743L1142.1 1745.6L1140.7 1748.1L1140.1 1750.7L1140.3 1753.2L1141.2 1755.8L1142.9 1758.4L1148 1762.7L1155.7 1766.4L1166 1769.3L1176.2 1770.4L1186.4 1770.2L1195 1768.6Z" fill="#ff5219" fill-rule="evenodd"/>
<path d="M966.4 1853.1L940.8 1855L917.8 1855.2L897.3 1853.8L876.9 1850.7L866.6 1848.2L859 1845.6L848.5 1840.2L843.2 1835.1L841.8 1832.6L841.2 1827.4L843.3 1822.3L845.2 1819.8L850.7 1814.6L863.3 1807L880.9 1799.3L907.6 1790.2L940.8 1780.4L1004.8 1766.8L1017.6 1763.5L1025 1760.9L1030.2 1758.4L1036.8 1753.2L1039.9 1748.1L1040.9 1743L1040.2 1737.9L1038.4 1732.8L1032.9 1723.4L1009.1 1691.8L1004.6 1684.2L1002.5 1679L1001.6 1673.9L1001.8 1671.4L1002.8 1668.8L1004.8 1666.2L1007.3 1664.5L1030.4 1655.4L1050.8 1643.8L1055.9 1641.6L1061.1 1640.6L1066.2 1640.9L1079 1644.2L1086.6 1645.4L1091.8 1645.6L1099.4 1644.8L1104.6 1643.6L1112.2 1640.9L1135.3 1629.7L1148 1624.7L1163.4 1621L1178.7 1619.8L1189 1620.6L1199.2 1622.9L1209.4 1626.7L1222.2 1633.3L1235 1641.8L1245.3 1650.3L1253.5 1658.6L1261.3 1668.8L1266.4 1679L1269 1689.3L1269.1 1699.5L1266.8 1709.7L1264.8 1714.9L1260.9 1722.5L1252.9 1734L1242.7 1745.4L1232.5 1753.9L1224.8 1757.9L1222.2 1758.2L1219.7 1757.5L1212.4 1748.1L1206.3 1743L1202 1740.4L1191.5 1736.3L1178.7 1734L1166 1734.1L1155.7 1736.2L1146.3 1740.4L1143 1743L1140.8 1745.6L1139.4 1748.1L1138.8 1750.7L1138.9 1753.2L1139.7 1755.8L1143.8 1760.9L1148 1763.9L1153.2 1766.5L1163.4 1769.9L1173.6 1771.6L1183.9 1772.3L1201.8 1771.8L1204.3 1772.3L1205.8 1773.7L1205 1776.3L1200.5 1781.4L1194.3 1786.5L1186.9 1791.6L1169 1801.9L1147.1 1812.1L1125 1820.6L1102 1827.8L1076.4 1834.1L1027.8 1843.8L994.5 1849.4L966.4 1853.1Z" fill="#ff5e1b" fill-rule="evenodd"/>
<path d="M951.1 1853L930.6 1853.8L910.1 1853.2L892.2 1851.4L874.3 1847.8L859.8 1842.8L851.6 1837.7L847.5 1832.6L846.7 1830L847.2 1824.9L850.3 1819.8L852.8 1817.2L859.4 1812.1L873.6 1804.4L892.7 1796.7L920.4 1787.6L940.8 1781.7L1002.4 1768.6L1017.6 1764.9L1028.7 1760.9L1037 1755.8L1041.3 1750.7L1043.1 1745.6L1043.1 1740.4L1041.8 1735.3L1036.7 1725.1L1018.8 1696.9L1015.1 1689.3L1013 1681.6L1013.3 1676.5L1016.1 1671.4L1018.7 1668.8L1026.7 1663.7L1050.8 1649.8L1058.5 1646.8L1066.2 1646.2L1086.6 1648.5L1099.4 1647.4L1112.2 1643.5L1135.3 1632.9L1148 1628.2L1163.4 1624.7L1171.1 1623.8L1178.7 1623.7L1189 1624.7L1199.2 1627.1L1209.4 1630.9L1222.2 1637.7L1232.5 1644.5L1243.2 1653.5L1250.7 1661.1L1258.1 1671.4L1261.8 1679L1264.5 1689.3L1264.7 1696.9L1262.9 1707.2L1258.5 1717.4L1252.9 1726.1L1245.1 1735.3L1235 1744.1L1227.4 1747.9L1222.2 1748.3L1217.1 1746.7L1205.6 1740.4L1194.1 1736L1183.9 1733.8L1171.1 1733.1L1160.8 1734.2L1150.6 1737.3L1144.7 1740.4L1139.4 1745.6L1137.4 1750.7L1138.2 1755.8L1142 1760.9L1145.5 1763.6L1150.6 1766.6L1158.3 1769.7L1168.5 1772.4L1188.6 1776.3L1191.2 1778.8L1190.8 1781.4L1186.5 1786.5L1180.2 1791.6L1168.3 1799.3L1148.4 1809.5L1130.1 1817.2L1109.7 1824.3L1086.6 1830.6L1048.3 1838.8L1007.3 1846.2L976.6 1850.6L951.1 1853Z" fill="#ff6a1d" fill-rule="evenodd"/>
<path d="M966.4 1850.5L943.4 1852.1L922.9 1852.2L902.4 1850.9L883.9 1847.9L874 1845.4L866.9 1842.8L857.7 1837.7L854.9 1835.1L853.1 1832.6L852.1 1830L851.9 1827.4L852.4 1824.9L855.3 1819.8L857.7 1817.2L864.2 1812.1L878.3 1804.4L897.3 1796.7L922.9 1788.2L943.4 1782.3L1018.4 1766L1026.4 1763.5L1032.3 1760.9L1039.9 1755.8L1043.2 1751.9L1044.9 1748.1L1045.6 1743L1044.9 1737.9L1040.7 1727.7L1029 1707.2L1025.3 1699.5L1022.5 1691.8L1021.4 1684.2L1022.4 1679L1025.3 1673.9L1030.5 1668.8L1043.2 1659.9L1053.4 1654.2L1061.1 1651.6L1068.7 1650.9L1086.6 1651.4L1099.4 1649.9L1112.2 1646L1135.3 1636L1148 1631.6L1163.4 1628.3L1178.7 1627.5L1189 1628.6L1199.2 1631.1L1209.4 1635L1219.7 1640.4L1229.9 1647.1L1240.1 1655.5L1247.9 1663.7L1253.5 1671.4L1257.4 1679L1260.1 1689.3L1260 1699.5L1258.2 1707.2L1253.4 1717.4L1248.1 1725.1L1240.1 1733.5L1232.5 1739.4L1224.8 1742.6L1219.7 1742.8L1214.6 1741.8L1199.2 1736.4L1189 1733.8L1178.7 1732.5L1168.5 1732.5L1158.3 1734L1150.6 1736.4L1143.1 1740.4L1137.9 1745.6L1135.9 1750.7L1136.6 1755.8L1138.1 1758.4L1142.9 1763.3L1148 1766.6L1153.2 1769L1163.4 1772.7L1176 1776.3L1180.8 1778.8L1181.3 1779.9L1182 1781.4L1181.3 1783.9L1179.5 1786.5L1174.2 1791.6L1163.2 1799.3L1149.4 1807L1130.1 1815.6L1111.7 1822.3L1091.8 1828.2L1066.2 1834.1L1025.2 1842L994.5 1847.1L966.4 1850.5Z" fill="#fe771e" fill-rule="evenodd"/>
<path d="M948.5 1850.5L930.6 1850.9L912.7 1850.2L897.3 1848.4L882 1845.3L869.2 1840.7L861.5 1835.8L858.6 1832.6L857.4 1830L857.1 1827.4L857.4 1824.9L860.1 1819.8L862.4 1817.2L868.9 1812.1L882.9 1804.4L901.8 1796.7L925.5 1788.7L945.9 1782.9L1020.1 1766.8L1030.4 1763.4L1035.7 1760.9L1040.6 1757.7L1044.9 1753.2L1046.4 1750.7L1047.8 1745.6L1047.7 1740.4L1046.3 1735.3L1044.3 1730.2L1035 1712.3L1030.5 1702.1L1028.4 1694.4L1028 1686.7L1029.1 1681.6L1030.3 1679L1033.8 1673.9L1040.6 1667.7L1050.2 1661.1L1055.9 1658.3L1063.6 1655.8L1071.3 1654.9L1091.8 1653.7L1104.6 1651L1114.8 1647.5L1137.8 1638.1L1153.2 1633.5L1166 1631.4L1178.7 1631.1L1189 1632.3L1199.2 1634.9L1209.4 1639L1219.7 1644.4L1229.9 1651.4L1238.2 1658.6L1245.2 1666.2L1250.5 1673.9L1254 1681.6L1255.8 1689.3L1256 1696.9L1254.5 1704.6L1251.4 1712.3L1245.3 1721.8L1237.6 1729.9L1230.2 1735.3L1224.5 1737.9L1217.1 1738.8L1212 1738.2L1196.7 1734.3L1186.4 1732.4L1176.2 1731.5L1166 1731.9L1155.7 1733.9L1148 1736.6L1141.5 1740.4L1136.4 1745.6L1134.4 1750.7L1134.4 1753.2L1136.3 1758.4L1140.4 1762.8L1145.5 1766.5L1150.6 1769.3L1168 1776.3L1172.5 1778.8L1174.4 1781.4L1174.4 1783.9L1171.2 1789.1L1165.6 1794.2L1154.5 1801.9L1140.2 1809.5L1122.4 1817.2L1102 1824.2L1081.5 1829.6L1048.3 1836.7L1007.3 1844L974.1 1848.5L948.5 1850.5Z" fill="#fd8420" fill-rule="evenodd"/>
<path d="M966.4 1848.1L945.9 1849.4L925.5 1849.4L907.6 1848.1L891 1845.4L879.4 1842.1L869.2 1837.2L864 1832.6L862.6 1830L862.1 1827.4L862.3 1824.9L864.8 1819.8L867.1 1817.2L873.4 1812.1L887.3 1804.4L906 1796.7L928 1789.2L945.9 1784.2L1007.3 1771.2L1022.7 1767.4L1033.9 1763.5L1042.6 1758.4L1045.7 1755.4L1048.8 1750.7L1050.1 1745.6L1049.9 1740.4L1047.6 1732.8L1039.1 1714.9L1035 1704.6L1033.2 1696.9L1033 1689.3L1035.3 1681.6L1038.6 1676.5L1043.6 1671.4L1050.8 1665.9L1058.5 1661.9L1066.2 1659.4L1091.8 1656.2L1104.6 1653.4L1114.8 1650L1137.8 1641.1L1150.6 1637.3L1163.4 1635L1176.2 1634.5L1186.4 1635.5L1196.7 1637.8L1206.9 1641.6L1214.6 1645.4L1224.8 1651.9L1233.1 1658.6L1240.6 1666.2L1246.1 1673.9L1249.7 1681.6L1251.6 1689.3L1251.7 1696.9L1250.1 1704.6L1246.8 1712.3L1242.7 1718.4L1236.7 1725.1L1229.9 1730.6L1222.2 1734.5L1214.6 1735.7L1209.4 1735.3L1183.9 1731.1L1173.6 1730.7L1163.4 1731.5L1153.2 1733.8L1145.5 1736.9L1139.8 1740.4L1134.8 1745.6L1133.5 1748.1L1132.7 1753.2L1134.5 1758.4L1136.4 1760.9L1142.9 1766.5L1148 1769.6L1161.9 1776.3L1165.9 1778.8L1167.9 1781.4L1168.2 1783.9L1167.4 1786.5L1165.7 1789.1L1160.8 1794.2L1150.3 1801.9L1136.4 1809.5L1119.9 1816.8L1102 1823L1084.1 1827.9L1055.9 1834.1L1017.6 1841.3L989.4 1845.5L966.4 1848.1Z" fill="#fc9122" fill-rule="evenodd"/>
<path d="M948.5 1848L930.6 1848.1L915.2 1847.2L900.7 1845.4L889.2 1842.8L879.4 1839.3L872.1 1835.1L869.4 1832.6L867.7 1830L867 1827.4L867.1 1824.9L869.4 1819.8L871.5 1817.2L877.7 1812.1L891.5 1804.4L910.1 1796.7L930.6 1789.7L948.5 1784.7L1023.1 1768.6L1037.3 1763.5L1045.4 1758.4L1048.3 1755.4L1051.2 1750.7L1052 1748.1L1052.4 1743L1051.5 1737.9L1049.7 1732.8L1041.6 1714.9L1038.8 1707.2L1037.1 1699.5L1037.1 1691.8L1039.3 1684.2L1042.4 1679L1048.3 1672.9L1055.9 1667.5L1061.1 1665L1068.7 1662.5L1094.3 1658.1L1104.6 1655.7L1135.3 1644.9L1148 1641L1163.4 1638.3L1176.2 1637.8L1186.4 1638.9L1194.1 1640.6L1204.3 1644.2L1212.9 1648.3L1222.2 1654.2L1229.9 1660.2L1235.9 1666.2L1241.7 1673.9L1244.5 1679L1247 1686.7L1247.7 1694.4L1246.6 1702.1L1243.6 1709.7L1240.1 1715.3L1233.8 1722.5L1227.4 1727.7L1219.7 1731.5L1212 1732.9L1204.3 1732.6L1178.7 1729.9L1171.1 1730L1160.8 1731.1L1150.6 1733.8L1142.9 1737.2L1138 1740.4L1133.2 1745.6L1131.8 1748.1L1131 1753.2L1131.5 1755.8L1134.4 1760.9L1137.8 1764.4L1142.9 1768.2L1156.8 1776.3L1160.2 1778.8L1162.2 1781.4L1162.7 1783.9L1162.1 1786.5L1160.7 1789.1L1156.3 1794.2L1150 1799.3L1142.2 1804.4L1127.5 1812.1L1112.2 1818.3L1094.3 1824.1L1073.9 1829.3L1038 1836.6L1004.8 1842.3L974.1 1846.2L948.5 1848Z" fill="#fb9e24" fill-rule="evenodd"/>
<path d="M969 1845.5L948.5 1846.7L930.6 1846.7L915.2 1845.7L899.9 1843.3L888.4 1840.2L882.1 1837.7L877.7 1835.1L874.7 1832.6L872.8 1830L871.9 1827.4L871.8 1824.9L873.8 1819.8L875.9 1817.2L882 1812.1L895.6 1804.4L914.1 1796.7L930.6 1791L948.5 1785.9L1015 1771.7L1027.4 1768.6L1040.5 1763.5L1048 1758.4L1050.8 1755.3L1053.5 1750.7L1054.3 1748.1L1054.5 1743L1052.8 1735.3L1042.3 1709.7L1040.6 1702.1L1040.5 1694.4L1042.6 1686.7L1045.5 1681.6L1049.9 1676.5L1056.5 1671.4L1063.6 1667.6L1068.7 1665.8L1104.6 1658L1145.5 1644.7L1160.8 1641.7L1173.6 1641L1183.9 1641.9L1191.5 1643.4L1201.8 1646.7L1209.4 1650.2L1217.1 1654.6L1225.9 1661.1L1232.5 1667.6L1237.4 1673.9L1240.3 1679L1243 1686.7L1243.7 1694.4L1242.7 1701L1240.5 1707.2L1235.7 1714.9L1231 1720L1224.8 1725L1217.1 1728.9L1209.4 1730.5L1201.8 1730.6L1176.2 1728.9L1166 1729.5L1158.3 1730.8L1150.6 1732.9L1142.9 1736.1L1136.2 1740.4L1131.4 1745.6L1129.3 1750.7L1129.1 1753.2L1130.6 1758.4L1132.3 1760.9L1137.8 1766.5L1152.2 1776.3L1155.2 1778.8L1157 1781.4L1157.6 1783.9L1157.2 1786.5L1156.1 1789.1L1152.1 1794.2L1146.2 1799.3L1138.7 1804.4L1125 1811.7L1112.2 1817.1L1096.9 1822.3L1081.5 1826.5L1055.9 1832.1L1020.1 1838.8L992 1843L969 1845.5Z" fill="#faaa25" fill-rule="evenodd"/>
<path d="M951.1 1845.4L935.7 1845.5L920.4 1844.7L906.5 1842.8L895.6 1840.2L887.1 1837.1L880 1832.6L877.8 1830L876.6 1827.4L876.4 1824.9L876.9 1822.3L880.2 1817.2L882.8 1814.6L890 1809.5L905.2 1801.9L920.4 1795.8L935.7 1790.7L953.6 1785.8L1025.2 1770.4L1038.3 1766L1043.5 1763.5L1048.3 1760.3L1052.9 1755.8L1054.6 1753.2L1056.5 1748.1L1056.7 1743L1054.8 1735.3L1047.3 1717.4L1044.8 1709.7L1043.5 1702.1L1043.8 1694.4L1046.5 1686.7L1049.9 1681.6L1055.1 1676.5L1061.1 1672.4L1066.2 1669.8L1073.9 1667.2L1107.1 1659.5L1145.5 1647.6L1160.8 1644.7L1173.6 1644.2L1183.9 1645.1L1191.5 1646.7L1201.8 1650.2L1209.4 1653.8L1217.1 1658.5L1223.8 1663.7L1229.9 1669.9L1234.7 1676.5L1237.6 1682.4L1239.4 1689.3L1239.4 1696.9L1238.3 1702.1L1236.1 1707.2L1232.5 1712.9L1227.4 1718.5L1222.2 1722.5L1214.6 1726.5L1206.9 1728.3L1199.2 1728.7L1173.6 1728L1163.4 1728.9L1155.7 1730.5L1148 1732.8L1140.4 1736.4L1134.3 1740.4L1129.6 1745.6L1128.1 1748.1L1127.1 1753.2L1128.5 1758.4L1130 1760.9L1135.3 1766.5L1148 1776.3L1150.6 1778.8L1152.3 1781.4L1152.9 1783.9L1152.7 1786.5L1151.7 1789.1L1148.1 1794.2L1142.6 1799.3L1135.3 1804.4L1120.9 1812.1L1107.1 1817.7L1089.2 1823.4L1068.7 1828.4L1032.9 1835.5L1002.2 1840.6L974.1 1843.9L951.1 1845.4Z" fill="#f8b727" fill-rule="evenodd"/>
<path d="M974.1 1842.8L953.6 1844.1L935.7 1844.2L917.8 1842.8L905 1840.6L894.8 1837.6L889.2 1835.1L885.3 1832.6L882.8 1830L881.4 1827.4L880.9 1824.9L881.3 1822.3L884.4 1817.2L886.9 1814.6L894 1809.5L909 1801.9L922.9 1796.3L938.3 1791.1L955.3 1786.5L1027.8 1770.9L1041.5 1766L1050.1 1760.9L1053.4 1758L1056.9 1753.2L1058.1 1750.7L1058.9 1745.6L1057.7 1737.9L1049.4 1717.4L1047.1 1709.7L1046.1 1702.1L1046.9 1694.4L1050.2 1686.7L1054.1 1681.6L1061.1 1675.8L1068.7 1671.7L1079 1668.3L1109 1661.1L1145.5 1650.4L1160.8 1647.7L1173.6 1647.3L1183.9 1648.3L1191.5 1650L1199.2 1652.6L1206.9 1656.1L1214.6 1660.7L1221.7 1666.2L1226.7 1671.4L1230.5 1676.5L1233.2 1681.6L1234.9 1686.7L1235.6 1694.4L1234.9 1699.5L1233.1 1704.6L1229.9 1710.1L1225.9 1714.9L1219.7 1720.2L1212 1724.3L1204.3 1726.3L1196.7 1726.9L1171.1 1727.2L1160.8 1728.4L1153.2 1730.2L1145.5 1732.8L1137.8 1736.6L1132.3 1740.4L1127.6 1745.6L1125.3 1750.7L1125.4 1755.8L1126.2 1758.4L1127.7 1760.9L1132.1 1766L1146.4 1778.8L1147.9 1781.4L1148.6 1783.9L1147.7 1789.1L1144.4 1794.2L1139.1 1799.3L1132 1804.4L1119.9 1811.1L1107.1 1816.5L1091.8 1821.6L1076.4 1825.7L1050.8 1831.2L1022.7 1836.4L997.1 1840.2L974.1 1842.8Z" fill="#f7c229" fill-rule="evenodd"/>
<path d="M956.2 1842.8L940.8 1843L925.5 1842.1L912.7 1840.4L902.4 1837.9L894.8 1835L890.6 1832.6L887.7 1830L886.1 1827.4L885.4 1824.9L885.6 1822.3L888.5 1817.2L890.9 1814.6L897.9 1809.5L907.3 1804.4L925.4 1796.7L940.6 1791.6L956.2 1787.4L1030.4 1771.3L1043.2 1766.7L1052.7 1760.9L1055.9 1757.8L1059.3 1753.2L1060.3 1750.7L1061.1 1745.6L1059.8 1737.9L1052.5 1720L1049.9 1712.3L1048.7 1704.6L1048.8 1699.5L1050.8 1691.8L1053.6 1686.7L1058.5 1681.3L1065.1 1676.5L1071.3 1673.4L1079 1670.7L1109.7 1663.1L1140.4 1654.5L1155.7 1651.3L1171.1 1650.3L1181.3 1651.1L1189 1652.6L1196.7 1655L1204.3 1658.3L1212 1662.8L1219.5 1668.8L1224.2 1673.9L1227.7 1679L1230.1 1684.2L1231.6 1691.8L1231.3 1696.9L1229.9 1702.1L1227.4 1707.2L1223.4 1712.3L1219.7 1715.9L1214.6 1719.5L1206.9 1723L1199.2 1724.7L1168.5 1726.3L1153.2 1729.1L1145.5 1731.7L1137.7 1735.3L1130.2 1740.4L1125.5 1745.6L1123.1 1750.7L1122.8 1753.2L1123.9 1758.4L1125.2 1760.9L1129.3 1766L1142.4 1778.8L1143.8 1781.4L1144.6 1783.9L1144.5 1786.5L1142.6 1791.6L1138.6 1796.7L1132.6 1801.9L1124.7 1807L1112.2 1813.2L1096.9 1819L1081.5 1823.4L1061.1 1828.1L1030.4 1834.1L1002.2 1838.6L979.2 1841.3L956.2 1842.8Z" fill="#f7cd2a" fill-rule="evenodd"/>
<path d="M976.6 1840.4L958.7 1841.6L940.8 1841.7L925.5 1840.6L912.7 1838.6L902.4 1835.6L896 1832.6L892.7 1830L890.7 1827.4L889.9 1824.9L889.9 1822.3L892.5 1817.2L894.9 1814.6L901.7 1809.5L911 1804.4L929.1 1796.7L943.4 1792L958.7 1787.9L1020.1 1774.9L1032.9 1771.7L1045.7 1766.9L1055.2 1760.9L1058.5 1757.7L1061.6 1753.2L1062.7 1750.7L1063.3 1745.6L1061.8 1737.9L1054.4 1720L1052 1712.3L1051 1704.6L1051.8 1696.9L1055.2 1689.3L1059.3 1684.2L1065.6 1679L1073.9 1674.8L1086.6 1670.7L1142.9 1656.6L1158.3 1653.9L1171.1 1653.3L1178.7 1653.9L1186.4 1655.2L1194.1 1657.4L1201.8 1660.6L1207.4 1663.7L1214.5 1668.8L1219.7 1673.9L1223.4 1679L1225.9 1684.2L1227.3 1689.3L1227.5 1694.4L1226.6 1699.5L1224.4 1704.6L1220.9 1709.7L1217.1 1713.5L1212 1717.3L1206.8 1720L1198.3 1722.5L1166 1725.5L1150.6 1728.7L1142.9 1731.5L1135.3 1735.4L1128 1740.4L1123.2 1745.6L1120.7 1750.7L1120.3 1753.2L1121.3 1758.4L1125 1764.2L1138.6 1778.8L1140.7 1783.9L1140.3 1789.1L1137.5 1794.2L1132.7 1799.3L1125.9 1804.4L1117 1809.5L1105.7 1814.6L1091.8 1819.5L1076.4 1823.7L1053.4 1828.8L1022.7 1834.4L997.1 1838.2L976.6 1840.4Z" fill="#f6d82c" fill-rule="evenodd"/>
<path d="M961.3 1840.3L945.9 1840.5L933.1 1839.9L922.9 1838.7L912.7 1836.7L905 1834.1L897.8 1830L895.4 1827.4L894.3 1824.9L894.2 1822.3L894.9 1819.8L896.5 1817.2L898.8 1814.6L905.4 1809.5L920.1 1801.9L932.8 1796.7L948.5 1791.7L963.8 1787.7L1020.1 1776L1032.9 1772.9L1045.7 1768.3L1050.8 1765.7L1057.8 1760.9L1061.1 1757.6L1064.1 1753.2L1065.1 1750.7L1065.6 1745.6L1063.9 1737.9L1057.3 1722.5L1054.7 1714.9L1053.3 1707.2L1053.4 1702.1L1055.3 1694.4L1058.2 1689.3L1062.8 1684.2L1068.7 1679.8L1076.4 1676.1L1086.6 1672.7L1132.7 1661.6L1153.2 1657.4L1168.5 1656.3L1176.2 1656.7L1183.9 1657.8L1191.5 1659.9L1199.2 1662.9L1205.3 1666.2L1212 1671.2L1219 1679L1222.6 1686.7L1223.4 1691.8L1223 1696.9L1221.3 1702.1L1218.1 1707.2L1214.6 1711L1209.7 1714.9L1204.3 1717.8L1196.7 1720.4L1186.4 1722.1L1166 1724.2L1155.7 1726.1L1148 1728.4L1140.4 1731.4L1132.7 1735.4L1125.6 1740.4L1120.7 1745.6L1118.1 1750.7L1117.7 1753.2L1118.7 1758.4L1122.5 1764.5L1135 1778.8L1137.2 1783.9L1137.3 1786.5L1136.9 1789.1L1134.3 1794.2L1129.7 1799.3L1123 1804.4L1112.2 1810.4L1099.4 1815.8L1084.1 1820.7L1066.2 1825.1L1035.5 1831.3L1007.3 1835.9L984.3 1838.7L961.3 1840.3Z" fill="#f5e22d" fill-rule="evenodd"/>
<path d="M981.8 1837.9L963.8 1839.1L948.5 1839.3L935.7 1838.7L922.9 1837.1L912.7 1834.6L905 1831.3L900.2 1827.4L898.8 1824.9L898.4 1822.3L899 1819.8L900.4 1817.2L902.6 1814.6L909.1 1809.5L918.2 1804.4L933.1 1798L945.9 1793.6L963.8 1788.8L1034 1773.7L1048.3 1768.5L1053.4 1765.8L1060.3 1760.9L1063 1758.4L1066.6 1753.2L1067.5 1750.7L1068 1745.6L1066 1737.9L1059.2 1722.5L1056.6 1714.9L1055.4 1707.2L1056.1 1699.5L1059.4 1691.8L1063.5 1686.7L1068.7 1682.4L1076.4 1678.3L1084.1 1675.4L1094.3 1672.6L1137.8 1663L1155.7 1660L1168.5 1659.3L1181.3 1660.5L1194.1 1664.2L1201.8 1668L1206.7 1671.4L1214.3 1679L1218.2 1686.7L1219.1 1691.8L1218.7 1696.9L1217.1 1701.3L1215.2 1704.6L1212 1708.4L1207.4 1712.3L1201.8 1715.6L1194.1 1718.4L1186.9 1720L1160.8 1723.7L1145.5 1728L1137.8 1731.2L1130.1 1735.4L1123.1 1740.4L1118 1745.6L1115.3 1750.7L1114.9 1753.2L1115.8 1758.4L1118.7 1763.5L1131.6 1778.8L1133.8 1783.9L1134 1786.5L1133.6 1789.1L1131.3 1794.2L1126.8 1799.3L1120.2 1804.4L1111.3 1809.5L1099.5 1814.6L1086.6 1818.9L1073.9 1822.4L1050.8 1827.4L1025.2 1832.1L1002.2 1835.6L981.8 1837.9Z" fill="#f5ea2e" fill-rule="evenodd"/>
<path d="M969 1837.7L953.6 1838.1L940.8 1837.7L930.6 1836.7L920.4 1834.7L912.7 1832.2L908.2 1830L905 1827.5L903.2 1824.9L902.6 1822.3L903.1 1819.8L906.4 1814.6L912.8 1809.5L921.8 1804.4L938.3 1797.5L951.1 1793.3L967.2 1789.1L1025.2 1777L1037.9 1773.7L1051.1 1768.6L1055.9 1765.9L1063 1760.9L1067.8 1755.8L1069.3 1753.2L1070.2 1750.7L1070.5 1745.6L1068.2 1737.9L1062.2 1725.1L1059.3 1717.4L1057.6 1709.7L1057.5 1704.6L1059.3 1696.9L1062.1 1691.8L1066.2 1687.2L1071.3 1683.3L1076.4 1680.4L1084.1 1677.3L1102 1672.6L1145.5 1664.2L1155.7 1662.9L1166 1662.3L1173.6 1662.7L1181.3 1663.8L1189 1665.8L1194.1 1667.9L1199.2 1670.5L1204.2 1673.9L1207 1676.5L1211.2 1681.6L1212.7 1684.2L1214.4 1689.3L1214.6 1694.4L1214.1 1696.9L1212 1702L1210.2 1704.6L1204.3 1710.2L1196.7 1714.5L1189 1717.1L1160.8 1722.2L1145.5 1726.6L1135.3 1731L1127.6 1735.3L1120.3 1740.4L1115.1 1745.6L1112.3 1750.7L1111.9 1753.2L1112.8 1758.4L1115.8 1763.5L1128.4 1778.8L1130.6 1783.9L1130.8 1786.5L1129.7 1791.6L1126.4 1796.7L1121 1801.9L1117.4 1804.4L1108.4 1809.5L1096.4 1814.6L1081.5 1819.4L1066.2 1823.2L1038 1828.9L1012.5 1833.2L989.4 1836.1L969 1837.7Z" fill="#f4f22f" fill-rule="evenodd"/>
<path d="M986.9 1835.3L969 1836.6L953.6 1836.9L940.8 1836.3L928 1834.6L917.8 1831.8L913.7 1830L910.1 1827.6L907.7 1824.9L906.9 1822.3L907.1 1819.8L908.3 1817.2L910.2 1814.6L916.4 1809.5L925.3 1804.4L938.3 1798.8L952.1 1794.2L971.7 1789.1L1025.2 1778L1038 1774.8L1045.7 1772.2L1054 1768.6L1058.6 1766L1065.8 1760.9L1070.7 1755.8L1072.2 1753.2L1073.1 1750.7L1073.2 1745.6L1071.7 1740.4L1064.1 1725.1L1061.2 1717.4L1059.6 1709.7L1060 1702.1L1061.7 1696.9L1066.2 1690.3L1071.3 1685.7L1079 1681.3L1091.8 1676.9L1112.2 1672.4L1148 1666.7L1166 1665.5L1178.7 1666.6L1189 1669.5L1194.1 1671.8L1199.2 1674.9L1204 1679L1206.1 1681.6L1207.7 1684.2L1209.6 1689.3L1209.8 1694.4L1209.3 1696.9L1206.9 1702L1204.8 1704.6L1199.2 1709.3L1193.7 1712.3L1186.7 1714.9L1158.3 1721.1L1142.9 1726.1L1132.7 1730.8L1124.7 1735.3L1117.4 1740.4L1112 1745.6L1108.9 1750.7L1108.5 1753.2L1109.6 1758.4L1112.7 1763.5L1125.3 1778.8L1127.5 1783.9L1127.8 1786.5L1126.8 1791.6L1123.7 1796.7L1118.3 1801.9L1114.7 1804.4L1105.6 1809.5L1096.9 1813.3L1085.4 1817.2L1071.3 1821L1050.8 1825.5L1025.2 1830.2L1004.8 1833.3L986.9 1835.3Z" fill="#f4f930" fill-rule="evenodd"/>
<path d="M974.1 1835.2L948.5 1835.4L938.3 1834.6L927.1 1832.6L919.4 1830L914.9 1827.4L912.3 1824.9L911.2 1822.3L911.2 1819.8L912.2 1817.2L914 1814.6L920 1809.5L928.9 1804.4L940.7 1799.3L956.2 1794.2L974.1 1789.5L1026.2 1778.8L1040.6 1775.2L1048.3 1772.5L1056.9 1768.6L1068.8 1760.9L1073.9 1755.8L1075.6 1753.2L1076.7 1748.1L1075.5 1743L1067.3 1727.7L1063.9 1720L1061.9 1712.3L1061.5 1707.2L1063 1699.5L1065.6 1694.4L1068.7 1690.6L1073.9 1686.3L1079 1683.4L1086.6 1680.2L1102 1676.2L1135.3 1671L1160.8 1668.7L1173.6 1669.3L1181.3 1670.8L1186.4 1672.4L1191.5 1674.8L1196.7 1678.1L1202.3 1684.2L1204.5 1689.3L1204.7 1694.4L1204.1 1696.9L1201.2 1702.1L1195.4 1707.2L1191 1709.7L1184.8 1712.3L1153.2 1720.8L1137.8 1726.7L1127.6 1731.9L1117.7 1737.9L1111 1743L1106.3 1748.1L1105 1750.7L1104.6 1753.2L1106 1758.4L1109.5 1763.5L1118.4 1773.7L1122.2 1778.8L1124.5 1783.9L1124.9 1786.5L1124 1791.6L1120.9 1796.7L1115.6 1801.9L1112 1804.4L1102.8 1809.5L1090 1814.6L1076.4 1818.7L1061.3 1822.3L1035.8 1827.4L1015 1830.9L994.5 1833.6L974.1 1835.2Z" fill="#f4fa31" fill-rule="evenodd"/>
<path d="M992 1832.8L976.6 1834L961.3 1834.4L948.5 1834L935.7 1832.6L925.6 1830L920.1 1827.4L917 1824.9L915.5 1822.3L915.3 1819.8L916.1 1817.2L917.8 1814.6L923.6 1809.5L932.4 1804.4L944.4 1799.3L958.7 1794.6L974.1 1790.6L992.2 1786.5L1027.8 1779.5L1043.2 1775.5L1050.8 1772.8L1059.9 1768.6L1068.5 1763.5L1075.4 1758.4L1080 1753.2L1081 1750.7L1080.9 1748.1L1078.8 1743L1071.3 1731L1066.8 1722.5L1064.2 1714.9L1063.5 1707.2L1065.2 1699.5L1068.1 1694.4L1073.9 1688.7L1081.5 1684.2L1094.3 1679.7L1112.2 1676.2L1140.4 1673.1L1160.8 1672L1171.1 1672.6L1181.3 1674.8L1190.3 1679L1196 1684.2L1198.7 1689.3L1198.9 1694.4L1196.8 1699.5L1191.5 1704.7L1182 1709.7L1153.2 1718.7L1135.3 1726.2L1114.4 1737.9L1107.1 1743L1101.6 1748.1L1100.1 1750.7L1099.8 1753.2L1100.4 1755.8L1103.8 1760.9L1117.5 1776.3L1120.7 1781.4L1121.6 1783.9L1121.9 1789.1L1120.1 1794.2L1115.9 1799.3L1112.9 1801.9L1105 1807L1096.9 1810.8L1086.7 1814.6L1073.9 1818.4L1055.9 1822.5L1030.5 1827.4L1009.9 1830.7L992 1832.8Z" fill="#f5fc31" fill-rule="evenodd"/>
<path d="M1091.8 1748.3L1089.2 1748L1086.6 1746.5L1081.5 1741.3L1076.4 1735L1070.1 1725.1L1067.7 1720L1066.1 1714.9L1065.5 1707.2L1067.5 1699.5L1071.3 1693.7L1073.9 1691.2L1079 1687.6L1084.1 1685L1091.8 1682.2L1107.1 1678.8L1127.6 1676.5L1153.2 1675.4L1166 1675.9L1176.2 1677.8L1185.1 1681.6L1188.4 1684.2L1190.6 1686.7L1191.9 1689.3L1192.4 1691.8L1192.2 1694.4L1191.3 1696.9L1187 1702.1L1183.3 1704.6L1178.2 1707.2L1153.2 1716.4L1137.8 1723.2L1119.5 1732.8L1096.9 1746.1L1091.8 1748.3ZM981.8 1832.6L966.4 1833.2L953.6 1833L943.4 1832.1L933.1 1830.2L925.7 1827.4L921.9 1824.9L920 1822.3L919.4 1819.8L920 1817.2L924 1812.1L931.2 1807L940.8 1802.2L948.2 1799.3L961.3 1795.1L976.6 1791.1L1030.4 1780L1044.5 1776.3L1053.4 1773L1063 1768.6L1084.1 1756.1L1089.2 1754L1091.8 1754.6L1094.3 1756.5L1109.7 1770.8L1116.4 1778.8L1118.8 1783.9L1119.2 1789.1L1118.6 1791.6L1115.7 1796.7L1113.3 1799.3L1107.1 1804.1L1102.3 1807L1089.2 1812.6L1068.7 1818.6L1038 1825.1L1007.7 1830L981.8 1832.6Z" fill="#f5fe32" fill-rule="evenodd"/>
<path d="M1099.4 1740.9L1094.3 1742.3L1091.8 1742.4L1089.2 1742L1084.1 1739.3L1076.4 1731.5L1072.2 1725.1L1069.7 1720L1068.1 1714.9L1067.4 1709.7L1068.7 1702.1L1071.3 1697L1073.4 1694.4L1079.7 1689.3L1089.2 1684.8L1102 1681.4L1117.3 1679.4L1137.8 1678.6L1155.7 1679.1L1168.5 1680.8L1173.6 1682.3L1177.9 1684.2L1181.3 1686.7L1183.3 1689.3L1184.1 1691.8L1184 1694.4L1182.9 1696.9L1180.8 1699.5L1177.6 1702.1L1168 1707.2L1142.9 1718.6L1109.7 1736.1L1099.4 1740.9ZM997.1 1830.2L981.8 1831.5L966.4 1832L953.6 1831.6L940.8 1830L931.7 1827.4L927 1824.9L924.5 1822.3L923.7 1819.8L924 1817.2L925.4 1814.6L927.7 1812.1L934.9 1807L943.4 1802.8L952.1 1799.3L968.8 1794.2L981.8 1790.9L1030.4 1781.1L1043.2 1777.9L1058.5 1772.2L1079 1762.3L1086.6 1760.1L1089.2 1760.1L1094.3 1761.7L1102 1766.9L1111.6 1776.3L1114.8 1781L1116.1 1783.9L1116.6 1789.1L1116 1791.6L1113.1 1796.7L1110.7 1799.3L1102 1805.6L1089.2 1811.5L1071.3 1817L1047.4 1822.3L1020.1 1827.2L997.1 1830.2Z" fill="#f5ff33" fill-rule="evenodd"/>
<path d="M1099.4 1738L1094.3 1738.9L1091.8 1738.8L1086.6 1737.2L1084.1 1735.7L1079 1731.2L1076.4 1728.1L1073.9 1724.2L1071.3 1718.9L1070.1 1714.9L1069.5 1709.7L1070.9 1702.1L1073.9 1696.9L1076.4 1694.1L1081.5 1690.3L1089.2 1686.6L1102 1683.2L1114.8 1681.5L1130.1 1681.2L1145.5 1682.1L1159.5 1684.2L1167.4 1686.7L1171.3 1689.3L1173 1691.8L1173.3 1694.4L1172.3 1696.9L1170.1 1699.5L1163.1 1704.6L1117.3 1730.1L1107.1 1735.1L1099.4 1738ZM986.9 1830.1L961.3 1830.6L952.2 1830L943.4 1828.6L938.3 1827.4L932.4 1824.9L929.3 1822.3L928 1819.8L928.1 1817.2L929.3 1814.6L931.5 1812.1L938.6 1807L948.5 1802.2L956.1 1799.3L983.2 1791.6L1030.4 1782.1L1043.2 1779L1055.9 1774.7L1076.4 1765.9L1084.1 1763.7L1089.2 1763.7L1091.8 1764.3L1099.4 1768.2L1104.6 1772.2L1108.6 1776.3L1112.2 1781.4L1113.3 1783.9L1113.9 1789.1L1113.4 1791.6L1110.5 1796.7L1108.1 1799.3L1099.4 1805.4L1086.6 1811.2L1066.2 1817.2L1040.6 1822.7L1012 1827.4L986.9 1830.1Z" fill="#f6ff36" fill-rule="evenodd"/>
<path d="M1099.4 1735.4L1091.8 1735.8L1086.6 1734.1L1081.5 1730.5L1079 1727.9L1073.8 1720L1071.6 1712.3L1072.2 1704.6L1073.9 1700.7L1076.4 1697L1081.5 1692.5L1089.2 1688.5L1096.9 1686L1107.1 1684.1L1119.9 1683.3L1132.7 1684L1145.5 1686L1155.6 1689.3L1159.2 1691.8L1160.7 1694.4L1160.6 1696.9L1159.4 1699.5L1154.6 1704.6L1148 1709.7L1136.4 1717.4L1119.9 1726.8L1107.1 1732.9L1099.4 1735.4ZM1002.2 1827.6L974.1 1829.5L961.3 1829.2L951.1 1828.2L945.9 1827.3L938.3 1824.8L934.4 1822.3L932.6 1819.8L932.3 1817.2L933.3 1814.6L935.4 1812.1L942.4 1807L951.1 1802.8L960.2 1799.3L987.8 1791.6L1030.4 1783.2L1043.2 1780.2L1055.4 1776.3L1073.9 1768.9L1081.5 1766.7L1089.2 1766.6L1096.9 1769.5L1102 1773L1105.5 1776.3L1109.4 1781.4L1110.6 1783.9L1111.3 1789.1L1110.8 1791.6L1107.9 1796.7L1102.4 1801.9L1098.5 1804.4L1087.8 1809.5L1072 1814.6L1050.1 1819.8L1022.7 1824.8L1002.2 1827.6Z" fill="#f6ff39" fill-rule="evenodd"/>
<path d="M1099.4 1732.9L1091.8 1733L1086.6 1731.2L1081.5 1727.4L1079 1724.6L1076.1 1720L1073.9 1712.9L1073.9 1707.2L1075.5 1702.1L1077.1 1699.5L1082.2 1694.4L1089.2 1690.4L1096.9 1687.8L1107.1 1686L1117.3 1685.5L1127.6 1686.1L1137.8 1688.1L1145.5 1691.1L1149.6 1694.4L1150.7 1696.9L1150.5 1699.5L1149.5 1702.1L1145.3 1707.2L1139.5 1712.3L1128.2 1720L1117.3 1726.1L1107.1 1730.7L1099.4 1732.9ZM992 1827.5L969 1828.1L958.7 1827.5L951.1 1826.4L945.1 1824.9L939.8 1822.3L937.3 1819.8L936.7 1817.2L937.5 1814.6L939.4 1812.1L946.3 1807L956.2 1802.3L964.3 1799.3L992.6 1791.6L1043.2 1781.4L1079 1769.5L1086.6 1768.9L1094.3 1771L1102.2 1776.3L1104.6 1778.8L1107.8 1783.9L1108.6 1789.1L1108.1 1791.6L1105.3 1796.7L1099.6 1801.9L1095.6 1804.4L1084.5 1809.5L1067.8 1814.6L1043.2 1820.1L1015.7 1824.9L992 1827.5Z" fill="#f7ff3b" fill-rule="evenodd"/>
<path d="M1099.4 1730.6L1091.8 1730.4L1086.6 1728.4L1081.5 1724.2L1078.5 1720L1076.4 1714.7L1075.9 1709.7L1076.1 1707.2L1078 1702.1L1082.3 1696.9L1086.6 1693.8L1094.3 1690.5L1102 1688.6L1109.7 1687.7L1119.9 1687.8L1127.6 1688.9L1135.3 1691.2L1140.6 1694.4L1142.6 1696.9L1143.2 1699.5L1142.9 1702.1L1140 1707.2L1135 1712.3L1124.4 1720L1115.2 1725.1L1107.1 1728.6L1099.4 1730.6ZM1007.3 1824.9L981.8 1826.8L961.3 1826.1L953.4 1824.9L945.9 1822.4L942.5 1819.8L941.3 1817.2L941.8 1814.6L943.5 1812.1L946.4 1809.5L955.3 1804.4L968.6 1799.3L997.1 1791.8L1043.2 1782.6L1076.4 1772.1L1084.1 1771.1L1091.8 1772.5L1096.9 1775.1L1099.4 1777L1103.4 1781.4L1104.9 1783.9L1105.9 1789.1L1105.5 1791.6L1102.6 1796.7L1096.8 1801.9L1087.4 1807L1072.9 1812.1L1052.1 1817.2L1025.5 1822.3L1007.3 1824.9Z" fill="#f8ff45" fill-rule="evenodd"/>
<path d="M1102 1727.9L1094.3 1728.3L1089.2 1726.9L1084.1 1723.4L1081.2 1720L1078.8 1714.9L1078.2 1709.7L1078.5 1707.2L1080.7 1702.1L1084.1 1698.2L1089.2 1694.7L1094.3 1692.5L1102 1690.5L1109.7 1689.7L1117.3 1690L1125 1691.3L1132.6 1694.4L1135.5 1696.9L1136.9 1699.5L1137.1 1702.1L1136.5 1704.6L1135.1 1707.2L1130.7 1712.3L1124.4 1717.4L1115.9 1722.5L1109.7 1725.5L1102 1727.9ZM994.5 1825L974.1 1825.4L965.3 1824.9L958.7 1823.9L952.8 1822.3L948 1819.8L946.2 1817.2L946.3 1814.6L947.8 1812.1L950.6 1809.5L954.5 1807L965.7 1801.9L973.1 1799.3L997.1 1792.9L1043.2 1783.8L1076.4 1774L1084.1 1773.4L1091.8 1775.1L1097.8 1778.8L1100.2 1781.4L1102 1784.2L1103.1 1789.1L1102.7 1791.6L1099.9 1796.7L1093.9 1801.9L1089.2 1804.6L1081.5 1807.9L1066.2 1812.7L1038 1819L1017.6 1822.5L994.5 1825Z" fill="#f9ff53" fill-rule="evenodd"/>
<path d="M1102 1725.5L1096.9 1726L1091.8 1725.1L1086.9 1722.5L1084.1 1719.7L1081.5 1714.9L1080.8 1709.7L1082.1 1704.6L1084.1 1701.5L1086.6 1699L1091.8 1695.8L1096.9 1693.8L1104.6 1692.2L1112.2 1692L1117.3 1692.5L1124.3 1694.4L1128.7 1696.9L1130.8 1699.5L1131.6 1702.1L1131.5 1704.6L1130.5 1707.2L1126.6 1712.3L1120.3 1717.4L1114.8 1720.7L1107.1 1724.1L1102 1725.5ZM1009.9 1822.3L984.3 1824.1L966.4 1823.1L961.3 1822.3L954.4 1819.8L951.6 1817.2L951.2 1814.6L952.4 1812.1L955 1809.5L958.9 1807L970.2 1801.9L977.7 1799.3L997.1 1794.1L1043.2 1785.1L1073.9 1776.5L1081.5 1775.5L1089.2 1776.7L1093.5 1778.8L1096.7 1781.4L1098.7 1783.9L1099.8 1786.5L1100.2 1789.1L1099.9 1791.6L1097 1796.7L1090.8 1801.9L1080.4 1807L1068.7 1810.8L1053.3 1814.6L1027.8 1819.7L1009.9 1822.3Z" fill="#faff68" fill-rule="evenodd"/>
<path d="M1102 1723L1096.9 1723.3L1092.9 1722.5L1089.2 1720.7L1085.9 1717.4L1084.1 1713.6L1083.6 1709.7L1084.1 1707.1L1087 1702.1L1089.9 1699.5L1094.6 1696.9L1099.4 1695.4L1106.1 1694.4L1112.2 1694.5L1117.3 1695.5L1121.3 1696.9L1124.7 1699.5L1126.2 1702.1L1126.5 1704.6L1125.8 1707.2L1122.3 1712.3L1117.3 1716.4L1112.2 1719.5L1107.1 1721.7L1102 1723ZM994.5 1822.4L976.6 1822.4L966.4 1821L961.8 1819.8L958.7 1818L957.6 1817.2L956.5 1814.6L957.3 1812.1L959.7 1809.5L963.5 1807L974.9 1801.9L982.5 1799.3L1002.5 1794.2L1045.7 1785.8L1071.3 1778.9L1079 1777.8L1086.6 1778.5L1092.5 1781.4L1095.1 1783.9L1096.6 1786.5L1097.1 1789.1L1096.9 1791.6L1094 1796.7L1087.5 1801.9L1076.4 1807L1058.8 1812.1L1035.1 1817.2L1015 1820.5L994.5 1822.4Z" fill="#fbff85" fill-rule="evenodd"/>
<path d="M1102 1720.3L1096.9 1720.4L1094.3 1719.8L1091.8 1718.6L1089.2 1716.4L1087.1 1712.3L1086.9 1709.7L1087.4 1707.2L1088.8 1704.6L1091.1 1702.1L1094.3 1700L1102 1697.4L1109.7 1697.1L1114.8 1698.3L1117.6 1699.5L1120.4 1702.1L1121.3 1704.6L1121 1707.2L1119.8 1709.7L1117.3 1712.6L1112.2 1716.4L1107.1 1718.9L1102 1720.3ZM1009.9 1819.8L989.4 1821.1L979.2 1820.7L971.7 1819.8L964.5 1817.2L962.3 1814.6L962.6 1812.1L964.8 1809.5L968.4 1807L979.8 1801.9L987.7 1799.3L1008.8 1794.2L1043.2 1787.8L1071.3 1780.8L1079 1780L1084.1 1780.6L1089.2 1782.7L1092.9 1786.5L1093.7 1789.1L1093.6 1791.6L1092.6 1794.2L1090.7 1796.7L1084.1 1801.8L1078.7 1804.4L1068.7 1807.9L1053.2 1812.1L1028.1 1817.2L1009.9 1819.8Z" fill="#fcffa3" fill-rule="evenodd"/>
<path d="M1107.1 1715.4L1102 1716.9L1099.4 1717.1L1094.3 1715.5L1091.5 1712.3L1091.1 1709.7L1091.7 1707.2L1094.3 1704L1099.4 1701.3L1107.1 1700.5L1112.7 1702.1L1115.1 1704.6L1115.3 1707.2L1114.3 1709.7L1112.1 1712.3L1107.1 1715.4ZM1017.6 1817.5L997.1 1819.3L981.8 1818.9L973 1817.2L968.9 1814.6L968.4 1812.1L970.2 1809.5L973.6 1807L985.2 1801.9L993.3 1799.3L1009.9 1795.4L1040.6 1789.9L1068.7 1783.3L1076.4 1782.4L1081.5 1782.8L1086.6 1784.9L1088.5 1786.5L1089.9 1789.1L1090 1791.6L1089.2 1793.8L1087.1 1796.7L1081.5 1800.9L1074.2 1804.4L1066.2 1807.2L1046.9 1812.1L1017.6 1817.5Z" fill="#fdffc2" fill-rule="evenodd"/>
<path d="M1104.6 1710.1L1102 1710.8L1099.1 1709.7L1100.3 1707.2L1102 1706.5L1104.6 1706.6L1105.6 1707.2L1105.2 1709.7L1104.6 1710.1ZM1004.8 1817.3L992 1817.5L984.3 1816.8L977 1814.6L975.1 1812.1L976.2 1809.5L979.4 1807L984.3 1804.4L999.7 1799.3L1010.8 1796.7L1043.2 1791L1063.6 1786.4L1071.3 1785.2L1079 1785.4L1082.3 1786.5L1085.1 1789.1L1085.7 1791.6L1084.9 1794.2L1083 1796.7L1076.4 1801.2L1068.9 1804.4L1060.8 1807L1039.7 1812.1L1022.7 1815.2L1004.8 1817.3Z" fill="#feffdd" fill-rule="evenodd"/>
<path d="M1012.5 1814.8L999.7 1815.5L988.8 1814.6L983.2 1812.1L983.2 1809.5L986 1807L990.9 1804.4L997.9 1801.9L1007.3 1799.3L1020.1 1796.7L1068.7 1788.2L1076.4 1788.7L1079 1790.3L1080 1791.6L1079.8 1794.2L1077.9 1796.7L1074.5 1799.3L1069.3 1801.9L1062.3 1804.4L1043.1 1809.5L1030.9 1812.1L1012.5 1814.8Z" fill="#fffff4" fill-rule="evenodd"/>
<path d="M795 1796.6L810.3 1790.7L828.3 1785.2L848.7 1779.9L897.3 1768.8L907.6 1765.8L915.2 1763L925.2 1758.4L933.1 1753.2L938.1 1748.1L939.5 1745.6L939.8 1743L939.5 1740.4L937.2 1735.3L930.6 1723.6L926.6 1714.9L922.9 1704.7L920.1 1694.4L918 1684.2L916.2 1671.4L915 1658.6L914.6 1645.8L914.8 1633L915.8 1620.2L917.3 1610L920.1 1597.2L923.3 1586.9L927.9 1576.7L932.7 1569L936.9 1563.9M982.7 1563.9L986.9 1567.8L992 1574.4L994.5 1578.8L1004 1599.7L1007.3 1605.4L1012.5 1611.1L1015 1612.7L1017.6 1613.4L1020.1 1613.4L1022.7 1612.5L1025.2 1610.8L1028.3 1607.4L1031.4 1602.3L1033.6 1597.2L1036.1 1589.5L1042.9 1563.9M1071.8 1563.9L1079.4 1589.5L1084.1 1600.4L1086.9 1604.8L1091.8 1609.9L1094.3 1611.4L1099.4 1612.8L1102.6 1612.5L1107.1 1610.9L1112.1 1607.4L1114.8 1604.8L1118.8 1599.7L1122.1 1594.6L1135.3 1570.9L1137.8 1567.6L1141.5 1563.9M1235.9 1563.9L1250.4 1572.3L1266.8 1584.4L1286.2 1601.1L1304.1 1618.7M1011.2 1750.7L1015 1748.8L1017.6 1746.7L1020 1743L1020.5 1740.4L1020.2 1737.9L1019.1 1735.3L1017 1732.8L1012.5 1729.7L1009.9 1728.7L1004.8 1727.6L999.7 1727.5L994.5 1728.4L989.5 1730.2L985.3 1732.8L982.7 1735.3L981.2 1737.9L980.7 1740.4L981.2 1743L982.8 1745.6L986 1748.1L989.4 1749.9L994.5 1751.5L999.7 1752.3L1004.8 1752.2L1011.2 1750.7M1181.4 1758.4L1185.8 1755.8L1187.8 1753.2L1188.3 1750.7L1187.4 1748.1L1186.4 1747L1185 1745.6L1181.3 1743.6L1173.6 1741.9L1166 1742.3L1162.7 1743L1158.3 1745L1155.1 1748.1L1154.4 1750.7L1155 1753.2L1157.2 1755.8L1161.9 1758.4L1166 1759.4L1171.1 1760L1176.2 1759.7L1181.4 1758.4M1304.1 1793.8L1293.9 1802.1L1281.1 1809.8L1265.7 1816.2L1247.8 1821.4L1222.2 1826.9L1160.8 1837L1130.3 1842.8L1058.4 1858.1L997.1 1872L966.4 1877.6L943.4 1880.5L920.4 1882.1L897.3 1882.6L874.3 1881.9L848.7 1880.1L828.3 1877.5L810.3 1873.9L795 1869.2M956.2 1863.3L930.6 1865.3L902.4 1865.5L876.9 1863.8L864.1 1862.3L851.3 1860.1L833.4 1855.5L825.7 1852.7L818 1848.8L813 1845.4L808.2 1840.2L806.7 1837.7L805.4 1832.6L806 1827.4L808.4 1822.3L812.8 1817.2L815.8 1814.6L820.6 1811.2L827.9 1807L845.3 1799.3L871.7 1790.5L943.4 1770.4L984.3 1762L1004.8 1758.9L1012.5 1757.1L1017.6 1755.1L1020.9 1753.2L1024.2 1750.7L1026.4 1748.1L1028.6 1743L1028.5 1737.9L1026.3 1732.8L1024.4 1730.2L1020.1 1726.2L1012.5 1721.9L993.2 1714.9L974.1 1703.9L953.6 1696.1L948.5 1692.7L945.9 1690.1L943.4 1686.8L940.8 1682.3L937.6 1673.9L934.9 1661.1L933.8 1645.8L934.6 1633L936.9 1620.2L940.6 1610L943.4 1604.8L945.9 1601.4L951.1 1597L953.6 1595.7L958.7 1594.5L963.8 1595.1L969 1597.1L976.7 1602.3L996.4 1620.2L1004.8 1627L1012.5 1631L1017.6 1632.1L1022.7 1631.5L1025.2 1630.6L1030 1627.9L1032.9 1625.5L1039.8 1617.6L1050.8 1601.9L1053.4 1599.3L1055.9 1597.6L1058.5 1596.9L1061.1 1597.5L1063.6 1599.1L1066.2 1601.9L1077.2 1617.6L1084.1 1624.5L1086.6 1626.2L1091.8 1628.5L1094.3 1629.1L1099.4 1629.3L1104.6 1628.4L1112.2 1625.1L1119.6 1620.2L1137.8 1605.6L1145.5 1601.1L1153.2 1597.7L1166 1593.9L1176.2 1592.3L1186.4 1592.1L1196.7 1593.2L1206.9 1595.8L1219.7 1601.1L1229.9 1606.9L1242.7 1615.7L1258.1 1628L1271.8 1640.7L1283.2 1653.5L1290.2 1663.7L1292.9 1668.8L1296.1 1676.5L1298.2 1684.2L1299.3 1691.8L1299.5 1699.5L1298.7 1707.2L1297.2 1714.9L1295 1722.5L1291.3 1732.9L1286 1745.6L1281.1 1755.8L1276.6 1763.5L1270.8 1771.1L1265.9 1776.3L1259.8 1781.4L1252.1 1786.5L1236.8 1794.2L1216.2 1801.9L1155.7 1821L1112.2 1833.4L1076.4 1841.7L1015 1854.1L984.3 1859.5L956.2 1863.3M1185.7 1763.5L1191.5 1761.1L1194.1 1759.4L1197.3 1755.8L1198.3 1753.2L1198.4 1750.7L1197.5 1748.1L1195.6 1745.6L1192.6 1743L1187.6 1740.4L1181.3 1738.6L1176.2 1737.8L1168.5 1737.7L1163.4 1738.4L1158.3 1739.7L1153.2 1742L1148.6 1745.6L1147 1748.1L1146.4 1750.7L1146.7 1753.2L1148 1755.8L1150.4 1758.4L1153.2 1760.3L1158.3 1762.6L1163.4 1764.1L1171.1 1765.1L1178.7 1764.9L1185.7 1763.5M966.4 1853.1L940.8 1855L917.8 1855.2L897.3 1853.8L876.9 1850.7L866.6 1848.2L859 1845.6L852.7 1842.8L848.5 1840.2L845.4 1837.7L843.2 1835.1L841.8 1832.6L841.2 1830L841.2 1827.4L843.3 1822.3L845.2 1819.8L850.7 1814.6L863.3 1807L880.9 1799.3L907.6 1790.2L940.8 1780.4L1004.8 1766.8L1017.6 1763.5L1025 1760.9L1030.2 1758.4L1034 1755.8L1036.8 1753.2L1039.9 1748.1L1040.9 1743L1040.2 1737.9L1038.4 1732.8L1032.9 1723.4L1016.4 1702.1L1009.1 1691.8L1004.6 1684.2L1002.5 1679L1001.6 1673.9L1001.8 1671.4L1002.8 1668.8L1004.8 1666.2L1007.3 1664.5L1030.4 1655.4L1050.8 1643.8L1055.9 1641.6L1061.1 1640.6L1066.2 1640.9L1079 1644.2L1086.6 1645.4L1091.8 1645.6L1099.4 1644.8L1104.6 1643.6L1112.2 1640.9L1135.3 1629.7L1148 1624.7L1163.4 1621L1171.1 1620L1178.7 1619.8L1189 1620.6L1199.2 1622.9L1209.4 1626.7L1222.2 1633.3L1235 1641.8L1245.3 1650.3L1253.5 1658.6L1261.3 1668.8L1266.4 1679L1268 1684.2L1269 1689.3L1269.4 1694.4L1269.1 1699.5L1266.8 1709.7L1264.8 1714.9L1260.9 1722.5L1252.9 1734L1242.7 1745.4L1237.6 1750L1232.5 1753.9L1224.8 1757.9L1222.2 1758.2L1219.7 1757.5L1212.4 1748.1L1206.3 1743L1202 1740.4L1191.5 1736.3L1178.7 1734L1166 1734.1L1155.7 1736.2L1150.6 1738.1L1146.3 1740.4L1143 1743L1140.8 1745.6L1139.4 1748.1L1138.8 1750.7L1138.9 1753.2L1139.7 1755.8L1141.3 1758.4L1143.8 1760.9L1148 1763.9L1153.2 1766.5L1163.4 1769.9L1173.6 1771.6L1183.9 1772.3L1201.8 1771.8L1204.3 1772.3L1205.8 1773.7L1205 1776.3L1200.5 1781.4L1194.3 1786.5L1186.9 1791.6L1169 1801.9L1147.1 1812.1L1125 1820.6L1102 1827.8L1076.4 1834.1L1027.8 1843.8L994.5 1849.4L966.4 1853.1M969 1845.5L948.5 1846.7L930.6 1846.7L915.2 1845.7L899.9 1843.3L888.4 1840.2L882.1 1837.7L877.7 1835.1L874.7 1832.6L872.8 1830L871.9 1827.4L871.8 1824.9L872.4 1822.3L873.8 1819.8L875.9 1817.2L882 1812.1L895.6 1804.4L914.1 1796.7L930.6 1791L948.5 1785.9L1015 1771.7L1027.4 1768.6L1034.8 1766L1040.5 1763.5L1048 1758.4L1050.8 1755.3L1053.5 1750.7L1054.3 1748.1L1054.5 1743L1052.8 1735.3L1045.1 1717.4L1042.3 1709.7L1040.6 1702.1L1040.5 1694.4L1042.6 1686.7L1045.5 1681.6L1049.9 1676.5L1056.5 1671.4L1063.6 1667.6L1068.7 1665.8L1104.6 1658L1145.5 1644.7L1160.8 1641.7L1173.6 1641L1183.9 1641.9L1191.5 1643.4L1201.8 1646.7L1209.4 1650.2L1217.1 1654.6L1225.9 1661.1L1232.5 1667.6L1237.4 1673.9L1240.3 1679L1243 1686.7L1243.7 1694.4L1242.7 1701L1240.5 1707.2L1235.7 1714.9L1231 1720L1224.8 1725L1217.1 1728.9L1209.4 1730.5L1201.8 1730.6L1176.2 1728.9L1166 1729.5L1158.3 1730.8L1150.6 1732.9L1142.9 1736.1L1136.2 1740.4L1131.4 1745.6L1129.3 1750.7L1129.1 1753.2L1130.6 1758.4L1132.3 1760.9L1137.8 1766.5L1152.2 1776.3L1155.2 1778.8L1157 1781.4L1157.6 1783.9L1157.2 1786.5L1156.1 1789.1L1152.1 1794.2L1146.2 1799.3L1138.7 1804.4L1125 1811.7L1112.2 1817.1L1096.9 1822.3L1081.5 1826.5L1055.9 1832.1L1020.1 1838.8L992 1843L969 1845.5M981.8 1837.9L963.8 1839.1L948.5 1839.3L935.7 1838.7L922.9 1837.1L912.7 1834.6L905 1831.3L902.9 1830L900.2 1827.4L898.8 1824.9L898.4 1822.3L899 1819.8L900.4 1817.2L902.6 1814.6L909.1 1809.5L918.2 1804.4L933.1 1798L945.9 1793.6L963.8 1788.8L986.9 1783.6L1022.7 1776.5L1034 1773.7L1041.9 1771.2L1048.3 1768.5L1053.4 1765.8L1060.3 1760.9L1063 1758.4L1066.6 1753.2L1067.5 1750.7L1068 1745.6L1066 1737.9L1059.2 1722.5L1056.6 1714.9L1055.4 1707.2L1056.1 1699.5L1057.9 1694.4L1059.4 1691.8L1063.5 1686.7L1068.7 1682.4L1076.4 1678.3L1084.1 1675.4L1094.3 1672.6L1137.8 1663L1155.7 1660L1168.5 1659.3L1181.3 1660.5L1189 1662.4L1194.1 1664.2L1201.8 1668L1206.7 1671.4L1209.8 1673.9L1214.3 1679L1217.1 1683.8L1218.2 1686.7L1219.1 1691.8L1218.7 1696.9L1217.1 1701.3L1215.2 1704.6L1212 1708.4L1207.4 1712.3L1201.8 1715.6L1194.1 1718.4L1186.9 1720L1160.8 1723.7L1153.2 1725.5L1145.5 1728L1137.8 1731.2L1130.1 1735.4L1123.1 1740.4L1118 1745.6L1115.3 1750.7L1114.9 1753.2L1115.8 1758.4L1118.7 1763.5L1131.6 1778.8L1133.8 1783.9L1134 1786.5L1133.6 1789.1L1131.3 1794.2L1126.8 1799.3L1120.2 1804.4L1111.3 1809.5L1099.5 1814.6L1086.6 1818.9L1073.9 1822.4L1050.8 1827.4L1025.2 1832.1L1002.2 1835.6L981.8 1837.9M1099.4 1740.9L1094.3 1742.3L1091.8 1742.4L1089.2 1742L1084.1 1739.3L1079 1734.5L1076.4 1731.5L1072.2 1725.1L1069.7 1720L1068.1 1714.9L1067.4 1709.7L1067.9 1704.6L1068.7 1702.1L1071.3 1697L1073.4 1694.4L1079.7 1689.3L1089.2 1684.8L1102 1681.4L1117.3 1679.4L1137.8 1678.6L1155.7 1679.1L1168.5 1680.8L1173.6 1682.3L1177.9 1684.2L1181.3 1686.7L1183.3 1689.3L1184.1 1691.8L1184 1694.4L1182.9 1696.9L1180.8 1699.5L1177.6 1702.1L1168 1707.2L1142.9 1718.6L1109.7 1736.1L1099.4 1740.9M997.1 1830.2L981.8 1831.5L966.4 1832L953.6 1831.6L940.8 1830L931.7 1827.4L927 1824.9L924.5 1822.3L923.7 1819.8L924 1817.2L925.4 1814.6L927.7 1812.1L934.9 1807L943.4 1802.8L952.1 1799.3L968.8 1794.2L981.8 1790.9L1030.4 1781.1L1043.2 1777.9L1058.5 1772.2L1079 1762.3L1086.6 1760.1L1089.2 1760.1L1094.3 1761.7L1102 1766.9L1107.1 1771.4L1111.6 1776.3L1114.8 1781L1116.1 1783.9L1116.6 1789.1L1116 1791.6L1113.1 1796.7L1110.7 1799.3L1107.7 1801.9L1102 1805.6L1089.2 1811.5L1071.3 1817L1047.4 1822.3L1020.1 1827.2L997.1 1830.2M1102 1725.5L1096.9 1726L1091.8 1725.1L1086.9 1722.5L1084.1 1719.7L1081.5 1714.9L1080.8 1709.7L1082.1 1704.6L1084.1 1701.5L1086.6 1699L1091.8 1695.8L1096.9 1693.8L1104.6 1692.2L1112.2 1692L1117.3 1692.5L1124.3 1694.4L1128.7 1696.9L1130.8 1699.5L1131.6 1702.1L1131.5 1704.6L1130.5 1707.2L1126.6 1712.3L1120.3 1717.4L1114.8 1720.7L1107.1 1724.1L1102 1725.5M1009.9 1822.3L997.1 1823.5L984.3 1824.1L974.1 1823.9L966.4 1823.1L961.3 1822.3L954.4 1819.8L951.6 1817.2L951.2 1814.6L952.4 1812.1L955 1809.5L958.9 1807L970.2 1801.9L977.7 1799.3L997.1 1794.1L1043.2 1785.1L1073.9 1776.5L1081.5 1775.5L1086.6 1776L1089.2 1776.7L1093.5 1778.8L1096.7 1781.4L1098.7 1783.9L1099.8 1786.5L1100.2 1789.1L1099.9 1791.6L1098.8 1794.2L1097 1796.7L1090.8 1801.9L1080.4 1807L1068.7 1810.8L1053.3 1814.6L1027.8 1819.7L1009.9 1822.3" fill="none" stroke="#4d4d4d" stroke-width="1" stroke-linejoin="round"/>
</g>
<text x="1072.1" y="1715.3" font-size="22" text-anchor="start" font-weight="bold" fill="#000">Mo-M</text>
<text x="983.3" y="1814.3" font-size="22" text-anchor="start" font-weight="bold" fill="#000">Mo-S</text>
<path d="M795 1904.2v8M964.7 1904.2v8M1134.4 1904.2v8M1304.1 1904.2v8M879.9 1904.2v4.5M1049.5 1904.2v4.5M1219.2 1904.2v4.5M795 1904.2h-8M795 1847.5h-8M795 1790.8h-8M795 1734.1h-8M795 1677.3h-8M795 1620.6h-8M795 1563.9h-8M795 1875.8h-4.5M795 1819.1h-4.5M795 1762.4h-4.5M795 1705.7h-4.5M795 1649h-4.5M795 1592.3h-4.5" stroke="#000" stroke-width="1.6" fill="none"/>
<rect x="795" y="1563.9" width="509.1" height="340.3" fill="none" stroke="#000" stroke-width="1.6"/>
<text x="795" y="1934.7" font-size="23" text-anchor="middle" font-weight="bold" fill="#000">0</text>
<text x="964.7" y="1934.7" font-size="23" text-anchor="middle" font-weight="bold" fill="#000">5</text>
<text x="1134.4" y="1934.7" font-size="23" text-anchor="middle" font-weight="bold" fill="#000">10</text>
<text x="1304.1" y="1934.7" font-size="23" text-anchor="middle" font-weight="bold" fill="#000">15</text>
<text x="782.5" y="1910.9" font-size="23" text-anchor="end" font-weight="bold" fill="#000">1.0</text>
<text x="782.5" y="1854.2" font-size="23" text-anchor="end" font-weight="bold" fill="#000">1.5</text>
<text x="782.5" y="1797.5" font-size="23" text-anchor="end" font-weight="bold" fill="#000">2.0</text>
<text x="782.5" y="1740.8" font-size="23" text-anchor="end" font-weight="bold" fill="#000">2.5</text>
<text x="782.5" y="1684.1" font-size="23" text-anchor="end" font-weight="bold" fill="#000">3.0</text>
<text x="782.5" y="1627.4" font-size="23" text-anchor="end" font-weight="bold" fill="#000">3.5</text>
<text x="782.5" y="1570.6" font-size="23" text-anchor="end" font-weight="bold" fill="#000">4.0</text>
<text x="1049.3" y="1964.7" font-size="25" text-anchor="middle" font-weight="bold" fill="#000">k (&#197;<tspan font-size="15" dy="-11">-1</tspan><tspan dy="11" font-size="1">&#8203;</tspan>)</text>
<text transform="translate(733.8 1734.1) rotate(-90)" font-size="24.5" text-anchor="middle" font-weight="bold">Radial distance (&#197;)</text>
<g clip-path="url(#cl)">
<rect x="1465" y="1569.4" width="504.3" height="337.5" fill="#350001"/>
<path d="M1969.3 1909.5L1465 1909.6L1462.3 1906.9L1461.9 1820.6L1462.5 1603.4L1465 1603.4L1468.1 1602.4L1470.9 1599.9L1473.9 1594.8L1475.8 1589.7L1477.7 1581.3L1478.5 1566.9L1969.3 1566.8L1971.9 1569.4L1972.3 1747L1971.9 1906.9L1969.3 1909.5Z" fill="#4a0105" fill-rule="evenodd"/>
<path d="M1969.3 1909.5L1465 1909.5L1462.4 1906.9L1462 1820.6L1462.5 1651.3L1465 1651.3L1472.6 1643L1479.3 1632.8L1484.3 1622.7L1488 1612.5L1491.4 1599.9L1496.1 1577L1497.5 1566.9L1969.3 1566.8L1971.9 1569.4L1972.2 1747L1971.9 1906.9L1969.3 1909.5ZM1713.3 1635.4L1719 1632.8L1721.4 1630.3L1723.2 1625.2L1723.3 1620.2L1722.8 1617.6L1720.4 1612.5L1715.9 1606.5L1710.8 1603.2L1705.7 1602.6L1703.2 1603.3L1700.6 1604.9L1698 1607.5L1695.6 1611.4L1694.3 1615.1L1693.4 1620.2L1693.9 1627.8L1694.5 1630.3L1696.6 1632.8L1700.7 1635.1L1705.7 1636.3L1713.3 1635.4ZM1752.5 1635.4L1757.9 1632.8L1760 1630.3L1761.2 1622.7L1760.2 1615.1L1758.1 1610L1753.9 1604.9L1751.4 1603.4L1748.8 1602.7L1743.8 1603.2L1741.2 1604.4L1737.7 1607.5L1732.7 1615.1L1731.7 1617.6L1731.1 1622.7L1732 1627.8L1733.1 1630.3L1735.7 1632.8L1741.2 1635.2L1746.3 1636.2L1752.5 1635.4ZM1810.9 1637.9L1814.9 1635.4L1817.2 1632.9L1818.2 1630.3L1817.4 1625.2L1815.3 1620.2L1812.2 1616L1809.6 1614.1L1807.1 1613L1802 1613L1799.5 1614.1L1795.5 1617.6L1792.6 1622.7L1790.9 1630.3L1791.7 1632.8L1794.4 1635.5L1799.5 1638.4L1804.6 1639.3L1810.9 1637.9ZM1893.8 1637.9L1898.3 1636.4L1900.9 1634.6L1904.6 1630.3L1905.3 1627.8L1903.9 1622.7L1900.9 1617.4L1898.3 1614.9L1895.8 1613.5L1890.7 1612.8L1888.2 1613.4L1885.7 1614.9L1883.1 1617.3L1880 1622.7L1878.6 1627.8L1879.3 1630.3L1884.1 1635.4L1888.2 1637.4L1893.8 1637.9Z" fill="#600608" fill-rule="evenodd"/>
<path d="M1728.6 1909.4L1648.5 1909.4L1648.5 1906.9L1613 1904.4L1591.7 1903.6L1571.4 1903.7L1558.8 1904.5L1544 1906.9L1544 1909.4L1465 1909.5L1462.4 1906.9L1462 1823.2L1462.5 1671.4L1465 1671.4L1477.7 1654.7L1485.3 1642.9L1491.7 1630.3L1495.8 1620.2L1499.8 1607.5L1509.8 1569.4L1509.8 1566.9L1591.6 1566.9L1591.8 1579.6L1589.1 1612.5L1591.4 1632.8L1591.7 1634.7L1593.6 1637.9L1594.2 1642.9L1596.3 1645.5L1596.7 1648.1L1604.4 1656L1609.4 1656.1L1614.8 1653.1L1617.2 1650.6L1618.1 1648.1L1622.1 1642.8L1622.9 1640.5L1629.7 1628.7L1632.3 1625.8L1634.8 1624.4L1637.3 1624L1677.9 1633.7L1695.6 1640.8L1700.7 1642.1L1705.7 1642.7L1713.3 1642.3L1726 1639.8L1731.1 1640.1L1743.8 1642.4L1751.4 1642.2L1759 1640.6L1771.6 1636.5L1776.7 1636.3L1781.8 1637.6L1797 1644.2L1802 1645.2L1807.1 1645.2L1816.1 1643L1829.9 1636.2L1835 1634.7L1842.6 1633.6L1855.3 1633.2L1860.3 1633.4L1865.4 1634.5L1882.8 1643L1890.7 1644.7L1895.8 1644.5L1900.9 1643.3L1916.1 1635.9L1921.2 1634.3L1926.2 1634L1933.8 1634.8L1944 1636.7L1956.6 1640L1969.3 1644.3L1971.8 1644.3L1971.8 1896.3L1949 1897.5L1921.2 1898.3L1900.9 1898.2L1885.7 1897.3L1880.6 1896.6L1875.5 1894.7L1872.1 1889.1L1867.7 1886.6L1860.3 1885.1L1858.8 1884.1L1845.1 1883.1L1837.5 1881.4L1807.1 1881.3L1803.5 1881.5L1802 1882.3L1797 1883.3L1784.7 1884.1L1781.8 1885.6L1777.3 1886.6L1775 1889.1L1776.8 1891.7L1784.3 1895.4L1788.9 1896.7L1792.9 1899.3L1789.4 1900.6L1785 1901.8L1771.6 1903.5L1728.7 1906.9L1728.6 1909.4ZM1916.5 1835.8L1918.6 1834.7L1927.9 1833.3L1929 1830.8L1921.2 1829L1919.9 1828.2L1916.1 1827.9L1890.7 1827.2L1855.3 1824.8L1852.7 1824.3L1851 1823.2L1845.1 1821.8L1843.8 1820.6L1835 1819.4L1832.8 1818.1L1829.9 1817.8L1802 1817.8L1800.4 1818.1L1799.5 1819L1797 1819.9L1793.2 1820.6L1793.3 1823.2L1797 1823.9L1800.3 1825.7L1814.7 1826.7L1819.8 1828.2L1837.5 1829.2L1841.8 1830.8L1847.7 1831.7L1851.1 1833.3L1860.3 1834.2L1864.1 1835.8L1890.7 1836.3L1916.5 1835.8Z" fill="#770c0a" fill-rule="evenodd"/>
<path d="M1515.7 1909.4L1465.3 1909.4L1465.3 1906.9L1462.5 1906.8L1462.1 1823.2L1462.5 1692.3L1465 1692.3L1474.5 1676L1490.5 1650.6L1497.6 1637.9L1505.7 1620.2L1518.2 1585.1L1523.3 1574.5L1526.5 1569.4L1526.5 1566.9L1568.4 1566.9L1568.4 1569.4L1575 1579.6L1580.5 1592.2L1583 1602.4L1587.6 1627.8L1592.3 1643L1596.2 1650.6L1599.3 1654.6L1601.8 1656.8L1604.4 1658.2L1606.9 1658.8L1609.4 1658.6L1612 1657.7L1615.1 1655.7L1620.1 1650.6L1627.2 1641.6L1629.7 1639.3L1632.3 1637.9L1637.3 1637.3L1664.5 1643L1698.1 1648L1705.7 1648.6L1728.6 1647.2L1748.8 1648.2L1774.2 1645.9L1781.8 1646.5L1799.5 1650L1807.1 1650.3L1814.7 1649.5L1832.5 1646.2L1857.8 1645.4L1867.9 1646.1L1885.7 1649.8L1893.3 1650.4L1900.9 1649.8L1913.5 1647.7L1921.2 1647.5L1931.3 1648.8L1944 1651.8L1956.6 1655.9L1969.3 1661.2L1971.8 1661.2L1971.8 1888.9L1938.9 1890.6L1913.5 1890.5L1895.8 1888.6L1874.5 1884.1L1855.3 1881.2L1835 1879.8L1807.1 1879.9L1787.5 1881.5L1773.3 1884.1L1765.4 1886.6L1760.9 1889.1L1756.4 1892.8L1751.4 1895.1L1743.8 1896.8L1731.1 1898.5L1698.1 1900.9L1667.7 1901.9L1639.9 1901.7L1586.6 1900.3L1561.3 1900.7L1546 1901.8L1528.4 1904.4L1516.4 1906.9L1516.4 1909.4L1515.7 1909.4ZM1908 1838.4L1933.8 1835.8L1944.9 1833.3L1948 1830.8L1941.8 1828.2L1926.2 1826.2L1865.4 1822.7L1840.1 1817.3L1824.9 1815.7L1812.2 1815.5L1802 1816.3L1791.7 1818.1L1786.5 1820.6L1786.8 1823.2L1791.9 1825.7L1794.4 1826.3L1804.6 1828.3L1829.9 1831.6L1852.7 1836.1L1878.1 1838.6L1908 1838.4Z" fill="#8c120b" fill-rule="evenodd"/>
<path d="M1500.5 1901.8L1490.3 1901.6L1482.7 1900.7L1472.6 1898.2L1465 1895.1L1462.5 1895.1L1462.1 1823.2L1462.5 1717L1465 1717L1473.7 1696.3L1481 1681.1L1508.2 1635.4L1525.8 1601.7L1533.4 1591.2L1536 1588.9L1541 1585.8L1546.1 1584.7L1551.2 1585.4L1556.2 1587.9L1563.8 1594.8L1571.4 1604.4L1579 1616.1L1590.2 1643L1594.2 1650.6L1598 1655.7L1600.7 1658.2L1604.4 1660.3L1606.9 1660.9L1609.5 1660.8L1614.5 1658.7L1627.2 1647.7L1629.7 1646.2L1634.8 1645.2L1665.2 1650.8L1700.7 1653.9L1728.6 1653.3L1748.8 1653.5L1774.2 1652.7L1807.1 1655.1L1832.5 1653.5L1860.3 1653.3L1870.5 1653.7L1890.7 1655.6L1916.1 1655.8L1928.8 1657.7L1944 1661.8L1956.6 1666.6L1969.3 1673.3L1971.8 1673.3L1971.8 1811.7L1969.3 1811.7L1964.2 1818.1L1959.2 1821.1L1951.6 1822.8L1941.4 1823.4L1922.6 1823.2L1875.5 1821.3L1865.4 1820L1840.1 1815.4L1827.4 1814.3L1814.7 1814.1L1802 1814.8L1791.9 1816.2L1784.7 1818.1L1780.7 1820.6L1780.9 1823.2L1784.3 1825.3L1794.2 1828.2L1845.1 1836.9L1862.9 1839.1L1883.1 1840.1L1903.4 1840L1926.2 1838.9L1956.6 1836.5L1971.8 1836.1L1971.8 1883.8L1941.4 1885.7L1918.6 1885.9L1903.4 1885L1870.5 1880.9L1849.5 1879L1829.9 1878.2L1809.6 1878.5L1794.4 1879.4L1775.4 1881.5L1762.2 1884.1L1741.2 1890.4L1733.6 1892L1723.5 1893.6L1703.2 1895.5L1672.8 1897.3L1647.5 1898L1579 1897.1L1558.8 1897.3L1543.6 1898.1L1500.5 1901.8Z" fill="#a0160d" fill-rule="evenodd"/>
<path d="M1655.1 1894.2L1622.1 1894.7L1558.8 1893.5L1513.1 1895.5L1500.5 1895.4L1490.3 1894.3L1482.7 1892.7L1475.1 1890.2L1465 1885.3L1462.5 1885.3L1462.5 1738.7L1465 1738.7L1468.5 1731.8L1472.6 1722.2L1484.1 1691.2L1488.8 1681.1L1495.8 1668.4L1508.1 1649.5L1523.3 1627.9L1530.9 1618.6L1538.5 1612L1543.6 1609.8L1546.1 1609.3L1551.2 1609.6L1558.8 1612.7L1566.4 1617.8L1574 1623.8L1579 1629L1584.1 1636.4L1592.1 1650.6L1596.8 1656.9L1601.8 1661.2L1606.9 1662.9L1609.4 1662.9L1614.5 1661.1L1627.2 1652.6L1632.3 1651.2L1637.3 1651.5L1665.2 1656.6L1693.1 1658.7L1774.2 1658.2L1807.1 1659.6L1867.9 1659.6L1903.4 1661.4L1921.2 1663.5L1938.9 1668.1L1949 1672L1956.6 1675.7L1969.3 1684.2L1971.8 1684.2L1971.8 1796.1L1969.3 1796.1L1949 1813.1L1944 1816L1936.4 1818.4L1923.7 1819.7L1908.5 1820.1L1878.1 1818.8L1850.2 1814.7L1837.5 1813.3L1822.3 1812.6L1809.6 1812.9L1797 1813.9L1786.5 1815.5L1778.4 1818.1L1775.1 1820.6L1775.2 1823.2L1778.7 1825.7L1789.4 1829.1L1835 1837.3L1852.7 1839.8L1870.5 1841.1L1888.2 1841.6L1949 1840.2L1971.8 1840.9L1971.8 1879.4L1944 1881.7L1921.2 1882.3L1903.4 1881.7L1847.7 1877.4L1824.9 1876.9L1804.6 1877.4L1783.3 1879L1766.6 1881.1L1731.1 1888.1L1715.9 1890.3L1688 1892.6L1655.1 1894.2Z" fill="#b3190e" fill-rule="evenodd"/>
<path d="M1688 1889.2L1657.6 1890.9L1629.7 1891.5L1556.2 1889.5L1508.1 1889.7L1495.4 1888.5L1485.3 1886.3L1475.1 1882.5L1465 1876.9L1462.5 1876.9L1462.5 1754.2L1465 1754.2L1475.1 1736.2L1480 1724.2L1490 1693.7L1494.4 1683.6L1499.7 1673.4L1508.1 1660.5L1518.2 1647.2L1528.4 1636.1L1536 1629.9L1543.6 1626.2L1551.2 1625.3L1558.8 1626.7L1568.9 1630.8L1576.5 1635.3L1581.6 1639.7L1593.4 1655.7L1598.2 1660.8L1601.8 1663.4L1606.9 1664.9L1612 1664.4L1617.1 1662.2L1624.7 1657.8L1627.2 1656.8L1632.3 1656L1637.3 1656.5L1662.7 1661.1L1688 1663.2L1771.6 1662.9L1873 1665.1L1898.3 1666.4L1911 1667.8L1921.2 1669.7L1938.9 1675L1946.5 1678.4L1954.1 1682.6L1962.6 1688.7L1969.3 1695.1L1971.8 1695.1L1971.8 1786.6L1969.3 1786.6L1959.2 1795L1949 1802L1941.4 1806.5L1931.3 1811.5L1923.7 1814L1915.4 1815.5L1903.4 1816.3L1888.2 1816.2L1842.6 1811.6L1827.4 1811L1812.2 1811.2L1797 1812.4L1784.3 1814.2L1774.2 1817.2L1772.2 1818.1L1769.4 1820.6L1769.6 1823.2L1772.5 1825.7L1781.8 1829.3L1797 1832.7L1840.1 1840.2L1860.3 1842.1L1878.1 1842.9L1946.5 1843L1971.8 1845.4L1971.8 1875.2L1944 1878.2L1921.2 1879.1L1900.9 1878.8L1842.6 1875.7L1822.3 1875.7L1799.5 1876.4L1769.8 1879L1721 1886.3L1688 1889.2ZM1654.7 1792.7L1657.6 1790.2L1654.3 1787.6L1648.4 1787.6L1645.6 1790.2L1649.1 1792.7L1654.7 1792.7Z" fill="#c41c0f" fill-rule="evenodd"/>
<path d="M1685.5 1886.8L1657.6 1888.2L1622.1 1888.7L1596.8 1888.1L1556.2 1886.1L1508.1 1885L1495.4 1883.2L1485.3 1880.6L1475.1 1876.3L1465 1869.9L1462.5 1869.9L1462.5 1765.6L1465 1765.6L1475.1 1749.5L1480.6 1739.4L1485.6 1726.7L1494.7 1696.3L1498.9 1686.1L1504.1 1676L1512.5 1663.3L1520.8 1653.2L1528.4 1645.7L1536 1639.9L1543.6 1636.3L1551.2 1634.9L1561.3 1636L1571.4 1639.1L1576.5 1641.5L1581.6 1645L1593.3 1658.2L1598.7 1663.3L1603.3 1665.8L1606.9 1666.7L1612 1666.4L1624.7 1661L1627.2 1660.2L1632.3 1659.8L1657.6 1664.3L1670.3 1665.9L1682.9 1666.8L1703.2 1667.2L1756.4 1666.6L1784.3 1667L1883.1 1669.8L1908.5 1672.3L1921.2 1674.9L1928.8 1677.1L1944 1683.5L1951.6 1688.1L1958.8 1693.7L1964.2 1699.3L1969.3 1706L1971.8 1706L1971.8 1778.7L1969.3 1778.7L1959.2 1788.2L1951.6 1793.6L1944 1798.2L1933.8 1803.1L1926.2 1806.1L1916.1 1809.1L1905.9 1810.9L1888.2 1811.8L1840.1 1809.5L1807.1 1810L1784.3 1812.5L1774.2 1814.9L1766.5 1818.1L1764.2 1820.6L1764.3 1823.2L1766.8 1825.7L1771.7 1828.2L1779.4 1830.8L1804.6 1836.4L1832.5 1841.2L1865.4 1844L1938.9 1845.3L1956.6 1847.2L1969.3 1850.1L1971.8 1850.1L1971.8 1870.8L1969.3 1870.8L1961.7 1872.5L1946.5 1874.7L1921.2 1876.3L1900.9 1876.3L1837.5 1874.3L1797 1875.4L1761.5 1878.5L1710.8 1884.9L1685.5 1886.8ZM1658.8 1792.7L1660.3 1790.2L1658.2 1787.6L1655.1 1786.7L1650 1786.3L1644.9 1787.4L1643 1790.2L1644.8 1792.7L1650 1794L1655.1 1793.9L1658.8 1792.7Z" fill="#d51f10" fill-rule="evenodd"/>
<path d="M1642.4 1886.6L1604.4 1886.2L1556.2 1883.6L1518.2 1882.2L1505.5 1881.1L1495.4 1879.4L1485.3 1876.4L1475.1 1871.7L1465 1864.6L1462.5 1864.6L1462.5 1773.7L1465 1773.7L1478.8 1752.1L1485.3 1740.3L1490.3 1726.7L1498.9 1696.3L1503.2 1686.1L1508.1 1676.9L1515.5 1665.8L1523.3 1656.8L1530.9 1649.8L1538.5 1644.8L1546.1 1641.8L1553.7 1640.8L1561.3 1641.3L1571.4 1643.7L1576.5 1645.7L1581.6 1648.7L1593.8 1660.8L1599.3 1665.3L1604.4 1667.7L1606.9 1668.2L1612 1667.9L1624.7 1663.4L1629.7 1662.6L1634.8 1662.9L1662.7 1667.8L1682.9 1669.6L1700.7 1670L1748.8 1669.4L1779.2 1669.7L1880.6 1673.1L1893.3 1674L1905.9 1675.5L1916.1 1677.5L1926.2 1680.4L1936.4 1684.4L1944.4 1688.7L1951.6 1693.7L1957.3 1698.8L1963.7 1706.4L1969.3 1715.9L1971.8 1715.9L1971.8 1772L1969.3 1772L1962.6 1780L1954.1 1787.2L1946.5 1792.2L1938.9 1796.4L1928.8 1800.7L1918.6 1804L1908.5 1806.2L1898.3 1807.5L1880.6 1808.2L1827.4 1807.7L1804.6 1808.8L1789.4 1810.4L1779.2 1812L1769.1 1814.6L1761.9 1818.1L1759.8 1820.6L1760 1823.2L1762.2 1825.7L1766.6 1828.3L1774.2 1831.2L1797 1836.9L1822.3 1841.5L1842.6 1844L1860.3 1845.3L1931.3 1847.2L1945.2 1848.5L1954.1 1850.2L1964.2 1853.1L1969.3 1855.3L1971.8 1855.3L1971.8 1866.1L1969.3 1866.1L1961.6 1868.8L1949.4 1871.4L1926.2 1873.8L1903.4 1874.4L1845.1 1873L1812.2 1873.5L1776.7 1875.8L1703.2 1883.6L1672.8 1885.6L1642.4 1886.6ZM1653.2 1795.2L1657.6 1794.4L1661 1792.7L1662.1 1790.2L1660.3 1787.6L1655.1 1785.7L1650 1785.2L1644.9 1786.3L1642.3 1787.6L1641.2 1790.2L1642.8 1792.7L1647.5 1794.6L1653.2 1795.2Z" fill="#e42211" fill-rule="evenodd"/>
<path d="M1665.2 1884.1L1637.3 1884.9L1609.4 1884.5L1523.3 1879.6L1508.1 1878.2L1495.4 1875.8L1485.3 1872.5L1475.1 1867.3L1470.1 1863.7L1465 1859.2L1462.5 1859.2L1462.5 1781.3L1465 1781.3L1482.7 1753.7L1489.2 1742L1493.9 1729.3L1502 1698.8L1506 1688.7L1510.6 1679.7L1516.4 1670.9L1523.3 1662.5L1530.9 1655.4L1538.5 1650.3L1546.1 1647.1L1553.7 1645.8L1561.3 1645.9L1571.4 1647.8L1576.5 1649.4L1581.6 1652L1597.8 1665.8L1601.8 1668.2L1606.9 1669.6L1612 1669.4L1624.7 1665.6L1629.7 1665.1L1662.7 1670.5L1682.9 1672.2L1703.2 1672.6L1753.9 1672L1779.2 1672.4L1880.6 1676.4L1893.3 1677.3L1905.9 1679.1L1918.6 1681.9L1928.8 1685.3L1938.9 1690.2L1946.5 1695.2L1953.6 1701.4L1958 1706.4L1964.5 1716.6L1969.3 1728.3L1971.8 1728.3L1971.8 1763.3L1969.3 1763.3L1964.2 1772.4L1959.8 1777.5L1954.3 1782.6L1944 1789.7L1933.8 1794.8L1923.7 1798.7L1916.1 1800.8L1908.5 1802.5L1895.8 1804.2L1880.6 1805.1L1824.9 1806.1L1804.6 1807.4L1786.8 1809.3L1774.2 1811.5L1764 1814.4L1757.2 1818.1L1755.4 1820.6L1755.5 1823.2L1757.5 1825.7L1764 1829.7L1776.7 1834.1L1797 1839.1L1817.2 1842.8L1840.1 1845.6L1865.4 1847.2L1915.5 1848.5L1938.9 1850.8L1951 1853.6L1957.4 1856.1L1960.7 1858.7L1961.5 1861.2L1959.2 1863.9L1954.1 1866.3L1944.1 1868.8L1923.1 1871.4L1900.9 1872.1L1845.1 1871.6L1809.6 1872.4L1774.2 1874.9L1705.7 1881.7L1665.2 1884.1ZM1658.4 1795.2L1662.9 1792.7L1663.6 1790.2L1662 1787.6L1656.5 1785.1L1650 1784.5L1645.6 1785.1L1640.6 1787.6L1639.6 1790.2L1641 1792.7L1646.2 1795.2L1652.5 1796L1658.4 1795.2Z" fill="#f32612" fill-rule="evenodd"/>
<path d="M1680.4 1881.7L1644.9 1883.1L1612 1882.8L1584.1 1881.2L1513.1 1875.9L1497.9 1873.1L1485.5 1868.8L1475.1 1863L1469.8 1858.7L1465 1853.6L1462.5 1853.6L1462.5 1788.9L1465 1788.9L1471.8 1777.5L1486.7 1754.6L1492.9 1743.4L1497.9 1729.5L1504.9 1701.4L1508.7 1691.2L1512.4 1683.6L1517.1 1676L1523.3 1668L1528.4 1662.8L1536 1656.8L1543.6 1652.8L1551.2 1650.6L1561.3 1650L1571.4 1651.4L1576.5 1652.8L1581.6 1655L1599.2 1668.4L1601.8 1669.7L1606.9 1671L1612 1670.9L1624.7 1667.8L1629.7 1667.5L1660.1 1672.6L1682.9 1674.7L1703.2 1675L1751.4 1674.5L1776.7 1674.9L1875.5 1679.2L1898.3 1681.2L1908.5 1683L1918.6 1685.6L1928.8 1689.4L1936.4 1693.2L1944 1698.4L1949 1702.8L1954.5 1709L1959.2 1715.8L1964.3 1726.7L1967.4 1739.4L1967.9 1749.6L1966.2 1759.7L1962.9 1767.3L1956.6 1775.7L1952 1780L1946.5 1784.2L1936.4 1790.1L1928.8 1793.5L1918.6 1796.9L1908.5 1799.3L1898.3 1800.8L1880.6 1802.2L1819.8 1804.6L1797 1806.5L1779.2 1808.8L1766.6 1811.5L1759 1814L1755.7 1815.5L1752.3 1818.1L1750.8 1820.6L1750.9 1823.2L1752.6 1825.7L1755.8 1828.2L1760.5 1830.8L1771.6 1835L1791.9 1840.4L1814.7 1844.7L1837.5 1847.6L1862.9 1849.3L1911 1851L1928.8 1853L1941.3 1856.1L1945.6 1858.7L1946.3 1861.2L1943.4 1863.8L1935.5 1866.3L1916.1 1868.9L1893.3 1869.7L1842.6 1869.8L1817.2 1870.7L1784.3 1872.8L1715.9 1879.2L1680.4 1881.7ZM1661.1 1795.2L1664.5 1792.7L1665.1 1790.2L1663.5 1787.6L1657.6 1784.7L1650 1783.9L1644.9 1784.6L1642.4 1785.4L1639 1787.6L1638.1 1790.2L1639.9 1793.1L1643.6 1795.2L1647.5 1796.3L1655.1 1796.6L1661.1 1795.2Z" fill="#f82812" fill-rule="evenodd"/>
<path d="M1695.6 1879.1L1650 1881.3L1614.5 1881.2L1586.6 1879.6L1515.7 1873.4L1497.9 1869.9L1485.3 1865.1L1478.7 1861.2L1472.6 1856.4L1467.7 1851.1L1465 1847.4L1462.5 1847.4L1462.5 1797L1465 1797L1471.3 1785.1L1490.3 1755.8L1496.5 1744.5L1501.1 1731.8L1508.4 1701.4L1511.2 1693.7L1514.8 1686.1L1519.4 1678.5L1523.3 1673.3L1528.4 1667.7L1533.4 1663.3L1541 1658.3L1548.6 1655.3L1556.2 1653.9L1563.8 1653.9L1574 1655.3L1581.6 1657.9L1586.6 1660.9L1599.3 1669.9L1606.9 1672.4L1612 1672.4L1624.7 1669.9L1629.7 1669.8L1660.1 1675L1680.4 1676.9L1698.1 1677.4L1746.3 1676.9L1774.2 1677.3L1875.5 1682.3L1893.3 1683.8L1903.4 1685.3L1913.5 1687.7L1923.7 1691.2L1931.3 1694.7L1937.9 1698.8L1944.2 1703.9L1949.2 1709L1954.8 1716.6L1959.8 1726.7L1963.3 1739.4L1963.8 1749.6L1962.1 1759.7L1958.6 1767.3L1952.6 1774.9L1944 1782.1L1933.8 1788L1926.2 1791.3L1916.1 1794.6L1905.9 1796.9L1895.8 1798.4L1880.6 1799.7L1817.2 1803L1791.9 1805.4L1774.2 1808L1762.7 1810.5L1755 1813L1748.8 1816.6L1747.2 1818.1L1746 1820.6L1746.2 1823.2L1747.7 1825.7L1750.5 1828.2L1756.4 1831.8L1769.1 1836.8L1789.4 1842.4L1814.7 1847.2L1837.5 1850.3L1860.3 1852.2L1896.3 1853.6L1911 1855.1L1918 1856.1L1925.2 1858.7L1926 1861.2L1920.3 1863.8L1900.9 1866.2L1829.9 1868.2L1797 1870.5L1695.6 1879.1ZM1663.2 1795.2L1666.1 1792.7L1666.5 1790.2L1665 1787.6L1661 1785.1L1655.1 1783.6L1647.5 1783.4L1642.4 1784.6L1637.5 1787.6L1636.7 1790.2L1637.9 1792.7L1639.9 1794.2L1642.4 1795.6L1647.5 1797L1655.1 1797.4L1660.1 1796.4L1663.2 1795.2Z" fill="#fd2a13" fill-rule="evenodd"/>
<path d="M1667.7 1879.1L1634.8 1879.9L1604.4 1879.1L1533.4 1872.9L1510.6 1870L1495.4 1866L1487.8 1862.7L1482.7 1859.9L1477.6 1856.1L1472.3 1851.1L1468.4 1846L1465 1839.5L1462.5 1839.5L1462.5 1806.6L1465 1806.6L1468.5 1797.8L1473.8 1787.6L1493.6 1757.2L1500.4 1744.5L1504.7 1731.8L1509.1 1711.5L1511.8 1701.4L1514.7 1693.7L1518.2 1686.5L1523.3 1678.6L1528.4 1672.5L1533.4 1667.7L1541 1662.5L1546.1 1660.1L1553.7 1658L1558.8 1657.4L1566.4 1657.4L1574 1658.3L1581.6 1660.6L1586.6 1663.2L1599.3 1671.5L1606.9 1673.9L1612 1673.9L1622.1 1672.2L1627.2 1671.9L1632.3 1672.3L1660.1 1677.2L1680.4 1679.1L1698.1 1679.6L1748.8 1679.2L1776.7 1679.8L1875.5 1685.2L1895.8 1687.3L1905.9 1689.2L1916.1 1692L1923.7 1695L1931.3 1699L1938.3 1703.9L1943.8 1709L1949 1715.2L1953.1 1721.7L1957.4 1731.8L1959.6 1742L1959.6 1752.1L1958 1759.7L1954.4 1767.3L1947.9 1774.9L1941.4 1780.2L1931.3 1786.1L1916.1 1791.8L1905.9 1794.2L1895.8 1795.9L1880.6 1797.3L1814.7 1801.5L1789.4 1804L1769.1 1807L1756.4 1810L1748.6 1813L1743.8 1816.3L1742.1 1818.1L1741.1 1820.6L1741.4 1823.2L1742.8 1825.7L1748.6 1830.8L1756.4 1834.9L1769.1 1839.6L1786.8 1844.5L1812.2 1849.8L1840.1 1854.7L1867.1 1858.7L1866.8 1861.2L1822.3 1866.3L1742.3 1873.9L1703.2 1877.1L1667.7 1879.1ZM1657.7 1797.8L1665.2 1795.2L1667.5 1792.7L1667.8 1790.2L1666.4 1787.6L1662.8 1785.1L1655.1 1782.9L1647.5 1782.8L1639.9 1784.8L1636.1 1787.6L1635.4 1790.2L1636.5 1792.7L1639.9 1795.3L1647.5 1797.7L1652.5 1798.1L1657.7 1797.8Z" fill="#ff2f14" fill-rule="evenodd"/>
<path d="M1688 1876.5L1647.5 1878.3L1612 1877.9L1579 1875.5L1523.3 1869.4L1505.5 1866.1L1491.8 1861.2L1485.3 1857.7L1480.2 1854L1472.7 1846L1468.5 1838.4L1466.8 1833.3L1465.9 1828.2L1466 1818.1L1466.8 1813L1469.1 1805.4L1472.3 1797.8L1477.6 1787.6L1497.5 1757.2L1504.1 1744.5L1508.1 1732.3L1513.6 1706.4L1516 1698.8L1519.2 1691.2L1523.3 1684.1L1527.4 1678.5L1532 1673.4L1538.2 1668.4L1543.6 1665.1L1551.2 1662.1L1558.8 1660.7L1568.9 1660.6L1576.5 1661.7L1581.6 1663.1L1586.6 1665.5L1599.3 1673L1606.9 1675.3L1612 1675.4L1622.1 1674.1L1627.2 1674L1657.6 1679L1680.4 1681.3L1698.1 1681.8L1746.3 1681.4L1774.2 1682L1873 1688L1890.7 1689.7L1900.9 1691.4L1911 1693.9L1918.6 1696.6L1926.2 1700.3L1932 1703.9L1938.9 1709.5L1944 1715L1948.6 1721.7L1953.3 1731.8L1955.6 1742L1955.7 1752.1L1954.1 1759.7L1950.2 1767.3L1944 1774.3L1936.4 1780.1L1926.9 1785.1L1918.6 1788.3L1911 1790.5L1893.3 1793.9L1809.6 1800.2L1785.2 1802.9L1767.7 1805.4L1755.6 1807.9L1747.6 1810.5L1741.2 1813.7L1738.8 1815.5L1736.9 1818.1L1736.2 1820.6L1736.5 1823.2L1737.8 1825.7L1743 1830.8L1751.4 1835.7L1759 1839L1769.1 1842.5L1811.3 1853.6L1819.2 1856.1L1823.5 1858.7L1821.9 1861.2L1813.5 1863.8L1798.7 1866.3L1778.1 1868.8L1726 1873.8L1688 1876.5ZM1661.3 1797.8L1666.9 1795.2L1669 1792.7L1669.1 1790.2L1667.7 1787.6L1662.7 1784.4L1655.1 1782.3L1647.5 1782.2L1639.9 1784L1637.5 1785.1L1634.7 1787.6L1634 1790.2L1635.1 1792.7L1638 1795.2L1642.4 1797.2L1647.5 1798.4L1652.5 1798.8L1661.3 1797.8Z" fill="#ff3515" fill-rule="evenodd"/>
<path d="M1657.6 1876.5L1627.2 1876.9L1596.8 1875.5L1546.1 1870.1L1515.7 1865.7L1500.5 1861.7L1488.8 1856.1L1480.2 1849.4L1477.1 1846L1473.7 1840.9L1470.6 1833.3L1469.6 1828.2L1469.2 1823.2L1470.5 1813L1473.7 1802.9L1481.3 1787.6L1500.5 1758.4L1506.5 1747L1510.9 1734.3L1516.7 1706.4L1519.2 1698.8L1522.6 1691.2L1527.3 1683.6L1531.5 1678.5L1536.8 1673.4L1543.6 1668.9L1548.6 1666.5L1556.2 1664.3L1563.8 1663.5L1571.4 1663.7L1579 1664.9L1584.1 1666.5L1597 1673.4L1604.4 1676.3L1612 1676.9L1627.2 1676L1655.1 1680.7L1670.3 1682.6L1695.6 1683.9L1748.8 1683.6L1776.7 1684.4L1873 1690.9L1890.7 1692.8L1900.9 1694.6L1911 1697.4L1918.6 1700.4L1926.2 1704.4L1932.6 1709L1938.1 1714L1942.3 1719.1L1947 1726.7L1950.1 1734.3L1952 1744.5L1951.9 1752.1L1950.2 1759.7L1946 1767.3L1941.4 1772.5L1933.8 1778.4L1923.7 1783.7L1908.5 1788.7L1890.7 1792L1814.7 1798.2L1784.3 1801.4L1764 1804.2L1753.9 1806.2L1743.8 1809.2L1736.2 1812.9L1733.3 1815.5L1731.8 1818.1L1731.3 1820.6L1731.7 1823.2L1734.9 1828.2L1740.9 1833.3L1748.8 1837.8L1759 1842.1L1794.8 1853.6L1800.4 1856.1L1802.7 1858.7L1800.7 1861.2L1793.3 1863.8L1784.3 1865.5L1760.4 1868.8L1705.7 1873.8L1657.6 1876.5ZM1664.1 1797.8L1668.7 1795.2L1670.4 1792.7L1670.5 1790.2L1669 1787.6L1665.8 1785.1L1660.1 1782.8L1652.5 1781.6L1644.9 1782L1637.3 1784.4L1633.4 1787.6L1632.7 1790.2L1633.7 1792.7L1636.4 1795.2L1642 1797.8L1647.5 1799L1652.5 1799.4L1657.6 1799.2L1664.1 1797.8Z" fill="#ff3c16" fill-rule="evenodd"/>
<path d="M1680.4 1873.9L1642.4 1875.5L1609.4 1874.8L1579 1872.3L1530.9 1866L1510.6 1862L1497.9 1857.6L1492.9 1855L1487 1851.1L1479.5 1843.5L1475.3 1835.8L1473.7 1830.8L1473 1825.7L1473.5 1815.5L1476.3 1805.4L1479.5 1797.8L1484.9 1787.6L1503.3 1759.7L1510 1747L1514.1 1734.3L1519.7 1706.4L1524.6 1693.7L1531.1 1683.6L1536 1678.3L1541 1674.2L1546.5 1670.9L1553.7 1668.1L1561.3 1666.6L1571.4 1666.4L1579 1667.4L1584.1 1668.8L1599.1 1676L1604.4 1677.7L1609.4 1678.4L1627.2 1677.9L1655.1 1682.8L1670.3 1684.6L1695.6 1685.9L1746.3 1685.7L1774.2 1686.5L1885.7 1695.1L1895.8 1696.8L1905.9 1699.3L1913.5 1701.9L1921.2 1705.6L1928.8 1710.6L1933.8 1715L1938.9 1720.9L1942.7 1726.7L1946.5 1735.7L1948.2 1744.5L1948.1 1752.1L1946.3 1759.7L1941.9 1767.3L1937 1772.4L1930.1 1777.5L1919.9 1782.6L1905.9 1787L1885.7 1790.6L1803.2 1797.8L1761.2 1802.9L1748.2 1805.4L1739.4 1807.9L1733.6 1810.5L1728.6 1814.7L1726.8 1818.1L1726.5 1820.6L1727 1823.2L1730 1828.2L1733.6 1831.9L1739 1835.8L1748.8 1841.1L1780.8 1853.6L1785 1856.1L1786.2 1858.7L1783.5 1861.2L1775.9 1863.8L1771.6 1864.6L1746.3 1868.4L1715.5 1871.4L1680.4 1873.9ZM1666.5 1797.8L1670.4 1795.2L1671.9 1792.7L1671.8 1790.2L1670.3 1787.6L1667.2 1785.1L1661.4 1782.6L1652.5 1781.1L1644.9 1781.4L1637.3 1783.5L1634.4 1785.1L1632 1787.6L1631.4 1790.2L1632.3 1792.7L1634.9 1795.2L1642.4 1798.6L1647.5 1799.6L1655.1 1800L1660.1 1799.6L1666.5 1797.8Z" fill="#ff4617" fill-rule="evenodd"/>
<path d="M1647.5 1874L1619.6 1873.8L1591.7 1872.1L1553.7 1867.4L1520.8 1862L1505.5 1857.7L1495.4 1853L1490.3 1849.6L1486.2 1846L1482.7 1841.9L1480.2 1837.9L1477.5 1830.8L1476.6 1825.7L1476.5 1820.6L1477.6 1813L1480.9 1802.9L1488.5 1787.6L1506.9 1759.7L1512.2 1749.6L1516.6 1736.9L1522 1709L1524.4 1701.4L1527.9 1693.7L1532.9 1686.1L1537.5 1681.1L1543.6 1676.2L1548.6 1673.3L1553.7 1671.3L1561.3 1669.5L1574 1669.2L1584.1 1671L1599.3 1677.6L1604.4 1679.2L1609.4 1679.8L1627.2 1679.9L1652.5 1684.3L1670.3 1686.6L1693.1 1687.9L1748.8 1687.8L1776.7 1688.8L1870.5 1696.5L1885.7 1698.2L1903.4 1701.9L1911 1704.6L1918.6 1708.2L1926.2 1713.2L1931.3 1717.7L1936.4 1723.7L1939.8 1729.3L1942.9 1736.9L1944.4 1744.5L1944.3 1752.1L1942.4 1759.7L1937.7 1767.3L1932.5 1772.4L1924.8 1777.5L1916.1 1781.5L1900.9 1786L1883.1 1788.9L1789.4 1797.8L1756.4 1801.9L1738.7 1805.6L1732.1 1807.9L1726 1811.5L1722.7 1815.5L1721.9 1818.1L1721.8 1820.6L1723.5 1825.7L1726 1829.2L1731.1 1834.2L1738.7 1839.4L1768.3 1853.6L1771.3 1856.1L1771.6 1858.7L1768 1861.2L1759.5 1863.8L1751.4 1865.2L1723.8 1868.8L1682.9 1872.3L1647.5 1874ZM1660 1800.3L1665.2 1799.2L1668.8 1797.8L1672.1 1795.2L1673.3 1792.7L1673.1 1790.2L1671.6 1787.6L1668.6 1785.1L1665.2 1783.4L1660.1 1781.7L1655.1 1780.8L1644.9 1780.9L1637.3 1782.7L1632.9 1785.1L1630.7 1787.6L1630.1 1790.2L1630.9 1792.7L1633.3 1795.2L1637.9 1797.8L1647.5 1800.3L1655.1 1800.7L1660 1800.3Z" fill="#ff5219" fill-rule="evenodd"/>
<path d="M1672.8 1871.4L1637.3 1872.7L1606.9 1871.8L1574 1868.5L1536 1862.7L1517.2 1858.7L1502.8 1853.6L1495.4 1849.4L1491 1846L1484.6 1838.4L1481.2 1830.8L1480.1 1823.2L1480.7 1815.5L1483.4 1805.4L1486.6 1797.8L1492 1787.6L1508.8 1762.3L1515.5 1749.6L1519.6 1736.9L1524.9 1709L1529.8 1696.3L1532.8 1691.2L1536.7 1686.1L1541 1681.8L1545.5 1678.5L1551.2 1675.4L1558.8 1672.9L1566.4 1671.8L1574 1671.7L1584.1 1673.2L1599.3 1679.2L1604.4 1680.6L1609.4 1681.3L1627.2 1681.7L1652.5 1686.3L1670.3 1688.5L1693.1 1689.8L1746.3 1689.8L1774.2 1690.8L1797 1692.4L1880.6 1700.5L1890.7 1702.1L1900.9 1704.5L1908.5 1707.2L1916.1 1710.8L1921.3 1714L1927.5 1719.1L1932 1724.2L1936.4 1730.9L1938.9 1736.9L1940.6 1744.5L1940.5 1752.1L1939.5 1757.2L1937.3 1762.3L1933.5 1767.3L1927.8 1772.4L1921.2 1776.5L1913.5 1779.9L1905.9 1782.5L1888.2 1786.3L1870.5 1788.5L1764 1799.3L1741.2 1802.9L1728.6 1806.5L1721.3 1810.5L1718.4 1813.9L1717.1 1818.1L1717.2 1820.6L1719 1825.7L1723.5 1831.7L1731.1 1838.3L1756.9 1853.6L1758.7 1856.1L1757.9 1858.7L1753.2 1861.2L1746.3 1863.1L1728.6 1866.2L1705.3 1868.8L1672.8 1871.4ZM1664.3 1800.3L1671 1797.8L1673.9 1795.2L1674.8 1792.7L1674.5 1790.2L1672.9 1787.6L1670 1785.1L1665 1782.6L1655.1 1780.2L1644.9 1780.3L1635.8 1782.6L1631.4 1785.1L1629.3 1787.6L1628.7 1790.2L1629.5 1792.7L1631.8 1795.2L1637.3 1798.4L1642.4 1800L1650 1801.2L1657.6 1801.3L1664.3 1800.3Z" fill="#ff5e1b" fill-rule="evenodd"/>
<path d="M1685.5 1869L1652.5 1871L1622.1 1871.2L1594.2 1869.4L1563.8 1865.5L1530.9 1859.6L1513.1 1854.9L1505.5 1851.8L1499.6 1848.5L1493.1 1843.5L1488.8 1838.4L1485.1 1830.8L1483.8 1823.2L1484.2 1815.5L1486.9 1805.4L1490.1 1797.8L1495.4 1787.6L1512.3 1762.3L1517.7 1752.1L1521.9 1739.4L1527.1 1711.5L1531.7 1698.8L1534.6 1693.7L1538.3 1688.7L1546.1 1681.6L1551.4 1678.5L1558.8 1675.8L1566.4 1674.4L1576.5 1674.2L1586.6 1676.1L1604.4 1682.1L1609.4 1682.8L1627.2 1683.6L1652.5 1688.1L1670.3 1690.4L1693.1 1691.7L1746.3 1691.8L1774.2 1692.8L1799.5 1694.9L1878.1 1703.1L1895.8 1706.5L1903.4 1708.8L1911 1712L1918.6 1716.5L1923.7 1720.6L1928.8 1726.1L1932.6 1731.8L1935.7 1739.4L1936.9 1747L1936.3 1754.6L1934.6 1759.7L1931.5 1764.8L1926.2 1770L1918.6 1774.9L1908.5 1779.3L1895.8 1782.8L1878.1 1785.8L1769.1 1797.2L1745.2 1800.3L1728.6 1803.9L1723.8 1805.4L1718.6 1807.9L1715.5 1810.5L1713.6 1813L1712.7 1815.5L1712.8 1820.6L1714.7 1825.7L1718 1830.8L1722.8 1835.8L1728.6 1840.6L1743.8 1851.1L1746.3 1853.6L1747 1856.1L1745 1858.7L1741.2 1860.4L1728.4 1863.8L1711.4 1866.3L1685.5 1869ZM1667.9 1800.3L1673.3 1797.8L1675.7 1795.2L1676.4 1792.7L1675.9 1790.2L1674.3 1787.6L1671.4 1785.1L1666.6 1782.6L1662.7 1781.2L1652.5 1779.5L1642.4 1780.1L1633.9 1782.6L1629.9 1785.1L1627.8 1787.6L1627.3 1790.2L1628.1 1792.7L1630.3 1795.2L1634.2 1797.8L1639.9 1800L1647.5 1801.6L1655.1 1802.1L1662.7 1801.5L1667.9 1800.3Z" fill="#ff6a1d" fill-rule="evenodd"/>
<path d="M1665.2 1869L1634.8 1870L1606.9 1869.1L1579 1866.2L1546.1 1860.7L1525.6 1856.1L1510.6 1851.1L1503 1847.1L1498 1843.5L1495.3 1840.9L1491.4 1835.8L1488.3 1828.2L1487.4 1820.6L1488.3 1813L1491.4 1802.9L1498.9 1787.6L1515.7 1762.3L1520.9 1752.1L1524.9 1739.4L1529.3 1714L1533.6 1701.4L1536.3 1696.3L1539.9 1691.2L1543.6 1687.4L1548.6 1683.4L1553.7 1680.6L1561.3 1678L1568.9 1676.7L1579 1676.8L1586.6 1678.1L1604.4 1683.6L1627.2 1685.4L1652.5 1689.9L1670.3 1692.2L1693.1 1693.5L1746.3 1693.8L1774.2 1694.9L1799.5 1697.1L1875.5 1705.8L1885.7 1707.4L1895.8 1709.8L1903.4 1712.4L1911 1715.9L1916.1 1719.1L1922.1 1724.2L1926.5 1729.3L1929.6 1734.3L1931.6 1739.4L1933 1747L1932.3 1754.6L1930.6 1759.7L1927.2 1764.8L1921.7 1769.9L1913.5 1774.7L1905.9 1777.8L1890.7 1781.9L1873 1784.7L1743.8 1798.9L1726 1802.2L1716.6 1805.4L1712.4 1807.9L1709.8 1810.5L1708.5 1813L1708 1818.1L1709.3 1823.2L1713.3 1830.4L1717.9 1835.8L1735 1851.1L1736.5 1853.6L1736.1 1856.1L1732.9 1858.7L1728.6 1860.3L1713.8 1863.8L1693.1 1866.6L1665.2 1869ZM1671.2 1800.3L1675.7 1797.8L1677.6 1795.2L1678.1 1792.7L1677.4 1790.2L1675.6 1787.6L1672.7 1785.1L1668.2 1782.6L1662.7 1780.6L1652.5 1779L1644.9 1779.2L1639.9 1780L1632.1 1782.6L1628.3 1785.1L1626.3 1787.6L1625.8 1790.2L1626.6 1792.7L1628.6 1795.2L1632.4 1797.8L1639.9 1800.7L1647.5 1802.3L1657.6 1802.7L1665.2 1802L1671.2 1800.3Z" fill="#fe771e" fill-rule="evenodd"/>
<path d="M1677.9 1866.4L1650 1868.3L1622.1 1868.5L1596.8 1866.9L1568.9 1863.1L1538.5 1857.1L1518.2 1851.4L1511.6 1848.5L1505.5 1845.1L1500.1 1840.9L1495.8 1835.8L1493 1830.8L1491.2 1823.2L1491.4 1815.5L1493.9 1805.4L1497 1797.8L1502.3 1787.6L1517.7 1764.8L1521.9 1757.2L1525 1749.6L1527.1 1742L1531.5 1716.6L1534.4 1706.4L1538 1698.8L1541 1694.4L1543.7 1691.2L1548.6 1686.9L1554 1683.6L1561.3 1680.7L1568.9 1679.3L1579 1679L1586.6 1680.1L1604.4 1685.1L1624.7 1686.9L1650 1691.3L1667.8 1693.7L1693.1 1695.3L1746.3 1695.7L1774.2 1696.9L1799.5 1699.3L1867.9 1707.7L1889.8 1711.5L1898.3 1714L1904.6 1716.6L1911 1720.1L1916.6 1724.2L1921.6 1729.3L1925.1 1734.3L1927.4 1739.4L1929 1747L1928.3 1754.6L1926.5 1759.7L1922.8 1764.8L1916.7 1769.9L1908.5 1774.3L1900.9 1777.1L1888.2 1780.4L1867.9 1783.7L1738.7 1798L1721 1801.3L1715.4 1802.9L1709.6 1805.4L1706.2 1807.9L1704.4 1810.5L1703.5 1813L1703.5 1818.1L1705.1 1823.2L1707.7 1828.2L1711.2 1833.3L1725.3 1848.5L1726.9 1851.1L1727.3 1853.6L1725.8 1856.1L1721.5 1858.7L1713.3 1861.2L1699.9 1863.8L1677.9 1866.4ZM1665.4 1802.9L1670.3 1801.9L1674.7 1800.3L1678.3 1797.8L1679.8 1795.2L1679.9 1792.7L1679 1790.2L1677.1 1787.6L1674.2 1785.1L1667.7 1781.7L1662.6 1780L1655.1 1778.7L1647.5 1778.5L1642.4 1779L1637.1 1780L1630.3 1782.6L1626.6 1785.1L1624.8 1787.6L1624.2 1790.2L1625 1792.7L1627 1795.2L1630.5 1797.8L1636.2 1800.3L1642.4 1802.1L1650 1803.2L1657.6 1803.5L1665.4 1802.9Z" fill="#fd8420" fill-rule="evenodd"/>
<path d="M1660.1 1866.4L1632.3 1867.3L1606.9 1866.4L1581.6 1863.5L1554.3 1858.7L1532.9 1853.6L1518.1 1848.5L1510.6 1844.8L1505.5 1841.2L1502.4 1838.4L1498.5 1833.3L1496.2 1828.2L1494.9 1820.6L1495.5 1813L1498.4 1802.9L1501.7 1795.2L1505.5 1788.1L1521.2 1764.8L1526.3 1754.6L1530.5 1739.4L1534.2 1716.6L1536.4 1709L1538.5 1703.9L1541.3 1698.8L1545.3 1693.7L1548.6 1690.5L1553.7 1686.9L1558.8 1684.4L1566.4 1682.2L1574 1681.3L1581.6 1681.4L1589.2 1682.7L1604.4 1686.7L1624.7 1688.6L1652.5 1693.5L1667.7 1695.5L1693.1 1697.1L1746.3 1697.5L1774.2 1698.9L1802 1701.7L1865.4 1710.2L1886.9 1714L1895.5 1716.6L1901.8 1719.1L1908.5 1722.8L1913.8 1726.7L1918.6 1731.8L1921.9 1736.9L1924 1742L1924.9 1749.6L1923.4 1757.2L1921.2 1761.4L1918.3 1764.8L1911.5 1769.9L1903.4 1773.8L1895.8 1776.4L1880.3 1780L1857.8 1783.4L1809.6 1789.2L1729 1797.8L1715.5 1800.3L1705.7 1803.5L1702.4 1805.4L1700 1807.9L1698.9 1810.5L1698.5 1813L1699.2 1818.1L1701 1823.2L1705.2 1830.8L1718.4 1848.5L1719.2 1851.1L1718.7 1853.6L1716.2 1856.1L1713.3 1857.6L1701.3 1861.2L1682.9 1864.2L1660.1 1866.4ZM1671.6 1802.9L1677.9 1800.7L1680.4 1798.9L1681.4 1797.8L1682.2 1795.2L1681.9 1792.7L1678.6 1787.6L1675.6 1785.1L1671.3 1782.6L1665.2 1780.2L1660.1 1778.9L1652.5 1778L1639.9 1778.8L1634.6 1780L1628.4 1782.6L1624.9 1785.1L1623 1787.6L1622.5 1790.2L1623.2 1792.7L1625.2 1795.2L1629.7 1798.4L1637.3 1801.5L1644.9 1803.3L1655.1 1804.3L1662.7 1804.2L1671.6 1802.9Z" fill="#fc9122" fill-rule="evenodd"/>
<path d="M1670.3 1864L1644.9 1865.7L1619.6 1865.7L1596.8 1864.1L1571.4 1860.4L1543.6 1854.3L1524.9 1848.5L1518.2 1845.6L1510.6 1841.1L1507.3 1838.4L1503 1833.3L1500.4 1828.2L1498.8 1820.6L1499.2 1813L1502 1802.9L1508.1 1789.8L1523.3 1767.3L1528.6 1757.2L1530.9 1750.3L1532.8 1742L1536.9 1716.6L1540.3 1706.4L1543 1701.4L1546.1 1697.1L1549.2 1693.7L1553.7 1690.2L1558.8 1687.4L1566.4 1684.8L1574 1683.6L1581.6 1683.6L1589.2 1684.6L1604.4 1688.2L1624.7 1690.4L1652.5 1695.3L1670.3 1697.5L1695.6 1699L1759 1699.9L1781.8 1701.5L1804.6 1704.2L1870.5 1713.9L1880.6 1715.8L1890.7 1718.5L1898.9 1721.7L1907.7 1726.7L1913.5 1732L1918.5 1739.4L1920.2 1744.5L1920.7 1749.6L1919.9 1754.6L1917.8 1759.7L1913.5 1764.8L1908.5 1768.4L1900.9 1772.2L1893.2 1774.9L1873 1779.5L1840.1 1784.2L1799.5 1789.1L1723.5 1796.9L1705.2 1800.3L1697.5 1802.9L1694.3 1805.4L1693.4 1807.9L1694.2 1815.5L1695.9 1820.6L1699.6 1828.2L1710.9 1846L1711.8 1848.5L1711.9 1851.1L1710.5 1853.6L1707.1 1856.1L1700.5 1858.7L1689.7 1861.2L1670.3 1864ZM1679 1802.9L1684.2 1800.3L1685.3 1797.8L1685.1 1795.2L1684.2 1792.7L1680.2 1787.6L1677.2 1785.1L1672.8 1782.5L1665.2 1779.6L1660.1 1778.4L1652.5 1777.5L1639.9 1778.2L1632.2 1780L1626.4 1782.6L1623 1785.1L1621.1 1787.6L1620.6 1790.2L1621.4 1792.7L1623.3 1795.2L1629.7 1799.5L1637.3 1802.3L1647.5 1804.4L1657.6 1805.1L1670.3 1804.5L1679 1802.9Z" fill="#fb9e24" fill-rule="evenodd"/>
<path d="M1655.1 1863.8L1632.3 1864.6L1608.2 1863.8L1585.7 1861.2L1561.3 1856.7L1539.5 1851.1L1523.3 1845L1515.9 1840.9L1512.5 1838.4L1509.8 1835.8L1505.9 1830.8L1503.7 1825.7L1502.6 1818.1L1503.5 1810.5L1505.6 1802.9L1511.6 1790.2L1527.2 1767.3L1531.1 1759.7L1534.6 1747L1539 1719.1L1541.2 1711.5L1543.3 1706.4L1548.6 1698.4L1553.5 1693.7L1557.3 1691.2L1562.7 1688.7L1568.9 1686.8L1576.5 1685.8L1584.1 1685.9L1604.4 1689.8L1624.7 1692.1L1652.5 1697L1670.3 1699.2L1695.6 1700.7L1756.4 1701.6L1776.7 1703L1799.5 1705.6L1865.4 1715.9L1885.7 1720.4L1895.8 1724.1L1903.4 1728.4L1910.1 1734.3L1913.7 1739.4L1916.1 1747L1915.5 1754.6L1913.2 1759.7L1911.2 1762.3L1905.9 1766.6L1898.3 1770.6L1885.7 1774.9L1873 1777.7L1852.7 1781L1799.5 1787.9L1728.6 1794.7L1698.1 1798.4L1693.1 1798L1690.5 1796.8L1684.7 1790.2L1678.8 1785.1L1670.3 1780.7L1662.7 1778.4L1655.1 1777.2L1644.9 1777L1634.8 1778.6L1627.2 1781.1L1620.8 1785.1L1619 1787.6L1618.5 1790.2L1619.3 1792.7L1621.2 1795.2L1624.5 1797.8L1629.2 1800.3L1637.3 1803.2L1647.5 1805.2L1660.1 1806.2L1680.4 1805.9L1682.9 1806.4L1685.5 1807.8L1687.4 1810.5L1693 1823.2L1703 1840.9L1705.2 1846L1705.5 1848.5L1704.9 1851.1L1703.2 1853L1698.2 1856.1L1695.6 1857.1L1690.5 1858.7L1677.9 1861.2L1655.1 1863.8Z" fill="#faaa25" fill-rule="evenodd"/>
<path d="M1662.7 1861.5L1639.9 1863.1L1617.1 1862.9L1594.2 1861L1571.4 1857.2L1546.7 1851.1L1530.9 1845.6L1523.3 1841.9L1517.9 1838.4L1513.1 1834.1L1510.5 1830.8L1508 1825.7L1506.7 1818.1L1507.3 1810.5L1509.4 1802.9L1515.4 1790.2L1529.7 1769.9L1533.7 1762.3L1535.5 1757.2L1537.2 1749.6L1541.2 1721.7L1543.1 1714L1545.1 1709L1548 1703.9L1551.2 1699.8L1558.4 1693.7L1563.8 1691L1571.4 1688.8L1576.5 1688.1L1584.1 1688L1606.9 1691.8L1624.7 1693.8L1653.5 1698.8L1672.8 1701.1L1695.6 1702.4L1753.9 1703.3L1776.7 1705L1797 1707.3L1862.9 1718.4L1883.1 1723.1L1892.8 1726.7L1900.9 1731.5L1906.6 1736.9L1909.8 1742L1911 1745.6L1911.5 1749.6L1911 1753.6L1909.8 1757.2L1906.1 1762.3L1898.3 1767.7L1888.2 1771.8L1875.5 1775.2L1855.3 1779L1824.9 1783.5L1779.2 1788.9L1700.7 1795.5L1693.1 1794.2L1688 1791L1680.5 1785.1L1676.2 1782.6L1667.7 1779.1L1660.1 1777.3L1652.5 1776.5L1642.4 1776.7L1632.3 1778.4L1624.7 1781.1L1618.4 1785.1L1616.6 1787.6L1616.1 1790.2L1616.9 1792.7L1618.9 1795.2L1622.1 1797.8L1626.8 1800.3L1637.3 1804.1L1652.5 1806.7L1673.2 1807.9L1677.9 1809L1680.4 1810.2L1682.9 1812.5L1685 1815.5L1697.1 1838.4L1699.2 1843.5L1699.6 1846L1699.4 1848.5L1698.1 1851.1L1695.1 1853.6L1689.6 1856.1L1680.5 1858.7L1662.7 1861.5Z" fill="#f8b727" fill-rule="evenodd"/>
<path d="M1647.5 1861.3L1624.7 1861.8L1604.4 1860.7L1584.1 1858L1563.2 1853.6L1543.6 1847.8L1528.4 1841.4L1520.1 1835.8L1517.5 1833.3L1513.8 1828.2L1511.7 1823.2L1510.9 1818.1L1511 1813L1512.6 1805.4L1515.4 1797.8L1518.2 1792.4L1523 1785.1L1532.6 1772.4L1536.8 1764.8L1539.5 1754.6L1542.9 1726.7L1546 1714L1549.6 1706.4L1553.5 1701.4L1558.8 1696.8L1563.8 1693.9L1574 1690.8L1579 1690.2L1586.6 1690.2L1606.9 1693.4L1624.7 1695.5L1655.1 1700.7L1672.8 1702.8L1695.6 1704.1L1753.9 1705.1L1774.2 1706.6L1794.4 1709L1851.9 1719.1L1878.1 1725L1888.2 1728.7L1894.2 1731.8L1900.6 1736.9L1904.4 1742L1905.9 1745.9L1906.5 1749.6L1905.9 1753.9L1904.8 1757.2L1900.7 1762.3L1892.8 1767.3L1880.6 1771.8L1867.9 1774.9L1847.7 1778.7L1819.8 1782.9L1771.6 1788.4L1703.2 1793.4L1698.1 1793L1693.1 1791.6L1675.3 1781.3L1667.7 1778.5L1660.1 1776.7L1650 1775.8L1639.9 1776.3L1629.7 1778.3L1622.1 1781L1615.4 1785.1L1613.5 1787.6L1613 1790.2L1613.9 1792.7L1616 1795.2L1624 1800.3L1634.8 1804.3L1647.5 1807L1670.3 1809.7L1675.3 1811.4L1677.9 1813L1680.3 1815.5L1682.9 1819.4L1690.5 1833.3L1693.6 1840.9L1694.2 1846L1693.4 1848.5L1691.4 1851.1L1687.5 1853.6L1680.9 1856.1L1670.3 1858.6L1647.5 1861.3Z" fill="#f7c229" fill-rule="evenodd"/>
<path d="M1657.6 1858.7L1637.3 1860.3L1614.5 1860.1L1594.2 1858.1L1574 1854.4L1552.3 1848.5L1538.5 1843.3L1530.9 1839.4L1525.6 1835.8L1522.7 1833.3L1518.6 1828.2L1516.3 1823.2L1515.2 1815.5L1515.6 1810.5L1517.6 1802.9L1519.8 1797.8L1523.3 1791.5L1536.2 1774.9L1540.4 1767.3L1542.6 1757.2L1545.6 1726.7L1547.1 1719.1L1548.8 1714L1551.3 1709L1555 1703.9L1558.8 1700.2L1563.8 1696.9L1568.9 1694.7L1574 1693.3L1579 1692.5L1586.6 1692.3L1622.1 1696.8L1655.1 1702.4L1672.8 1704.5L1695.6 1705.8L1753.9 1706.9L1774.2 1708.5L1791.9 1710.6L1812.2 1713.9L1838.7 1719.1L1862.5 1724.2L1875.5 1727.7L1883.1 1730.5L1890.7 1734.6L1896.5 1739.4L1899.9 1744.5L1900.9 1747.9L1901 1752.1L1899.3 1757.2L1897.6 1759.7L1894.9 1762.3L1886 1767.3L1875.5 1771L1859.1 1774.9L1835 1779.3L1809.6 1783.1L1761.5 1788.2L1705.7 1791.6L1700.7 1791.4L1695.6 1790.4L1690.5 1788.5L1679.9 1782.6L1672.8 1779.5L1662.7 1776.6L1655.1 1775.6L1644.9 1775.3L1634.8 1776.4L1624.7 1778.8L1615.4 1782.6L1611.4 1785.1L1609.2 1787.6L1608.7 1790.2L1609.9 1792.7L1612.4 1795.2L1616.1 1797.8L1624.7 1801.9L1634.8 1805.3L1644.9 1807.5L1664.5 1810.5L1670.3 1812.2L1675.5 1815.5L1679.6 1820.6L1682.6 1825.7L1686.5 1833.3L1689 1840.9L1688.8 1846L1687.4 1848.5L1684.7 1851.1L1677.9 1854.3L1670.3 1856.5L1657.6 1858.7Z" fill="#f7cd2a" fill-rule="evenodd"/>
<path d="M1639.9 1858.7L1622.1 1859L1604.4 1857.8L1586.6 1855.3L1567.6 1851.1L1551.5 1846L1536 1838.9L1528.2 1833.3L1525.7 1830.8L1522.2 1825.7L1520.4 1820.6L1519.9 1813L1520.8 1807.7L1523.3 1800.4L1526 1795.2L1529.6 1790.2L1542.9 1774.9L1545.2 1769.9L1546.3 1762.3L1546.4 1747L1547.5 1731.8L1548.7 1724.2L1550.8 1716.6L1554.6 1709L1558.8 1704L1563.8 1700L1568.9 1697.4L1579 1694.8L1589.2 1694.4L1622.1 1698.5L1652.5 1703.7L1672.8 1706.1L1695.6 1707.4L1751.4 1708.5L1771.6 1710L1789.4 1712.2L1827.2 1719.1L1852.7 1724.8L1869.3 1729.3L1878.1 1732.5L1885.7 1736.4L1889.6 1739.4L1893.7 1744.5L1895.3 1749.6L1894.7 1754.6L1893.5 1757.2L1891.6 1759.7L1888.7 1762.3L1880.6 1766.6L1871.5 1769.9L1852.7 1774.5L1809.6 1781.9L1786.8 1784.7L1759 1787.3L1726 1789.3L1705.7 1789.9L1698.1 1789.2L1693.1 1787.8L1676.2 1780L1667.7 1777.2L1657.6 1775.3L1647.5 1774.7L1637.3 1775.3L1625.6 1777.5L1616.9 1780L1604.4 1785.1L1600.7 1787.6L1600.5 1790.2L1603 1792.7L1607 1795.2L1617.1 1800.3L1627.2 1804.2L1634.8 1806.4L1662.7 1812.1L1665.8 1813L1670.3 1815.4L1675.4 1820.6L1681.4 1830.8L1684.1 1838.4L1684.3 1843.5L1683.4 1846L1681.5 1848.5L1678 1851.1L1672.1 1853.6L1662.1 1856.1L1639.9 1858.7Z" fill="#f6d82c" fill-rule="evenodd"/>
<path d="M1650 1856.2L1632.3 1857.5L1612 1857L1594.2 1855L1574.6 1851.1L1557.9 1846L1543.6 1839.7L1533.8 1833.3L1530.9 1830.4L1527.5 1825.7L1525.5 1820.6L1524.9 1813L1525.8 1807.9L1528.4 1801.2L1530.9 1797L1536 1791L1541 1786.7L1550.5 1780L1552.4 1777.5L1552.8 1772.4L1550.2 1757.2L1549.4 1747L1550.9 1726.7L1552.8 1719.1L1556.3 1711.5L1561.3 1705.4L1566.9 1701.4L1572.5 1698.8L1579 1697.1L1584.1 1696.5L1591.7 1696.6L1619.6 1699.9L1652.5 1705.4L1672.8 1707.7L1695.6 1709.1L1751.4 1710.2L1769.1 1711.6L1786.8 1713.7L1807.1 1717.2L1828.1 1721.7L1849 1726.7L1865.4 1731.5L1875.5 1735.6L1881.9 1739.4L1885.7 1742.9L1888.3 1747L1889 1749.6L1888.5 1754.6L1887.3 1757.2L1885.3 1759.7L1878.1 1764.5L1871.5 1767.3L1860.3 1770.8L1842.4 1774.9L1817.2 1779.5L1794.4 1782.7L1748.8 1786.9L1721 1788.2L1705.7 1788.4L1698.1 1787.5L1693.1 1786.3L1678.3 1780L1667.7 1776.5L1657.6 1774.7L1647.5 1774.1L1639.9 1774.4L1629.7 1775.7L1601.8 1781.3L1584.1 1781.6L1576.5 1782.3L1574 1783.2L1572 1785.1L1573.1 1787.6L1576.3 1790.2L1582.2 1792.7L1601.8 1797.2L1632.3 1806.9L1659.3 1813L1665.2 1815.5L1668.7 1818.1L1673.1 1823.2L1677.4 1830.8L1679.7 1838.4L1679.3 1843.5L1677.9 1846L1675.4 1848.5L1671 1851.1L1662.7 1853.8L1650 1856.2Z" fill="#f5e22d" fill-rule="evenodd"/>
<path d="M1756.4 1785.3L1718.4 1787L1700.7 1786.4L1690.5 1784L1670.3 1776.5L1660.1 1774.4L1652.5 1773.6L1637.3 1773.8L1612 1777.5L1604.4 1778.1L1586.6 1776.7L1568.9 1773.6L1563.8 1771.5L1559.1 1767.3L1556.2 1762.8L1554.1 1757.2L1552.6 1749.6L1552.3 1742L1553.2 1729.3L1554.8 1721.7L1556.7 1716.6L1559.7 1711.5L1561.8 1709L1566.4 1704.9L1571.4 1702L1576.5 1700.2L1586.6 1698.6L1596.8 1698.9L1617.1 1701.3L1652.5 1707L1675.3 1709.6L1698.1 1710.8L1741.2 1711.5L1761.5 1712.7L1781.8 1714.9L1802 1718.2L1827.4 1723.8L1850.2 1730L1863.1 1734.3L1873.5 1739.4L1879.6 1744.5L1882.1 1749.6L1881.9 1754.6L1880.7 1757.2L1878.6 1759.7L1875.2 1762.3L1870.4 1764.8L1855.9 1769.9L1834.8 1774.9L1809.6 1779.4L1784.3 1782.8L1756.4 1785.3ZM1652.5 1853.9L1642.4 1855.2L1629.7 1856L1606.9 1855.1L1595.1 1853.6L1582 1851.1L1572.3 1848.5L1561.3 1844.9L1552 1840.9L1543.6 1836.2L1539.7 1833.3L1534.7 1828.2L1531.8 1823.2L1530.5 1818.1L1530.5 1813L1531.7 1807.9L1533.4 1804.1L1535.9 1800.3L1541 1795.5L1546.1 1792.9L1553.7 1791.8L1558.8 1792.6L1578.5 1797.8L1606.9 1801.5L1652.8 1813L1657.6 1814.7L1663.9 1818.1L1666.7 1820.6L1670.7 1825.7L1674.4 1833.3L1675.3 1838.4L1675.1 1840.9L1674.2 1843.5L1672.3 1846L1669.1 1848.5L1662.7 1851.4L1652.5 1853.9Z" fill="#f5ea2e" fill-rule="evenodd"/>
<path d="M1738.7 1785.1L1713.3 1785.7L1700.7 1785L1693.1 1783.4L1670.3 1775.8L1655.1 1773.2L1639.9 1772.9L1614.5 1775.5L1604.4 1775.6L1589.2 1773.7L1574 1770.2L1568.9 1768.2L1563.8 1764.8L1559.6 1759.7L1557.2 1754.6L1555.4 1747L1555.2 1739.4L1555.9 1729.3L1557.7 1721.7L1561.4 1714L1565.8 1709L1568.9 1706.5L1574 1703.8L1579 1702L1589.2 1700.6L1599.3 1701L1614.5 1702.7L1655.1 1709L1675.3 1711.2L1695.6 1712.3L1741.2 1713.2L1761.5 1714.4L1781.8 1716.7L1799.5 1719.7L1819.5 1724.2L1840.1 1729.9L1853.5 1734.3L1864.8 1739.4L1871.7 1744.5L1873.7 1747L1874.9 1749.6L1875.3 1752.1L1874.9 1754.6L1873.7 1757.2L1871.6 1759.7L1868.1 1762.3L1856.6 1767.3L1842.6 1771.4L1819.8 1776.4L1794.4 1780.4L1766.6 1783.4L1738.7 1785.1ZM1639.9 1853.7L1622.1 1854.4L1601.8 1852.9L1581.6 1849.1L1563.9 1843.5L1558.1 1840.9L1549.1 1835.8L1545.7 1833.3L1540.7 1828.2L1539 1825.7L1537 1820.6L1536.7 1815.5L1537.9 1810.5L1541.1 1805.4L1546.1 1801.7L1551.2 1800.1L1558.8 1799.9L1579 1802.1L1599.3 1803.3L1609.4 1804.5L1646.3 1813L1654 1815.5L1658.8 1818.1L1662.1 1820.6L1666.5 1825.7L1670.2 1833.3L1670.8 1838.4L1670.3 1840.9L1668.9 1843.5L1666.5 1846L1662.3 1848.5L1652.5 1851.7L1639.9 1853.7Z" fill="#f4f22f" fill-rule="evenodd"/>
<path d="M1761.5 1782.7L1731.1 1784.2L1705.7 1784.1L1693.1 1782.1L1672.8 1775.7L1660.1 1773.1L1642.4 1772.1L1617.1 1773.7L1606.9 1773.6L1594.2 1771.9L1581.6 1769L1574 1766.4L1568.9 1763.6L1564.4 1759.7L1561 1754.6L1559.1 1749.6L1558 1742L1558.4 1731.8L1559.9 1724.2L1561.8 1719.1L1563.8 1715.7L1567.3 1711.5L1570.3 1709L1574 1706.7L1579 1704.6L1589.2 1702.8L1596.8 1702.8L1612 1704.2L1655.1 1710.7L1675.3 1712.9L1693.1 1713.9L1736.2 1714.7L1756.4 1715.7L1774.2 1717.5L1791.9 1720.3L1810.5 1724.2L1829.3 1729.3L1844.5 1734.3L1856.1 1739.4L1863.7 1744.5L1866 1747L1867.4 1749.6L1868 1752.1L1867.7 1754.6L1866.7 1757.2L1864.5 1759.7L1861 1762.3L1856 1764.8L1845.1 1768.7L1829.9 1772.8L1806.4 1777.5L1784.3 1780.5L1761.5 1782.7ZM1644.9 1851.1L1627.2 1852.7L1606.9 1851.9L1586.9 1848.5L1571.4 1843.8L1559.4 1838.4L1555.3 1835.8L1549.1 1830.8L1547 1828.2L1544.4 1823.2L1543.8 1818.1L1544.3 1815.5L1545.5 1813L1547.6 1810.5L1551.4 1807.9L1558.8 1806.1L1566.4 1805.7L1596.8 1806.1L1609.4 1806.9L1629.1 1810.5L1647.9 1815.5L1653.5 1818.1L1657.3 1820.6L1662.2 1825.7L1665 1830.8L1665.8 1833.3L1666.1 1838.4L1665.2 1840.9L1663.4 1843.5L1660.3 1846L1654.9 1848.5L1644.9 1851.1Z" fill="#f4f930" fill-rule="evenodd"/>
<path d="M1743.8 1782.7L1718.4 1783.1L1703.2 1782.5L1693.1 1780.8L1670.3 1774.3L1657.6 1772.1L1644.9 1771.3L1619.6 1772.2L1609.4 1771.9L1596.8 1770L1584.1 1766.9L1576.5 1764.1L1571.4 1761.2L1566.9 1757.2L1563.5 1752.1L1561.7 1747L1560.9 1739.4L1561.2 1731.8L1562.9 1724.2L1566.8 1716.6L1568.9 1714L1574 1709.9L1581.6 1706.5L1591.7 1704.9L1601.8 1705L1614.5 1706.2L1655.1 1712.4L1675.3 1714.5L1695.6 1715.6L1741.2 1716.5L1761.5 1717.9L1779.2 1720L1797 1723.2L1812.2 1726.8L1829 1731.8L1842.5 1736.9L1852.3 1742L1858.4 1747L1860 1749.6L1860.7 1752.1L1860.6 1754.6L1859.6 1757.2L1857.6 1759.7L1854.1 1762.3L1842.6 1767.3L1829.9 1771.1L1813.1 1774.9L1791.9 1778.4L1769.1 1781L1743.8 1782.7ZM1644.9 1848.8L1629.7 1850.8L1612 1850.6L1596 1848.5L1579 1844.1L1565.7 1838.4L1561.6 1835.8L1555.6 1830.8L1553.6 1828.2L1551.6 1823.2L1551.6 1820.6L1552.4 1818.1L1554.2 1815.5L1556.2 1813.9L1558.8 1812.6L1563.8 1811L1574 1809.7L1589.2 1809L1604.4 1808.9L1614.5 1809.8L1629.7 1812.5L1641.3 1815.5L1647.7 1818.1L1652.1 1820.6L1655.3 1823.2L1659.3 1828.2L1661.3 1833.3L1661.1 1838.4L1659.9 1840.9L1657.5 1843.5L1653.3 1846L1644.9 1848.8Z" fill="#f4fa31" fill-rule="evenodd"/>
<path d="M1766.6 1780.1L1736.2 1781.8L1705.7 1781.4L1693.1 1779.6L1672.8 1774.1L1660.1 1771.7L1644.9 1770.5L1614.5 1770.5L1604.4 1769.3L1591.7 1766.6L1584.1 1764.2L1576.5 1760.8L1571.4 1757.1L1567.2 1752.1L1564.9 1747L1564 1742L1563.9 1734.3L1565.2 1726.7L1568.9 1718.7L1573.2 1714L1576.5 1711.6L1584.1 1708.4L1594.2 1706.9L1601.8 1707L1614.5 1708.1L1655.1 1714L1675.3 1716.2L1695.6 1717.2L1738.7 1718.1L1756.4 1719.1L1774.2 1721.1L1789.4 1723.6L1804.6 1727L1821.2 1731.8L1834.7 1736.9L1844.7 1742L1850.9 1747L1852.7 1749.6L1853.6 1752.1L1853.6 1754.6L1852.8 1757.2L1850.8 1759.7L1847.4 1762.3L1842.5 1764.8L1836.1 1767.3L1819.8 1772L1806 1774.9L1786.8 1777.9L1766.6 1780.1ZM1632.3 1848.5L1619.6 1849.1L1604.4 1847.9L1591.7 1845.5L1577.5 1840.9L1568 1835.8L1562.3 1830.8L1559.7 1825.7L1559.7 1823.2L1560.6 1820.6L1563.8 1817.5L1567.8 1815.5L1571.4 1814.5L1581.6 1812.8L1596.8 1811.6L1609.4 1811.7L1619.6 1812.7L1632.3 1815.2L1641.2 1818.1L1646.4 1820.6L1650 1823.1L1654.5 1828.2L1656.5 1833.3L1656.6 1835.8L1655.8 1838.4L1652.5 1842.3L1647.5 1845.1L1639.9 1847.3L1632.3 1848.5Z" fill="#f5fc31" fill-rule="evenodd"/>
<path d="M1751.4 1780.1L1723.5 1780.7L1703.2 1779.9L1693.1 1778.3L1672.8 1773.2L1660.1 1770.9L1647.5 1769.8L1624.7 1769.5L1614.5 1768.8L1601.8 1766.8L1591.7 1764.3L1584.1 1761.5L1576.5 1757.4L1573.3 1754.6L1569.4 1749.6L1567.5 1744.5L1566.8 1739.4L1567.1 1731.8L1568.3 1726.7L1570.7 1721.7L1572.4 1719.1L1578.1 1714L1581.6 1712.2L1586.6 1710.4L1596.8 1709L1604.4 1709.1L1617.1 1710.2L1655.1 1715.8L1675.3 1717.9L1695.6 1718.9L1738.7 1719.7L1756.4 1720.8L1774.2 1722.9L1789.4 1725.6L1804.6 1729.2L1817.2 1733.1L1827.3 1736.9L1837.4 1742L1843.9 1747L1845.7 1749.6L1846.7 1752.1L1846.9 1754.6L1846.2 1757.2L1844.3 1759.7L1841 1762.3L1832.5 1766.3L1821.6 1769.9L1807.1 1773.3L1789.4 1776.4L1771.6 1778.5L1751.4 1780.1ZM1632.3 1846.2L1619.6 1847L1606.9 1846.2L1594.2 1843.8L1584.9 1840.9L1579.1 1838.4L1571.6 1833.3L1569.4 1830.8L1568.1 1828.2L1567.8 1825.7L1568.6 1823.2L1571 1820.6L1576.5 1817.9L1586.6 1815.6L1596.8 1814.5L1606.9 1814.2L1617.1 1814.8L1624.7 1815.9L1634.8 1818.6L1642.4 1822.1L1647.2 1825.7L1650.7 1830.8L1651.3 1833.3L1651.1 1835.8L1650 1838.4L1647.6 1840.9L1644.9 1842.5L1639.9 1844.5L1632.3 1846.2Z" fill="#f5fe32" fill-rule="evenodd"/>
<path d="M1769.1 1777.6L1736.2 1779.5L1705.7 1778.8L1693.1 1777.1L1662.7 1770.4L1650 1769.1L1619.6 1767.7L1601.8 1764.8L1592.7 1762.3L1586 1759.7L1579 1755.7L1575 1752.1L1571.7 1747L1570.2 1742L1570 1734.3L1570.8 1729.3L1572.9 1724.2L1574.4 1721.7L1579.6 1716.6L1584.1 1714.1L1589.2 1712.4L1599.3 1711.1L1617.1 1712.1L1655.1 1717.5L1675.3 1719.6L1695.6 1720.6L1736.2 1721.3L1753.9 1722.3L1770.4 1724.2L1785.5 1726.7L1799.5 1730L1813.7 1734.3L1825.8 1739.4L1832.5 1743.3L1837.1 1747L1839.1 1749.6L1840.2 1752.1L1840.4 1754.6L1839.8 1757.2L1838 1759.7L1834.8 1762.3L1829.9 1764.8L1823.5 1767.3L1814.7 1770L1799.5 1773.4L1786.8 1775.5L1769.1 1777.6ZM1629.7 1843.8L1622.1 1844.5L1612 1844.3L1604.4 1843.5L1593.6 1840.9L1586.6 1838.3L1582.2 1835.8L1579 1833.3L1577 1830.8L1576.1 1828.2L1576.6 1825.7L1578.7 1823.2L1583.4 1820.6L1591.7 1818.4L1599.3 1817.5L1609.4 1817.1L1617.1 1817.6L1624.7 1818.8L1631.5 1820.6L1637.3 1823.2L1641 1825.7L1643.4 1828.2L1644.9 1830.8L1645.4 1833.3L1645 1835.8L1643.2 1838.4L1639.9 1840.8L1634.8 1842.7L1629.7 1843.8Z" fill="#f5ff33" fill-rule="evenodd"/>
<path d="M1756.4 1777.5L1728.6 1778.3L1703.2 1777.2L1693.1 1775.8L1670.3 1770.8L1660.1 1769.2L1622.1 1766.3L1601.8 1762.7L1592.2 1759.7L1586.5 1757.2L1581.6 1754.1L1576.9 1749.6L1575.2 1747L1573.5 1742L1573.1 1736.9L1574 1730.3L1575.3 1726.7L1578.6 1721.7L1584.1 1717.4L1591.7 1714.5L1601.8 1713.3L1617.1 1714.1L1657.6 1719.6L1675.3 1721.3L1751.4 1723.8L1766.6 1725.5L1781.8 1728L1794.4 1730.8L1806.4 1734.3L1814.7 1737.5L1823.8 1742L1830.7 1747L1832.7 1749.6L1833.9 1752.1L1834.2 1754.6L1833.7 1757.2L1832 1759.7L1828.7 1762.3L1824.9 1764.3L1817.3 1767.3L1804.6 1770.9L1789.4 1773.8L1774.2 1775.9L1756.4 1777.5ZM1624.7 1841.3L1617.1 1841.7L1609.4 1841.3L1596.5 1838.4L1590.9 1835.8L1587.4 1833.3L1585.5 1830.8L1585.2 1828.2L1586.8 1825.7L1591.1 1823.2L1601.8 1820.7L1615.6 1820.6L1627.8 1823.2L1633.2 1825.7L1636.3 1828.2L1638 1830.8L1638.4 1833.3L1637.5 1835.8L1634.5 1838.4L1629.7 1840.2L1624.7 1841.3Z" fill="#f6ff36" fill-rule="evenodd"/>
<path d="M1771.6 1775L1741.2 1777L1723.5 1777L1708.3 1776.3L1693.1 1774.5L1662.7 1768.6L1624.7 1765L1608.4 1762.3L1599.3 1759.9L1592.1 1757.2L1586.6 1754.3L1581.6 1750.3L1579 1747L1577 1742L1576.5 1736.9L1577.1 1731.8L1579 1726.9L1580.9 1724.2L1586.6 1719.5L1594.2 1716.6L1601.8 1715.6L1619.6 1716.4L1655.1 1721.1L1675.3 1723.1L1695.6 1724L1733.6 1724.6L1751.4 1725.6L1778.5 1729.3L1790 1731.8L1802 1735.4L1812.4 1739.4L1821.3 1744.5L1824.9 1747.6L1827.8 1752.1L1828.2 1754.6L1827.7 1757.2L1826.1 1759.7L1822.8 1762.3L1817.9 1764.8L1811.1 1767.3L1799.5 1770.5L1786.8 1772.9L1771.6 1775ZM1624.7 1836.4L1617.1 1837.7L1606.9 1836.8L1603.3 1835.8L1599.3 1833.8L1596.5 1830.8L1597.3 1828.2L1602.3 1825.7L1612 1824.8L1619.6 1825.6L1626 1828.2L1628.5 1830.8L1628.6 1833.3L1626 1835.8L1624.7 1836.4Z" fill="#f6ff39" fill-rule="evenodd"/>
<path d="M1759 1775L1731.1 1775.9L1703.2 1774.6L1690.5 1772.8L1665.2 1767.9L1627.2 1763.7L1606.9 1759.8L1594.2 1755.5L1588.2 1752.1L1585.1 1749.6L1582.9 1747L1580.7 1742L1580.1 1736.9L1580.9 1731.8L1583.5 1726.7L1585.8 1724.2L1589.2 1721.7L1595.9 1719.1L1604.4 1718L1619.6 1718.6L1657.6 1723.3L1677.9 1725.1L1733.6 1726.3L1751.4 1727.3L1776.7 1730.9L1789.4 1733.8L1799.2 1736.9L1807.1 1740.1L1815 1744.5L1819.8 1748.8L1821.8 1752.1L1822.3 1754.6L1821.9 1757.2L1820.2 1759.7L1816.9 1762.3L1809.6 1765.6L1799.5 1768.8L1786.8 1771.5L1759 1775Z" fill="#f7ff3b" fill-rule="evenodd"/>
<path d="M1771.6 1772.5L1756.4 1773.9L1741.2 1774.6L1723.5 1774.5L1708.3 1773.6L1693.1 1771.8L1662.7 1766.3L1629.7 1762.3L1617.1 1760L1606.9 1757.6L1599.3 1755L1593.4 1752.1L1589.7 1749.6L1586.6 1746.2L1584.6 1742L1584 1736.9L1584.4 1734.3L1586.6 1729L1588.5 1726.7L1591.7 1724.3L1598.1 1721.7L1606.9 1720.4L1622.1 1721.1L1657.6 1725.3L1677.9 1727L1731.1 1728L1748.8 1728.9L1771.6 1731.9L1791.9 1736.9L1802 1740.9L1808.8 1744.5L1812.2 1747.1L1814.5 1749.6L1815.9 1752.1L1816.5 1754.6L1816.1 1757.2L1814.4 1759.7L1811 1762.3L1805.8 1764.8L1798.3 1767.3L1789.4 1769.5L1771.6 1772.5Z" fill="#f8ff45" fill-rule="evenodd"/>
<path d="M1759 1772.5L1733.6 1773.4L1705.7 1772L1690.5 1770L1665.2 1765.4L1632.3 1760.8L1619.6 1758.4L1605.3 1754.6L1599.1 1752.1L1594.9 1749.6L1591.7 1746.8L1588.9 1742L1588.4 1736.9L1588.9 1734.3L1591.7 1729.4L1594.9 1726.7L1601.8 1724L1609.4 1723.1L1624.7 1723.7L1657.6 1727.4L1675.3 1728.9L1731.1 1729.8L1746.3 1730.6L1769.1 1733.5L1779.2 1735.7L1789.4 1738.7L1797.6 1742L1802.4 1744.5L1807.1 1748.2L1810 1752.1L1810.6 1754.6L1810.2 1757.2L1808.6 1759.7L1805 1762.3L1799.5 1764.8L1791.4 1767.3L1779.5 1769.9L1759 1772.5Z" fill="#f9ff53" fill-rule="evenodd"/>
<path d="M1769.1 1769.9L1753.9 1771.5L1741.2 1772L1713.3 1771.1L1695.6 1769.2L1634.8 1759.3L1614.1 1754.6L1606.2 1752.1L1600.8 1749.6L1597.3 1747L1595 1744.5L1593.8 1742L1593.4 1736.9L1594.2 1734.3L1595.9 1731.8L1598.9 1729.3L1604.4 1727.1L1612 1726.1L1627.2 1726.5L1675.3 1731L1728.6 1731.7L1743.8 1732.3L1764 1734.7L1774.7 1736.9L1783.7 1739.4L1795.7 1744.5L1799.6 1747L1802.3 1749.6L1804 1752.1L1804.6 1754.6L1804.3 1757.2L1802.5 1759.7L1798.8 1762.3L1792.8 1764.8L1784.3 1767.2L1769.1 1769.9Z" fill="#faff68" fill-rule="evenodd"/>
<path d="M1753.9 1770.1L1731.1 1770.6L1708.3 1769.1L1693.1 1767.2L1636 1757.2L1615.4 1752.1L1606.9 1748.8L1603.8 1747L1601 1744.5L1599.7 1742L1599.2 1739.4L1599.6 1736.9L1601.1 1734.3L1604.4 1731.8L1609.4 1730.2L1619.6 1729.3L1629.7 1729.6L1675.3 1733.3L1726 1733.6L1744.5 1734.3L1764 1736.9L1775 1739.4L1781.8 1741.6L1788.7 1744.5L1792.9 1747L1795.9 1749.6L1797.7 1752.1L1798.5 1754.6L1798.1 1757.2L1796.3 1759.7L1791.9 1762.4L1785.6 1764.8L1775.1 1767.3L1753.9 1770.1Z" fill="#fbff85" fill-rule="evenodd"/>
<path d="M1764 1767.4L1746.3 1768.9L1728.6 1769L1708.3 1767.5L1690 1764.8L1649.9 1757.2L1626.8 1752.1L1618.7 1749.6L1612.8 1747L1609.2 1744.5L1607.6 1742L1607.5 1739.4L1609.1 1736.9L1614.3 1734.3L1624.7 1733.2L1675.3 1735.9L1723.5 1735.7L1741.2 1736.2L1759 1738.3L1774.2 1742L1781 1744.5L1785.8 1747L1789.1 1749.6L1791.2 1752.1L1792 1754.6L1791.6 1757.2L1789.6 1759.7L1786.8 1761.3L1777.5 1764.8L1764 1767.4Z" fill="#fcffa3" fill-rule="evenodd"/>
<path d="M1746.3 1767.3L1731.1 1767.4L1718.4 1766.6L1702.7 1764.8L1688.2 1762.3L1642.3 1752.1L1632.8 1749.6L1626 1747L1622 1744.5L1621.3 1742L1624.7 1739.3L1634.8 1738L1672.8 1738.9L1723.5 1738L1743.8 1738.7L1759 1740.9L1772.2 1744.5L1777.9 1747L1781.7 1749.6L1784 1752.1L1785 1754.6L1784.6 1757.2L1782.3 1759.7L1777.1 1762.3L1764 1765.4L1746.3 1767.3Z" fill="#fdffc2" fill-rule="evenodd"/>
<path d="M1753.9 1764.8L1741.2 1765.6L1728.6 1765.4L1718.4 1764.6L1701.7 1762.3L1689.7 1759.7L1671.8 1754.6L1655.9 1749.6L1651 1747L1654 1744.5L1660.1 1743.9L1710.8 1740.9L1736.2 1740.8L1749.5 1742L1761.6 1744.5L1769.1 1747.2L1773.3 1749.6L1776 1752.1L1777.1 1754.6L1776.7 1757.2L1773.9 1759.7L1767.5 1762.3L1753.9 1764.8Z" fill="#feffdd" fill-rule="evenodd"/>
<path d="M1753.9 1762.3L1743.8 1763.2L1733.6 1763.3L1719.1 1762.3L1710.8 1760.9L1704.8 1759.7L1696.1 1757.2L1690.1 1754.6L1686 1752.1L1685.2 1749.6L1690.8 1747L1705.7 1744.7L1721 1743.7L1733.6 1743.6L1745.2 1744.5L1753.9 1746.2L1763.1 1749.6L1766.6 1752.1L1767.8 1754.6L1767.2 1757.2L1763.6 1759.7L1753.9 1762.3Z" fill="#fffff4" fill-rule="evenodd"/>
<path d="M1465 1738.7L1471.8 1724.2L1481 1698.8L1485.2 1688.7L1491.5 1676L1499 1663.3L1515.7 1638.5L1528.4 1621.4L1533.4 1616L1538.5 1612L1541 1610.7L1546.1 1609.3L1551.2 1609.6L1556.2 1611.4L1563.8 1615.9L1574 1623.8L1579 1629L1581.6 1632.4L1590.5 1648.1L1595.7 1655.7L1599.3 1659.4L1601.8 1661.2L1606.9 1662.9L1609.4 1662.9L1614.5 1661.1L1627.2 1652.6L1632.3 1651.2L1637.3 1651.5L1665.2 1656.6L1677.9 1657.9L1693.1 1658.7L1708.3 1658.9L1774.2 1658.2L1807.1 1659.6L1867.9 1659.6L1903.4 1661.4L1913.5 1662.3L1921.2 1663.5L1928.8 1665.1L1938.9 1668.1L1949 1672L1956.6 1675.7L1964.2 1680.4L1969.3 1684.2M1969.3 1796.1L1954.1 1809.1L1946.5 1814.7L1938.9 1817.8L1931.3 1819.1L1911 1820.1L1885.7 1819.4L1871.4 1818.1L1842.6 1813.7L1829.9 1812.8L1817.2 1812.6L1802 1813.4L1789.4 1815L1778.4 1818.1L1775.1 1820.6L1775.2 1823.2L1778.7 1825.7L1789.4 1829.1L1835 1837.3L1852.7 1839.8L1870.5 1841.1L1888.2 1841.6L1908.5 1841.4L1949 1840.2L1969.3 1840.9M1969.3 1879.4L1944 1881.7L1921.2 1882.3L1903.4 1881.7L1847.7 1877.4L1824.9 1876.9L1804.6 1877.4L1783.3 1879L1766.6 1881.1L1731.1 1888.1L1713.3 1890.5L1675.3 1893.4L1637.3 1894.7L1561.3 1893.5L1543.6 1893.9L1513.1 1895.5L1500.5 1895.4L1490.3 1894.3L1482.7 1892.7L1475.1 1890.2L1465 1885.3M1465 1797L1471.3 1785.1L1490.3 1755.8L1496.5 1744.5L1501.1 1731.8L1506.3 1709L1509.3 1698.8L1513.5 1688.7L1517.7 1681.1L1525.8 1670.3L1530.9 1665.3L1536 1661.4L1541 1658.3L1546.1 1656.1L1551.2 1654.7L1556.2 1653.9L1561.3 1653.8L1568.9 1654.4L1579 1656.8L1584.1 1659.2L1599.3 1669.9L1604.4 1672L1606.9 1672.4L1612 1672.4L1624.7 1669.9L1629.7 1669.8L1660.1 1675L1680.4 1676.9L1700.7 1677.4L1753.9 1676.9L1781.8 1677.6L1880.6 1682.6L1893.3 1683.8L1905.9 1685.8L1918.6 1689.3L1928.8 1693.4L1937.9 1698.8L1946.5 1706.1L1953.1 1714L1957.6 1721.7L1961.6 1731.8L1963.6 1742L1963.6 1752.1L1962.1 1759.7L1958.6 1767.3L1954.9 1772.4L1949 1778.3L1941.4 1783.8L1933.8 1788L1923.7 1792.2L1908.5 1796.4L1893.3 1798.7L1880.6 1799.7L1819.8 1802.8L1797 1804.9L1779.2 1807.1L1764 1810.1L1755 1813L1748.8 1816.6L1747.2 1818.1L1746 1820.6L1746.2 1823.2L1747.7 1825.7L1750.5 1828.2L1754.5 1830.8L1766.6 1836L1784.3 1841.1L1812.2 1846.8L1835 1850L1860.3 1852.2L1896.3 1853.6L1916.1 1855.8L1925.2 1858.7L1926 1861.2L1920.3 1863.8L1911 1865.2L1899.2 1866.3L1845.1 1867.5L1809.6 1869.5L1718.4 1877.5L1682.9 1879.9L1644.9 1881.4L1612 1881.1L1589.2 1879.8L1528.4 1874.8L1513.1 1873.1L1503 1871.2L1490.3 1867.4L1480.2 1862.2L1472.3 1856.1L1467.7 1851.1L1465 1847.4M1663.2 1795.2L1666.1 1792.7L1666.5 1790.2L1665 1787.6L1661 1785.1L1655.1 1783.6L1647.5 1783.4L1642.4 1784.6L1639.9 1785.8L1637.5 1787.6L1636.7 1790.2L1637.9 1792.7L1639.9 1794.2L1642.4 1795.6L1647.5 1797L1655.1 1797.4L1660.1 1796.4L1663.2 1795.2M1672.8 1871.4L1637.3 1872.7L1606.9 1871.8L1574 1868.5L1536 1862.7L1517.2 1858.7L1509 1856.1L1502.8 1853.6L1495.4 1849.4L1491 1846L1487.8 1842.8L1484.6 1838.4L1481.2 1830.8L1480.1 1823.2L1480.7 1815.5L1483.4 1805.4L1486.6 1797.8L1492 1787.6L1508.8 1762.3L1513.1 1754.7L1515.5 1749.6L1519.6 1736.9L1523.2 1716.6L1524.9 1709L1527.5 1701.4L1529.8 1696.3L1532.8 1691.2L1536.7 1686.1L1541 1681.8L1545.5 1678.5L1551.2 1675.4L1558.8 1672.9L1566.4 1671.8L1574 1671.7L1584.1 1673.2L1599.3 1679.2L1604.4 1680.6L1609.4 1681.3L1627.2 1681.7L1652.5 1686.3L1670.3 1688.5L1693.1 1689.8L1746.3 1689.8L1774.2 1690.8L1797 1692.4L1880.6 1700.5L1890.7 1702.1L1900.9 1704.5L1908.5 1707.2L1916.1 1710.8L1921.3 1714L1927.5 1719.1L1932 1724.2L1936.4 1730.9L1938.9 1736.9L1940.6 1744.5L1940.5 1752.1L1939.5 1757.2L1937.3 1762.3L1933.5 1767.3L1927.8 1772.4L1921.2 1776.5L1913.5 1779.9L1905.9 1782.5L1888.2 1786.3L1870.5 1788.5L1800.4 1795.2L1764 1799.3L1741.2 1802.9L1728.6 1806.5L1725.2 1807.9L1721.3 1810.5L1718.4 1813.9L1717.1 1818.1L1717.2 1820.6L1719 1825.7L1723.5 1831.7L1731.1 1838.3L1738.7 1843.1L1753.3 1851.1L1756.9 1853.6L1758.7 1856.1L1757.9 1858.7L1753.2 1861.2L1746.3 1863.1L1728.6 1866.2L1705.3 1868.8L1672.8 1871.4M1664.3 1800.3L1671 1797.8L1673.9 1795.2L1674.8 1792.7L1674.5 1790.2L1672.9 1787.6L1670 1785.1L1665 1782.6L1660.1 1781.1L1655.1 1780.2L1644.9 1780.3L1635.8 1782.6L1631.4 1785.1L1629.3 1787.6L1628.7 1790.2L1629.5 1792.7L1631.8 1795.2L1637.3 1798.4L1642.4 1800L1650 1801.2L1657.6 1801.3L1664.3 1800.3M1655.1 1863.8L1632.3 1864.6L1608.2 1863.8L1585.7 1861.2L1561.3 1856.7L1539.5 1851.1L1531.8 1848.5L1523.3 1845L1515.9 1840.9L1512.5 1838.4L1509.8 1835.8L1505.9 1830.8L1503.7 1825.7L1502.6 1818.1L1503.5 1810.5L1505.6 1802.9L1508.1 1796.9L1511.6 1790.2L1527.2 1767.3L1531.1 1759.7L1532.8 1754.6L1534.6 1747L1539 1719.1L1541.2 1711.5L1543.3 1706.4L1548.6 1698.4L1553.5 1693.7L1557.3 1691.2L1562.7 1688.7L1568.9 1686.8L1576.5 1685.8L1584.1 1685.9L1589.2 1686.6L1604.4 1689.8L1624.7 1692.1L1652.5 1697L1670.3 1699.2L1695.6 1700.7L1756.4 1701.6L1776.7 1703L1799.5 1705.6L1865.4 1715.9L1878.1 1718.4L1885.7 1720.4L1895.8 1724.1L1903.4 1728.4L1910.1 1734.3L1913.7 1739.4L1914.8 1742L1916.1 1747L1916 1752.1L1915.5 1754.6L1913.2 1759.7L1911.2 1762.3L1905.9 1766.6L1898.3 1770.6L1885.7 1774.9L1873 1777.7L1852.7 1781L1799.5 1787.9L1728.6 1794.7L1698.1 1798.4L1693.1 1798L1690.5 1796.8L1684.7 1790.2L1678.8 1785.1L1670.3 1780.7L1662.7 1778.4L1655.1 1777.2L1644.9 1777L1634.8 1778.6L1627.2 1781.1L1624.2 1782.6L1620.8 1785.1L1619 1787.6L1618.5 1790.2L1619.3 1792.7L1621.2 1795.2L1624.5 1797.8L1629.2 1800.3L1637.3 1803.2L1647.5 1805.2L1660.1 1806.2L1680.4 1805.9L1682.9 1806.4L1685.5 1807.8L1687.4 1810.5L1693 1823.2L1703 1840.9L1705.2 1846L1705.5 1848.5L1704.9 1851.1L1703.2 1853L1698.2 1856.1L1695.6 1857.1L1690.5 1858.7L1677.9 1861.2L1655.1 1863.8M1756.4 1785.3L1718.4 1787L1708.3 1787L1700.7 1786.4L1690.5 1784L1677.9 1779L1670.3 1776.5L1660.1 1774.4L1652.5 1773.6L1637.3 1773.8L1612 1777.5L1604.4 1778.1L1596.8 1777.8L1586.6 1776.7L1576.5 1775.3L1568.9 1773.6L1563.8 1771.5L1559.1 1767.3L1556.2 1762.8L1554.1 1757.2L1552.6 1749.6L1552.3 1742L1553.2 1729.3L1554.8 1721.7L1556.7 1716.6L1559.7 1711.5L1561.8 1709L1566.4 1704.9L1571.4 1702L1576.5 1700.2L1586.6 1698.6L1596.8 1698.9L1617.1 1701.3L1652.5 1707L1675.3 1709.6L1698.1 1710.8L1741.2 1711.5L1761.5 1712.7L1781.8 1714.9L1802 1718.2L1827.4 1723.8L1850.2 1730L1863.1 1734.3L1873.5 1739.4L1877 1742L1879.6 1744.5L1881.2 1747L1882.1 1749.6L1882.3 1752.1L1881.9 1754.6L1880.7 1757.2L1878.6 1759.7L1875.2 1762.3L1870.4 1764.8L1855.9 1769.9L1834.8 1774.9L1809.6 1779.4L1784.3 1782.8L1756.4 1785.3M1652.5 1853.9L1642.4 1855.2L1629.7 1856L1619.6 1855.9L1606.9 1855.1L1595.1 1853.6L1582 1851.1L1572.3 1848.5L1561.3 1844.9L1552 1840.9L1543.6 1836.2L1539.7 1833.3L1534.7 1828.2L1531.8 1823.2L1530.5 1818.1L1530.5 1813L1531.7 1807.9L1533.4 1804.1L1535.9 1800.3L1541 1795.5L1546.1 1792.9L1548.6 1792.2L1553.7 1791.8L1558.8 1792.6L1578.5 1797.8L1606.9 1801.5L1652.8 1813L1657.6 1814.7L1663.9 1818.1L1666.7 1820.6L1670.7 1825.7L1674.4 1833.3L1675.3 1838.4L1675.1 1840.9L1674.2 1843.5L1672.3 1846L1669.1 1848.5L1662.7 1851.4L1652.5 1853.9M1769.1 1777.6L1751.4 1779L1736.2 1779.5L1718.4 1779.4L1705.7 1778.8L1693.1 1777.1L1670.3 1771.8L1662.7 1770.4L1650 1769.1L1619.6 1767.7L1601.8 1764.8L1592.7 1762.3L1586 1759.7L1579 1755.7L1575 1752.1L1571.7 1747L1570.2 1742L1570 1734.3L1570.8 1729.3L1572.9 1724.2L1574.4 1721.7L1576.6 1719.1L1579.6 1716.6L1584.1 1714.1L1589.2 1712.4L1599.3 1711.1L1606.9 1711.2L1617.1 1712.1L1655.1 1717.5L1675.3 1719.6L1695.6 1720.6L1736.2 1721.3L1753.9 1722.3L1770.4 1724.2L1785.5 1726.7L1799.5 1730L1813.7 1734.3L1825.8 1739.4L1832.5 1743.3L1837.1 1747L1839.1 1749.6L1840.2 1752.1L1840.4 1754.6L1839.8 1757.2L1838 1759.7L1834.8 1762.3L1829.9 1764.8L1823.5 1767.3L1814.7 1770L1799.5 1773.4L1786.8 1775.5L1769.1 1777.6M1629.7 1843.8L1622.1 1844.5L1612 1844.3L1604.4 1843.5L1593.6 1840.9L1586.6 1838.3L1582.2 1835.8L1579 1833.3L1577 1830.8L1576.1 1828.2L1576.6 1825.7L1578.7 1823.2L1583.4 1820.6L1591.7 1818.4L1599.3 1817.5L1609.4 1817.1L1617.1 1817.6L1624.7 1818.8L1631.5 1820.6L1637.3 1823.2L1641 1825.7L1643.4 1828.2L1644.9 1830.8L1645.4 1833.3L1645 1835.8L1643.2 1838.4L1639.9 1840.8L1634.8 1842.7L1629.7 1843.8M1769.1 1769.9L1753.9 1771.5L1741.2 1772L1728.6 1772L1713.3 1771.1L1695.6 1769.2L1662.7 1763.5L1634.8 1759.3L1614.1 1754.6L1606.2 1752.1L1600.8 1749.6L1597.3 1747L1595 1744.5L1593.8 1742L1593.4 1736.9L1594.2 1734.3L1595.9 1731.8L1598.9 1729.3L1604.4 1727.1L1612 1726.1L1627.2 1726.5L1660.1 1729.9L1675.3 1731L1728.6 1731.7L1743.8 1732.3L1764 1734.7L1774.7 1736.9L1783.7 1739.4L1790.5 1742L1795.7 1744.5L1799.6 1747L1802.3 1749.6L1804 1752.1L1804.6 1754.6L1804.3 1757.2L1802.5 1759.7L1798.8 1762.3L1792.8 1764.8L1784.3 1767.2L1769.1 1769.9" fill="none" stroke="#4d4d4d" stroke-width="1" stroke-linejoin="round"/>
</g>
<text x="1732.9" y="1763.8" font-size="22" text-anchor="start" font-weight="bold" fill="#000">Ru-M</text>
<text x="1592.1" y="1845.1" font-size="22" text-anchor="start" font-weight="bold" fill="#000">Ru-O</text>
<path d="M1465 1906.9v8M1633.1 1906.9v8M1801.2 1906.9v8M1969.3 1906.9v8M1549 1906.9v4.5M1717.2 1906.9v4.5M1885.2 1906.9v4.5M1465 1906.9h-8M1465 1850.7h-8M1465 1794.4h-8M1465 1738.2h-8M1465 1681.9h-8M1465 1625.7h-8M1465 1569.4h-8M1465 1878.8h-4.5M1465 1822.5h-4.5M1465 1766.3h-4.5M1465 1710h-4.5M1465 1653.8h-4.5M1465 1597.5h-4.5" stroke="#000" stroke-width="1.6" fill="none"/>
<rect x="1465" y="1569.4" width="504.3" height="337.5" fill="none" stroke="#000" stroke-width="1.6"/>
<text x="1465" y="1937.4" font-size="23" text-anchor="middle" font-weight="bold" fill="#000">0</text>
<text x="1633.1" y="1937.4" font-size="23" text-anchor="middle" font-weight="bold" fill="#000">5</text>
<text x="1801.2" y="1937.4" font-size="23" text-anchor="middle" font-weight="bold" fill="#000">10</text>
<text x="1969.3" y="1937.4" font-size="23" text-anchor="middle" font-weight="bold" fill="#000">15</text>
<text x="1452.5" y="1913.6" font-size="23" text-anchor="end" font-weight="bold" fill="#000">1.0</text>
<text x="1452.5" y="1857.4" font-size="23" text-anchor="end" font-weight="bold" fill="#000">1.5</text>
<text x="1452.5" y="1801.1" font-size="23" text-anchor="end" font-weight="bold" fill="#000">2.0</text>
<text x="1452.5" y="1744.9" font-size="23" text-anchor="end" font-weight="bold" fill="#000">2.5</text>
<text x="1452.5" y="1688.6" font-size="23" text-anchor="end" font-weight="bold" fill="#000">3.0</text>
<text x="1452.5" y="1632.4" font-size="23" text-anchor="end" font-weight="bold" fill="#000">3.5</text>
<text x="1452.5" y="1576.1" font-size="23" text-anchor="end" font-weight="bold" fill="#000">4.0</text>
<text x="1719.4" y="1964.7" font-size="25" text-anchor="middle" font-weight="bold" fill="#000">k (&#197;<tspan font-size="15" dy="-11">-1</tspan><tspan dy="11" font-size="1">&#8203;</tspan>)</text>
<text transform="translate(1400.5 1738.2) rotate(-90)" font-size="24.5" text-anchor="middle" font-weight="bold">Radial distance (&#197;)</text>
</svg>
</body>
</html>
